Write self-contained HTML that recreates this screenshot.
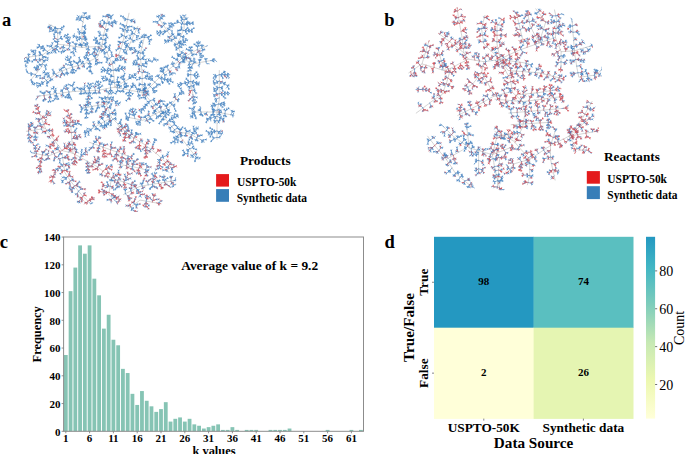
<!DOCTYPE html>
<html><head><meta charset="utf-8"><style>
*{margin:0;padding:0}
html,body{width:685px;height:454px;overflow:hidden;background:#fff}
svg{display:block}
text{font-family:"Liberation Serif",serif;font-weight:bold;fill:#000}
.tk{font-size:11px}
.pl{font-size:18.5px}
.av{font-size:13.3px}
.ax{font-size:12.4px}
.ann{font-size:11px}
.dl{font-size:13.3px}
.dx{font-size:15.2px}
.cbt{font-size:14px;font-weight:normal}
.lt{font-size:13.3px}
.li{font-size:12.6px}
</style></head>
<body><svg width="685" height="454" viewBox="0 0 685 454">
<defs><filter id="bl" x="0" y="0" width="1" height="1"><feGaussianBlur stdDeviation="0.45"/></filter></defs><g fill="none" stroke-linecap="round" filter="url(#bl)">
<path d="M115.0 87.1l-0.2-2.1-0.2-2.1-0.3-2.1-0.2-2.1-0.2-2.1-0.2-2.1-0.2-2.1-0.3-2.1-0.2-2.1-0.2-2.1-0.8-1.9-0.8-2.0-0.9-1.9-0.8-1.9-0.8-1.9-0.9-2.0-0.8-1.9-0.8-1.9-1.5-1.5-1.4-1.4-1.5-1.5 0.4-2.2 0.3-2.2 0.4-2.2 0.4-2.2 0.3-2.2 0.4-2.2 0.5-1.9 0.6-2.0 0.6-1.9 0.5-1.9 0.6-2.0 0.5-1.9 0.6-2.0 0.5-1.9M101.8 46.3l-2.2 0.1-2.2 0.1-2.2 0.2-2.2 0.1-2.3 0.1-2.2 0.1-2.2 0.2-2.2 0.1-2.2 0.1-2.0-0.3-2.0-0.2-2.0-0.3-2.1-0.3-2.0-0.3-2.0-0.2-2.0-0.3-2.0-0.3-2.0-0.3-2.1-0.3-2.0-0.2-2.0-0.3-1.7 1.2-1.7 1.2-1.7 1.3-1.7 1.2-1.8 1.2-1.7 1.2-1.7 1.3-1.7 1.2-1.7 1.2-2.2 0.3-2.2 0.3-2.2 0.3-2.3 0.4-2.2 0.3-2.2 0.3-2.2 0.3M81.9 47.4l0.0-2.1 0.0-2.1 0.0-2.0 0.0-2.1 0.0-2.1 0.0-2.1 0.0-2.0 0.0-2.1 0.0-2.1 0.4-2.2 0.3-2.2 0.4-2.2 0.4-2.3 0.3-2.2 0.4-2.2M57.7 44.1l0.0-2.2 0.0-2.2 0.0-2.2 0.0-2.2 0.0-2.2 0.0-2.2 0.0-2.2-2.2-1.1-2.2-1.1-2.2-1.1-2.2-1.1M42.3 55.1l0.0 2.2 0.0 2.2 0.0 2.2 0.0 2.2 0.0 2.2-1.4 1.7-1.4 1.6-1.4 1.7-1.3 1.7-1.4 1.6-1.4 1.7-1.4 1.6-1.4 1.7M101.8 46.3l-0.9 2.2-0.9 2.2-0.8 2.2-0.9 2.2-0.9 2.2-1.9 0.9-1.9 1.0-1.9 0.9-1.9 1.0-1.9 0.9-1.9 1.0-1.9 0.9-1.9 0.6-2.0 0.5-1.9 0.5-1.9 0.6-1.9 0.5-2.0 0.6-1.9 0.6-1.9 0.5-2.2 0.9-2.2 0.9-2.2 0.9-2.2 0.9-2.2 0.9-1.9 1.3-1.9 1.2-1.9 1.3-1.8 1.2-1.9 1.3-1.9 1.2-1.9 1.3M115.0 87.1l-2.2 0.4-2.2 0.4-2.2 0.4-2.2 0.5-2.2 0.4-2.2 0.4-2.2 0.4-2.2 0.4-2.0 0.1-2.0 0.1-2.1 0.1-2.0 0.1-2.0 0.1-2.1 0.1-2.0 0.0-2.0 0.1-2.0 0.1-2.1 0.1-2.0 0.1-2.0 0.1-2.1 0.3-2.0 0.2-2.1 0.3-2.1 0.3-2.0 0.3-2.1 0.3-2.1 0.2-2.1 0.3-2.0 0.3-2.1 0.2-2.1 0.3-2.0 0.3-2.1 0.3-2.1 0.3-2.0 0.2-2.1 0.3M115.0 87.1l1.9-1.1 1.8-1.1 1.9-1.1 1.8-1.1 1.9-1.1 1.8-1.1 1.9-1.1M115.0 87.1l2.1 0.4 2.1 0.5 2.0 0.4 2.1 0.4 2.1 0.5 2.0 0.4 2.1 0.5 2.1 0.4 2.0 0.3 2.0 0.4 2.0 0.3 1.9 0.3 2.0 0.4 2.0 0.3 1.8-1.5 1.7-1.5 1.8-1.5 1.5-1.5 1.5-1.4 1.4-1.5 1.5-1.5 1.5-1.4 1.5-1.5 1.4-1.5 1.5-1.4 1.5-1.5 1.6-1.3 1.5-1.2 1.6-1.3 1.6-1.2 1.6-1.3 1.5-1.2 1.6-1.3 1.8-1.5 1.7-1.6 1.8-1.5 1.7-1.6 1.8-1.5-0.6-2.0-0.7-2.1-0.6-2.0-0.6-2.1-0.6-2.0-0.7-2.1-0.6-2.0-1.3-1.6-1.2-1.6-1.3-1.6-1.2-1.5-1.3-1.6-1.2-1.6-1.3-1.6-1.3-1.9-1.2-1.9-1.3-1.9-1.2-1.8-1.3-1.9-1.2-1.9-1.3-1.9M177.5 44.1l0.8-1.9 0.9-2.0 0.8-1.9 0.8-1.9 0.8-2.0 0.8-1.9 0.9-2.0 0.8-1.9 0.0-2.2 0.0-2.2 0.0-2.2 0.0-2.2 0.0-2.2M181.9 58.4l1.9-1.1 1.9-1.1 1.9-1.1 1.8-1.1 1.9-1.1 1.9-1.1 1.9-1.1 2.2-0.9 2.2-0.9 2.2-0.8 2.2-0.9 2.2-0.9M181.9 58.4l1.8 0.9 1.9 0.9 1.8 0.9 1.8 1.0 1.9 0.9 1.8 0.9 2.2-0.4 2.2-0.4 2.2-0.4 2.2-0.5 2.2-0.4 2.2-0.4 2.2-0.4 2.2-0.4M190.7 70.0l0.0 2.3 0.0 2.3 0.0 2.2 0.0 2.3 0.0 2.3 0.0 2.3 0.4 2.2 0.5 2.2 0.4 2.2 0.5 2.2 0.4 2.2M142.2 94.7l0.0-2.0 0.0-2.0 0.0-2.0 0.0-2.0 0.0-2.0 0.0-2.0 0.0-2.0 0.0-2.0 0.0-2.0 0.0-2.0 0.0-2.0-0.3-2.2-0.3-2.2-0.2-2.2-0.3-2.2-0.3-2.2-0.2-2.2-0.3-2.2-0.3-2.2 0.5-2.0 0.5-1.9 0.5-2.0 0.5-2.0 0.4-1.9 0.5-2.0 0.5-2.0 0.5-1.9 0.5-2.0M129.0 13.2l-0.4 2.1-0.5 2.0-0.4 2.1-0.5 2.0-0.4 2.1-0.4 2.1-0.5 2.0-0.4 2.1-0.5 2.0-0.4 2.1-0.4 2.1-0.5 2.0-0.4 2.1-0.5 2.0-0.4 2.1-0.7 2.2-0.8 2.2-0.7 2.2-0.7 2.2-0.8 2.2-0.7 2.2M137.8 26.4l-0.8 1.9-0.9 1.8-0.8 1.9-0.9 1.9-0.8 1.8-0.9 1.9-0.8 1.9-0.9 1.9-0.8 1.8-0.9 1.9-0.8 1.9-0.9 1.8-0.8 1.9M219.3 70.5l0.0 2.1 0.0 2.1 0.0 2.1 0.0 2.1 0.0 2.1 0.0 2.1 0.0 2.1 0.0 2.2 0.0 2.1 0.0 2.1 0.0 2.1 0.0 2.1 0.0 2.1 0.0 2.1-0.4 2.0-0.4 2.0-0.3 2.0-0.4 2.0-0.4 2.0-0.4 2.0 0.0 2.1 0.0 2.1 0.0 2.1 0.0 2.2 0.0 2.1 0.0 2.1 0.0 2.1 0.0 2.1 0.0 2.1 0.0 2.2 0.0 2.1 0.0 2.1 0.0 2.1M217.0 112.0l-2.0 0.0-2.0 0.0-2.0 0.0-2.0 0.0-2.0 0.0-2.0 0.0-2.0 0.0-2.0 0.0-2.0 0.0-2.0 0.0-2.0 0.0M217.0 112.0l2.0 0.4 2.0 0.4 2.0 0.4 1.9 0.4 2.0 0.4 2.0 0.4 2.0 0.4M143.5 92.6l1.3 1.6 1.3 1.6 1.3 1.6 1.4 1.7 1.3 1.6 1.3 1.6 1.3 1.6 1.3 1.6 1.4 1.7 1.3 1.6 1.3 1.6 1.3 1.6 1.4 1.6 1.4 1.6 1.3 1.6 1.4 1.6 1.4 1.6 1.4 1.7 1.3 1.6 1.4 1.6 1.4 1.6 1.4 1.6 1.3 1.6 1.4 1.6 1.4 1.7 1.4 1.7 1.3 1.7 1.4 1.8 1.4 1.7 1.4 1.7 1.3 1.7 1.4 1.7 1.4 1.8 1.4 1.9 1.3 1.8 1.4 1.8 1.4 1.9 1.4 1.8M159.3 112.0l-1.8 0.9-1.9 0.9-1.8 1.0-1.8 0.9-1.9 0.9-1.8 0.9-1.8 1.0-1.9 0.9-1.8 0.9-2.0-0.4-1.9-0.4-2.0-0.4-2.0-0.4-2.0-0.4-1.9-0.4-2.0-0.4M175.8 131.3l2.0 0.4 1.9 0.4 2.0 0.4 2.0 0.3 2.0 0.4 1.9 0.4 2.0 0.4 1.8 0.9 1.9 0.9 1.8 1.0 1.8 0.9 1.9 0.9 1.8 0.9M159.3 112.0l1.8-0.9 1.9-0.9 1.8-1.0 1.8-0.9 1.9-0.9 1.8-0.9 1.4-1.8 1.4-1.9 1.3-1.8 1.4-1.8 1.4-1.9 1.4-1.8M108.8 92.8l-0.6 2.2-0.5 2.2-0.6 2.2-0.5 2.2-0.6 2.2 0.8 2.0 0.8 1.9 0.8 2.0 0.7 1.9 0.8 2.0 0.8 1.9 0.8 2.0 1.6 1.6 1.5 1.5 1.6 1.6 1.6 1.6 1.6 1.6 1.5 1.5 1.6 1.6 1.8 1.8 1.9 1.9 1.8 1.8M106.0 103.8l-2.0 0.4-2.0 0.3-2.0 0.4-2.0 0.4-2.0 0.4-2.0 0.3-2.0 0.4-2.0 0.4-2.0 0.4-2.0 0.3-2.0 0.4M111.5 117.5l-1.7 1.0-1.8 1.0-1.7 1.0-1.8 1.0-1.7 1.0-1.8 1.0-1.7 1.0-1.8 1.0-1.7 1.0-1.8 1.0-1.7 1.0M26.3 131.3l2.1-0.3 2.2-0.3 2.1-0.3 2.1-0.3 2.2-0.4 2.1-0.3 2.1-0.3 2.2-0.3 2.1-0.3 1.3 1.7 1.2 1.7 1.3 1.7 1.3 1.7 1.2 1.7 1.3 1.7 1.3 1.6 1.3 1.7 1.2 1.7 1.3 1.7 1.3 1.7 1.2 1.7 1.3 1.7 2.2 0.6 2.2 0.5 2.2 0.6 2.2 0.5 2.2 0.6 1.8 1.0 1.7 1.0 1.8 0.9 1.8 1.0 1.8 1.0 1.7 1.0 1.8 1.0 1.8 0.9 1.7 1.0 1.8 1.0 1.8 1.0 1.8 0.9 1.7 1.0 1.8 1.0 1.7 1.4 1.7 1.4 1.7 1.3 1.8 1.4 1.7 1.4 1.7 1.3 1.7 1.4 1.7 1.4 2.1 0.7 2.0 0.7 2.1 0.7 2.1 0.7 2.0 0.6 2.1 0.7 2.0 0.7 2.1 0.7M62.0 150.5l-2.0 0.8-1.9 0.8-2.0 0.8-1.9 0.7-2.0 0.8-1.9 0.8-2.0 0.8-2.0-0.4-1.9-0.4-2.0-0.4-2.0-0.3-2.0-0.4-1.9-0.4-2.0-0.4M62.0 153.3l0.3 2.1 0.3 2.2 0.3 2.1 0.3 2.1 0.4 2.2 0.3 2.1 0.3 2.1 0.3 2.2 0.3 2.1 1.4 2.1 1.3 2.1 1.4 2.0 1.4 2.1 1.4 1.7 1.3 1.7 1.4 1.7 1.4 1.8 1.4 1.7 1.3 1.7 1.4 1.7 1.4 1.7 1.6 1.7 1.7 1.6 1.6 1.7 1.7 1.6 1.6 1.7M45.5 128.5l-0.8-2.0-0.8-1.9-0.8-2.0-0.7-1.9-0.8-2.0-0.8-1.9-0.8-2.0M73.0 153.3l-0.2-2.1-0.1-2.0-0.2-2.1-0.2-2.0-0.1-2.1-0.2-2.1-0.2-2.0-0.1-2.1-0.2-2.1-0.2-2.0-0.2-2.1-0.1-2.0-0.2-2.1-0.2-2.1-0.1-2.0-0.2-2.1M89.5 142.3l1.9 0.7 1.9 0.7 2.0 0.7 1.9 0.6 1.9 0.7 1.9 0.7 2.0 0.7 1.9 0.7 1.9 0.7 2.0 0.7 1.9 0.6 1.9 0.7 1.9 0.7 2.0 0.7 1.9 0.7 1.9 0.7 1.9 0.6 2.0 0.7 1.9 0.7 1.9 0.7M111.5 178.0l-0.3 2.1-0.4 2.0-0.3 2.1-0.3 2.0-0.4 2.1-0.3 2.1-0.4 2.0-0.3 2.1 1.8 1.8 1.9 1.9 1.8 1.8M118.0 125.8l1.7 1.4 1.8 1.4 1.7 1.3 1.7 1.4 1.7 1.4 1.8 1.4 1.7 1.3 1.7 1.4 2.0 1.2 1.9 1.1 2.0 1.2 1.9 1.2 2.0 1.2 1.9 1.1 2.0 1.2 1.7 1.4 1.7 1.4 1.8 1.3 1.7 1.4 1.7 1.4 1.8 1.3 1.7 1.4 1.7 1.4 1.6 1.6 1.5 1.5 1.6 1.6 1.6 1.6 1.6 1.6 1.5 1.5 1.6 1.6M118.0 164.3l2.1 0.3 2.0 0.4 2.1 0.3 2.0 0.4 2.1 0.3 2.1 0.3 2.0 0.4 2.1 0.3 2.2 0.6 2.2 0.5 2.2 0.6 2.2 0.5 2.2 0.6M123.5 194.6l1.8-0.9 1.9-0.9 1.8-1.0 1.8-0.9 1.9-0.9 1.8-0.9 1.8-1.0 1.9-0.9 1.8-0.9 2.1-0.3 2.0-0.4 2.1-0.3 2.0-0.4 2.1-0.3 2.1-0.3 2.0-0.4 2.1-0.3 2.1-0.4 2.0-0.3 2.1-0.3 2.1-0.4 2.0-0.4 2.1-0.3 2.0-0.3 2.1-0.4M129.0 208.4l1.8-1.4 1.9-1.4 1.8-1.4 1.8-1.3 1.9-1.4 1.8-1.4 2.1 0.3 2.0 0.4 2.1 0.4 2.0 0.3 2.1 0.3 2.1 0.4 2.0 0.4 2.1 0.3" stroke="#a8a8a8" stroke-width="0.5" stroke-opacity="1"/>
<path d="M114.6 82.9l-1.4-0.6-1.4-0.6-1.3-0.6-1.4-0.7-1.4-0.6-1.4-0.6-1.4-0.5-1.4-0.5M114.6 82.9l1.3-0.7 1.3-0.8M113.9 76.6l-1.5-0.3-1.5-0.2M113.2 70.3l-1.5 0.1-1.5 0.0-1.5 0.0-1.5-0.1-1.5 0.0-1.5 0.0-1.5 0.1M113.2 70.3l1.5-0.3 1.5-0.3 1.4-0.3 1.5-0.3 1.5-0.2 1.5-0.2 1.5-0.2M112.0 64.2l0.9-1.2 1.0-1.1 1.1-1.1M109.5 58.4l-1.4 0.4-1.5 0.5M109.5 58.4l1.2-0.9 1.1-1.0M107.0 52.6l0.9-1.2 1.0-1.1 1.0-1.1M107.0 52.6l-1.5 0.2-1.4 0.3M104.7 49.2l-1.3 0.6-1.4 0.7M104.7 49.2l0.7-1.3 0.8-1.3M101.8 46.3l-1.1-1.1-1.0-1.1-1.0-1.0-1.1-1.0-1.1-1.1-1.1-1.0M102.2 44.1l1.5 0.2 1.4 0.2M102.9 39.7l1.5 0.0 1.5 0.0M102.9 39.7l-1.4-0.6-1.4-0.5M103.6 35.3l-1.5-0.1-1.5-0.2M103.6 35.3l1.5-0.2 1.5 0.0M105.1 29.2l1.4 0.4 1.5 0.3M103.0 27.1l-1.1-1.1M100.7 25.1l-1.1-0.9M106.8 23.4l-1.5-0.4-1.4-0.4M106.8 23.4l1.4-0.1 1.5-0.1 1.5-0.1 1.5-0.2 1.5-0.4 1.4-0.3 1.5-0.4M108.4 17.6l1.5-0.2 1.5-0.1M108.4 17.6l0.4-1.5 0.3-1.4M95.2 46.7l-0.3 1.4-0.3 1.5-0.1 1.5-0.3 1.5-0.3 1.5M88.5 47.0l-0.3 1.5-0.2 1.5-0.3 1.5-0.3 1.4-0.3 1.5-0.3 1.4-0.4 1.5M88.5 47.0l-0.5-1.4-0.6-1.3-0.5-1.4-0.7-1.4-0.6-1.4-0.5-1.4-0.4-1.4-0.4-1.5-0.3-1.4M81.9 47.4l-0.6-1.4-0.8-1.2M75.9 46.6l-0.8 1.3-0.8 1.3-0.7 1.3-0.7 1.3M75.9 46.6l-0.2-1.5-0.3-1.5M69.8 45.8l-0.3-1.5-0.4-1.5-0.5-1.4-0.5-1.4-0.4-1.4-0.4-1.5-0.4-1.4M69.8 45.8l-0.5 1.4-0.6 1.3M63.8 44.9l-0.4 1.5-0.3 1.5-0.3 1.4-0.3 1.5M57.7 44.1l-0.3-1.5-0.6-1.4M57.7 44.1l-0.6 1.4-0.5 1.4-0.4 1.4-0.4 1.5-0.5 1.4M52.6 47.8l0.6 1.3 0.6 1.4M52.6 47.8l-1.2-1.0-1.1-1.0M47.4 51.4l-1.2-0.8-1.3-0.7-1.3-0.8-1.3-0.8-1.2-0.9-1.2-0.8M47.4 51.4l0.7 1.4 0.8 1.2M42.3 55.1l0.8 1.3 0.8 1.2M42.3 55.1l-1.4-0.6-1.3-0.7M35.7 56.0l-0.8-1.3-0.8-1.2-0.8-1.3-0.8-1.3-0.8-1.2M35.7 56.0l-0.2 1.5-0.1 1.5-0.1 1.5M29.0 57.0l-0.5 1.4-0.6 1.4-0.8 1.3-0.6 1.3-0.6 1.4-0.6 1.4M29.0 57.0l-0.4-1.5-0.5-1.4M26.8 57.3l-1.5 0.3M81.9 45.3l1.5 0.0 1.5-0.1M81.9 45.3l-1.4-0.6-1.3-0.6M81.9 39.1l-1.4-0.6-1.4-0.5-1.4-0.5-1.4-0.4-1.5-0.5M81.9 39.1l1.5-0.3 1.5-0.3M81.9 32.9l1.5-0.3 1.5-0.2M81.9 32.9l-1.5-0.2-1.5-0.1M82.3 26.5l1.5 0.1 1.4 0.2M83.0 22.1l-1.1-1.1-1.1-0.9-1.1-1.1-1.0-1.1M83.7 17.6l-1.4-0.4-1.4-0.5M83.7 17.6l1.5-0.1 1.5-0.2 1.5-0.1M84.1 15.4l0.4-1.5 0.3-1.4M57.7 39.7l1.3-0.7 1.4-0.6M57.7 39.7l-1.3-0.7M57.7 33.1l-1.3-0.8-1.2-0.8-1.3-0.8-1.3-0.8-1.3-0.8-1.2-0.8-1.3-0.8M57.7 33.1l1.5-0.2 1.5-0.2M57.7 28.7l1.5-0.1 1.5 0.0M57.7 28.7l-1.5-0.3-1.4-0.4M51.1 25.4l-1.2 0.8-1.2 1.0M42.3 59.5l1.2 0.9 1.2 0.9M42.3 59.5l-1.5 0.1-1.5 0.2M42.3 63.9l-1.3 0.8-1.3 0.7-1.2 0.9-1.3 0.8-1.2 0.9M42.3 63.9l1.3 0.7 1.3 0.7M39.5 69.4l-1.5-0.1-1.5-0.1M35.4 74.4l-1.5-0.2-1.5-0.2-1.5-0.2-1.4-0.4-1.5-0.3M35.4 74.4l0.9 1.2 0.9 1.2M31.2 79.4l0.5 1.4 0.4 1.5 0.5 1.4M31.2 79.4l-1.0 1.1M100.9 48.5l-1.4-0.4M102.1 49.5l1.1 0.9M98.3 55.1l-1.5-0.4M95.5 58.2l-0.7-1.3-0.7-1.3M95.5 58.2l0.6 1.4 0.6 1.4 0.8 1.3 0.7 1.3M89.8 61.1l0.0 1.5 0.1 1.5 0.1 1.5 0.1 1.5 0.1 1.5 0.0 1.5 0.1 1.5M89.8 61.1l-1.2-1.0-1.2-0.8M84.1 63.9l-1.2-0.9-1.3-0.8-1.2-0.8-1.3-0.8M84.1 63.9l-0.2 1.5-0.2 1.5M78.3 65.5l0.1 1.5 0.0 1.5M78.3 65.5l-0.6-1.3-0.6-1.4M72.5 67.2l-0.6-1.3-0.7-1.4-0.6-1.3-0.7-1.4-0.7-1.3-0.7-1.3-0.8-1.3M72.5 67.2l0.2 1.5 0.1 1.5 0.3 1.5 0.3 1.4M66.5 69.2l0.3 1.5 0.2 1.5 0.2 1.4 0.3 1.5M66.5 69.2l-1.1-1.0-1.2-0.9M62.1 71.0l-1.1-1.1-1.1-1.0M62.1 71.0l0.2 1.5 0.1 1.5M55.8 74.1l0.8 1.2 0.7 1.4M55.8 74.1l-1.3-0.7-1.3-0.8M50.2 77.8l-1.2-1.0-1.0-1.0-1.1-1.1-1.0-1.1-1.1-1.0M50.2 77.8l0.7 1.3 0.8 1.3M46.4 80.3l0.8 1.3 0.8 1.3M46.4 80.3l-1.1-1.0-1.0-1.1M44.5 81.6l-1.2 0.8-1.3 0.9-1.2 0.9-1.2 0.9-1.3 0.8M110.6 87.9l-0.2-1.5-0.1-1.5M110.6 87.9l0.0 1.5 0.0 1.5 0.0 1.5M106.2 88.8l-0.1 1.4-0.2 1.5M99.6 90.0l-0.2-1.5-0.3-1.5-0.4-1.4-0.4-1.5-0.4-1.4-0.5-1.4M99.6 90.0l-0.4 1.4-0.5 1.4M95.4 90.5l-0.1 1.5 0.0 1.5M95.4 90.5l-0.4-1.5-0.2-1.5M89.3 90.8l0.0-1.5-0.1-1.5 0.1-1.5 0.1-1.5M89.3 90.8l0.0 1.5-0.1 1.5-0.3 1.4-0.3 1.5M88.4 98.2l-0.2 1.5-0.2 1.5-0.1 1.5-0.3 1.4M85.2 91.0l0.0 1.4-0.1 1.5M85.2 91.0l-0.8-1.3-1.0-1.1M81.2 91.1l-0.3-1.4-0.3-1.5M81.2 91.1l-0.3 1.5-0.4 1.4M75.1 91.4l-0.6-1.3-0.8-1.4-0.7-1.3-0.6-1.3M69.0 92.0l-0.7-1.3-0.8-1.3-0.7-1.3-0.7-1.3M69.0 92.0l-0.2 1.5-0.2 1.5-0.1 1.5-0.1 1.5M62.8 92.9l-0.2 1.5-0.2 1.4-0.4 1.5M62.8 92.9l-0.5-1.4-0.4-1.5M56.5 93.7l-0.7-1.3-0.8-1.2-0.9-1.3-0.8-1.2M56.5 93.7l-0.2 1.5-0.3 1.5-0.2 1.4M50.3 94.5l-0.2 1.5-0.1 1.5-0.2 1.5-0.2 1.5M50.3 94.5l-0.6-1.3-0.5-1.4M44.1 95.4l-0.2-1.5-0.2-1.5M44.3 96.8l0.3 1.5M40.0 95.9l-1.5 0.2-1.5 0.1M118.7 84.9l-0.2-1.5-0.1-1.5M118.7 84.9l1.0 1.1 1.0 1.2M124.3 81.6l0.7 1.3 0.7 1.3 0.7 1.4 0.7 1.3M124.3 81.6l-0.4-1.5-0.3-1.4-0.4-1.5-0.3-1.4M128.0 79.4l1.2-0.8 1.3-0.8 1.3-0.8 1.3-0.8 1.2-0.9 1.2-0.9M117.1 87.5l0.3 1.5 0.3 1.5M117.1 87.5l0.5-1.4 0.4-1.4M123.3 88.8l1.0-1.1 0.9-1.1M123.3 88.8l-0.4 1.5-0.3 1.5M129.5 90.2l-0.1 1.5-0.1 1.5 0.0 1.5-0.1 1.4-0.2 1.5M129.5 90.2l0.9-1.3 0.9-1.2 0.8-1.2 0.9-1.2 0.8-1.3M137.6 91.6l0.3-1.5 0.4-1.4M137.6 91.6l0.4 1.4 0.5 1.4M143.5 92.6l0.4 1.4 0.4 1.5M143.5 92.6l0.4-1.4 0.4-1.5 0.5-1.4 0.3-1.5M143.5 92.6l1.5 0.1 1.5 0.1M145.3 91.1l-0.5-1.4-0.4-1.5M145.3 91.1l1.4 0.5 1.4 0.5M150.3 86.6l1.2 1.0 1.1 0.9 1.1 1.1 1.0 1.1M150.3 86.6l-0.8-1.3-0.8-1.2M154.7 82.2l-1.1-1.0-1.1-1.0-1.1-1.0-1.2-0.9-1.2-0.9-1.2-0.9-1.2-0.9M154.7 82.2l1.2 1.0 1.1 1.0M159.1 77.8l1.5 0.4 1.5 0.4 1.4 0.3 1.5 0.4 1.4 0.3 1.5 0.3 1.5 0.2M159.1 77.8l-0.7-1.3-0.6-1.3M163.7 73.6l-0.6-1.3-0.6-1.4-0.6-1.4-0.7-1.3M163.7 73.6l1.1 1.0 1.1 1.0M168.4 69.9l1.0 1.1 0.9 1.2 1.0 1.1 0.9 1.2M168.4 69.9l-0.7-1.4-0.6-1.3-0.6-1.4M173.1 66.1l-0.2-1.5-0.2-1.5-0.1-1.5M173.1 66.1l1.3 0.8 1.2 0.9M178.4 61.5l-0.9-1.3-0.7-1.3M181.9 58.4l-1.0-1.2-0.9-1.1M181.9 58.4l1.0 1.1 1.1 1.1M181.9 58.4l1.2-0.9 1.2-1.0M180.6 54.3l-1.4 0.3-1.5 0.2M180.6 54.3l1.1-1.1 1.0-1.0M178.8 48.2l1.0-1.1 1.0-1.1 1.0-1.1 0.9-1.2 1.0-1.2 1.0-1.1 1.0-1.1M178.8 48.2l-1.5 0.0-1.5 0.0M177.5 44.1l-1.5 0.3-1.4 0.3M177.5 44.1l1.2-0.9 1.2-0.9M173.7 39.3l0.9-1.1 1.0-1.2 1.0-1.1 1.1-1.0 1.1-1.0M173.7 39.3l-1.4 0.4-1.5 0.4-1.4 0.3-1.5 0.3-1.5 0.4-1.4 0.3M171.2 36.2l-1.3 0.7-1.3 0.7M171.2 36.2l0.9-1.2 1.0-1.2M167.4 31.1l0.8-1.3 0.8-1.3 0.8-1.2 0.7-1.3 0.8-1.3M167.4 31.1l-1.4 0.2-1.5 0.3-1.5 0.2-1.5 0.3-1.5 0.1-1.5 0.2M163.7 25.5l-1.3 0.8-1.2 0.9M163.7 25.5l0.8-1.3 0.6-1.4M159.9 19.8l1.0-1.1 0.9-1.2 0.9-1.2 0.9-1.2M159.9 19.8l-1.2 1.0-1.1 0.9M159.9 19.8l-0.7-1.3-0.7-1.4M178.3 42.2l1.5 0.1 1.5 0.1M180.8 36.4l-1.0-1.2-0.9-1.2M180.8 36.4l1.4 0.3 1.5 0.4M183.3 30.5l1.5 0.0 1.5 0.1 1.5 0.0 1.5 0.0 1.5 0.2 1.4 0.2M183.3 30.5l-1.4-0.6-1.4-0.6M184.1 24.2l-1.4-0.5-1.4-0.5-1.4-0.5-1.5-0.5-1.4-0.5M184.1 24.2l1.5-0.2 1.5-0.2 1.5-0.2 1.5-0.1 1.4-0.3M184.1 19.8l1.4-0.6 1.3-0.7M184.1 19.8l-1.4-0.4-1.5-0.5M184.1 17.6l0.0-1.5M185.7 56.2l0.8 1.3 0.7 1.3M185.7 56.2l-0.3-1.5-0.4-1.4M191.3 52.9l-0.3-1.5-0.2-1.4-0.2-1.5 0.0-1.5M191.3 52.9l0.9 1.2 0.8 1.3M197.3 49.8l0.9 1.2 0.9 1.2 0.9 1.2 1.0 1.2 0.9 1.1M197.3 49.8l0.2-1.5 0.1-1.5 0.2-1.4 0.2-1.5 0.3-1.5 0.2-1.5M201.7 48.1l0.2-1.5 0.1-1.5M201.7 48.1l0.9 1.1 0.9 1.3M206.1 46.3l1.4-0.6M183.7 59.3l1.1-1.0 1.2-1.0M183.7 59.3l-0.1 1.5-0.2 1.5M189.2 62.1l0.1 1.5 0.1 1.5 0.1 1.5 0.2 1.4 0.2 1.5M189.2 62.1l1.2-1.0 1.3-0.8M192.9 63.9l1.0-1.1 1.0-1.1M192.9 63.9l-0.6 1.4-0.6 1.4M199.5 62.7l0.4 1.4M199.5 62.7l0.1-1.5 0.1-1.5M206.1 61.4l-0.2-1.5-0.3-1.4M206.1 61.4l0.2 1.5M210.5 60.6l1.5-0.1 1.5-0.2 1.5-0.2M190.7 74.6l-1.5 0.1-1.5 0.1M190.7 74.6l1.5 0.2 1.5 0.2 1.4 0.3 1.5 0.3 1.5 0.3 1.4 0.4M190.7 81.4l1.4 0.5 1.5 0.3 1.5 0.3 1.4 0.4 1.5 0.4 1.4 0.4M190.7 81.4l-1.5 0.3-1.4 0.4-1.4 0.5-1.5 0.4-1.4 0.4-1.5 0.4-1.4 0.4-1.5 0.4M191.1 85.9l-1.3 0.7-1.4 0.6M191.1 85.9l1.5 0.1 1.5 0.2M192.0 90.3l1.5-0.1 1.5-0.2M192.9 94.7l0.3 1.5 0.1 1.5 0.3 1.4 0.3 1.5 0.2 1.5 0.3 1.5M142.2 90.7l1.4-0.5 1.4-0.6M142.2 90.7l-1.5-0.2-1.5-0.3M142.2 84.7l-1.5-0.3-1.5-0.1M142.2 84.7l1.5 0.0 1.5 0.0M142.2 78.7l1.4-0.4 1.5-0.5M142.2 78.7l-1.5-0.2-1.5-0.3M142.2 72.7l-1.3-0.8-1.3-0.6M142.2 72.7l1.3-0.7 1.4-0.6M141.4 66.1l1.2-0.8 1.3-0.8 1.2-0.9 1.2-0.9 1.1-1.0 1.2-1.0M141.4 66.1l-1.4-0.6-1.4-0.6-1.3-0.7-1.3-0.7-1.3-0.7-1.3-0.8M140.6 59.5l-1.4-0.6-1.5-0.5M140.6 59.5l1.3-0.7 1.4-0.6M140.5 53.1l1.5-0.1 1.5 0.0M140.5 53.1l-1.4-0.6-1.4-0.6-1.4-0.5-1.3-0.6-1.4-0.7-1.3-0.6M142.0 47.2l-1.4-0.7-1.3-0.6M142.9 43.3l-1.2-0.9-1.3-0.8M144.4 37.4l-1.4-0.4-1.5-0.5M144.4 37.4l1.5-0.1 1.5-0.1 1.5-0.1M144.4 37.4l0.4-1.4 0.5-1.5M127.7 19.4l1.4 0.4 1.4 0.5 1.4 0.5 1.4 0.6 1.4 0.5M127.7 19.4l-1.5-0.2-1.5-0.2-1.5-0.4M126.4 25.6l-1.5 0.5-1.4 0.4M126.4 25.6l1.1 1.0 1.1 1.0M125.5 29.7l1.2 0.8 1.2 0.9M125.5 29.7l-1.5 0.2-1.5 0.3M124.2 35.9l-1.5-0.3-1.5-0.3M124.2 35.9l1.1 0.9 1.1 1.1M122.8 42.0l1.4 0.6 1.4 0.7 1.3 0.7M122.8 42.0l-1.4 0.4-1.4 0.4M120.9 48.5l-1.4-0.4-1.4-0.4M120.9 48.5l1.3 0.8 1.3 0.7M118.7 55.1l1.2 0.9 1.1 1.0 1.2 1.0 1.2 0.8 1.3 0.9M118.0 57.3l-0.5 1.4-0.5 1.4M137.0 28.3l1.3 0.7 1.2 0.8M137.0 28.3l-1.5 0.1-1.5 0.2M134.4 33.9l-1.4-0.5-1.4-0.5M134.4 33.9l1.2 0.9 1.2 0.9M131.9 39.5l1.1 1.0 1.1 1.0M131.9 39.5l-1.4-0.7-1.3-0.8M128.5 47.0l-1.5-0.4-1.4-0.3M128.5 47.0l1.2 0.8 1.2 1.0M126.8 50.7l-0.7 1.3-0.7 1.4M219.3 74.7l-1.4 0.6-1.4 0.6-1.3 0.6-1.5 0.5M219.3 74.7l1.5 0.0 1.5 0.0 1.5 0.1 1.5 0.1 1.5-0.1 1.5 0.1 1.5-0.2M219.3 81.0l1.3 0.7 1.3 0.8 1.4 0.6 1.3 0.7 1.3 0.8 1.3 0.8M219.3 81.0l-1.3 0.7-1.4 0.6-1.4 0.6-1.4 0.6M219.3 87.4l-1.4 0.4-1.5 0.4-1.4 0.5-1.4 0.5M219.3 87.4l1.5 0.2 1.5 0.2M219.3 93.7l1.5 0.0 1.5-0.1 1.5-0.1 1.5-0.1 1.5-0.1M219.3 93.7l-1.5 0.4-1.4 0.3-1.4 0.5-1.4 0.5M219.3 97.9l-1.4 0.5-1.4 0.7M218.5 104.0l1.5 0.1 1.5 0.2 1.5 0.1 1.5 0.1M218.5 104.0l-1.4 0.5-1.4 0.5-1.4 0.4-1.5 0.5-1.4 0.4M217.4 110.0l-1.5 0.4-1.4 0.4M217.4 110.0l1.0 1.1M217.0 116.2l1.3 0.7 1.4 0.7 1.3 0.7 1.3 0.7 1.4 0.6M217.0 116.2l-1.4 0.6-1.4 0.5-1.5 0.3-1.4 0.4-1.5 0.4-1.4 0.4-1.4 0.4M217.0 120.5l-1.4 0.5-1.4 0.6M217.0 120.5l1.3 0.6 1.4 0.8M217.0 131.0l-1.5 0.3-1.4 0.3-1.5 0.5-1.4 0.5-1.4 0.5-1.4 0.6M217.0 131.0l1.3 0.8 1.3 0.7 1.3 0.9M217.0 137.4l1.5 0.2 1.5 0.3M217.0 137.4l-1.5 0.3-1.4 0.3M213.0 112.0l0.0-1.5 0.1-1.5M213.0 112.0l0.1 1.5 0.0 1.5M207.0 112.0l-0.7 1.3-0.8 1.3M201.0 112.0l-0.8-1.3-0.7-1.3M201.0 112.0l0.0 1.5 0.0 1.5M195.0 112.0l-0.7 1.3-0.9 1.2-0.9 1.3-0.9 1.2-0.9 1.1M195.0 112.0l-0.7-1.3-0.7-1.3M195.0 112.0l-1.5 0.0-1.5 0.0M219.0 112.4l0.1 1.5 0.2 1.5M219.0 112.4l0.6-1.4 0.6-1.3M224.9 113.6l0.3-1.5 0.2-1.5M224.9 113.6l0.2 1.5 0.0 1.5M230.9 114.8l0.6-1.4 0.7-1.3 0.6-1.4M230.9 114.8l1.5 0.3 1.5 0.2M146.1 95.8l1.1-1.0 1.2-0.9M146.1 95.8l-0.8 1.3-0.9 1.2M150.1 100.7l-1.1 1.0-1.0 1.1-1.0 1.2-1.0 1.1-0.9 1.2-1.0 1.1-1.0 1.1-0.9 1.2-0.9 1.2M150.1 100.7l1.4-0.4 1.5-0.4M154.0 105.5l1.3-0.7 1.4-0.7 1.3-0.7 1.2-0.9 1.3-0.8M154.0 105.5l-1.1 1.0-1.2 0.9M156.7 108.8l-1.0 1.1-0.9 1.2M156.7 108.8l1.2-0.9 1.3-0.8M160.7 113.6l1.4-0.4 1.5-0.4 1.5-0.2 1.4-0.3 1.5-0.2M160.7 113.6l-0.6 1.4-0.6 1.4M163.4 116.8l-0.3 1.5-0.3 1.5M163.4 116.8l1.4-0.6 1.4-0.6M167.6 121.7l1.2-0.9 1.3-0.8 1.2-0.8 1.3-0.8 1.3-0.7 1.4-0.7 1.3-0.7 1.3-0.6M167.6 121.7l-0.5 1.4-0.4 1.4M171.7 126.5l-1.1 1.0-1.1 1.1M171.7 126.5l1.2-0.8 1.3-0.9M174.4 129.7l1.4-0.6 1.3-0.7M174.4 129.7l-0.5 1.4-0.6 1.4M178.6 134.7l-0.9 1.3-0.7 1.3-0.8 1.2-0.9 1.3-0.9 1.2M178.6 134.7l1.3-0.6 1.4-0.7M181.9 141.2l-0.6 1.3M186.8 145.0l1.4-0.6 1.3-0.6 1.4-0.7M189.6 148.7l1.4-0.4 1.4-0.5M189.6 148.7l-1.1 1.0-1.1 1.0M193.7 154.2l-1.0 1.1-0.9 1.1-1.0 1.2M193.7 154.2l1.4-0.5 1.4-0.6M195.1 156.0l1.0 1.2 0.9 1.1M155.6 113.8l0.7 1.4 0.7 1.3M155.6 113.8l-1.0-1.0-1.2-1.0M150.1 116.6l-1.1-1.0-1.1-1.0M150.1 116.6l0.2 1.5 0.3 1.5M146.5 118.5l0.4 1.4M146.5 118.5l-1.1-1.1-1.1-1.0M140.8 119.9l-0.1-1.5-0.2-1.5M140.8 119.9l-0.9 1.2-0.9 1.2-1.0 1.1-1.0 1.1M134.9 118.7l-0.3-1.5-0.4-1.4-0.4-1.4-0.5-1.5-0.6-1.4-0.4-1.4M129.0 117.5l0.4-1.5 0.4-1.4M129.0 117.5l-0.8 1.3-0.8 1.3M129.0 117.5l-1.5-0.3-1.4-0.4M179.7 132.1l0.4-1.5 0.5-1.4M180.2 133.5l0.5 1.4M185.7 133.2l0.0 1.5 0.0 1.5M185.7 133.2l0.6-1.3 0.8-1.3M191.4 134.9l1.0-1.1 1.0-1.2 0.9-1.1 1.0-1.2 0.9-1.2M191.4 134.9l-0.3 1.5M196.9 137.7l-0.2 1.4-0.3 1.5M196.9 137.7l0.8-1.3 0.8-1.3M200.6 139.5l1.2 0.8 1.2 1.0 1.2 0.9M161.1 111.1l-0.2-1.5-0.2-1.5M161.1 111.1l1.2 0.9 1.2 0.9M166.6 108.3l1.1 1.1 1.0 1.1M166.6 108.3l-0.1-1.5-0.1-1.5M171.7 104.7l-0.7-1.4-0.8-1.2M171.7 104.7l1.4 0.5 1.4 0.5M177.2 99.8l1.3 0.6M175.8 99.2l-0.6-1.4-0.6-1.4M178.6 95.5l0.9-1.2 1.0-1.1 1.1-1.1 1.1-0.9M107.7 97.2l-1.5 0.4-1.4 0.4-1.5 0.3-1.4 0.4M107.7 97.2l1.2 0.8 1.3 0.8 1.3 0.7 1.4 0.7 1.3 0.6 1.3 0.8 1.2 0.9 1.2 0.9M106.6 101.6l1.3 0.7 1.4 0.6M106.6 101.6l-1.5 0.5-1.4 0.5M103.2 113.8l-0.8 1.3-0.8 1.3M107.6 107.7l1.5-0.2 1.4-0.2M109.9 113.6l1.5-0.1 1.5 0.0 1.5 0.0 1.5 0.1M109.9 113.6l-1.0 1.1-1.1 1.0M113.1 119.1l-1.1 1.0-1.1 1.0-1.2 1.0-1.1 1.0-1.1 1.0-1.0 1.1-1.1 1.0-1.1 1.0M113.1 119.1l1.4-0.4 1.5-0.3M117.8 123.8l1.4-0.4 1.5-0.4M121.5 129.6l-1.1 1.1-1.0 1.1-1.0 1.1M123.8 127.7l1.3-0.7M126.2 132.2l1.0-1.1 1.1-1.0M124.5 139.5l-0.3 1.4M128.0 134.0l1.1 1.0 1.1 1.1M104.0 104.2l-0.3 1.4-0.4 1.5M104.0 104.2l-0.5-1.4-0.6-1.4M98.0 105.3l-0.3-1.5-0.4-1.4M98.0 105.3l0.0 1.5-0.1 1.5M92.0 106.4l-0.1 1.5-0.1 1.5-0.2 1.5-0.1 1.5M92.0 106.4l-1.0-1.1-0.9-1.2M86.0 107.5l-0.4-1.4M86.0 107.5l0.2 1.5 0.2 1.5 0.1 1.5 0.1 1.5-0.1 1.5-0.1 1.5M84.0 107.9l-1.5 0.3-1.4 0.4M109.8 118.5l-0.7-1.3-0.8-1.3M109.8 118.5l0.1 1.5M104.5 121.5l0.2 1.5 0.2 1.5M104.5 121.5l-0.9-1.2-1.0-1.1M101.0 123.5l-1.3-0.7-1.3-0.8M101.0 123.5l0.5 1.4 0.4 1.5M95.8 126.5l0.4 1.4 0.5 1.5M95.8 126.5l-1.3-0.8-1.3-0.8M92.3 128.5l-1.2 0.8-1.2 1.0-1.2 0.9-1.3 0.8-1.3 0.7-1.3 0.8M31.3 124.1l0.5-1.5M28.4 131.0l0.2 1.5 0.2 1.5 0.2 1.4 0.3 1.5 0.1 1.5 0.2 1.5M34.8 130.1l0.3 1.4 0.1 1.5 0.1 1.5 0.0 1.5 0.0 1.5 0.0 1.5 0.1 1.5M34.8 130.1l0.3-1.5 0.3-1.5M41.2 129.1l0.4-1.4M41.2 129.1l0.9 1.2 1.0 1.2M45.8 131.4l-1.0 1.1M46.8 130.2l1.5 0.0 1.5 0.2 1.4 0.2 1.5 0.2M50.6 135.3l-1.0 1.1-0.9 1.2M51.1 145.3l-0.9 1.3M54.4 140.3l1.4-0.5M58.2 145.4l-0.8 1.3-0.7 1.3M65.6 147.8l1.2-0.9M68.6 152.2l0.9-1.3 0.9-1.1M74.9 158.8l0.0 1.5M80.1 157.2l1.0-1.1 1.2-1.0 1.0-1.0 1.1-1.0 1.1-1.1M80.1 157.2l0.0 1.5-0.1 1.5M87.2 161.1l0.1 1.5 0.2 1.5 0.2 1.5M87.9 167.1l0.1 1.5M88.2 170.1l0.2 1.5 0.2 1.4M92.5 164.1l-0.5 1.4-0.5 1.4M97.0 168.3l-0.9 1.2M97.8 167.0l0.8-1.3 0.7-1.3M107.6 173.1l1.3-0.8M114.1 176.6l1.3-0.8 1.3-0.8M118.0 174.3l1.4-0.6M111.5 178.0l-0.2 1.5 0.0 1.5M117.7 180.1l0.1 1.5 0.0 1.5 0.1 1.5 0.0 1.5 0.1 1.5M117.7 180.1l1.1-1.1 1.0-1.1M123.9 182.1l0.7-1.3 0.7-1.3 0.7-1.3 0.7-1.4 0.8-1.3M128.0 183.5l1.4 0.5 1.5 0.4 1.4 0.4 1.5 0.3 1.5 0.2M59.0 150.2l-1.1-1.0M54.2 153.6l0.5 1.5M48.3 156.0l-0.8-1.3-0.9-1.2M48.3 156.0l-0.1 1.5 0.0 1.5M42.4 154.8l0.3-1.4 0.2-1.5M36.5 153.7l-0.4-1.5-0.2-1.5-0.4-1.4-0.2-1.5 0.0-1.5M34.5 153.3l-1.5-0.3-1.4-0.3M62.6 157.6l1.5 0.0M65.6 157.7l1.5 0.1M62.6 157.6l-1.4 0.6-1.3 0.6M63.6 164.0l-1.3 0.9-1.1 0.9-1.1 1.0M58.9 167.8l-1.2 0.9-1.2 0.9-1.2 0.8M66.4 164.8l1.5 0.4M66.0 170.5l1.5 0.2M63.1 170.9l-1.4 0.6M67.5 176.7l-1.1 0.9-1.1 1.0-1.1 1.0-1.2 1.0-1.1 1.0M70.3 180.8l1.4-0.6 1.4-0.6M69.6 182.1l-0.7 1.3M74.4 185.9l-0.9 1.2M72.7 188.4l-0.8 1.2-0.9 1.3M78.5 191.1l1.2-1.0 1.2-0.9M78.5 191.1l-0.7 1.3-0.6 1.3M82.9 196.2l-0.9 1.2-0.8 1.2-0.9 1.2-0.9 1.2-0.8 1.2M89.5 202.8l1.1 1.1M43.9 124.6l-1.5 0.1-1.5 0.1M43.9 116.8l1.1-1.0 1.1-1.0 1.2-0.9M41.6 118.7l-1.4 0.5-1.4 0.5M38.9 112.0l-0.5-1.4M72.7 149.2l1.4-0.5 1.4-0.6M72.3 145.1l-1.4-0.6-1.2-0.8M72.3 145.1l1.3-0.8M71.8 138.9l1.4-0.5 1.5-0.5 1.4-0.4M77.5 137.0l1.4-0.5M69.9 132.2l-1.5-0.4M71.3 132.7l1.5-0.4M70.8 126.5l1.4-0.6M73.5 125.2l1.3-0.7 1.4-0.7 1.3-0.6M70.8 126.5l-1.3-0.7-1.3-0.9-1.2-0.8-1.1-1.0-1.2-0.9M70.5 122.4l1.4-0.4M93.3 143.7l1.1-1.1 1.1-1.1 1.0-1.0 1.1-1.0 1.1-1.1M93.3 143.7l-0.1 1.5-0.3 1.4M99.1 145.7l-0.3 1.5-0.3 1.5-0.3 1.4-0.3 1.5M99.1 145.7l0.7-1.3 0.6-1.4M103.0 147.1l0.6-1.4 0.6-1.3M110.7 149.8l0.5-1.4 0.6-1.3M116.5 151.9l1.1-1.0 1.2-0.9M120.0 149.1l1.2-0.9M116.5 151.9l-0.1 1.5-0.1 1.5M116.2 156.4l-0.1 1.5 0.0 1.5M122.2 153.9l-0.1 1.5-0.1 1.5M122.0 158.4l-0.2 1.5M122.2 153.9l1.1-1.0 1.1-1.1M128.0 156.0l0.0 1.5-0.1 1.5M128.0 156.0l1.4 0.5 1.4 0.5M111.2 180.1l1.4 0.3 1.5 0.4M110.2 186.2l1.3 0.6 1.5 0.5M110.2 186.2l-1.5-0.2-1.5-0.2-1.5-0.2-1.5-0.2-1.5-0.1M116.6 197.5l1.2 0.8M112.5 198.2l1.3-0.6 1.4-0.7M112.5 198.2l-1.0 1.1M114.3 200.0l1.1 1.0 1.2 0.9M119.7 127.2l-0.9 1.1-1.0 1.2M121.0 126.4l1.3-0.7M124.9 131.3l1.4-0.5 1.4-0.7M124.9 131.3l-0.2 1.5-0.1 1.5M130.1 135.4l1.0-1.1 0.9-1.2M133.8 138.0l1.0-1.1 0.9-1.2 1.0-1.2 0.8-1.2M139.6 141.5l1.2-0.9 1.3-0.8M145.8 151.0l0.2 1.5M150.7 149.1l-0.9 1.3-0.7 1.3M150.7 149.1l1.2-0.8 1.2-0.9M160.9 157.6l-0.5 1.4-0.5 1.4-0.4 1.5-0.1 1.5-0.1 1.5 0.1 1.5 0.0 1.5M160.9 157.6l1.4-0.5 1.4-0.5 1.5-0.4 1.4-0.5M168.7 165.4l-0.6 1.4-0.7 1.3-0.6 1.4-0.6 1.4M169.8 164.4l1.2-1.0M170.3 167.0l1.1 1.0 1.2 0.9M120.1 164.6l0.4-1.4 0.4-1.4M120.1 164.6l0.3 1.5 0.4 1.4M126.2 165.7l0.8-1.4 0.7-1.3M132.4 166.7l0.4-1.5M133.3 163.8l0.5-1.4M132.4 166.7l-0.2 1.4-0.3 1.5M138.9 168.1l1.0-1.1M140.9 165.9l0.9-1.2 1.0-1.1 1.0-1.2M145.5 169.8l0.7-1.3 0.8-1.3M145.5 169.8l0.3 1.5 0.3 1.4 0.3 1.5M145.5 169.8l1.4 0.4 1.5 0.5M125.3 193.7l1.2 1.0 1.0 1.1 1.1 1.0 1.0 1.1 1.1 1.0M125.3 193.7l0.0-1.5 0.0-1.5M130.8 190.9l0.1-1.5 0.1-1.5M130.8 190.9l0.8 1.3M136.3 188.1l0.8 1.3 0.8 1.3 0.9 1.2 0.8 1.3 0.9 1.2M142.1 186.0l-0.2-1.5-0.1-1.5M142.1 186.0l0.7 1.3 0.7 1.3M148.2 184.9l-0.3-1.4-0.4-1.5M152.4 184.3l0.4-1.5M153.1 181.4l0.3-1.5 0.4-1.5 0.4-1.4 0.4-1.4M152.4 184.3l0.2 1.5 0.1 1.5M158.6 183.2l-0.1-1.4-0.1-1.5M164.8 182.2l-0.3-1.5-0.3-1.4-0.4-1.5-0.3-1.5M170.9 181.2l0.2-1.5 0.0-1.5-0.1-1.5M173.0 180.8l1.5-0.3 1.4-0.3M130.8 207.0l1.0 1.2 0.9 1.2 0.9 1.2 0.9 1.1M130.0 205.8l-0.8-1.3M134.5 204.2l-0.7-1.3-0.6-1.3M134.5 204.2l1.3 0.7 1.4 0.7M146.2 201.2l0.3-1.5 0.4-1.5M146.2 201.2l-0.1 1.4M158.0 203.2l1.5 0.2M39.5 169.5l-0.2 1.5-0.4 1.4-0.5 1.5M152.9 60.7l1.1-1.0 1.1-1.1M153.9 141.7l0.8-1.2 0.9-1.3M53.6 175.9l-0.5 1.4M148.3 39.1l1.1 0.9 1.1 1.0M186.9 153.7l-1.5 0.0-1.5 0.1" stroke="#4a80b8" stroke-width="0.8" stroke-opacity="0.8"/>
<path d="M113.2 82.3l-1.2 0.2M113.2 82.3l-0.5-1.1M110.5 81.1l-0.4-1.2-0.5-1.1M110.5 81.1l-1.1 0.5M107.7 79.8l-1.1 0.3-1.2 0.4-1.2 0.2-1.2 0.2M107.7 79.8l-0.6-1.0-0.7-1.0-0.8-0.9M103.5 78.2l-0.4-1.1M103.5 78.2l-1.0 0.5M117.2 81.4l1.1 0.4M117.2 81.4l0.1-1.2 0.2-1.1 0.3-1.2 0.2-1.2M112.4 76.3l-1.1 0.4M112.4 76.3l-0.8-0.8-1.0-0.7-1.0-0.6-1.1-0.6-1.1-0.5M111.7 70.4l-0.9-0.8-1.0-0.6-1.1-0.6M111.7 70.4l-0.8 0.8M108.7 70.4l-0.8 0.9M108.7 70.4l-1.0-0.5M105.7 70.3l-0.8-0.8-0.9-0.8-0.8-0.9M105.7 70.3l-1.0 0.7M102.7 70.4l-0.7 1.0-0.7 1.0M102.7 70.4l-0.8-0.8M114.7 70.0l1.1 0.4 1.2 0.2 1.2 0.2 1.2 0.2M114.7 70.0l0.5-1.1M117.6 69.4l0.6-1.1 0.5-1.1 0.6-1.0 0.6-1.0M117.6 69.4l1.0 0.7M120.6 68.9l1.0 0.6 1.0 0.7 1.0 0.6M120.6 68.9l0.8-0.9 0.7-0.9M123.6 68.5l0.7-0.9 0.8-1.0M123.6 68.5l1.1 0.5M112.9 63.0l0.3-1.2M112.9 63.0l1.2-0.1M115.0 60.8l1.1-0.2M115.0 60.8l0.4-1.1M110.5 64.4l-0.6 1.0M110.5 64.4l-0.9-0.9M108.1 58.8l-1.0-0.7-1.0-0.6-1.1-0.6M108.1 58.8l-0.6 1.1-0.4 1.1-0.4 1.1M111.8 56.5l0.0-1.2-0.1-1.2-0.2-1.2-0.1-1.2M111.8 56.5l1.2-0.2M108.9 50.3l0.2-1.2 0.2-1.2 0.3-1.1 0.3-1.2M108.9 50.3l1.2 0.1M105.5 52.8l-0.9-0.8M105.5 52.8l-0.7 1.0M102.0 50.5l-1.2-0.3M102.0 50.5l-0.1 1.2M105.4 47.9l1.0-0.6M105.4 47.9l-0.1-1.2M99.7 44.1l-0.1-1.2M99.7 44.1l-1.1-0.2-1.2-0.4-1.2-0.2M97.6 42.1l-1.2 0.0M97.6 42.1l-0.4-1.2-0.4-1.1-0.3-1.2-0.3-1.2M95.4 40.0l-0.1-1.2M95.4 40.0l-1.2 0.0M103.7 44.3l0.9-0.7 1.1-0.7M103.7 44.3l0.8 0.8M104.4 39.7l0.9-0.7 0.9-0.8 1.1-0.6M104.4 39.7l0.9 0.8M101.5 39.1l-0.3-1.1M101.5 39.1l-1.2 0.2M100.6 35.0l-1.0 0.6M100.6 35.0l-0.6-1.0-0.6-1.0-0.6-1.1M105.1 35.1l1.1 0.6M105.1 35.1l0.7-0.9M106.5 29.6l0.4 1.2M106.5 29.6l1.2-0.4M101.8 26.9l-1.2-0.1M103.0 27.1l-0.3-1.2M100.7 25.1l-0.3-1.1-0.2-1.2 0.0-1.2M105.3 23.0l-0.8-0.9-0.8-0.9-1.0-0.7M105.3 23.0l-1.0 0.6M108.2 23.3l0.9 0.8 1.0 0.7 1.0 0.6 1.1 0.6M108.2 23.3l0.7-1.0M111.2 23.1l0.9-0.8 1.0-0.7 1.0-0.7M111.2 23.1l1.0 0.7M114.2 22.5l1.0 0.6 1.1 0.6M114.2 22.5l0.8-0.8M109.9 17.4l0.9-0.7 1.0-0.7 1.0-0.7M109.9 17.4l0.9 0.9M107.4 16.5l-1.2 0.0-1.2-0.1-1.2 0.0-1.2-0.1M107.4 16.5l-0.2-1.2M108.8 16.1l-0.5-1.1M108.8 16.1l0.9-0.6M94.9 48.1l0.8 1.0 0.8 0.8 0.7 1.0M94.9 48.1l-1.0 0.7M94.5 51.1l-0.8 0.9-0.8 0.9-0.6 1.0M94.5 51.1l0.3 1.2M88.2 48.5l-1.1 0.5M88.2 48.5l0.7 1.0M87.7 51.5l0.8 0.9 0.7 1.0 0.6 1.0M87.7 51.5l-0.7 0.9-0.9 0.8M87.1 54.4l-0.9 0.7-0.9 0.9-0.8 0.8M87.1 54.4l0.6 1.1M86.4 57.3l0.8 0.9M86.4 57.3l-0.9 0.7-1.0 0.7M87.4 44.3l-1.2-0.3-1.1-0.5-1.1-0.5M87.4 44.3l0.5-1.1M85.6 40.1l0.6-1.0M85.6 40.1l-1.2-0.2M84.7 37.3l-1.1-0.5M84.7 37.3l0.4-1.1M84.0 34.4l0.7-1.1M84.0 34.4l-0.9-0.8M81.3 46.0l-0.9-0.8M81.3 46.0l0.4-1.1M75.1 47.9l0.2 1.2 0.2 1.1 0.2 1.2M75.1 47.9l-1.2 0.2-1.2 0.2M72.9 51.8l-1.1 0.4-1.2 0.4M72.9 51.8l0.4 1.1 0.5 1.1 0.5 1.1M75.7 45.1l-0.9-0.8-0.9-0.9-0.8-0.8-0.8-0.9M75.7 45.1l0.8-0.9M69.5 44.3l-1.0-0.7-1.0-0.6-0.8-0.9-0.8-0.9M69.5 44.3l0.4-1.2M68.6 41.4l0.4-1.1 0.4-1.1 0.6-1.1 0.6-1.0M68.6 41.4l-1.0-0.6M67.7 38.6l-1.1-0.6-1.0-0.6-1.0-0.7M67.7 38.6l0.6-1.1M66.9 35.7l0.7-1.0M66.9 35.7l-1.1-0.5M68.7 48.5l0.6 1.1M68.7 48.5l-1.0 0.7-1.0 0.6-1.0 0.7-1.1 0.5M63.4 46.4l0.6 1.0M63.4 46.4l-1.0 0.6-1.0 0.8M62.5 50.8l-0.8 0.9-0.7 1.0M62.5 50.8l0.8 0.9M57.4 42.6l-1.0-0.6-1.1-0.6-1.0-0.7M57.4 42.6l0.6-1.0M57.1 45.5l-1.0 0.5M57.1 45.5l0.6 1.0M56.2 48.3l0.6 1.1 0.7 0.9 0.9 0.9M56.2 48.3l-1.2 0.3M55.3 51.2l-1.1 0.5M55.3 51.2l0.4 1.1M53.2 49.1l1.0 0.6M53.2 49.1l-0.4 1.2-0.6 1.0-0.5 1.1M51.4 46.8l0.3-1.2 0.4-1.1 0.2-1.2M51.4 46.8l-1.1-0.3-1.2-0.4-1.1-0.2-1.2-0.3M44.9 49.9l-1.2 0.4-1.0 0.6M44.9 49.9l-0.6-1.1-0.6-1.0-0.6-1.1-0.4-1.1M42.3 48.3l-0.3-1.1M42.3 48.3l-1.2 0.2M39.9 46.6l-1.2 0.4-1.0 0.6M39.9 46.6l-0.5-1.1-0.7-1.0M48.1 52.8l-0.5 1.0M48.1 52.8l1.2-0.1M43.1 56.4l1.2 0.3 1.1 0.5 1.1 0.4 1.1 0.4M43.1 56.4l-0.2 1.1M40.9 54.5l-0.6-1.1-0.6-1.0-0.5-1.1M40.9 54.5l-0.9 0.6M34.9 54.7l0.2-1.2 0.2-1.2 0.1-1.2 0.0-1.2M34.9 54.7l-1.1-0.1M33.3 52.2l-1.1-0.6-0.9-0.7-0.9-0.8M33.3 52.2l0.2-1.2M35.4 59.0l0.9 0.9 0.7 0.9 0.8 0.9 0.9 0.8M35.4 59.0l-1.0 0.7-1.0 0.7-0.9 0.8-0.7 0.9M28.5 58.4l0.3 1.2 0.4 1.1M28.5 58.4l-1.0 0.6M27.1 61.1l-1.2 0.0-1.2 0.1M27.1 61.1l0.5 1.1 0.3 1.1M25.3 65.2l0.7 0.9 0.7 1.0M28.6 55.5l-0.9-0.7M28.6 55.5l0.5-1.0M84.9 45.2l0.8-0.9M84.9 45.2l1.0 0.6M80.5 44.7l-0.1-1.2M80.5 44.7l-1.2 0.2M80.5 38.5l-1.0 0.6-1.2 0.5-1.0 0.6M80.5 38.5l-0.5-1.1-0.7-0.9M77.7 37.5l-0.6-1.1M77.7 37.5l-1.0 0.6M74.8 36.6l-1.1 0.4M74.8 36.6l-0.7-0.9M84.9 38.5l0.5-1.0M84.9 38.5l1.0 0.5M83.4 32.6l1.1 0.4M83.4 32.6l0.7-0.9 0.6-1.1 0.7-1.0M80.4 32.7l-0.8-0.9-0.6-1.0-0.6-1.0-0.6-1.1M80.4 32.7l-0.8 1.0M83.8 26.6l0.7 1.0M83.8 26.6l0.9-0.7 0.9-0.8M80.8 20.1l-1.2 0.0-1.2-0.3-1.2-0.2-1.2 0.1M80.8 20.1l-0.2-1.2M78.7 17.9l0.0-1.2M78.7 17.9l-1.2 0.2M82.3 17.2l-1.1 0.4M82.3 17.2l-0.6-1.1M85.2 17.5l1.1 0.6 1.0 0.5 1.2 0.5M85.2 17.5l0.9-0.9M88.2 17.2l0.9-0.8 0.9-0.8M88.2 17.2l1.1 0.6 1.0 0.6M84.5 13.9l-0.7-0.9M84.5 13.9l1.0-0.6 1.0-0.7M60.4 38.4l0.5-1.1 0.7-1.0M60.4 38.4l1.1 0.3 1.2 0.4M55.0 38.3l-0.4-1.1-0.2-1.2-0.3-1.2-0.3-1.1M55.0 38.3l-1.0 0.6M56.4 32.3l-0.3-1.2M56.4 32.3l-1.1 0.3M53.9 30.7l-1.2 0.1-1.2 0.2-1.2 0.2-1.1 0.4M53.9 30.7l-0.3-1.1M51.3 29.1l-0.1-1.2M51.3 29.1l-1.1 0.2M48.8 27.5l-1.2 0.1M48.8 27.5l-0.6-1.0M59.2 32.9l0.8-0.9M59.2 32.9l0.8 0.9M60.7 28.6l1.0-0.7 0.9-0.7 0.9-0.8M60.7 28.6l0.8 0.9M56.2 28.4l-1.1 0.4M56.2 28.4l-0.8-0.9M49.9 26.2l-0.3 1.2M49.9 26.2l-1.2-0.1M43.5 60.4l1.2 0.0 1.2-0.2 1.2-0.1M43.5 60.4l0.4 1.1M40.8 59.6l-1.0-0.6M41.0 64.7l-1.2-0.3M41.0 64.7l-0.1 1.2M38.5 66.3l-0.2 1.1M38.5 66.3l-1.2-0.3M36.0 68.0l-1.1-0.4-1.2-0.1M36.0 68.0l-0.3 1.1M44.9 65.3l0.3 1.2 0.3 1.1 0.3 1.2M44.9 65.3l1.2-0.3M38.0 69.3l-1.0-0.6M32.4 74.0l-0.8-0.9-0.7-0.9M32.4 74.0l-0.9 0.8M28.0 73.1l-0.7-1.0-0.6-1.0-0.5-1.1M36.3 75.6l1.2 0.0 1.2 0.0 1.2 0.0M36.3 75.6l0.0 1.2M31.7 80.8l-0.2 1.2M31.7 80.8l0.9 0.9 0.9 0.7 0.9 0.8M32.6 83.7l1.0 0.6M32.6 83.7l-0.5 1.1M99.5 48.1l-0.9 0.8M99.5 48.1l-0.7-1.0M102.1 49.5l1.2 0.1M102.1 49.5l0.4 1.1M96.8 54.7l-0.4-1.2M96.8 54.7l-0.9 0.7M94.8 56.9l0.3-1.1M94.8 56.9l-1.1-0.5M96.1 59.6l1.2 0.1M96.1 59.6l-0.2 1.2-0.1 1.2 0.0 1.2 0.0 1.2M97.5 62.3l-0.4 1.1M97.5 62.3l1.2 0.2 1.2 0.1 1.1 0.1 1.2 0.0M89.8 62.6l0.7 0.9 0.8 0.9M89.8 62.6l-0.9 0.8M90.0 65.6l-0.7 0.9-0.8 0.9-1.0 0.8-0.9 0.8M90.0 65.6l0.7 0.9M90.2 70.1l0.6 1.0 0.6 1.1 0.5 1.0M90.2 70.1l-0.7 0.9M88.6 60.1l-0.3-1.1M88.6 60.1l-1.2 0.0M82.9 63.0l-0.1-1.2M82.9 63.0l-1.2 0.3M80.4 61.4l-1.1 0.4M80.4 61.4l-0.3-1.2-0.4-1.1-0.4-1.2M83.9 65.4l0.6 1.1M83.9 65.4l-0.9 0.7M78.4 67.0l0.7 1.0 0.7 1.0M77.7 64.2l0.3-1.2M77.7 64.2l-0.9-0.8-0.9-0.8-1.0-0.6-1.0-0.7M71.9 65.9l0.3-1.2M71.9 65.9l-1.1-0.7-1.1-0.2-1.2-0.3-1.2-0.3-1.1-0.4M70.6 63.2l-1.0-0.7M70.6 63.2l0.3-1.2M69.2 60.5l0.3-1.2 0.5-1.1 0.6-1.0M69.2 60.5l-1.2-0.3-1.2-0.2-1.1-0.2M67.7 57.9l-1.1-0.4M67.7 57.9l0.2-1.2M72.7 68.7l0.8 0.8 1.1 0.6 1.1 0.5M72.7 68.7l-0.6 1.1-0.5 1.0-0.5 1.1-0.5 1.1M73.1 71.7l-0.5 1.0M73.1 71.7l1.0 0.7M67.0 72.2l0.8 0.8 0.9 0.8M67.0 72.2l-0.7 0.9-0.9 0.8-0.9 0.9M64.2 67.3l-0.2-1.2M64.2 67.3l-1.1 0.3M61.0 69.9l-1.2 0.1M61.0 69.9l0.3-1.1M62.3 72.5l-0.6 1.0-0.5 1.2-0.4 1.1M62.3 72.5l0.8 0.9M56.6 75.3l1.2 0.2M56.6 75.3l-0.5 1.1M54.5 73.4l-0.5-1.1-0.5-1.1-0.6-1.1M54.5 73.4l-1.1 0.4M49.0 76.8l-0.1-1.2-0.2-1.1-0.1-1.2M49.0 76.8l-1.2 0.1M46.9 74.7l-1.2 0.0-1.2 0.1M46.9 74.7l0.0-1.2M44.8 72.6l-0.3-1.2M44.8 72.6l-1.2 0.0M50.9 79.1l1.2 0.2M50.9 79.1l-0.5 1.1-0.8 0.9M47.2 81.6l1.1 0.4M47.2 81.6l-0.2 1.2-0.1 1.2 0.1 1.2 0.2 1.2M44.3 78.2l-1.2 0.0M41.9 78.2l-1.2 0.0-1.2-0.1M44.3 78.2l0.1-1.2M43.3 82.4l-0.5 1.2-0.4 1.1M43.3 82.4l-1.2-0.3M40.8 84.2l-1.1-0.4-1.1-0.4-1.2-0.3-1.0-0.6M40.8 84.2l-0.4 1.1-0.4 1.2M38.3 85.9l-0.3 1.1M38.3 85.9l-1.1-0.4M110.3 84.9l-0.9-0.7M110.3 84.9l0.9-0.8M110.6 89.4l0.8 1.0 0.7 0.9 0.7 1.0M110.6 89.4l-0.7 0.9-0.6 1.1-0.8 0.9M110.6 92.4l-0.7 1.0M110.6 92.4l0.8 0.9M106.1 90.2l0.7 1.0M106.1 90.2l-1.1 0.5M99.4 88.5l-1.1-0.4M99.4 88.5l0.7-1.0 0.9-0.7 0.9-0.8M98.7 85.6l0.6-1.1 0.5-1.1 0.6-1.0M98.7 85.6l-1.1-0.4-1.1-0.6-1.0-0.6M97.9 82.7l-1.0-0.7M97.9 82.7l0.6-1.0M99.2 91.4l0.4 1.2 0.3 1.1M95.3 92.0l-1.0 0.7-1.0 0.7-0.9 0.8M95.3 92.0l0.7 0.9M94.8 87.5l-0.9-0.7M89.3 89.3l0.7-1.0 0.7-1.0 0.6-1.0M89.3 89.3l-0.6-1.1-0.8-0.9-0.6-1.0M89.4 84.8l-0.8-0.9-0.7-1.0M89.4 84.8l1.1-0.6 1.1-0.5 1.1-0.5M89.3 92.3l-0.7 0.9-0.9 0.8M89.3 92.3l1.0 0.7M88.9 95.2l0.9 0.8 0.9 0.8 0.8 0.9 0.8 0.9M88.9 95.2l-0.9 0.8M88.4 98.2l-0.9 0.8-1.0 0.7M88.4 98.2l1.0 0.7M88.0 101.2l0.8 0.9M88.0 101.2l-0.9 0.8M87.6 104.1l-1.0 0.7M87.6 104.1l0.4 1.2M85.2 92.4l-1.0 0.7-1.0 0.6M85.2 92.4l1.1 0.7M84.4 89.7l0.1-1.2 0.2-1.2-0.1-1.2 0.0-1.2 0.1-1.2M84.4 89.7l-1.1-0.4M80.9 89.7l0.4-1.2M80.9 89.7l-1.0-0.6-1.0-0.7-1.1-0.5-1.1-0.5M80.9 92.6l0.8 0.9M80.9 92.6l-0.8 1.0M74.5 90.1l0.2-1.2 0.2-1.2M74.5 90.1l-1.2-0.3M72.4 86.1l-1.1-0.5-1.1-0.5-1.1-0.4M72.4 86.1l0.5-1.1 0.5-1.1 0.5-1.1M67.5 89.4l-1.2-0.3-1.1-0.5-1.1-0.4M67.5 89.4l0.4-1.1M66.1 86.8l0.3-1.2 0.2-1.2M66.1 86.8l-0.9-0.7M68.8 93.5l0.4 1.1 0.4 1.2 0.5 1.1 0.6 1.0 0.5 1.1M68.8 93.5l-0.9 0.9-0.8 0.9-0.8 0.8-0.9 0.9M68.5 96.5l-1.0 0.7M68.5 96.5l0.6 1.1M62.6 94.4l-1.0 0.7M62.6 94.4l0.7 0.9M62.3 91.5l-1.1-0.6M62.3 91.5l0.1-1.2M55.8 92.4l-0.1-1.2 0.1-1.2-0.1-1.2M55.8 92.4l-1.2-0.2M53.3 88.7l-1.2 0.0M53.3 88.7l0.2-1.2 0.1-1.2M56.3 95.2l0.6 1.0 0.6 1.0 0.5 1.1 0.4 1.2M56.3 95.2l-1.0 0.6M55.8 98.1l-0.9 0.9-0.8 0.8-0.9 0.9M55.8 98.1l0.7 1.0M50.1 96.0l0.5 1.1 0.6 1.0M50.1 96.0l-0.7 0.9M49.6 100.5l-0.7 0.9-0.7 1.0M49.6 100.5l0.8 0.9M49.7 93.2l-1.1-0.6-0.9-0.7M49.7 93.2l0.2-1.2M43.9 93.9l0.7-1.0M43.9 93.9l-1.0-0.6-1.1-0.6-0.9-0.7-1.0-0.7M44.6 98.3l-0.5 1.1-0.6 1.0-0.3 1.2M44.6 98.3l1.0 0.8M37.1 98.0l-0.9 0.9M118.5 83.4l0.7-1.0M118.5 83.4l-0.8-0.8M119.7 86.0l-0.3 1.2M119.7 86.0l1.2 0.2M125.0 82.9l-0.5 1.1M125.0 82.9l1.1 0.6M126.4 85.6l1.2 0.3 1.1 0.5M126.4 85.6l-0.3 1.1M123.9 80.1l0.8-0.8M123.9 80.1l-0.9-0.7-1.0-0.7-0.9-0.8-0.8-0.8M123.2 77.2l-1.1-0.5M123.2 77.2l0.5-1.1 0.4-1.1 0.5-1.1M129.2 78.6l0.1-1.2 0.2-1.2 0.2-1.2M129.2 78.6l1.2-0.3M131.8 77.0l1.2 0.2 1.2 0.3 1.1 0.3M131.8 77.0l0.2-1.2 0.2-1.2M134.3 75.3l0.3-1.1M134.3 75.3l1.2 0.2M117.7 90.5l-0.7 1.0-0.7 1.0-0.8 0.9M117.7 90.5l1.1 0.4 1.0 0.6M117.6 86.1l-0.6-1.0M117.6 86.1l0.9-0.7M124.3 87.7l0.1-1.2M124.3 87.7l1.1-0.2M122.9 90.3l-1.0 0.6M122.9 90.3l0.6 1.1M129.4 91.7l1.0 0.7 0.9 0.7 1.1 0.6M129.4 91.7l-0.9 0.7-1.0 0.6-1.1 0.7M129.3 94.7l-1.0 0.6M129.3 94.7l0.9 0.7 1.0 0.7M129.0 97.6l0.5 1.1M129.0 97.6l-0.7 1.0-0.9 0.9-0.8 0.9M131.3 87.7l1.0-0.6 0.8-0.9M131.3 87.7l0.0-1.2M133.0 85.3l-0.2-1.2-0.1-1.2M133.0 85.3l1.2 0.1 1.2-0.1M137.9 90.1l-0.8-0.9-0.7-1.0-0.6-1.0M137.9 90.1l0.9-0.8M138.5 94.4l1.0 0.8 1.0 0.6M138.5 94.4l-0.3 1.2M143.9 94.0l-0.7 1.0M143.9 94.0l1.0 0.8M143.9 91.2l-0.3-1.2M143.9 91.2l1.1-0.5M144.8 88.3l1.1-0.4M144.8 88.3l-0.3-1.2M145.0 92.7l0.9 0.8M145.0 92.7l0.7-1.0M144.8 89.7l-1.0-0.6M144.8 89.7l0.5-1.1M146.7 91.6l1.1-0.4M146.7 91.6l0.4 1.1M152.6 88.5l0.3 1.2 0.3 1.1 0.3 1.2M152.6 88.5l1.1-0.4 1.1-0.6 1.1-0.5M154.7 90.7l1.2 0.1 1.2 0.1M154.7 90.7l0.1 1.2M149.5 85.3l0.5-1.1M149.5 85.3l-1.1-0.4M152.5 80.2l-1.1-0.2-1.2-0.4-1.1-0.3M152.5 80.2l-0.3-1.2-0.3-1.2 0.1-1.2 0.0-1.2M150.2 78.3l-0.1-1.2-0.3-1.2M150.2 78.3l-1.2-0.1-1.2-0.1M147.8 76.5l-1.2 0.0M147.8 76.5l-0.3-1.2M157.0 84.2l0.0 1.2M157.0 84.2l1.2 0.1 1.1 0.3 1.2 0.3M160.6 78.2l0.5 1.0 0.5 1.2 0.4 1.1 0.5 1.1 0.5 1.0M160.6 78.2l1.0-0.8M163.5 78.9l1.0-0.7M163.5 78.9l0.8 0.9M166.4 79.6l0.7 1.0 0.7 1.0 0.6 1.0 0.7 1.0M166.4 79.6l1.1-0.5M169.4 80.1l0.8-0.9 0.9-0.8M169.4 80.1l0.9 0.7 1.0 0.7 1.1 0.6M158.4 76.5l0.4-1.1M158.4 76.5l-1.1-0.3M163.1 72.3l0.2-1.2 0.3-1.2 0.1-1.2 0.5-1.1M163.1 72.3l-1.1-0.6-1.0-0.5-1.0-0.8M161.9 69.5l-0.9-0.8M161.9 69.5l0.2-1.2M164.8 74.6l-0.2 1.2M164.8 74.6l1.2 0.0M169.4 71.0l0.1 1.2 0.2 1.2 0.3 1.2M171.3 73.3l1.2-0.2 1.2 0.0 1.2 0.0M171.3 73.3l-0.1 1.2M167.1 67.2l0.5-1.2 0.5-1.0M167.1 67.2l-1.2-0.3M172.9 64.6l-1.0-0.6M172.9 64.6l0.8-0.9M175.6 67.8l0.6 1.0 0.7 1.0 0.9 0.8M175.6 67.8l1.2-0.1M179.4 62.6l-0.2 1.2-0.1 1.2-0.1 1.2 0.2 1.2M179.4 62.6l1.1-0.3M177.5 60.2l-1.1-0.4-1.0-0.7-1.0-0.6-1.0-0.6-1.0-0.8M177.5 60.2l0.2-1.1M180.0 56.1l0.0-1.2M180.0 56.1l-1.2 0.2M182.9 59.5l1.2 0.3M182.9 59.5l-0.1 1.2M183.1 57.5l-0.1-1.2M183.1 57.5l1.1 0.4M179.2 54.6l-1.1-0.5-1.1-0.6M179.2 54.6l-0.8 0.9M181.7 53.2l-0.1-1.2M181.7 53.2l1.2-0.1M179.8 47.1l-0.4-1.1M179.8 47.1l1.2 0.1 1.2 0.1M181.8 44.9l1.2-0.1 1.2 0.0 1.2-0.2M181.8 44.9l0.1-1.2M183.7 42.5l-0.2-1.2-0.2-1.1M183.7 42.5l1.1-0.3M185.7 40.3l1.2-0.1M185.7 40.3l0.1-1.2M177.3 48.2l-0.8-0.9M177.3 48.2l-0.6 1.1-0.6 1.0M176.0 44.4l-0.8 0.9M176.0 44.4l-1.0-0.5M178.7 43.2l0.3-1.1M178.7 43.2l1.1 0.6M174.6 38.2l-0.3-1.2M174.6 38.2l1.2-0.1M177.7 34.9l1.2-0.3M177.7 34.9l0.3-1.2M172.3 39.7l-1.1-0.5M172.3 39.7l-0.6 1.0M169.4 40.4l-0.8 1.0-0.8 0.8M169.4 40.4l-1.2-0.3M166.4 41.1l-1.0-0.6-0.9-0.8M166.4 41.1l-0.6 1.0M169.9 36.9l-1.2-0.1-1.2-0.1M172.1 35.0l0.0-1.2 0.0-1.2-0.2-1.2-0.1-1.2M172.1 35.0l1.2-0.3M168.2 29.8l1.2-0.3M168.2 29.8l-0.3-1.1M169.8 27.3l-0.3-1.2-0.3-1.2-0.1-1.2M169.8 27.3l1.1-0.5 1.1-0.4 1.1-0.6M171.3 24.7l1.1-0.5 1.1-0.4 1.1-0.5M171.3 24.7l-0.2-1.2M166.0 31.3l-0.9 0.8-0.9 0.9-0.8 0.8-1.0 0.8M166.0 31.3l-1.1-0.4M161.5 32.1l-1.0-0.8-0.9-0.7M161.5 32.1l-0.7 0.9-0.6 1.0-0.6 1.1M158.5 32.4l-0.6 1.0-0.6 1.0M158.5 32.4l-1.0-0.7-1.0-0.6M162.4 26.3l-0.3 1.1M162.4 26.3l-1.1-0.4M164.5 24.2l1.0-0.5M164.5 24.2l-0.6-1.1M160.9 18.7l0.0-1.2 0.1-1.2 0.3-1.2M160.9 18.7l1.2-0.1M162.7 16.3l1.2-0.2M162.7 16.3l0.0-1.2M157.6 21.7l0.0 1.2M157.6 21.7l-1.2 0.1-1.2-0.1-1.2 0.1M158.5 17.1l0.4-1.1M158.5 17.1l-1.0-0.5M179.8 42.3l0.9-0.8M179.8 42.3l0.5 1.1M179.8 35.2l-1.2-0.1M179.8 35.2l0.3-1.2M182.2 36.7l0.8 1.0M182.2 36.7l1.1-0.5M184.8 30.5l0.9-0.8 0.9-0.8 0.8-0.8M184.8 30.5l0.7 0.9 0.7 1.0 0.6 1.0M187.8 30.6l0.9 0.7 1.1 0.6M187.8 30.6l0.9-0.8M190.8 30.8l0.8-0.9 0.9-0.8 0.9-0.7M190.8 30.8l0.8 0.8 0.9 0.8M181.9 29.9l-1.2 0.2-1.2 0.2-1.1 0.3-1.1 0.4M181.9 29.9l-0.3-1.1-0.2-1.2-0.4-1.2M182.7 23.7l-1.1 0.6M182.7 23.7l-0.2-1.2M178.4 22.2l-0.6-1.0-0.4-1.1M178.4 22.2l-1.1 0.4M185.6 24.0l1.0 0.6 1.1 0.6M185.6 24.0l0.9-0.8 0.8-0.9 0.7-1.0M188.6 23.6l0.5-1.1M188.6 23.6l1.1 0.5M191.5 23.2l1.1 0.6 1.1 0.5M191.5 23.2l1.0-0.6M185.5 19.2l1.1 0.1M185.5 19.2l0.4-1.1M182.7 19.4l-0.7-1.0-0.7-1.0-0.6-1.0-0.5-1.1M182.7 19.4l-1.0 0.7M184.1 16.1l-0.8-0.9M184.1 16.1l0.9-0.8M186.5 57.5l1.2 0.2 1.1 0.4M185.4 54.7l-1.1-0.5M185.4 54.7l0.5-1.0M191.0 51.4l-0.9-0.7-1.1-0.5-1.1-0.5-1.1-0.5M191.0 51.4l0.9-0.8M190.6 48.5l0.8-0.9 0.9-0.8M190.6 48.5l-0.9-0.8M192.2 54.1l-0.2 1.2M192.2 54.1l1.2 0.1 1.2 0.1 1.2 0.1 1.1 0.2M198.2 51.0l-0.4 1.1M200.0 53.4l1.2 0.1M200.0 53.4l0.1 1.2 0.0 1.2 0.2 1.2M201.9 55.7l0.0 1.2M201.9 55.7l1.2 0.3M197.6 46.8l0.9-0.8 0.7-0.9M197.6 46.8l-0.9-0.7-0.9-0.8-1.0-0.7-0.9-0.8M198.0 43.9l-0.8-1.0-0.5-1.0M198.0 43.9l1.0-0.7 1.0-0.7M201.9 46.6l1.0-0.8M201.9 46.6l-0.7-1.0M202.6 49.2l-0.4 1.2M202.6 49.2l1.2 0.2 1.2 0.2M184.8 58.3l0.3-1.2M184.8 58.3l1.1-0.5M183.6 60.8l0.6 1.0M183.6 60.8l-0.7 1.0M189.3 63.6l-0.7 0.9-0.7 1.0M189.3 63.6l0.8 0.8M189.5 66.6l0.8 0.8M189.5 66.6l-0.8 0.9M189.9 69.5l-0.8 1.0-0.8 0.9M189.9 69.5l0.7 1.0M190.4 61.1l1.2 0.1M190.4 61.1l-0.2-1.2M193.9 62.8l1.1-0.5M193.9 62.8l0.0-1.2 0.0-1.2 0.1-1.2 0.1-1.2M191.7 66.7l-1.1 0.5M191.7 66.7l0.2 1.1M199.9 64.1l-0.9 0.8M199.6 61.2l0.7-1.0 0.7-1.0M199.6 61.2l-0.5-1.1M205.9 59.9l-1.0-0.7M205.9 59.9l0.5-1.1M206.3 62.9l0.9 0.9M212.0 60.5l0.9-0.8 0.8-0.9M212.0 60.5l1.0 0.7 1.0 0.6M215.0 60.1l0.9 0.8 0.9 0.8M189.2 74.7l-0.9 0.8-0.9 0.8M189.2 74.7l-1.0-0.7M193.7 75.0l0.8 0.9 0.8 0.9 0.7 1.0 0.6 1.0M193.7 75.0l0.9-0.8 0.8-0.9 0.8-0.8 0.9-0.8M196.6 75.6l0.8-0.9 0.8-0.9M196.6 75.6l0.8 0.9M192.1 81.9l1.0-0.8 0.8-0.9M192.1 81.9l0.5 1.1M195.1 82.5l0.8 0.9 0.9 0.8 0.8 0.8M195.1 82.5l1.1-0.4M198.0 83.3l1.0-0.6M198.0 83.3l0.3 1.1M189.2 81.7l-0.9-0.8-0.8-0.8-0.8-1.0-0.6-1.0M189.2 81.7l-0.6 1.0-0.7 1.0-0.7 1.0M186.4 82.6l-0.8 0.9M186.4 82.6l-1.1-0.6M182.0 83.8l-1.0-0.6-1.1-0.5M182.0 83.8l-0.8 0.9-0.8 0.9-0.8 0.9M179.1 84.6l-0.8 0.9M179.1 84.6l-1.1-0.4M189.8 86.6l-1.2-0.1M189.8 86.6l-0.1 1.2M192.6 86.0l0.7 1.0M192.6 86.0l1.1-0.6M193.5 90.2l0.9 0.8 0.8 1.0 0.7 0.9M193.5 90.2l1.0-0.7M193.2 96.2l1.0 0.7 1.1 0.3 1.2 0.2M191.6 98.0l-1.0 0.7-0.9 0.8M193.6 99.1l-0.6 1.1-0.4 1.1M193.6 99.1l0.9 0.8 0.9 0.8 0.9 0.8M194.1 102.1l1.1 0.6M194.1 102.1l-0.5 1.1-0.6 1.0M143.6 90.2l0.3-1.1M143.6 90.2l1.0 0.7M140.7 90.5l-0.6-1.1M140.7 90.5l-1.0 0.6M140.7 84.4l-1.1 0.5-1.0 0.6M140.7 84.4l-0.6-1.0M143.7 84.7l1.1 0.5M143.7 84.7l0.9-0.8M145.1 77.8l0.5-1.1M145.1 77.8l1.0 0.6M140.7 78.5l-1.1 0.5-1.1 0.4-1.1 0.3M140.7 78.5l-0.8-0.9M139.1 68.9l-0.1-1.2M139.6 71.3l-1.1 0.4M143.5 72.0l1.2 0.1 1.2 0.1 1.1 0.3 1.2 0.5 1.1 0.4M142.6 65.3l1.1 0.5 1.1 0.5 1.2 0.3M142.6 65.3l0.2-1.2M145.1 63.6l0.5-1.1 0.6-1.0M145.1 63.6l1.2 0.1M148.6 60.7l1.1 0.1 1.2 0.1 1.2 0.4M148.6 60.7l0.0-1.2M140.0 65.5l-1.1 0.5M140.0 65.5l-0.8-0.9M137.3 64.2l-0.4-1.1-0.4-1.2-0.4-1.1M137.3 64.2l-1.2 0.3-1.1 0.2-1.2-0.1M134.7 62.8l-1.1 0.5M134.7 62.8l-0.5-1.2M139.2 58.9l-0.8-0.9-0.5-1.1-0.6-1.0M139.2 58.9l-1.1 0.6M141.9 58.8l1.2 0.4 1.1 0.3 1.2 0.2 1.2 0.0M141.9 58.8l0.7-0.9 0.8-0.9 0.7-1.0M142.0 53.0l0.8-0.8 0.8-1.0 0.7-0.9 0.7-0.9 0.9-0.9M142.0 53.0l1.0 0.7M139.1 52.5l-0.4-1.1M139.1 52.5l-1.0 0.6M136.3 51.4l-1.1 0.5-1.1 0.4M133.1 52.9l-1.1 0.6M136.3 51.4l-0.5-1.1-0.7-1.0-0.6-1.0-0.6-1.0M132.3 49.5l-0.5-1.1M132.3 49.5l-1.2 0.3M140.6 46.5l-0.6-1.0-0.6-1.1M140.6 46.5l-1.0 0.6M141.7 42.4l0.0-1.2M141.7 42.4l-1.1 0.5M143.0 37.0l-0.2-1.2M143.0 37.0l-1.2 0.4-1.1 0.5-1.0 0.5M147.4 37.2l1.0-0.6 1.2-0.4 1.0-0.7M147.4 37.2l0.8 0.9M144.8 36.0l1.0-0.7M144.8 36.0l-0.7-1.0M130.5 20.3l1.1-0.4 1.2-0.4 1.1-0.4M130.5 20.3l0.7 1.0M134.3 22.1l1.0 0.6M133.3 21.4l1.2-0.3M126.2 19.2l-0.9-0.9-1.0-0.6-1.0-0.7-1.0-0.5-1.1-0.5M126.2 19.2l-0.9 0.8M124.9 26.1l-1.0-0.7-1.1-0.5-1.1-0.4-1.0-0.6M124.9 26.1l-0.2 1.1M127.5 26.6l-0.1 1.2M127.5 26.6l1.2-0.1 1.2 0.0 1.2 0.0 1.2 0.3M126.7 30.5l0.3 1.2M126.7 30.5l1.2-0.3M124.0 29.9l-1.1-0.5-1.0-0.6-1.1-0.5M124.0 29.9l-0.4 1.1M122.7 35.6l-1.0 0.7-1.1 0.6-1.0 0.5-1.1 0.5M122.7 35.6l-0.7-0.9-0.8-0.9M125.3 36.8l0.3 1.2M125.3 36.8l1.2-0.2M124.2 42.6l1.0-0.6 1.1-0.6 0.9-0.8M124.2 42.6l0.6 1.1M126.9 44.0l0.4 1.2M126.9 44.0l1.1-0.2M121.4 42.4l-0.9 0.8-1.0 0.7-0.9 0.8M121.4 42.4l-1.2-0.4-1.1-0.3-1.2-0.2M119.5 48.1l-1.0 0.6-0.9 0.8-1.1 0.6M119.5 48.1l-0.4-1.2M123.5 50.0l0.3 1.2M123.5 50.0l1.2-0.2M119.9 56.0l0.2 1.2 0.1 1.2 0.2 1.2 0.3 1.1M119.9 56.0l1.2 0.1M123.4 58.0l1.2 0.2M122.2 58.0l0.1 1.2M124.7 59.7l0.3 1.1 0.2 1.2M117.3 55.4l-0.9 0.8M117.5 58.7l0.5 1.1M117.5 58.7l-1.2 0.1M138.3 29.0l0.1 1.2 0.2 1.2 0.2 1.1M138.3 29.0l1.2-0.2M135.5 28.4l-0.7 1.0M135.5 28.4l-1.1-0.5M133.0 33.4l-0.6-1.1-0.6-1.0-0.8-0.9M133.0 33.4l-1.0 0.6-1.0 0.7-1.0 0.7M136.8 35.7l0.0 1.2 0.1 1.2 0.0 1.2M136.8 35.7l1.2 0.2M133.0 40.5l-0.1 1.2M133.0 40.5l1.2 0.0M130.5 38.8l-1.2 0.2M130.5 38.8l-0.1-1.2M127.0 46.6l-0.9 0.8M127.0 46.6l-0.6-1.0M129.7 47.8l1.2 0.1M129.7 47.8l0.1 1.2M126.1 52.0l0.4 1.2 0.3 1.2M126.1 52.0l-1.1 0.5M216.5 75.9l-0.6 1.0-0.4 1.1-0.6 1.1-0.8 0.9-0.8 0.9M216.5 75.9l-1.0-0.6-1.1-0.4-1.1-0.5M213.7 77.0l-0.4 1.1M220.8 74.7l1.0-0.7 1.0-0.7 0.9-0.7 0.9-0.8M220.8 74.7l0.6 1.0 0.7 1.0 0.6 1.1M223.8 74.8l0.8 0.9 0.7 0.9M223.8 74.8l1.1-0.6M226.8 74.8l0.9-0.7 1.0-0.7M226.8 74.8l0.8 0.9 0.8 0.9 0.7 1.0M220.6 81.7l0.1 1.2M223.3 83.1l1.1-0.2 1.2-0.3M223.3 83.1l0.7 1.0M227.2 85.4l0.3 1.2 0.5 1.0 0.7 1.0M227.2 85.4l1.1-0.2M218.0 81.7l-1.2-0.3M218.0 81.7l-0.7 1.0M215.2 82.9l-0.4 1.2M215.2 82.9l-1.1-0.4M217.9 87.8l-0.5 1.1-0.6 1.0-0.7 1.0M217.9 87.8l-0.9-0.8M215.0 88.7l-1.1-0.4M215.0 88.7l-0.3 1.2-0.3 1.1M220.8 87.6l1.1-0.5M220.8 87.6l0.8 0.9 0.7 1.0 0.5 1.1M220.8 93.7l0.8 0.9 0.9 0.8 0.8 0.9 0.9 0.8 0.9 0.8M220.8 93.7l0.7-1.0M223.8 93.5l0.8-0.9 0.7-0.9M223.8 93.5l0.8 0.9M226.8 93.3l0.9 0.8 1.0 0.7M226.8 93.3l0.9-0.8M217.8 94.1l-0.8 0.8-0.9 0.8M217.8 94.1l-1.0-0.6M215.0 94.9l-1.2-0.3M215.0 94.9l-0.3 1.2M216.5 99.1l-0.3 1.1-0.3 1.2M216.5 99.1l-1.1-0.3M220.0 104.1l0.7 1.0 0.8 0.9 0.8 0.9M220.0 104.1l1.0-0.6 1.1-0.6 1.1-0.4 1.2-0.4M223.0 104.4l1.0-0.7M223.0 104.4l1.0 0.7M215.7 105.0l-1.0-0.7-1.1-0.5-1.1-0.5M215.7 105.0l-0.7 0.9M212.8 105.9l-0.2 1.2M212.8 105.9l-1.1-0.3M214.5 110.8l-1.1-0.6M214.5 110.8l-0.8 0.9M219.5 112.1l1.2 0.1M219.5 112.1l0.0 1.2M219.7 117.6l0.4 1.1M219.7 117.6l1.1-0.5M222.3 119.0l1.1-0.6M222.3 119.0l0.6 1.1 0.7 0.9 0.6 1.1M215.6 116.8l-0.2 1.2M215.6 116.8l-1.0-0.5M211.3 118.0l-1.0-0.6-1.2-0.4M211.3 118.0l-0.7 1.0M208.4 118.8l-0.6 1.1-0.7 0.9-0.6 1.1M208.4 118.8l-1.2-0.2M215.6 121.0l-0.6 1.0M215.6 121.0l-1.0-0.6M218.3 121.1l0.3 1.2M218.3 121.1l1.1-0.6M215.5 131.3l-1.0-0.5-1.0-0.7-1.1-0.6-1.0-0.7-1.0-0.6M215.5 131.3l-0.8 0.9M212.6 132.1l-0.4 1.1-0.6 1.0-0.6 1.1-0.5 1.0M212.6 132.1l-1.1-0.5M209.8 133.1l-1.0-0.6-1.0-0.6-1.0-0.7M209.8 133.1l-0.7 1.0-0.7 1.0M218.3 131.8l1.2-0.3 1.2-0.2 1.1-0.1M218.3 131.8l0.4 1.1 0.5 1.1M220.9 133.4l0.3 1.1M220.9 133.4l1.1-0.2M218.5 137.6l1.0-0.6 1.1-0.5M214.1 138.0l-1.0-0.7M214.1 138.0l-0.8 1.0-0.8 0.9-0.8 0.9-0.9 0.7M213.0 110.5l-0.5-1.1M213.0 110.5l0.8-0.9M213.1 113.5l-0.9 0.9-0.8 0.8M213.1 113.5l0.8 0.9M206.3 113.3l0.4 1.1 0.6 1.1M206.3 113.3l-1.1 0.5M200.2 110.7l0.1-1.2 0.1-1.2 0.0-1.2M200.2 110.7l-1.1-0.3M201.0 113.5l0.7 1.0 0.8 0.9M201.0 113.5l-0.7 0.9M194.3 113.3l-1.2 0.4M194.3 113.3l0.3 1.2 0.4 1.1 0.4 1.1 0.4 1.2 0.2 1.2M192.5 115.8l0.1 1.2M192.5 115.8l-1.1 0.3-1.2 0.3M193.6 109.4l0.3-1.2 0.3-1.2M193.6 109.4l-1.1-0.5-1.2-0.4-1.1-0.2-1.2-0.3M193.5 112.0l-0.5-1.1M193.5 112.0l-0.9 0.9M219.1 113.9l0.8 0.9M219.1 113.9l-0.9 0.7M219.6 111.0l-0.5-1.1M219.6 111.0l1.1-0.4M225.4 110.6l-0.8-0.8M225.4 110.6l1.0-0.7 1.0-0.6 1.0-0.7M225.1 115.1l0.7 1.0M225.1 115.1l-1.1 0.6M232.2 112.1l1.1-0.4 1.2-0.3M232.2 112.1l-0.4-1.2M232.4 115.1l0.5 1.0M232.4 115.1l0.9-0.8M147.2 94.8l0.1-1.2M147.2 94.8l1.2 0.0M145.3 97.1l0.2 1.2 0.3 1.1M145.3 97.1l-1.2 0.3-1.2 0.1-1.1 0.2-1.2 0.2-1.2 0.3M149.0 101.7l-0.1 1.2M149.0 101.7l-1.2-0.2M147.0 104.0l-1.1 0.4-1.1 0.5M147.0 104.0l-0.1 1.2M145.1 106.3l0.0 1.2-0.1 1.2M145.1 106.3l-1.2 0.3M143.1 108.5l-1.1 0.4-1.2 0.4-1.1 0.4M143.1 108.5l0.3 1.2M141.3 110.9l0.0 1.2 0.2 1.2M141.3 110.9l-1.2 0.1M153.0 99.9l1.0 0.7 0.9 0.7M153.0 99.9l0.8-0.8 0.9-0.9M155.3 104.8l0.3-1.2M155.3 104.8l1.2 0.0 1.2 0.1M158.0 103.4l1.2 0.1M159.1 101.3l0.6-1.1M160.5 101.7l0.4-1.1M160.5 101.7l1.2-0.2 1.1-0.2 1.2-0.2M152.9 106.5l-1.2-0.1M155.7 109.9l0.0 1.2M155.7 109.9l-1.1 0.4M159.2 107.1l1.2 0.0M159.2 107.1l0.3-1.2M162.1 113.2l0.8-0.9M162.1 113.2l1.1 0.4M165.1 112.6l1.0 0.7 0.9 0.7 1.0 0.6 1.1 0.6M165.1 112.6l0.5-1.1M168.0 112.1l0.3-1.1M168.0 112.1l1.0 0.7M160.1 115.0l-1.0 0.7M160.1 115.0l0.6 1.0M163.1 118.3l-0.8 0.9-0.6 1.0-0.7 1.0-0.7 1.0-0.7 0.9M163.1 118.3l0.5 1.1M164.8 116.2l0.4-1.1M164.8 116.2l0.9 0.7 1.0 0.8M168.8 120.8l1.2 0.3 1.1 0.4 1.2 0.2 1.2 0.3 1.1 0.2M168.8 120.8l0.7-1.0M171.3 119.2l0.3-1.2 0.3-1.1 0.1-1.2M171.3 119.2l1.2 0.3M173.9 117.7l1.2 0.2 1.2 0.2M173.9 117.7l0.2-1.2 0.3-1.1 0.4-1.1M176.6 116.3l0.4-1.1 0.4-1.1M176.6 116.3l1.2 0.3M167.1 123.1l0.4 1.1M167.1 123.1l-1.1 0.5-1.0 0.7-0.9 0.8M170.6 127.5l-1.2-0.1M170.6 127.5l0.0 1.2 0.1 1.2 0.1 1.2M174.2 124.8l1.1 0.4 1.1 0.4M174.2 124.8l0.1-1.2M177.1 128.4l1.2 0.2M177.1 128.4l0.2-1.2M173.9 131.1l-1.2 0.4M173.9 131.1l0.2 1.2M177.7 136.0l0.3 1.2 0.0 1.2 0.0 1.2-0.1 1.1-0.1 1.2M177.7 136.0l-1.1 0.4-1.1 0.5-1.1 0.4-1.1 0.6M176.2 138.5l-1.2 0.4M176.2 138.5l0.4 1.2M174.4 141.0l0.5 1.1M174.4 141.0l-1.0 0.6-1.1 0.5-1.0 0.6M179.9 134.1l1.2 0.3M179.9 134.1l0.6-1.0M181.9 141.2l0.3 1.1M181.9 141.2l-1.1 0.4M188.2 144.4l0.3-1.1 0.2-1.2 0.2-1.2 0.4-1.1M188.2 144.4l1.1 0.6M190.9 143.1l1.1 0.4 1.2 0.4M190.9 143.1l0.5-1.1M192.4 147.8l1.1 0.5 1.1 0.5 1.1 0.5 1.1 0.5M192.4 147.8l0.5-1.1M188.5 149.7l-0.2 1.2-0.4 1.1-0.1 1.2-0.1 1.2 0.1 1.2M188.5 149.7l-1.2 0.0M192.7 155.3l0.3 1.2 0.1 1.2M192.7 155.3l-1.2 0.0M195.1 153.7l1.1 0.6M196.1 157.2l-0.2 1.1-0.4 1.2-0.4 1.1-0.2 1.2M196.1 157.2l1.1 0.2 1.2 0.3 1.2 0.3M157.0 116.5l1.1 0.4M157.0 116.5l-0.3 1.2-0.3 1.2M154.6 112.8l-1.2 0.3M154.6 112.8l0.1-1.2M149.0 115.6l-1.2-0.1M149.0 115.6l-0.2-1.2-0.1-1.2 0.0-1.2-0.1-1.2M150.3 118.1l-0.8 0.9M150.3 118.1l0.9 0.8 0.9 0.8 0.9 0.8 0.8 1.0M146.9 119.9l-0.8 0.9M146.9 119.9l0.9 0.8 0.7 0.9 0.8 0.9M145.4 117.4l0.2-1.2M145.4 117.4l-1.2 0.0M140.7 118.4l0.7-1.0M139.9 121.1l0.1 1.2-0.1 1.2 0.1 1.2M139.9 121.1l-1.1 0.3-1.2 0.3-1.2 0.2M138.0 123.4l-1.2 0.2M138.0 123.4l0.1 1.2M134.2 115.8l-1.0-0.7-1.0-0.7M134.2 115.8l0.6-1.1 0.6-1.0 0.7-1.0M133.3 112.9l0.5-1.1 0.6-1.0 0.8-0.9M133.3 112.9l-1.0-0.7-1.0-0.6-1.0-0.6-1.1-0.6M132.3 110.1l-1.0-0.6M132.3 110.1l0.5-1.1M129.8 114.6l1.0-0.5M129.8 114.6l-0.6-1.1M128.2 118.8l-1.2 0.0-1.2 0.2M128.2 118.8l-0.1 1.1M127.5 117.2l-0.9 0.7M127.5 117.2l-0.6-1.1-0.7-1.0-0.5-1.1-0.2-1.1M180.1 130.6l0.9-0.8 0.6-1.0 0.6-1.1 0.3-1.1M180.1 130.6l-0.5-1.0M180.7 134.9l0.9 0.8M180.7 134.9l-0.3 1.2M185.7 134.7l0.9 0.8M185.7 134.7l-0.8 0.9M186.3 131.9l1.2-0.3 1.1-0.4 1.1-0.5M186.3 131.9l-0.2-1.2-0.5-1.1-0.5-1.1M192.4 133.8l1.2-0.2 1.2-0.4 1.1-0.2M192.4 133.8l-0.2-1.2M194.3 131.5l-0.1-1.2-0.2-1.2-0.3-1.2-0.2-1.1M194.3 131.5l1.2-0.2M196.2 129.1l1.1-0.4 1.2-0.4M196.2 129.1l-0.1-1.2M191.1 136.4l0.5 1.1 0.4 1.1M191.1 136.4l-0.9 0.7M196.7 139.1l-1.0 0.8M196.7 139.1l0.6 1.1M197.7 136.4l1.2-0.3 1.1-0.4 1.2-0.3 1.1-0.4M197.7 136.4l-0.2-1.2M201.8 140.3l1.2-0.2 1.2-0.3 1.2-0.2 1.2-0.2M201.8 140.3l0.2 1.2 0.0 1.2M160.7 108.1l-0.9-0.8M162.3 112.0l-0.2 1.2M162.3 112.0l1.2-0.1M167.7 109.4l1.2 0.3M167.7 109.4l0.4 1.1M166.5 106.8l0.6-1.0 0.4-1.2 0.2-1.1M166.5 106.8l-0.8-0.8-0.9-0.8-0.9-0.8-1.0-0.7M171.0 103.3l-1.1-0.4M171.0 103.3l0.3-1.1M173.1 105.2l0.5 1.1 0.5 1.1 0.6 1.0 0.5 1.1 0.4 1.1M173.1 105.2l1.1-0.4M177.2 99.8l1.1-0.5M177.2 99.8l0.5 1.1M175.2 97.8l-0.1-1.2-0.2-1.2 0.0-1.2M179.5 94.3l1.2-0.2 1.2-0.3 1.2-0.2 1.1-0.4M179.5 94.3l0.2-1.2M181.6 92.1l-0.2-1.1-0.2-1.2-0.3-1.2M181.6 92.1l1.2 0.0M106.2 97.6l-0.5 1.1M106.2 97.6l-1.0-0.6M103.3 98.3l-1.2-0.1-1.1-0.3-1.2-0.4M103.3 98.3l-0.7 1.0M108.9 98.0l1.2-0.2 1.2-0.1 1.2-0.3 1.1-0.4M108.9 98.0l0.3 1.2M111.5 99.5l0.3 1.2 0.3 1.2M111.5 99.5l1.1-0.4M115.5 101.6l1.1-0.3 1.2-0.4M115.5 101.6l0.2 1.2 0.3 1.2 0.1 1.2M117.9 103.4l0.4 1.1M117.9 103.4l1.2-0.2 1.1-0.4M107.9 102.3l1.2-0.4M107.9 102.3l0.3 1.1M105.1 102.1l-1.0-0.5M105.1 102.1l-0.6 1.0M106.6 108.9l-0.4 1.1-0.3 1.2-0.3 1.1-0.3 1.2-0.3 1.1M104.9 111.4l-1.1 0.3-1.2 0.2M104.9 111.4l0.3 1.1M103.2 113.8l0.2 1.2M102.0 114.0l-1.1 0.3M101.6 116.4l-1.1 0.3M101.6 116.4l0.2 1.1M109.1 107.5l0.6-1.0 0.7-1.0 0.6-1.0 0.7-1.0M109.1 107.5l1.0 0.6M111.4 113.5l0.8-0.9 0.9-0.8 0.8-0.9 0.8-0.9M111.4 113.5l1.1 0.5M114.4 113.5l0.7 1.0 0.7 1.0M114.4 113.5l1.1-0.6M108.9 114.7l-1.2 0.1M108.9 114.7l0.0 1.2M110.9 121.1l-1.2-0.2M110.9 121.1l-0.1 1.2 0.2 1.2-0.1 1.2-0.3 1.1M108.6 123.1l-0.2 1.2M108.6 123.1l-1.2 0.0M106.5 125.2l-1.2 0.1M106.5 125.2l0.0 1.2-0.3 1.2M104.3 127.2l0.1 1.2M104.3 127.2l-1.2 0.3M114.5 118.7l1.1 0.6M114.5 118.7l0.7-1.0M119.2 123.4l0.7-1.0 0.6-1.0 0.5-1.2 0.4-1.1M119.2 123.4l1.2 0.4M121.5 129.6l0.0 1.2M120.1 134.1l0.3 1.1M123.8 127.7l0.6-1.0 0.7-1.0 0.7-1.0 0.5-1.0M126.5 126.4l1.1 0.4 1.0 0.6M126.5 126.4l0.7-1.0M127.2 131.1l1.2-0.1M127.2 131.1l-0.2-1.1M125.7 133.6l0.4 1.1M129.1 135.0l1.2 0.2M103.7 105.6l0.7 1.0M103.7 105.6l-1.1 0.5-1.1 0.4M103.5 102.8l0.4-1.2M98.3 102.8l0.5-1.1M97.7 103.8l-0.8-0.9M98.0 106.8l-0.6 1.0-0.4 1.2-0.5 1.0-0.5 1.1-0.4 1.2M98.0 106.8l1.0 0.7M91.9 107.9l0.8 0.9M91.9 107.9l-1.0 0.7M91.6 110.9l-0.8 0.9-0.8 0.9-0.9 0.8M90.1 104.1l-1.2-0.2M90.1 104.1l0.2-1.2M85.6 106.1l-1.1-0.5M85.6 106.1l0.5-1.1M86.2 109.0l0.8 1.0 0.8 0.8M86.2 109.0l-0.9 0.7M86.5 112.0l-0.6 1.1-0.4 1.1M86.5 112.0l0.7 0.9M86.4 116.5l0.7 1.0M86.4 116.5l-0.8 0.9-0.8 0.9M82.5 108.2l-0.8-0.8-0.8-0.9M80.2 105.5l-0.8-0.9M82.5 108.2l-0.5 1.1-0.5 1.1-0.5 1.1-0.5 1.1M109.1 117.2l0.2-1.2M109.1 117.2l-1.2-0.3M109.9 120.0l-0.5 1.1M104.9 124.5l-0.6 1.0M104.9 124.5l1.0 0.7M102.6 119.2l-1.0-0.6M102.6 119.2l0.3-1.2M99.7 122.8l-0.7-1.0-0.7-1.0M99.7 122.8l-1.1 0.3M101.5 124.9l1.0 0.7M101.5 124.9l-0.7 1.0M96.2 127.9l1.1 0.6 0.9 0.8 1.0 0.7 0.7 0.9M96.2 127.9l-0.5 1.1M94.5 125.7l-1.1 0.3M94.5 125.7l-0.2-1.2-0.4-1.1-0.3-1.2M91.1 129.3l-1.2-0.1-1.2-0.2-1.2-0.2M91.1 129.3l-0.2 1.2M88.7 131.2l-0.1 1.2 0.0 1.2-0.1 1.2M88.7 131.2l-1.2 0.0-1.2-0.1-1.2 0.0M86.1 132.7l-1.1-0.3M86.1 132.7l-0.3 1.2-0.4 1.1-0.1 1.2M28.9 129.6l1.2-0.2M28.9 129.6l0.1-1.2-0.2-1.2-0.1-1.2 0.0-1.2-0.1-1.2M30.0 126.8l-0.4-1.2M30.0 126.8l1.1-0.6 1.1-0.5M31.3 124.1l1.1-0.3M31.3 124.1l-0.2-1.2M28.8 134.0l1.0 0.6 0.9 0.8M31.6 136.2l0.8 0.9M28.8 134.0l-0.8 0.8M29.3 136.9l-0.8 0.9-0.9 0.8M29.6 139.9l0.8 0.9 0.9 0.8M29.0 140.9l-0.5 1.1M35.1 131.5l-0.8 1.0-0.7 0.9M35.1 131.5l0.9 0.8 1.0 0.7M35.3 136.0l0.7 1.0 0.6 1.0M35.3 136.0l-0.8 0.9M35.3 139.0l-0.9 0.8M35.1 128.6l0.8-0.9M36.8 126.8l0.9-0.8M41.6 127.7l0.9-0.8M45.8 131.4l-0.2 1.1-0.2 1.2M48.3 130.2l1.0-0.6M48.3 130.2l0.9 0.7M51.2 130.6l0.9-0.8M49.6 136.4l-1.2 0.1-1.2 0.1M53.6 141.6l0.2 1.2 0.0 1.2M53.6 141.6l-1.0 0.6M50.2 146.6l0.2 1.1M49.0 146.4l-1.1-0.4-1.1-0.4M56.7 148.0l0.2 1.2M64.4 148.7l0.1-1.2 0.0-1.2 0.0-1.2-0.1-1.2M66.8 146.9l1.2 0.1M69.1 145.0l1.2-0.2M69.1 145.0l-0.1-1.2M69.5 150.9l-0.4-1.1M74.9 157.3l-1.1 0.6-0.9 0.7M74.9 160.3l0.7 0.9M73.3 162.1l-0.8 0.9M74.5 163.2l-1.0 0.7M74.5 163.2l0.5 1.1M75.5 153.0l1.0-0.7M81.1 156.1l0.1-1.2 0.1-1.2 0.2-1.2 0.0-1.2 0.3-1.1M81.1 156.1l1.2-0.1M83.3 154.1l1.2 0.2 1.2 0.1M83.3 154.1l0.5-1.1M85.5 152.0l0.1-1.2M85.7 149.6l0.0-1.2M80.1 158.7l0.9 0.8M80.1 158.7l-0.8 0.9M87.3 162.6l-0.9 0.8M86.8 166.4l-0.9 0.8M87.7 165.6l1.0 0.6M88.8 169.5l0.7 0.9M88.0 168.6l-0.8 0.8-0.9 0.9M87.8 172.6l-0.7 1.0M88.4 171.6l0.9 0.7M95.8 162.3l1.2-0.3M98.2 161.7l1.1-0.4M93.5 163.0l0.1-1.2M95.6 160.8l1.2-0.1M97.8 158.8l1.1 0.3M97.8 158.8l0.3-1.2 0.4-1.1M95.9 168.7l-1.1 0.6M97.0 168.3l0.5 1.0M98.6 165.7l1.1-0.5M101.8 164.1l1.1-0.5M105.4 169.4l0.4-1.1 0.3-1.2 0.5-1.1 0.6-1.0M108.0 167.8l1.1 0.5M110.2 168.8l1.0 0.6M110.6 166.4l0.6-1.0 0.6-1.1M110.6 166.4l1.1 0.5M101.6 173.8l0.4 1.1M101.6 173.8l-1.1 0.5M106.0 175.3l0.8 0.9 0.9 0.8M112.8 177.3l1.1 0.4M112.8 177.3l0.2-1.2 0.2-1.2 0.2-1.2M115.4 175.8l0.0-1.2M115.4 175.8l1.2 0.1M118.3 173.1l0.2-1.2 0.1-1.2M111.3 179.5l-1.0 0.6M111.3 179.5l1.0 0.7M120.5 185.5l0.9 0.8M116.6 183.7l-0.3 1.1M117.2 187.0l-0.8 0.9-0.7 1.0M117.9 186.1l1.0 0.6M118.8 179.0l0.0-1.2M124.6 180.8l1.1-0.5 1.1-0.5 1.1-0.3M129.0 178.9l1.1-0.4M126.0 178.2l-0.4-1.2-0.4-1.1-0.4-1.1M126.0 178.2l1.2-0.3M128.2 174.2l1.1-0.2 1.2-0.2 1.2-0.4M127.8 173.1l-0.4-1.2M124.7 186.5l0.9 0.8 1.1 0.6M124.7 186.5l-0.7 1.0M130.9 184.4l1.0-0.7 0.9-0.8 0.9-0.7 0.9-0.9M133.8 185.1l0.6 1.0M133.8 185.1l1.1-0.5M57.9 149.2l-1.2 0.1M57.9 149.2l0.3-1.2M60.3 152.8l-0.5 1.0-0.6 1.1-0.6 1.0M60.3 152.8l0.9 0.7M55.2 156.5l-0.4 1.1-0.3 1.2M54.2 159.9l-0.4 1.2M55.2 156.5l1.1 0.4M53.2 152.5l-1.2 0.0M53.2 152.5l0.0-1.2M47.5 154.7l-1.2-0.1M47.9 153.6l0.4-1.1 0.3-1.2M47.4 158.4l-0.9 0.8M45.5 159.9l-1.1 0.5M48.2 157.5l0.8 0.9 0.9 0.8M41.7 157.8l-1.1 0.4M38.5 159.4l-1.1 0.5M41.2 161.8l0.3 1.2M40.8 160.6l-1.0 0.6M42.7 153.4l0.8-0.9 0.8-0.9 0.7-0.9 0.9-0.9M42.7 153.4l-0.4-1.2M36.1 152.2l0.9-0.8 0.7-1.0M38.4 149.4l0.6-1.0M36.1 152.2l-1.0-0.6M35.5 149.3l-1.0-0.7M35.5 149.3l0.6-1.1M35.3 146.3l0.9-0.8 0.8-0.8 0.9-0.8M35.3 146.3l-0.9-0.8-1.1-0.6M35.9 155.1l-1.1 0.5-1.0 0.7-1.1 0.4M35.9 155.1l0.5 1.1M31.6 152.7l-0.9-0.9M64.1 157.6l1.0-0.7 0.9-0.8 0.9-0.8 0.9-0.8M59.9 158.8l-0.1 1.2-0.1 1.2 0.0 1.2M62.3 164.9l0.1 1.2M62.3 164.9l-1.0-0.6M60.1 166.8l-0.1 1.2M57.7 168.7l0.2 1.2-0.1 1.2M57.7 168.7l-1.1 0.4M54.1 170.1l-1.1-0.3M55.3 170.4l-0.1 1.2 0.0 1.2M65.0 164.4l1.1-0.5 1.1-0.4 1.1-0.4M65.0 164.4l0.5 1.1M67.9 165.2l1.1-0.4M66.0 170.5l0.8-0.9M66.4 177.6l-1.2-0.1-1.2 0.1-1.2-0.1M66.4 177.6l-0.3 1.2M63.0 180.6l-0.3 1.1-0.5 1.1M63.0 180.6l-1.2 0.0M71.1 176.5l1.2 0.3M69.1 174.7l0.2-1.2M71.7 180.2l1.1 0.4 1.2 0.3 1.2 0.3M71.7 180.2l0.7-0.9M69.6 182.1l-1.2 0.3-1.1 0.5-1.0 0.6M69.6 182.1l0.1 1.2 0.2 1.2M73.5 187.1l-1.1 0.4-1.1 0.4-1.2 0.3-1.2 0.0M73.5 187.1l0.3 1.2M71.9 189.6l0.2 1.2 0.0 1.2M71.9 189.6l-1.2 0.0M75.9 185.5l0.8-0.9M78.2 182.8l1.0-0.8M75.9 185.5l1.1 0.5 1.1 0.4 1.1 0.5M80.9 189.2l1.2-0.2M80.9 189.2l-0.1-1.2M77.7 196.1l0.1 1.2M77.2 193.7l-1.2 0.4M81.9 199.7l-0.1 1.2M79.4 201.0l0.1 1.2M78.3 201.5l-1.1 0.4M89.2 200.5l0.8-0.9M85.8 202.6l-1.2 0.2M87.0 202.4l0.2 1.1M90.6 203.9l1.1-0.5 1.1-0.5M40.9 124.8l-0.8 0.8M40.9 124.8l-0.7-1.0-0.7-1.0-0.7-0.9M42.7 117.8l0.0-1.2M46.1 114.8l0.2-1.2 0.3-1.1 0.3-1.2M48.5 115.1l1.2 0.2M40.2 119.2l-1.2-0.1M37.8 119.0l-1.2-0.2M40.2 119.2l-0.8 1.0M38.3 113.2l-1.2 0.0M35.9 113.1l-1.2-0.4-1.0-0.5M36.7 109.0l-1.2-0.3M35.7 105.9l-1.1-0.5M36.7 106.4l0.5-1.1M74.1 148.7l1.1 0.4 1.0 0.5M71.2 149.3l-0.9 0.8M69.7 143.7l-0.2-1.2M73.6 144.3l0.1-1.2M75.6 138.7l1.2 0.1M73.2 138.4l0.5-1.1M74.4 136.3l0.6-1.0M76.1 137.5l0.5-1.1M80.0 137.0l1.0 0.7M78.9 136.5l0.5-1.2 0.6-1.0M74.2 132.0l0.7-1.0 0.6-1.0 0.7-1.0M74.2 132.0l1.1 0.5M72.2 125.9l1.0 0.6M74.8 124.5l0.3-1.2 0.1-1.2M74.8 124.5l1.2-0.1M77.5 123.2l1.1 0.5 1.1 0.6 1.0 0.5M77.5 123.2l0.3-1.2 0.2-1.1M69.5 125.8l-0.4-1.1M69.5 125.8l-1.2 0.1M67.1 125.9l-1.2-0.1-1.2 0.1-1.2 0.0M67.0 124.1l-1.2 0.1M64.7 122.2l-0.2-1.2-0.3-1.2-0.3-1.1M64.7 122.2l-1.2 0.2M71.9 122.0l0.5-1.1M70.1 118.8l-1.0-0.7M69.3 115.9l-1.2-0.3M67.7 111.7l0.3-1.1M94.4 142.6l1.1-0.4 1.1-0.5M94.4 142.6l-0.2-1.2M96.5 140.5l-0.1-1.2M96.0 138.2l-0.1-1.2M96.5 140.5l1.2 0.0M98.7 138.4l1.2-0.3 1.1-0.4M98.7 138.4l0.3-1.1M92.9 146.6l-0.9 0.8-0.9 0.8M90.2 149.0l-0.8 0.9M92.9 146.6l0.8 1.0M98.8 147.2l0.4 1.1M98.2 150.1l0.5 1.1M98.2 150.1l-0.9 0.9M99.8 144.4l1.1-0.5M103.6 145.7l-0.3-1.1M103.6 145.7l1.1-0.4M102.9 154.9l-0.5 1.1M104.9 155.9l1.1 0.5M110.2 152.8l-0.8 0.9M111.2 148.4l1.1-0.3 1.2-0.3 1.2-0.1 1.2 0.0M111.2 148.4l-0.2-1.2-0.2-1.1M110.9 144.9l0.4-1.2 0.4-1.1M117.6 150.9l0.0-1.2M120.0 149.1l1.2-0.1M117.2 154.3l0.8 0.8M115.7 154.4l-0.6 1.0-0.8 0.9M115.1 158.6l-0.9 0.7M123.1 157.5l1.0 0.7M121.8 159.9l-0.8 0.9M123.3 152.9l1.2 0.3M123.6 151.8l0.2-1.2M124.1 149.4l-0.1-1.2 0.0-1.2M128.0 157.5l0.8 0.9M129.5 159.4l0.7 1.0M128.0 157.5l-0.5 1.1M127.9 160.5l-1.0 0.7-1.0 0.6M130.8 157.0l0.6 1.0M130.8 157.0l0.9-0.8 0.8-1.0 0.8-0.9 0.7-0.9M114.1 180.8l0.5 1.1M111.5 186.8l0.7 1.0 0.8 0.9 0.8 0.9M108.7 186.0l-1.0 0.6-1.1 0.6M108.1 184.9l-0.4-1.1-0.4-1.1-0.4-1.2M104.2 185.4l-0.7-0.9M103.2 186.1l-1.0 0.6M107.6 192.4l-1.0 0.7M104.6 192.2l-0.8 0.8M104.6 192.2l-0.7-0.9-0.8-0.9-0.9-0.9M111.6 194.1l0.3 1.2M117.8 197.1l1.1-0.4M119.0 199.2l0.1 1.2 0.1 1.2M113.8 197.6l1.2 0.1M113.8 197.6l0.3-1.2M111.5 199.3l-1.2 0.1M109.1 199.7l-1.2 0.2-1.2 0.0M111.5 199.3l-0.2 1.2-0.1 1.2-0.1 1.2M116.6 201.9l0.4 1.1 0.4 1.2M116.6 201.9l1.2 0.0M118.8 128.3l-1.1 0.5M121.0 126.4l1.1 0.6M127.7 130.1l0.4-1.1M127.7 130.1l1.0 0.6M124.7 132.8l0.9 0.8M129.4 136.8l-1.1 0.5M129.4 136.8l0.4 1.1M131.1 134.3l0.2-1.2 0.2-1.2 0.1-1.2 0.2-1.2M134.8 136.9l0.2-1.2 0.4-1.1 0.4-1.1 0.4-1.2M136.7 134.5l1.1-0.2 1.2-0.3 1.2-0.1M136.7 134.5l-0.2-1.2M133.2 140.9l-1.0 0.7M131.2 142.2l-1.1 0.5M133.2 140.9l0.6 1.0M140.2 149.6l0.5 1.1M140.8 140.6l1.2 0.4M147.6 143.7l1.2-0.2M148.2 141.4l-0.1-1.1-0.4-1.2M148.2 141.4l1.2-0.1M145.5 146.5l-0.9 0.8-0.8 0.9M145.8 149.5l0.9 0.7M146.0 152.5l-0.6 1.0M146.2 155.5l0.7 0.9M149.8 150.4l-1.2 0.2M151.9 148.3l0.4-1.1 0.4-1.2 0.3-1.1 0.5-1.1 0.5-1.1M159.0 150.8l1.2-0.3M160.4 159.0l-1.0 0.7-0.8 0.9M159.5 161.9l-1.0 0.5M159.5 161.9l0.6 1.1M159.3 164.9l0.9 0.8M161.2 166.4l1.0 0.6M159.4 167.9l-1.1 0.5-1.1 0.5M159.4 167.9l1.0 0.6M162.3 157.1l1.1 0.4M162.3 157.1l0.3-1.2M166.6 155.7l0.7-1.0 0.5-1.1 0.5-1.1M166.6 155.7l1.0 0.6M167.0 161.7l0.3-1.2M164.7 163.5l-1.1 0.4M168.1 166.8l0.3 1.1M168.1 166.8l-1.2 0.3-1.1 0.4M165.7 169.8l-1.2 0.3-1.2 0.1M166.8 169.5l0.2 1.2M169.8 164.4l0.2-1.2M172.6 167.6l1.1-0.5 1.1-0.5M171.4 168.0l0.3 1.1 0.3 1.2 0.4 1.1 0.5 1.2M120.5 163.2l-0.5-1.1M120.4 166.1l0.9 0.8M126.9 167.0l-0.3 1.1M127.0 164.3l-0.1-1.1M132.8 165.2l1.1-0.5 1.2-0.3 1.1-0.1 1.2-0.2M132.8 165.2l-0.4-1.1-0.5-1.1M133.8 162.4l-0.3-1.2M133.8 162.4l1.0-0.7 0.9-0.8 0.9-0.8 0.9-0.8M132.2 168.1l0.7 1.0 0.7 1.0M134.2 171.1l0.7 1.0M132.2 168.1l-1.1 0.6M139.0 170.7l0.3 1.2 0.4 1.1M140.2 174.1l0.5 1.1M138.0 172.5l-1.0 0.7M138.0 172.5l0.7 1.0M139.9 167.0l0.0-1.2M141.8 164.7l1.2-0.1 1.2-0.2 1.2-0.4 1.1-0.5M141.8 164.7l0.1-1.2M147.0 167.2l-0.1-1.2M148.2 167.0l1.2 0.0 1.2 0.1M145.8 171.3l1.2 0.3M146.4 174.2l-0.6 1.1M146.4 174.2l0.8 0.9M146.9 170.2l0.3 1.2M146.9 170.2l1.2-0.2M127.5 195.8l0.4 1.1 0.4 1.1 0.3 1.2 0.3 1.1M125.3 190.7l-0.6-1.0M125.3 190.7l0.7-1.0M130.9 189.4l-0.9-0.8M130.9 189.4l0.5-1.1M131.6 192.2l-0.4 1.1M137.1 189.4l-0.1 1.2 0.0 1.2 0.0 1.2M137.1 189.4l1.1 0.5M138.8 191.9l1.2 0.0 1.2-0.1 1.2-0.2M140.5 194.4l-0.3 1.2-0.1 1.1M141.7 194.4l1.2-0.1M135.6 186.8l0.5-1.1M141.9 184.5l0.7-1.0 0.3-1.2 0.3-1.1 0.5-1.2M141.9 184.5l-0.9-0.8M142.8 187.3l1.2 0.0M147.5 182.0l-0.9-0.7M149.2 180.3l1.0-0.7 0.8-0.8M152.8 182.8l1.0-0.5M153.4 179.9l1.1-0.5 0.9-0.8 0.8-0.9M154.2 177.0l-0.6-1.0-0.7-1.0-0.7-1.0M155.1 174.1l-0.6-1.0M155.1 174.1l0.9-0.8M152.6 185.8l1.1 0.4 1.0 0.7 1.1 0.5 1.0 0.6M152.6 185.8l-0.7 1.0-0.7 0.9-0.9 0.9-0.7 0.9M158.5 181.8l0.8-1.0M158.5 181.8l-1.0-0.7M164.5 180.7l-1.0-0.6-1.1-0.6M164.5 180.7l0.9-0.8 0.9-0.7 0.9-0.9M163.8 177.8l-1.0-0.6-1.1-0.5-1.2-0.3-1.2-0.3M165.3 183.6l-0.5 1.0M165.3 183.6l1.0 0.6M167.3 184.9l1.1 0.6 0.9 0.8M171.7 182.4l1.2 0.3M171.7 182.4l-0.3 1.2M173.4 184.9l-0.3 1.2-0.5 1.1M173.4 184.9l1.2 0.0 1.2-0.2M171.6 177.1l0.7-1.0M171.1 178.2l-0.7-1.0M174.5 180.5l1.1 0.4M174.5 180.5l0.8-0.8M131.8 208.2l1.2-0.1M131.8 208.2l-0.1 1.2-0.2 1.2M133.6 210.6l1.1 0.3 1.2 0.4M128.8 205.8l-1.2 0.1M133.8 202.9l-1.1-0.3M133.8 202.9l0.3-1.1M134.5 200.6l0.4-1.1 0.5-1.1 0.4-1.1M135.8 204.9l0.5 1.1 0.3 1.2 0.2 1.2M135.8 204.9l1.2-0.4 1.1-0.2 1.2-0.2M146.5 199.7l-0.4-1.1-0.4-1.2M146.5 199.7l0.9-0.8M147.2 196.8l1.2-0.1M147.2 196.8l-0.7-1.0M146.1 202.6l0.8 0.9 0.8 0.9 0.8 0.9M146.0 205.6l-0.9 0.8M152.7 200.7l1.0-0.5M156.0 199.5l1.2-0.2 1.2 0.0M152.7 200.7l-0.9-0.8-0.8-0.9-0.7-0.9M154.0 196.4l-0.7-0.9M154.0 196.4l0.9-0.7M158.7 204.1l0.5 1.1M158.0 203.2l0.9-0.8 1.0-0.7 1.0-0.6 1.2-0.4M40.0 165.0l0.6 1.1M39.7 168.0l0.8 0.9 0.5 1.1 0.4 1.1M39.7 168.0l-1.2 0.5M39.3 171.0l-0.8 0.9-0.8 0.9M39.3 171.0l0.7 0.9M154.0 59.7l1.2 0.1 1.2 0.0 1.2 0.1M154.0 59.7l0.0-1.2M154.7 140.5l1.2-0.3M154.7 140.5l-0.2-1.2M53.6 175.9l-1.1 0.5-1.1 0.5M52.0 180.1l0.7 1.0 0.7 1.0M149.4 40.0l1.2-0.3 1.2-0.1M149.4 40.0l-0.1 1.2 0.0 1.2 0.1 1.2M185.4 153.7l-0.8-0.9-0.7-1.0-0.6-1.0M185.4 153.7l-0.9 0.8-1.1 0.6-1.1 0.5" stroke="#4480bd" stroke-width="0.8" stroke-opacity="0.75"/>
<path d="M112.0 82.5l-0.9-0.4M112.0 82.5l-0.9 0.2M112.7 81.2l-0.7-0.7M112.7 81.2l0.5-0.9M110.1 79.9l-0.9-0.5M110.1 79.9l0.4-0.9M109.4 81.6l-0.9-0.4M109.4 81.6l-0.2 0.9M106.6 80.1l-0.5 0.9M106.6 80.1l-0.9-0.4M104.2 80.7l-0.9-0.2M104.2 80.7l-0.7 0.7M107.1 78.8l0.0-1.0M107.1 78.8l-1.0 0.2M105.6 76.9l-1.0 0.0M105.6 76.9l0.0-1.0M103.1 77.1l0.4-0.9M103.1 77.1l-0.9-0.5-1.0-0.4M102.5 78.7l-1.0-0.2M102.5 78.7l0.0 1.0M118.3 81.8l0.2 1.0M118.3 81.8l0.9-0.3M117.3 80.2l-0.4-0.9M117.8 77.9l0.9-0.5M117.8 77.9l-0.1-1.0M111.3 76.7l-0.7 0.7M111.3 76.7l-1.0-0.3M111.6 75.5l0.1-1.0M111.6 75.5l-1.0 0.1M109.6 74.2l-1.0 0.3M109.6 74.2l-0.6-0.8M107.4 73.1l-0.7-0.7M107.4 73.1l-1.0 0.3M110.8 69.6l-1.0 0.1M110.8 69.6l-0.2-0.9M108.7 68.4l-0.5-0.8M108.7 68.4l-1.0 0.0M110.9 71.2l-0.2 1.0M107.9 71.3l-1.0 0.1M107.9 71.3l0.0 1.0M107.7 69.9l-0.4-0.9M107.7 69.9l-0.9 0.5M104.9 69.5l-0.3-1.0M104.9 69.5l-1.0 0.0M103.2 67.8l-0.9-0.4M103.2 67.8l-0.2-1.0M104.7 71.0l-0.2 0.9M104.7 71.0l-1.0-0.1M102.0 71.4l-0.9 0.3M102.0 71.4l0.0 1.0M101.9 69.6l-1.0 0.1M101.9 69.6l-0.4-0.9M115.8 70.4l1.0-0.1M115.8 70.4l0.4 0.9M118.2 70.8l0.7 0.7M118.2 70.8l0.9-0.5M115.2 68.9l0.9-0.5M118.2 68.3l0.9-0.2M118.2 68.3l-0.3-0.9M119.3 66.2l0.0-1.0M119.3 66.2l0.9-0.3M118.6 70.1l0.3 0.9M118.6 70.1l1.0-0.2M121.6 69.5l1.0 0.0M123.6 70.8l0.6 0.9M121.4 68.0l0.0-1.0M121.4 68.0l1.0-0.3M122.1 67.1l0.9-0.5M122.1 67.1l0.0-1.0M124.3 67.6l1.0-0.3M124.3 67.6l-0.1-1.0M124.7 69.0l0.8-0.5M113.2 61.8l0.7-0.6M113.2 61.8l-0.3-0.9M114.1 62.9l0.9-0.5M114.1 62.9l0.8 0.6M116.1 60.6l1.0 0.3M116.1 60.6l0.7-0.8M115.4 59.7l-0.2-1.0M115.4 59.7l0.7-0.7M109.9 65.4l-1.0 0.4M109.9 65.4l0.4 0.9M109.6 63.5l-0.2-0.9M109.6 63.5l-0.9 0.5M107.1 58.1l-0.2-1.0M107.1 58.1l-0.9 0.4M105.0 56.9l-0.9 0.3M105.0 56.9l-0.4-0.9M107.5 59.9l0.3 0.9M107.5 59.9l-1.0 0.2M106.7 62.1l-1.0 0.1M106.7 62.1l0.5 0.9M111.8 55.3l0.9-0.6M111.8 55.3l-0.7-0.7M111.5 52.9l-0.6-0.7M111.5 52.9l0.8-0.6M113.0 56.3l0.9 0.4M109.1 49.1l0.9-0.5M109.1 49.1l-0.7-0.6M109.3 47.9l-0.5-0.8-0.5-0.9M109.3 47.9l0.4-0.9M109.9 45.6l0.8-0.7M109.9 45.6l-0.3-0.9M110.1 50.4l0.5 0.9M104.6 52.0l-0.3-0.9M104.6 52.0l-0.9 0.3M104.8 53.8l-1.0 0.0M104.8 53.8l0.1 1.0M100.8 50.2l-0.8 0.6M100.8 50.2l-0.7-0.6M101.9 51.7l-0.8 0.7M106.4 47.3l1.0 0.4M106.4 47.3l0.3-1.0M105.3 46.7l-0.8-0.6M105.3 46.7l0.6-0.8M99.6 42.9l-0.4-0.9M99.6 42.9l0.7-0.7M98.6 43.9l-1.0 0.2M98.6 43.9l-0.6-0.9M96.2 43.3l-0.4-0.9M96.2 43.3l-0.9 0.4M96.4 42.1l-0.6-0.9M96.4 42.1l-0.9 0.5M97.2 40.9l-0.8-0.6M97.2 40.9l0.5-0.8M96.5 38.6l0.3-0.9M96.5 38.6l-0.9-0.3M95.3 38.8l0.7-0.7M95.3 38.8l-0.5-0.9-0.3-0.9M94.2 40.0l-0.9 0.4M94.2 40.0l-0.9-0.5M104.6 43.6l1.0 0.1M104.6 43.6l0.3-1.0M105.7 42.9l0.4-0.9M105.7 42.9l0.9-0.2M104.5 45.1l0.9 0.4M105.3 39.0l0.0-1.0M105.3 39.0l1.0-0.1M107.3 37.6l0.9 0.4M107.3 37.6l0.4-0.9M105.3 40.5l1.0 0.1M105.3 40.5l0.0 1.0M101.2 38.0l-0.7-0.7M101.2 38.0l0.8-0.7M100.3 39.3l-0.8 0.5M99.6 35.6l-1.0 0.1M99.6 35.6l-0.3 1.0M100.0 34.0l-1.0-0.2M100.0 34.0l0.0-1.0 0.3-1.0M98.8 31.9l0.3-0.9M98.8 31.9l-1.0-0.1M106.2 35.7l0.9-0.4M106.2 35.7l0.4 0.9M105.8 34.2l1.0-0.2M105.8 34.2l0.0-1.0M106.9 30.8l0.9 0.5M106.9 30.8l-0.5 0.8M107.7 29.2l0.5-0.8M107.7 29.2l0.7 0.7M101.8 26.9l-0.5-0.9M101.8 26.9l-0.7 0.6M100.6 26.8l-0.6 0.7M102.7 25.9l0.2-0.9M102.7 25.9l-0.9-0.5M100.4 24.0l-0.9-0.5M100.4 24.0l0.5-0.9M100.2 21.6l0.6-0.8M99.5 25.2l-0.8-0.5M99.5 25.2l-0.5 0.9M104.5 22.1l0.0-1.0M104.5 22.1l-1.0-0.1M102.7 20.5l-1.0 0.1M102.7 20.5l-0.1-1.0M104.3 23.6l-1.0 0.0M104.3 23.6l-0.4 0.9M109.1 24.1l0.0 1.0M109.1 24.1l1.0-0.1M111.1 25.4l1.0 0.3M112.2 26.0l0.3 1.0M112.2 26.0l1.0-0.1M108.9 22.3l0.8-0.5M108.9 22.3l-0.1-1.0M112.1 22.3l1.0 0.1M112.1 22.3l-0.2-1.0M114.1 20.9l0.3-1.0M114.1 20.9l0.9 0.1M112.2 23.8l0.2 1.0M112.2 23.8l1.0 0.1M115.2 23.1l1.0 0.0M115.2 23.1l0.5 0.9M115.0 21.7l0.2-1.0M115.0 21.7l1.0 0.1M110.8 16.7l1.0 0.0M110.8 16.7l0.3-1.0M112.8 15.3l0.3-0.9M110.8 18.3l1.0-0.1M110.8 18.3l0.1 1.0M106.2 16.5l-0.8-0.6M106.2 16.5l-0.7 0.8M103.8 16.4l-0.8 0.6M103.8 16.4l-0.6-0.8M107.2 15.3l-0.8-0.6M107.2 15.3l0.2-1.0M108.3 15.0l0.4-0.9M108.3 15.0l-0.9-0.4M109.7 15.5l0.0-1.0M109.7 15.5l1.0 0.3M95.7 49.1l0.9 0.3M95.7 49.1l-0.2 0.9M97.2 50.9l0.3 0.9M97.2 50.9l1.0 0.1M93.9 48.8l0.2 1.0M93.9 48.8l-1.0-0.1M93.7 52.0l-1.0 0.3M93.7 52.0l0.4 0.9M92.3 53.9l0.3 1.0M92.3 53.9l-1.0 0.3M94.8 52.3l0.8 0.6M87.1 49.0l-0.5 0.8M87.1 49.0l-1.0-0.1M88.9 49.5l0.9 0.5M88.9 49.5l-0.1 1.0M88.5 52.4l1.0 0.3M89.8 54.4l-0.2 1.0M89.8 54.4l1.0 0.0M87.0 52.4l-1.0 0.3M87.0 52.4l-0.3 1.0M86.2 55.1l-0.1 1.0M86.2 55.1l-1.0 0.0M84.5 56.8l-1.0 0.2M84.5 56.8l-0.2 1.0M87.7 55.5l0.8 0.6M87.2 58.2l-0.1 1.0M87.2 58.2l0.9 0.2M85.5 58.0l-1.0 0.3M85.5 58.0l-0.2 1.0M86.2 44.0l-0.7-0.7M86.2 44.0l-0.9 0.3M84.0 43.0l-0.9 0.5M84.0 43.0l-0.5-0.8M87.9 43.2l-0.5-0.9M86.2 39.1l1.0 0.0M86.2 39.1l-0.2-1.0M84.4 39.9l-0.8-0.6M83.6 36.8l-0.3-1.0M85.1 36.2l-0.4-1.0M84.7 33.3l0.9-0.3M84.7 33.3l0.1-0.9M83.1 33.6l-1.0-0.1M83.1 33.6l-0.2-0.9M80.4 45.2l-1.0 0.1M80.4 45.2l-0.3-0.9M81.7 44.9l0.7-0.7M81.7 44.9l-0.5-0.9M75.3 49.1l0.7 0.7M75.3 49.1l-0.4 0.9M75.7 51.4l-0.7 0.7M75.7 51.4l0.7 0.7M73.9 48.1l-0.6 0.9M73.9 48.1l-0.8-0.5M71.8 52.2l-0.6 0.8M71.8 52.2l-1.0-0.2M73.3 52.9l0.9 0.3M73.3 52.9l-0.3 1.0M74.3 55.1l-0.4 1.0M74.3 55.1l0.8 0.6M74.8 44.3l0.2-1.0M73.1 42.6l-0.9-0.3M73.1 42.6l0.1-1.0M76.5 44.2l-0.3-1.0M76.5 44.2l0.9-0.3M68.5 43.6l-0.2-1.0M66.7 42.1l-1.0-0.4M66.7 42.1l0.1-1.0M69.9 43.1l-0.6-0.8M69.9 43.1l0.9-0.3M69.0 40.3l0.9-0.5M69.0 40.3l-0.6-0.8M70.0 38.1l-0.1-1.0M67.6 40.8l-1.0 0.1M67.6 40.8l-0.1-1.0M66.6 38.0l-0.9 0.3M66.6 38.0l-0.4-0.9M64.6 36.7l-0.1-1.0M64.6 36.7l-1.0 0.1M68.3 37.5l-0.3-1.0M68.3 37.5l0.8-0.5M67.6 34.7l1.0-0.3M67.6 34.7l0.1-1.0M65.8 35.2l-0.7-0.8M65.8 35.2l-1.0 0.0M69.3 49.6l-0.4 0.9M69.3 49.6l0.9 0.3M67.7 49.2l-1.0-0.3M65.7 50.5l-0.9-0.5M64.6 51.0l-0.5 0.9M64.6 51.0l-1.0-0.1M64.0 47.4l-0.2 1.0M64.0 47.4l1.0 0.3M62.4 47.0l-0.8-0.5M62.4 47.0l-0.4 0.9M60.3 48.2l-0.2 1.0M60.3 48.2l-0.9-0.2M61.7 51.7l0.0 1.0-0.3 1.0M61.7 51.7l-1.0 0.0M63.3 51.7l-0.2 1.0M63.3 51.7l1.0-0.1M56.4 42.0l-0.5-0.9M56.4 42.0l-1.0 0.2M55.3 41.4l-1.0 0.0M55.3 41.4l-0.5-0.9M58.0 41.6l0.0-1.0M58.0 41.6l1.0-0.1M56.1 46.0l-1.0 0.1M56.1 46.0l-0.6 0.9M57.7 46.5l-0.3 1.0M57.7 46.5l1.0 0.3M56.8 49.4l0.9 0.3M56.8 49.4l-0.5 0.9M58.4 51.2l0.4 0.9M58.4 51.2l0.9 0.2M55.0 48.6l-0.4 0.9M55.0 48.6l-0.6-0.8M54.2 51.7l-0.4 0.9M55.7 52.3l0.6 0.8M55.7 52.3l-0.4 0.9M54.2 49.7l0.5 0.9M52.8 50.3l-0.9 0.5M52.8 50.3l0.5 0.8M51.7 52.4l0.3 1.0M51.7 52.4l-0.8 0.5M51.7 45.6l-0.8-0.7M51.7 45.6l0.7-0.7M52.3 43.3l0.9-0.5M52.3 43.3l-0.5-0.9M50.3 46.5l-0.9 0.6M50.3 46.5l-0.6-0.8M48.0 45.9l-0.7-0.8M48.0 45.9l-0.9 0.5M43.7 50.3l-1.0 0.0M43.7 50.3l-0.2 1.0M44.3 48.8l-0.7-0.7M44.3 48.8l0.3-0.9M43.1 46.7l0.4-0.9M43.1 46.7l-1.0 0.0M42.0 47.2l-0.7-0.8M42.0 47.2l0.3-1.0M41.1 48.5l-0.6-0.8M41.1 48.5l-0.3 0.9M38.7 47.0l-0.6 0.8M38.7 47.0l-0.9-0.2M37.7 47.6l-0.9-0.4M37.7 47.6l-0.5 0.8M39.4 45.5l-0.9-0.6-0.8-0.5M39.4 45.5l0.1-1.0M47.6 53.8l0.4 1.0M47.6 53.8l-1.0 0.1M49.3 52.7l0.8-0.6M49.3 52.7l0.9 0.5M44.3 56.7l0.9-0.3M44.3 56.7l0.8 0.6M45.4 57.2l0.4 0.9M45.4 57.2l1.0-0.2M47.6 58.0l0.8-0.6M47.6 58.0l0.5 0.9M42.9 57.5l-0.7 0.7M42.9 57.5l0.4 1.0M40.3 53.4l-0.1-1.0M40.3 53.4l-0.9-0.4M39.7 52.4l-1.0-0.3M39.7 52.4l0.2-1.0M40.0 55.1l-0.5 0.9M40.0 55.1l-1.0-0.2M35.1 53.5l0.5-0.8M35.1 53.5l-0.5-0.8M35.4 51.1l-0.7-0.7M35.4 51.1l0.6-0.7M33.8 54.6l-0.9-0.5M33.8 54.6l-0.9 0.5M32.2 51.6l-0.9 0.3M32.2 51.6l-0.2-0.9M33.5 51.0l-0.2-0.9M33.5 51.0l0.7-0.6M36.3 59.9l0.9-0.2M37.8 61.7l0.9 0.5M37.8 61.7l-0.1 1.0M34.4 59.7l-0.3 1.0M34.4 59.7l-1.0-0.2M32.5 61.2l-1.0-0.1M32.5 61.2l0.1 1.0M28.8 59.6l0.5 0.8M28.8 59.6l-0.3 0.9M29.2 60.7l-0.1 1.0M29.2 60.7l1.0 0.3M27.5 59.0l-1.0-0.2M27.5 59.0l0.0 1.0M25.9 61.1l-0.5 0.8M25.9 61.1l-0.9-0.3M24.7 61.2l-0.7 0.7M27.6 62.2l-0.2 1.0M27.6 62.2l0.8 0.6M26.0 66.1l1.0-0.2M26.0 66.1l-0.4 0.9M29.1 54.5l-0.3-1.0M29.1 54.5l1.0-0.1M24.5 58.4l-0.1 1.0M85.7 44.3l1.0-0.1M85.9 45.8l1.0 0.0M85.9 45.8l0.3 1.0M80.4 43.5l-0.5-0.8M79.3 44.9l-0.6 0.8M79.3 44.9l-0.9-0.4M79.5 39.1l-1.0 0.0M79.5 39.1l-0.1 1.0M77.3 40.2l0.1 1.0M77.3 40.2l-1.0 0.1M80.0 37.4l-0.8-0.5M80.0 37.4l0.2-1.0M77.1 36.4l-0.9-0.4M76.7 38.1l-0.2 1.0M76.7 38.1l-1.0-0.2M73.7 37.0l-0.5 0.8M73.7 37.0l-0.9-0.6M74.1 35.7l0.1-1.0 0.2-1.0M74.1 35.7l-1.0-0.2M85.4 37.5l-0.1-1.0M85.4 37.5l0.9-0.3M85.9 39.0l0.6 0.9M84.5 33.0l0.7 0.7M84.5 33.0l1.0-0.3M84.1 31.7l-0.2-1.0M84.1 31.7l1.0-0.2M85.4 29.6l0.8-0.5M85.4 29.6l-0.2-1.0M79.6 31.8l0.5-0.9M79.6 31.8l-1.0 0.1-1.0 0.0M78.4 29.8l-0.9-0.5M78.4 29.8l0.1-1.0M79.6 33.7l-0.9 0.1M79.6 33.7l0.0 1.0M84.5 27.6l0.9 0.2M84.5 27.6l0.1 1.0M84.7 25.9l1.0 0.2M84.7 25.9l0.5-0.9M79.6 20.1l-0.8-0.7M79.6 20.1l-0.7 0.7M77.2 19.6l-0.7 0.7M77.2 19.6l-0.8-0.6M80.6 18.9l0.6-0.8M80.6 18.9l-0.7-0.7M78.7 16.7l-0.6-0.8-0.9-0.4M78.7 16.7l0.6-0.8M77.5 18.1l-0.8 0.6M77.5 18.1l-0.9-0.4M81.2 17.6l-0.9-0.4M81.2 17.6l-0.6 0.8M81.7 16.1l0.4-0.9M86.3 18.1l0.4 0.9M86.3 18.1l1.0-0.1M87.3 18.6l1.0-0.2M87.3 18.6l0.4 1.0M86.1 16.6l0.9-0.4M89.1 16.4l1.0-0.2M89.1 16.4l-0.1-1.0M89.3 17.8l0.4 0.8M89.3 17.8l0.9-0.5M83.8 13.0l-1.0-0.2M85.5 13.3l0.4-0.9M85.5 13.3l0.9 0.4M60.9 37.3l0.8-0.6M60.9 37.3l-0.1-1.0M61.5 38.7l0.4 1.0M61.5 38.7l1.0 0.1M54.6 37.2l-0.8-0.6M54.6 37.2l0.2-1.0M54.1 34.8l0.6-0.8M54.1 34.8l-0.6-0.7M54.0 38.9l-1.0 0.1M54.0 38.9l-0.5 0.8M56.1 31.1l0.2-1.0M56.1 31.1l-0.8-0.5M55.3 32.6l-1.0-0.3M55.3 32.6l-0.7 0.7M52.7 30.8l-0.6 0.8M52.7 30.8l-0.7-0.8M50.3 31.2l-0.7-0.7M50.3 31.2l-0.6 0.8M53.6 29.6l0.7-0.8M53.6 29.6l-0.7-0.7M51.2 27.9l0.6-0.8M51.2 27.9l-0.9-0.4M50.2 29.3l-0.8-0.6M50.2 29.3l-0.8 0.7M60.0 32.0l0.0-1.0M60.0 32.0l0.9 0.2M60.0 33.8l-0.1 1.0M61.7 27.9l1.0-0.1 1.0 0.0M61.7 27.9l0.0-1.0M63.5 26.4l0.3-1.0M63.5 26.4l1.0 0.2M61.5 29.5l1.0 0.1M61.5 29.5l0.3 0.9M55.1 28.8l-0.9-0.3M55.1 28.8l0.0 1.0M55.4 27.5l-1.0-0.1M55.4 27.5l-0.1-1.0M49.6 27.4l-0.9 0.4M48.7 26.1l-0.7 0.8M44.7 60.4l0.8-0.6M44.7 60.4l0.9 0.5M47.1 60.1l0.7 0.8M47.1 60.1l0.9-0.3M43.9 61.5l0.9 0.6M43.9 61.5l-0.3 1.0M39.8 59.0l-0.3-1.0M39.8 59.0l-1.0 0.2M40.0 60.5l0.0 1.0M40.0 60.5l-1.0-0.2M39.8 64.4l-0.9 0.3M39.8 64.4l-0.5-0.8M40.9 65.9l0.7 0.6M38.3 67.4l-0.9 0.5M38.3 67.4l0.3 1.0M37.3 66.0l-0.9 0.4M37.3 66.0l-0.4-0.9M34.9 67.6l-0.3-0.9M34.9 67.6l-0.8 0.7M35.7 69.1l-0.4 0.9M35.7 69.1l0.6 0.9M45.2 66.5l0.8 0.5M45.2 66.5l-0.7 0.7M45.8 68.8l-0.3 1.0M45.8 68.8l0.8 0.6M46.1 65.0l0.4-0.9M46.1 65.0l0.9 0.5M37.0 68.7l-0.3-1.0M37.0 68.7l-1.0 0.2M37.0 70.0l0.0 1.0M37.0 70.0l-1.0 0.1M31.6 73.1l-1.0-0.1M31.5 74.8l-1.0 0.0M31.5 74.8l-0.2 1.0M27.3 72.1l0.1-1.0M27.3 72.1l-0.9-0.3M26.2 70.0l0.1-1.0M37.5 75.6l0.9 0.4M39.9 75.6l0.9-0.3M39.9 75.6l0.8 0.6M36.3 76.8l0.9 0.6M36.3 76.8l-0.5 0.8M31.5 82.0l0.4 0.9M32.6 81.7l0.0 0.9M34.4 83.2l1.0 0.2M34.4 83.2l0.2 1.0M33.6 84.3l0.9-0.3M33.6 84.3l0.5 0.9M98.6 48.9l0.0 1.0M98.6 48.9l-1.0 0.2M98.8 47.1l0.2-1.0M98.8 47.1l-1.0-0.1M103.3 49.6l0.8-0.6M103.3 49.6l0.1 1.0M102.5 50.6l-0.4 0.9M102.5 50.6l0.9 0.4M96.4 53.5l0.4-0.9M95.9 55.4l-0.9-0.3M95.9 55.4l-0.4 0.9M95.1 55.8l0.8-0.6M95.1 55.8l-0.3-1.0M93.7 56.4l-0.3-1.0M97.3 59.7l0.9-0.4M95.9 60.8l0.5 0.8M95.9 60.8l-0.5 0.9M95.8 63.2l-0.7 0.7M95.8 64.4l0.8 0.6M95.8 64.4l-0.7 0.7M97.1 63.4l-1.0 0.3M97.1 63.4l0.2 1.0M98.7 62.5l0.6 0.8M98.7 62.5l0.9-0.5M101.0 62.7l1.0-0.4M101.0 62.7l0.8 0.6M90.5 63.5l1.0 0.3M90.5 63.5l0.1 1.0M88.9 63.4l-1.0 0.1M88.9 63.4l0.0 1.0M89.3 66.5l0.2 1.0M89.3 66.5l-1.0 0.4M87.5 68.2l-0.9 0.1M87.5 68.2l-0.2 1.0M90.7 66.5l1.0 0.2M90.7 66.5l0.0 1.0M90.8 71.1l-0.3 1.0M90.8 71.1l0.9 0.3M91.9 73.2l1.0 0.1M91.9 73.2l0.0 1.0M89.5 71.0l-1.0 0.0M89.5 71.0l0.2 1.0M88.3 59.0l0.7-0.7M88.3 59.0l-0.8-0.6M87.4 60.1l-0.7 0.8M82.8 61.8l-0.4-0.9M82.8 61.8l0.9-0.4M81.7 63.3l-0.7 0.8M81.7 63.3l-0.9-0.4M79.3 61.8l-0.7 0.8M79.3 61.8l-1.0-0.4M80.1 60.2l0.5-0.8M80.1 60.2l-1.0-0.3M79.3 57.9l-0.9-0.2M79.3 57.9l0.3-0.9M84.5 66.5l-0.1 1.0M83.0 66.1l-0.2 1.0M79.1 68.0l1.0 0.2M79.1 68.0l0.1 1.0M77.7 68.1l0.2 1.0M77.7 68.1l-0.8 0.5M78.0 63.0l-0.9-0.5M78.0 63.0l0.7-0.6M76.8 63.4l-1.0-0.2M76.8 63.4l-0.2-0.9M74.9 62.0l-0.5-0.9M74.9 62.0l-0.9 0.4M73.9 61.3l-1.0 0.0M73.9 61.3l-0.2-1.0M72.2 64.7l-0.6-0.8M72.2 64.7l0.8-0.6M70.8 65.2l0.0-1.0M70.8 65.2l-1.0 0.1M68.5 64.7l-0.8 0.6M66.2 64.0l-0.6-0.8M66.2 64.0l-0.9 0.4M69.6 62.5l-1.0 0.2M69.6 62.5l-0.3-0.9M70.9 62.0l-0.2-0.9M70.9 62.0l0.8-0.6M69.5 59.3l-0.5-0.8M69.5 59.3l0.9-0.5 0.8-0.6M70.6 57.2l0.9-0.2M70.6 57.2l-0.4-1.0M68.0 60.2l-0.9 0.5M68.0 60.2l-0.7-0.6M65.7 59.8l-0.4-0.9M66.6 57.5l-0.9 0.5M66.6 57.5l-0.6-0.8M67.9 56.7l-0.3-1.0M73.5 69.5l0.0 1.0M73.5 69.5l1.0 0.0M75.7 70.6l1.0-0.3M75.7 70.6l0.3 0.9M72.1 69.8l-1.0 0.2M72.1 69.8l0.2 0.9M71.1 71.9l0.5 0.9M71.1 71.9l-0.9 0.3M72.6 72.7l-0.9 0.4M72.6 72.7l0.0 1.0M74.1 72.4l1.0-0.1M74.1 72.4l0.3 0.9M67.8 73.0l-0.2 1.0M67.8 73.0l1.0 0.4M66.3 73.1l0.2 1.0M66.3 73.1l-1.0-0.2M64.5 74.8l-1.0 0.0M64.5 74.8l0.1 1.0M64.0 66.1l0.7-0.7M64.0 66.1l-0.7-0.7M63.1 67.6l-0.9-0.4M63.1 67.6l-0.3 1.0M59.8 70.0l-0.8-0.5M59.8 70.0l-0.5 0.9M61.3 68.8l0.7-0.8M61.3 68.8l-0.2-1.0M61.7 73.5l-0.9 0.6M61.2 74.7l0.4 0.9M61.2 74.7l-0.8 0.5M60.3 76.9l-0.9 0.3M60.3 76.9l0.5 0.9M63.1 73.4l0.2 0.9M63.1 73.4l1.0 0.2M57.8 75.5l0.5 0.9M57.8 75.5l0.7-0.7M56.1 76.4l-0.7 0.8M54.0 72.3l-0.7-0.7M54.0 72.3l0.3-1.0M52.9 70.1l0.1-1.0M52.9 70.1l-0.9-0.4M53.4 73.8l-0.9-0.6M53.4 73.8l-0.2 1.0M48.9 75.6l-0.8-0.6M48.9 75.6l0.8-0.6M48.6 73.3l0.5-0.8M48.6 73.3l-1.0-0.3M47.8 76.9l-0.6 0.7M47.8 76.9l-0.8-0.6M45.7 74.7l-0.9 0.4M45.7 74.7l-0.5-0.8M46.9 73.5l0.5-0.9M46.9 73.5l-0.5-0.8M44.5 71.4l-0.8-0.6M44.5 71.4l0.5-0.9M43.6 72.6l-0.9-0.5M43.6 72.6l-0.7 0.7M52.1 79.3l0.8-0.6M52.1 79.3l0.6 0.8M50.4 80.2l-1.0 0.3M50.4 80.2l0.2 0.9M48.3 82.0l0.6 0.8M48.3 82.0l0.8-0.5M47.0 82.8l0.5 0.9M47.0 82.8l-0.5 0.9M47.0 85.2l-0.6 0.8M47.0 85.2l0.5 0.9M43.1 78.2l-0.5-0.9M43.1 78.2l-0.5 0.9M40.7 78.2l-0.9 0.4M40.7 78.2l-0.8-0.7M44.4 77.0l0.6-0.8M44.4 77.0l-0.5-0.8M42.8 83.6l-0.9 0.4M42.8 83.6l0.5 0.8M42.1 82.1l-0.9 0.3M42.1 82.1l-0.6-0.8M39.7 83.8l-0.6-0.8M39.7 83.8l-1.0 0.1M37.4 83.1l-0.9 0.5M37.4 83.1l-0.7-0.7M40.4 85.3l-0.9 0.2M40.4 85.3l0.4 1.0M38.0 87.0l-0.6 0.8M37.2 85.5l-0.8 0.7M37.2 85.5l-0.8-0.6M109.4 84.2l-1.0 0.0M109.4 84.2l-0.3-1.0M111.2 84.1l1.0 0.0M111.2 84.1l-0.1-1.0M111.4 90.4l1.0 0.1M111.4 90.4l0.0 1.0M112.8 92.3l0.0 1.0M112.8 92.3l1.0 0.0M109.9 90.3l0.0 1.0M109.9 90.3l-1.0 0.5M108.5 92.3l-0.8 0.5M108.5 92.3l0.3 1.0M109.9 93.4l0.0 1.0M109.9 93.4l-0.9 0.5M111.4 93.3l-0.1 1.0M106.8 91.2l0.0 1.0M106.8 91.2l1.0 0.1M105.0 90.7l-1.0-0.3M98.3 88.1l-0.1-1.0M98.3 88.1l-1.0 0.3M100.1 87.5l0.9-0.3M100.1 87.5l-0.1-1.0M101.9 86.0l0.3-1.0M101.9 86.0l1.0 0.1M99.3 84.5l-0.4-0.9M99.3 84.5l1.0-0.1M100.4 82.4l0.9-0.1M100.4 82.4l-0.2-1.0M97.6 85.2l-0.9 0.5M95.5 84.0l0.0-1.0M95.5 84.0l-1.0 0.3M96.9 82.0l-0.3-1.0M96.9 82.0l-1.0 0.0M98.5 81.7l0.0-1.0M99.6 92.6l0.9 0.4M99.6 92.6l-0.6 0.8M98.2 92.1l-0.2 1.0M94.3 92.7l0.1 1.0M94.3 92.7l-1.0-0.1M93.3 93.4l-1.0 0.0M96.0 92.9l0.3 1.0M96.0 92.9l1.0 0.3M95.5 86.5l-0.2-0.9M95.5 86.5l1.0 0.1M93.9 86.8l0.0-1.0M93.9 86.8l-1.0 0.0M90.0 88.3l0.1-1.0M90.0 88.3l1.0 0.0M91.3 86.3l0.9-0.4M91.3 86.3l-0.6-0.8M88.7 88.2l-1.0 0.0M88.7 88.2l-0.2-1.0M87.3 86.3l0.3-1.0M87.3 86.3l-1.0-0.3M88.6 83.9l-0.9-0.2M88.6 83.9l0.1-1.0M90.5 84.2l0.4-0.9M90.5 84.2l0.9 0.4M92.7 83.2l0.9 0.1M88.6 93.2l-1.0 0.0M88.6 93.2l0.1 1.0M90.3 93.0l0.1 1.0M90.3 93.0l0.9-0.2M89.8 96.0l1.0-0.2M89.8 96.0l0.5 0.9M91.5 97.7l0.1 1.0M91.5 97.7l1.0 0.2M88.0 96.0l-0.9 0.3M88.0 96.0l-0.4 1.0M87.5 99.0l-1.0 0.0-1.0 0.0M87.5 99.0l-0.2 1.0M89.4 98.9l0.5 0.8M89.4 98.9l1.0 0.0M88.8 102.1l0.9 0.5M87.1 102.0l-0.9-0.1M87.1 102.0l0.1 1.0M86.6 104.8l-0.3 0.9M86.6 104.8l-1.0-0.2M88.0 105.3l-0.1 1.0M88.0 105.3l0.8 0.5M84.2 93.1l-1.0-0.2M84.2 93.1l-0.3 0.9M86.3 93.1l0.9-0.2M86.3 93.1l0.3 0.9M84.5 88.5l-0.5-0.8-0.6-0.8M84.5 88.5l0.7-0.7M84.6 86.1l0.5-0.8M84.7 83.7l-0.7-0.7M83.3 89.3l-0.7-0.7M83.3 89.3l-1.0 0.3M81.3 88.5l-0.3-0.9M81.3 88.5l1.0-0.4M79.9 89.1l-1.0 0.1M79.9 89.1l-0.4-1.0M77.8 87.9l-0.5-0.8M77.8 87.9l-1.0-0.2M81.7 93.5l-0.1 1.0M81.7 93.5l1.0 0.1M80.1 93.6l-0.9 0.3M80.1 93.6l0.2 0.9M74.7 88.9l-0.5-0.9M74.7 88.9l0.8-0.6M73.3 89.8l-0.5-0.9M73.3 89.8l-0.8 0.6M71.3 85.6l-0.6-0.8M71.3 85.6l-1.0 0.3M69.1 84.7l-1.0 0.2M69.1 84.7l-0.6-0.9M72.9 85.0l1.0-0.3M72.9 85.0l0.0-1.0M73.9 82.8l0.1-1.0M73.9 82.8l0.9-0.5M66.3 89.1l-0.9 0.3M64.1 88.2l-0.8 0.5M64.1 88.2l-0.3-1.0M67.9 88.3l-0.3-0.9M67.9 88.3l0.9-0.2M66.4 85.6l-0.5-0.8M66.4 85.6l0.9-0.4M65.2 86.1l-1.0 0.0M69.2 94.6l-0.1 1.0M69.2 94.6l0.9 0.5M70.1 96.9l0.9 0.4M70.1 96.9l-0.2 0.9M71.2 99.0l-0.3 0.9M71.2 99.0l0.8 0.6M67.9 94.4l-1.0 0.3M67.9 94.4l-0.2 1.0M66.3 96.1l-0.2 1.0M65.4 97.0l-0.9 0.2M65.4 97.0l0.2 1.0M67.5 97.2l-1.0 0.1M67.5 97.2l0.0 1.0M69.1 97.6l-0.1 1.0M69.1 97.6l0.9 0.3M61.6 95.1l-1.0-0.2M63.3 95.3l0.1 1.0M63.3 95.3l0.9 0.4M61.2 90.9l-0.4-0.9M61.2 90.9l-0.8 0.6M62.4 90.3l0.7-0.8M62.4 90.3l-0.4-0.9M55.7 91.2l-0.8-0.6M55.7 91.2l0.4-0.9M55.7 88.8l0.7-0.7M55.7 88.8l-0.8-0.6M54.6 92.2l-0.6-0.9M54.6 92.2l-0.8 0.6M52.1 88.7l-0.7-0.8M52.1 88.7l-0.9 0.5M53.5 87.5l-0.4-0.9M53.5 87.5l0.9-0.5M56.9 96.2l-0.3 0.9M56.9 96.2l1.0 0.0M58.0 98.3l0.9 0.6M58.0 98.3l0.0 1.0M55.3 95.8l-0.3 1.0M55.3 95.8l-1.0-0.1M54.9 99.0l-0.2 1.0M54.9 99.0l-0.9-0.3M53.2 100.7l-1.0-0.2M53.2 100.7l-0.3 0.9M56.5 99.1l0.9 0.4M50.6 97.1l-0.6 0.8M50.6 97.1l0.9 0.5M49.4 96.9l-0.9 0.5M48.9 101.4l-0.2 1.0M48.9 101.4l-1.0 0.1M50.4 101.4l0.2 1.0M50.4 101.4l1.0-0.1M48.6 92.6l-0.4-0.9-0.5-0.8M48.6 92.6l-0.9-0.3M46.7 91.2l-1.0 0.2M46.7 91.2l-0.6-0.8M49.9 92.0l0.7-0.8M49.9 92.0l-0.7-0.6M44.6 92.9l1.0-0.2M44.6 92.9l-0.2-1.0M42.9 93.3l-1.0 0.1M42.9 93.3l-0.3-1.0M40.9 92.0l0.0-1.0M40.9 92.0l-1.0-0.1M44.1 99.4l0.3 0.9M44.1 99.4l-1.0 0.2M43.5 100.4l-0.9 0.2M43.5 100.4l0.3 1.0M45.6 99.1l-0.1 1.0M45.6 99.1l0.9 0.3M37.7 97.0l-0.1 1.0M36.2 98.9l-0.1 1.0M119.2 82.4l1.0-0.2M119.2 82.4l0.1-1.0M117.7 82.6l-1.0 0.1M117.7 82.6l-0.3-1.0M119.4 87.2l-0.8 0.6M119.4 87.2l0.3 0.9M120.9 86.2l0.7 0.7M120.9 86.2l0.7-0.7M124.5 84.0l-0.8 0.5M124.5 84.0l0.3 0.9M126.1 83.5l1.0-0.3M126.1 83.5l0.4 0.9M127.6 85.9l0.9-0.4M127.6 85.9l0.4 0.9M126.1 86.7l0.5 0.9M126.1 86.7l-1.0 0.3M124.7 79.3l0.0-1.0M123.0 79.4l-0.1-1.0M123.0 79.4l-1.0 0.0M121.1 77.9l-1.0 0.1M121.1 77.9l-0.2-0.9M122.1 76.7l-0.9 0.4M122.1 76.7l-0.6-0.8M123.7 76.1l-0.4-0.9M123.7 76.1l0.9-0.4M124.6 73.9l0.7-0.7M124.6 73.9l-0.3-1.0M129.3 77.4l0.7-0.8M129.3 77.4l-0.4-0.9M129.7 75.0l-0.5-0.8M129.7 75.0l0.7-0.7M130.4 78.3l0.3-0.9M130.4 78.3l0.9 0.5M133.0 77.2l0.5 0.9M133.0 77.2l0.9-0.2M135.3 77.8l0.9-0.5M135.3 77.8l0.4 0.9M132.0 75.8l0.8-0.6M132.0 75.8l-0.7-0.7M134.6 74.2l0.9-0.6 0.9-0.4M134.6 74.2l-0.5-0.9M135.5 75.5l0.7-0.7M135.5 75.5l0.7 0.7M117.0 91.5l-0.3 0.9-0.4 0.9M117.0 91.5l-1.0-0.1M115.5 93.4l-1.0 0.0M115.5 93.4l0.4 0.9M118.8 90.9l0.6 0.8M118.8 90.9l0.9-0.3M119.8 91.5l1.0-0.1M119.8 91.5l0.6 0.9M117.0 85.1l0.5-0.9M117.0 85.1l-0.9-0.5M118.5 85.4l1.0 0.0M118.5 85.4l0.4-0.9M124.4 86.5l-0.4-0.9M124.4 86.5l0.8-0.6M125.4 87.5l1.0 0.3M125.4 87.5l0.5-0.9M121.9 90.9l-0.6 0.8M121.9 90.9l-1.0-0.2M123.5 91.4l0.9 0.4M123.5 91.4l-0.2 1.0M130.4 92.4l0.9-0.3M130.4 92.4l-0.2 1.0M132.4 93.7l0.1 1.0M132.4 93.7l0.9-0.2M128.5 92.4l-1.0 0.0-1.0 0.1M128.5 92.4l-0.1 1.0M126.4 93.7l-0.4 0.9M126.4 93.7l-0.9-0.2M128.3 95.3l-1.0 0.3M128.3 95.3l-0.1 1.0M130.2 95.4l1.0 0.0M130.2 95.4l0.4 1.0M129.5 98.7l0.1 1.0M129.5 98.7l1.0 0.1M128.3 98.6l-0.1 1.0M128.3 98.6l-0.9 0.5M126.6 100.4l-1.0 0.0M126.6 100.4l0.1 1.0M132.3 87.1l0.1-1.0M132.3 87.1l0.9 0.2M131.3 86.5l-0.6-0.8M131.3 86.5l0.5-0.8M132.8 84.1l-0.7-0.7M132.8 84.1l0.4-1.0M134.2 85.4l0.9-0.3M134.2 85.4l0.7 0.7M137.1 89.2l-0.2-0.9M137.1 89.2l-1.0 0.1M135.8 87.2l-0.9-0.2M135.8 87.2l-0.1-1.0M138.8 89.3l-0.1-1.0M138.8 89.3l1.0 0.1M139.5 95.2l0.0 1.0M139.5 95.2l1.0-0.1M138.2 95.6l-0.6 0.8M138.2 95.6l0.2 1.0M143.2 95.0l0.2 1.0M144.9 94.8l0.1 1.0M143.6 90.0l-0.9-0.3M143.6 90.0l0.2-1.0M145.0 90.7l0.2-1.0M145.9 87.9l0.8 0.6M145.9 87.9l0.7-0.7M144.5 87.1l-0.9-0.5M145.9 93.5l1.0-0.1M145.7 91.7l0.9-0.4M145.7 91.7l0.1-1.0M143.8 89.1l-0.5-0.9M145.3 88.6l-0.3-1.0M145.3 88.6l0.9-0.4M147.8 91.2l0.5-0.9M147.8 91.2l1.0 0.3M147.1 92.7l0.8 0.5M152.9 89.7l0.7 0.7M152.9 89.7l-0.2 1.0M153.5 92.0l-0.4 0.9M153.5 92.0l0.8 0.6M153.7 88.1l0.3-1.0M153.7 88.1l1.0 0.2M155.9 87.0l1.0 0.2M155.9 87.0l0.4-0.9M155.9 90.8l0.9-0.3M155.9 90.8l0.5 0.8M154.8 91.9l0.7 0.7M154.8 91.9l-0.3 0.9M150.0 84.2l0.6-0.8M150.0 84.2l-0.3-1.0M148.4 84.9l-0.2-0.9M148.4 84.9l-1.0 0.3M151.4 80.0l-1.0 0.3M149.1 79.3l-0.7-0.8M149.1 79.3l-1.0 0.0M152.2 79.0l0.5-0.8M152.2 79.0l-0.9-0.4M152.0 76.6l-0.6-0.8M152.0 76.6l0.7-0.6M150.1 77.1l-0.9-0.5M150.1 77.1l0.5-0.9M149.0 78.2l-0.6 0.8M146.6 76.5l-0.8-0.6M147.5 75.3l-0.6-0.7M147.5 75.3l0.4-0.9M157.0 85.4l0.7 0.7M157.0 85.4l-0.5 0.8M158.2 84.3l0.4 0.9M158.2 84.3l0.7-0.7M159.3 84.6l0.9-0.6M159.3 84.6l0.9 0.6M161.1 79.2l1.0 0.1M162.0 81.5l-0.1 1.0M162.0 81.5l1.0 0.3M162.5 82.6l1.0-0.1M162.5 82.6l0.0 1.0M161.6 77.4l0.1-0.9M161.6 77.4l1.0 0.1M164.5 78.2l1.0 0.0M164.5 78.2l0.5-0.8M164.3 79.8l0.3 1.0M164.3 79.8l1.0-0.1M167.1 80.6l1.0 0.2M167.1 80.6l0.0 1.0M167.8 81.6l-0.4 0.9M167.8 81.6l1.0-0.1M169.1 83.6l0.9 0.3M169.1 83.6l0.0 1.0M167.5 79.1l0.5-0.9M167.5 79.1l1.0 0.1M170.2 79.2l0.2-1.0M170.2 79.2l1.0 0.3M170.3 80.8l0.3 1.0M170.3 80.8l1.0 0.1M172.4 82.1l1.0-0.2M172.4 82.1l0.5 0.8M158.8 75.4l0.6-0.8M158.8 75.4l-0.7-0.8M157.3 76.2l-0.5-0.9M157.3 76.2l-1.0 0.2-1.0 0.3M163.3 71.1l-0.4-0.9M163.3 71.1l0.8-0.6M163.6 69.9l0.6-0.8M163.6 69.9l-0.3-1.0M164.2 67.6l-0.1-1.0M164.2 67.6l0.9-0.3M162.0 71.7l-0.1-1.0M162.0 71.7l-0.9 0.2M161.0 71.2l-1.0 0.3M161.0 71.2l-0.3-1.0M161.0 68.7l-0.4-0.9M161.0 68.7l-1.0-0.2M162.1 68.3l0.7-0.7M162.1 68.3l-0.5-0.9M164.6 75.8l0.3 1.0M166.0 74.6l0.8-0.6M166.0 74.6l0.7 0.7M169.5 72.2l0.8 0.6M169.5 72.2l-0.5 0.9M170.0 74.6l-0.3 0.9M170.5 71.2l0.8-0.7M172.5 73.1l0.6-0.7M172.5 73.1l0.8 0.5M174.9 73.1l0.4 0.9M171.2 74.5l0.7 0.7M171.2 74.5l-0.7 0.7M167.6 66.0l0.1-0.9M167.6 66.0l0.9-0.3M165.9 66.9l-0.3-0.9M165.9 66.9l-0.9 0.5M171.9 64.0l-0.9 0.3M171.9 64.0l-0.2-1.0M173.7 63.7l0.1-1.0M173.7 63.7l0.9-0.4M176.9 69.8l0.9 0.3M176.8 67.7l0.8 0.6M176.8 67.7l0.5-0.9M179.2 63.8l0.8 0.7M179.2 63.8l-0.7 0.6M179.0 66.2l-0.9 0.2M179.0 66.2l0.8 0.6M179.2 67.4l0.5 0.8M179.2 67.4l-0.8 0.6M180.5 62.3l0.9 0.5M180.5 62.3l0.7-0.7M176.4 59.8l-0.2-1.0M176.4 59.8l-0.9 0.2M174.4 58.5l-1.0 0.1M174.4 58.5l-0.4-0.9M172.4 57.1l-0.1-1.0M172.4 57.1l-0.9 0.3M177.7 59.1l-0.3-1.0M180.0 54.9l-0.6-0.8M180.0 54.9l0.7-0.7M178.8 56.3l-0.8 0.6M178.8 56.3l-1.0-0.2M184.1 59.8l0.7-0.6M184.1 59.8l0.8 0.6M182.8 60.7l0.6 0.8M182.8 60.7l-0.6 0.8M183.0 56.3l-0.7-0.7M183.0 56.3l0.7-0.7M184.2 57.9l0.3 0.9M184.2 57.9l0.8-0.6M178.1 54.1l-0.5-0.9M178.1 54.1l-1.0 0.2M178.4 55.5l-0.2 0.9M178.4 55.5l-1.0 0.1M181.6 52.0l0.7-0.7 0.8-0.6M181.6 52.0l-0.7-0.8M182.9 53.1l0.5-0.8M179.4 46.0l0.5-0.9M179.4 46.0l-0.5-0.8M181.0 47.2l0.8 0.6M181.0 47.2l0.8-0.7M183.0 44.8l0.6-0.8M183.0 44.8l0.8 0.6M185.4 44.6l0.8 0.6M181.9 43.7l0.7-0.7M181.9 43.7l-0.6-0.8M183.5 41.3l-0.9-0.4M183.5 41.3l0.7-0.7M183.3 40.2l0.4-0.9M183.3 40.2l-0.9-0.6M184.8 42.2l1.0 0.3M184.8 42.2l0.5-0.9M186.9 40.2l0.8 0.6M186.9 40.2l0.9-0.4M185.8 39.1l0.6-0.7M185.8 39.1l-0.5-0.8M176.5 47.3l-1.0-0.2M176.5 47.3l-0.3-0.9M176.7 49.3l-0.9 0.3M176.7 49.3l0.2 1.0M175.2 45.3l-1.0 0.0M175.2 45.3l-0.4 0.9M175.0 43.9l-1.0 0.4M175.0 43.9l-0.5-0.9M179.0 42.1l-0.1-1.0M179.0 42.1l0.8-0.7M179.8 43.8l1.0-0.3M179.8 43.8l0.5 0.8M174.3 37.0l0.5-0.9M174.3 37.0l-0.8-0.6M175.8 38.1l0.9-0.5M175.8 38.1l1.0 0.4M178.9 34.6l0.5-0.8M178.9 34.6l0.9 0.4M178.0 33.7l-0.3-1.0M178.0 33.7l0.6-0.8M171.2 39.2l-0.4-0.9M171.7 40.7l0.2 1.0M171.7 40.7l-1.0 0.4M168.6 41.4l-0.9 0.2M168.6 41.4l0.1 1.0M168.2 40.1l-0.5-0.9M168.2 40.1l-0.7 0.7M165.4 40.5l-1.0 0.1M165.4 40.5l-0.3-1.0M165.8 42.1l0.5 0.9M165.8 42.1l-0.7 0.7-0.7 0.7M168.7 36.8l-0.6 0.7M168.7 36.8l-0.8-0.6M169.4 38.0l0.2 1.0M172.1 33.8l0.3-1.0M172.1 33.8l-0.8-0.6M171.9 31.4l-0.7-0.7M171.9 31.4l0.7-0.7M173.3 34.7l0.8 0.5M173.3 34.7l0.6-0.8M169.4 29.5l0.9 0.4M169.4 29.5l0.7-0.7M167.9 28.7l-0.6-0.8M167.9 28.7l0.4-0.9M169.5 26.1l0.7-0.7M169.5 26.1l-0.6-0.7M169.1 23.7l-0.5-0.8M169.1 23.7l0.6-0.7M170.9 26.8l0.8 0.6 0.9 0.5M170.9 26.8l0.4-0.9M173.1 25.8l-0.1-1.0M173.1 25.8l1.0 0.0M172.4 24.2l0.9 0.2M172.4 24.2l0.3-0.9M174.6 23.3l0.5-0.8M174.6 23.3l1.0 0.2M171.1 23.5l0.2-1.0M171.1 23.5l-0.9-0.5M165.1 32.1l-1.0 0.0M165.1 32.1l-0.4 1.0M163.4 33.8l-0.2 1.0M163.4 33.8l-1.0 0.1M164.9 30.9l-0.5-0.9M164.9 30.9l-1.0 0.3M160.5 31.3l0.1-1.0M160.5 31.3l-0.9 0.3M160.8 33.0l0.1 1.0M160.8 33.0l-1.0 0.2M159.6 35.1l-1.0 0.3M159.6 35.1l0.3 0.9M157.9 33.4l-1.0-0.1M157.9 33.4l0.0 1.0M157.5 31.7l-0.9 0.5M157.5 31.7l-0.2-0.9M162.1 27.4l-1.0 0.3M161.3 25.9l-0.5-0.8M161.3 25.9l-1.0 0.4M159.1 24.9l-0.3-0.9M165.5 23.7l1.0 0.1M163.9 23.1l-0.8-0.5M163.9 23.1l0.2-1.0M160.9 17.5l-0.9-0.5M160.9 17.5l0.8-0.7M161.3 15.1l-0.5-0.9M162.1 18.6l0.5-0.8M162.1 18.6l0.7 0.8M163.9 16.1l1.0 0.3M163.9 16.1l0.6-0.9M162.7 15.1l-0.4-0.9M157.6 22.9l-0.6 0.7M157.6 22.9l0.6 0.8M156.4 21.8l-0.8-0.6M156.4 21.8l-0.9 0.4M154.0 21.8l-0.9 0.4M154.0 21.8l-0.9-0.5M158.9 16.0l0.8-0.6M158.9 16.0l-0.5-0.9M157.5 16.6l-1.0 0.2M157.5 16.6l-0.6-0.8M180.7 41.5l0.0-1.0M180.7 41.5l0.9-0.2M180.3 43.4l0.8 0.7M180.3 43.4l-0.6 0.8M178.6 35.1l-0.8 0.6M178.6 35.1l-0.8-0.6M180.1 34.0l-0.5-0.8M180.1 34.0l0.7-0.7M183.0 37.7l0.0 1.0M183.0 37.7l1.0 0.2M183.3 36.2l1.0 0.3M183.3 36.2l0.5-0.9M185.7 29.7l0.5-0.8M185.7 29.7l1.0-0.3M187.4 28.1l1.0 0.0M187.4 28.1l-0.1-1.0M185.5 31.4l1.0 0.1M185.5 31.4l0.0 1.0M186.8 33.4l-0.5 0.9M186.8 33.4l0.9 0.4M188.7 31.3l0.2 1.0M188.7 31.3l1.0-0.1M188.7 29.8l0.1-0.9M188.7 29.8l1.0-0.2M191.6 29.9l1.0-0.1M191.6 29.9l0.1-1.0M193.4 28.4l0.5-0.9M193.4 28.4l1.0 0.0M191.6 31.6l1.0 0.3M191.6 31.6l0.1 1.0M180.7 30.1l-0.6 0.8M180.7 30.1l-0.9-0.3M179.5 30.3l-1.0 0.0M179.5 30.3l-0.5 0.8M178.4 30.6l-0.8 0.6M178.4 30.6l-0.9-0.5M181.6 28.8l-0.8-0.6M181.6 28.8l0.5-1.0M181.4 27.6l0.2-1.0M181.6 24.3l-0.1 1.0M181.6 24.3l-0.8-0.5M182.5 22.5l0.4-0.9M182.5 22.5l-0.7-0.8M177.8 21.2l0.1-1.0M177.8 21.2l-1.0-0.3M177.3 22.6l-0.5 0.9M177.3 22.6l-0.8-0.5M186.6 24.6l0.5 0.9M186.6 24.6l1.0 0.0M186.5 23.2l1.0 0.2M186.5 23.2l0.2-1.0M187.3 22.3l-0.1-1.0M187.3 22.3l1.0 0.1M189.1 22.5l-0.3-0.9M189.1 22.5l1.0-0.2M189.7 24.1l0.6 0.8M189.7 24.1l0.9-0.3M192.6 23.8l0.9-0.5M192.6 23.8l0.3 0.9M192.5 22.6l0.4-1.0M192.5 22.6l1.0-0.4M186.6 19.3l0.6-0.8 0.6-0.8M186.6 19.3l0.8 0.7M185.9 18.1l-0.1-1.0M182.0 18.4l-0.9-0.5M182.0 18.4l0.1-1.0M181.3 17.4l0.3-1.0M181.3 17.4l-0.9-0.3M181.7 20.1l-0.2 1.0M181.7 20.1l-1.0 0.2M183.3 15.2l-1.0 0.1M185.0 15.3l0.9-0.3M187.7 57.7l0.8-0.6M187.7 57.7l0.7 0.7M188.8 58.1l0.6 0.8M188.8 58.1l1.0-0.3M189.9 58.5l1.0-0.2M189.9 58.5l0.6 0.8M186.2 58.6l0.3 1.0M186.2 58.6l-0.7 0.7M184.3 54.2l-0.3-0.9M184.3 54.2l-0.9 0.6M185.9 53.7l1.0-0.4M190.1 50.7l-0.3-0.9M190.1 50.7l-1.0 0.3M189.0 50.2l-1.0 0.2M189.0 50.2l-0.1-1.0M186.8 49.2l-0.4-0.9M186.8 49.2l-0.9 0.5M191.9 50.6l0.0-1.0M191.9 50.6l1.0-0.2M191.4 47.6l0.1-1.0M191.4 47.6l1.0-0.1M189.7 47.7l-1.0-0.3M189.7 47.7l-0.1-1.0M192.0 55.3l0.6 0.9M192.0 55.3l-0.7 0.7M193.4 54.2l0.7-0.6M193.4 54.2l0.6 0.7M195.8 54.4l0.8 0.5M195.8 54.4l0.6-0.8M197.8 52.1l0.5 0.9M199.4 51.0l0.5-0.8M199.4 51.0l0.8 0.7M201.2 53.5l0.6 0.8M201.2 53.5l0.7-0.7M200.1 54.6l-0.7 0.7M200.1 54.6l0.5 0.8M200.3 57.0l0.8 0.6M200.3 57.0l-0.5 0.8M201.9 56.9l0.5 0.9M201.9 56.9l-0.6 0.8M203.1 56.0l0.5-0.8M203.1 56.0l0.7 0.7M198.5 46.0l0.9 0.2M198.5 46.0l0.2-1.0M196.7 46.1l-1.0-0.2M196.7 46.1l-0.3-1.0M194.8 44.6l0.1-1.0M194.8 44.6l-1.0 0.0M197.2 42.9l0.1-1.0M197.2 42.9l-0.9-0.2M199.0 43.2l1.0 0.1M199.0 43.2l0.3-0.9M200.0 42.5l0.1-1.0M202.9 45.8l0.9-0.2M202.9 45.8l-0.1-1.0M201.2 45.6l0.0-1.0M201.2 45.6l-1.0-0.1M202.2 50.4l-0.8 0.5M202.2 50.4l0.4 0.9M203.8 49.4l0.9-0.5M203.8 49.4l0.6 0.8M185.1 57.1l0.8-0.6M185.1 57.1l-0.5-0.9M185.9 57.8l0.2-1.0M185.9 57.8l1.0 0.3M184.2 61.8l0.1 1.0M184.2 61.8l1.0 0.3M182.9 61.8l-1.0-0.1M182.9 61.8l0.0 1.0M188.6 64.5l0.3 1.0M190.1 64.4l1.0 0.3M190.3 67.4l-0.2 1.0M190.3 67.4l1.0 0.3M188.7 67.5l-0.9 0.3M188.7 67.5l-0.2 0.9M189.1 70.5l-0.9 0.2-1.0 0.4M189.1 70.5l-0.2 1.0M190.6 70.5l1.0 0.3M191.6 61.2l0.9 0.4M191.6 61.2l0.7-0.6M190.2 59.9l-0.8-0.7M190.2 59.9l0.7-0.6M195.0 62.3l0.9 0.2M195.0 62.3l0.7-0.7M193.9 61.6l0.6-0.8 0.5-0.9M193.9 61.6l-0.6-0.9M194.0 59.2l-0.3-1.0M194.0 59.2l0.9-0.5M190.6 67.2l-1.0-0.1M190.6 67.2l-0.4 0.9M191.9 67.8l0.9 0.6M191.9 67.8l-0.6 0.8M199.0 64.9l0.0 1.0 0.2 1.0M199.0 64.9l-0.9 0.4M200.3 60.2l0.9-0.3M200.3 60.2l0.2-1.0M199.1 60.1l0.5-0.9M199.1 60.1l-0.9-0.4M204.9 59.2l0.0-1.0M206.4 58.8l1.0-0.1M207.2 63.8l1.0-0.2 1.0 0.2M212.9 59.7l0.1-1.0M212.9 59.7l1.0-0.2M213.7 58.8l1.0 0.2M213.0 61.2l0.6 0.8M213.0 61.2l1.0-0.1M188.3 75.5l0.0 1.0M188.3 75.5l-0.9-0.2M188.2 74.0l-1.0 0.2M188.2 74.0l-0.3-0.9M194.5 75.9l1.0 0.2M194.5 75.9l0.2 1.0M196.0 77.8l-0.1 1.0M196.0 77.8l1.0 0.2M194.6 74.2l0.3-0.9M194.6 74.2l0.9-0.1M196.2 72.5l1.0 0.2M196.2 72.5l0.0-1.0M197.4 74.7l0.1-1.0M197.4 74.7l1.0-0.2M197.4 76.5l1.0 0.2M197.4 76.5l0.1 1.0M193.1 81.1l0.4-0.9M193.1 81.1l0.9 0.4M192.6 83.0l0.8 0.5M192.6 83.0l-0.4 0.9M195.9 83.4l1.0 0.1M195.9 83.4l0.1 1.0M196.8 84.2l-0.1 1.0M196.8 84.2l1.0-0.1M196.2 82.1l0.6-0.8M196.2 82.1l1.0 0.2M199.0 82.7l0.2-0.9M198.3 84.4l0.9 0.5M198.3 84.4l-0.1 1.0M188.3 80.9l-0.2-1.0M188.3 80.9l-0.9-0.4M186.7 79.1l-1.0 0.1M186.7 79.1l0.0-1.0M188.6 82.7l0.3 1.0M188.6 82.7l-1.0 0.2M187.2 84.7l-0.9 0.4M187.2 84.7l-0.1 1.0M185.6 83.5l-1.0 0.1M185.6 83.5l0.1 1.0M185.3 82.0l-0.5-0.9M185.3 82.0l-1.0 0.2M181.0 83.2l-0.3-0.9M181.0 83.2l-1.0 0.2M181.2 84.7l-0.1 1.0M181.2 84.7l-0.8 0.6M179.6 86.5l-1.0 0.3M179.6 86.5l0.1 1.0M178.3 85.5l0.1 1.0M178.3 85.5l-0.8 0.5M178.0 84.2l-0.6-0.8M188.6 86.5l-0.9-0.5M188.6 86.5l-0.8 0.5M189.7 87.8l-0.6 0.8M189.7 87.8l0.3 0.9M193.3 87.0l-0.1 1.0M193.3 87.0l1.0 0.2M193.7 85.4l0.3-1.0M193.7 85.4l0.9-0.3M194.4 91.0l0.0 1.0M194.4 91.0l1.0-0.2M195.9 92.9l1.0 0.1M195.9 92.9l-0.1 1.0M194.5 89.5l0.2-1.0M190.3 92.0l-0.8 0.7-0.8 0.6M189.5 94.3l-0.6 0.8M189.5 90.4l-0.5-0.8M189.5 90.4l-1.0-0.1M194.2 96.9l0.9-0.3M194.2 96.9l0.2 0.9M196.5 97.4l0.8 0.6M196.5 97.4l0.9-0.4M192.4 97.1l0.0 1.0M192.4 97.1l-1.0-0.1M190.6 98.7l-1.0 0.2M190.6 98.7l-0.4 0.9M189.0 100.4l-1.0 0.1M193.0 100.2l0.0 1.0M193.0 100.2l-1.0 0.2M194.5 99.9l1.0-0.2M196.3 101.5l0.3 0.9M195.2 102.7l0.3 0.9M195.2 102.7l0.9-0.3M193.6 103.2l-0.8 0.5M193.6 103.2l0.2 0.9M143.9 89.1l-0.7-0.7M143.9 89.1l0.7-0.8M144.6 90.9l0.4 0.9M140.1 89.4l0.2-0.9M140.1 89.4l-1.0-0.2M139.7 91.1l-0.2 1.0M139.6 84.9l-0.2 1.0M139.6 84.9l-0.8-0.5M140.1 83.4l-0.9-0.3M144.8 85.2l0.5 0.9M144.8 85.2l0.9-0.4M144.6 83.9l-0.2-1.0M144.6 83.9l1.0-0.1M145.6 76.7l-0.2-1.0M145.6 76.7l0.9-0.5M146.1 78.4l0.3 0.9M146.1 78.4l0.9-0.5M139.6 79.0l-0.2 0.9M137.4 79.7l-1.0-0.3M137.4 79.7l-0.8 0.7M139.9 77.6l0.1-1.0M139.9 77.6l-1.0 0.0M139.4 70.1l-0.8-0.6M139.4 70.1l0.5-0.9M139.1 68.9l0.4-0.9M138.5 71.7l-0.2 1.0M138.5 71.7l-1.0-0.2M144.7 72.1l0.6 0.7M144.7 72.1l0.9-0.5M147.0 72.5l0.9-0.4M147.0 72.5l0.6 0.9M149.3 73.4l0.4 0.9M143.5 70.8l0.5-0.9M143.5 70.8l-0.5-0.9M143.7 65.8l1.0 0.0M143.7 65.8l0.4 0.9M146.0 66.6l0.3 1.0M146.0 66.6l0.9-0.4M142.8 64.1l0.6-0.8M142.8 64.1l-0.6-0.8M145.6 62.5l0.9-0.4M145.6 62.5l-0.2-1.0M146.3 63.7l0.9 0.4M146.3 63.7l1.0-0.3M149.7 60.8l0.8-0.7M149.7 60.8l0.8 0.6 0.8 0.7M152.1 61.3l0.4 0.9M152.1 61.3l0.8-0.6M148.6 59.5l-0.6-0.7M148.6 59.5l0.6-0.8M138.9 66.0l-1.0-0.1M138.9 66.0l-0.4 0.9M139.2 64.6l-0.2-1.0M136.9 63.1l0.4-1.0M136.9 63.1l-0.8-0.6M136.1 60.8l-0.9-0.6M136.1 60.8l-0.2-1.0M136.1 64.5l-0.3 0.9M136.1 64.5l-0.9-0.4M133.8 64.6l-0.8-0.6M133.8 64.6l-0.9 0.5M133.6 63.3l-1.0-0.4M133.6 63.3l-0.1 1.0M134.2 61.6l0.2-1.0M134.2 61.6l-0.7-0.6M138.4 58.0l-1.0-0.1M138.4 58.0l-0.1-1.0M137.3 55.9l0.1-1.0M137.3 55.9l-1.0-0.1M138.1 59.5l-0.9-0.6M138.1 59.5l-0.5 0.8M143.1 59.2l0.7 0.6M143.1 59.2l0.9-0.5M145.4 59.7l0.8-0.6M145.4 59.7l0.7 0.7M142.6 57.9l0.1-1.0M142.6 57.9l0.9-0.3M144.1 56.0l1.0-0.2M144.1 56.0l-0.3-0.9M142.8 52.2l1.0 0.1M142.8 52.2l-0.1-1.0M144.3 50.3l-0.2-1.0M144.3 50.3l1.0-0.1M145.9 48.5l0.9-0.3M143.0 53.7l0.2 1.0M143.0 53.7l0.9-0.3M138.7 51.4l0.7-0.7M138.7 51.4l-0.8-0.6M138.1 53.1l-0.5 0.9M138.1 53.1l-1.0 0.0M135.2 51.9l-0.2 1.0M135.2 51.9l-0.9-0.4M133.1 52.9l-1.0-0.1M133.1 52.9l-0.6 0.9M135.8 50.3l-0.1-0.9M135.8 50.3l-0.9-0.5M134.5 48.3l-1.0-0.2M134.5 48.3l0.3-0.9M131.8 48.4l0.4-1.0M131.1 49.8l-0.7 0.7M131.1 49.8l-0.9-0.4M140.0 45.5l0.1-1.0M140.0 45.5l-0.9-0.5M139.6 47.1l-0.3 0.9M139.6 47.1l-1.0-0.1M141.7 41.2l0.5-0.9M141.7 41.2l-0.7-0.6M140.6 42.9l-1.0-0.2M140.6 42.9l-0.4 0.9M142.8 35.8l-0.9-0.5M141.8 37.4l-0.7 0.6M141.8 37.4l-0.7-0.7M139.7 38.4l-1.0-0.2M139.7 38.4l-0.6 0.8M148.4 36.6l1.0-0.1 0.9-0.5M150.6 35.5l0.1-0.9M150.6 35.5l1.0 0.1M148.2 38.1l1.0-0.3M148.2 38.1l0.1 1.0M145.8 35.3l0.3-1.0M145.8 35.3l1.0 0.3M144.1 35.0l-1.0-0.1M144.1 35.0l0.1-1.0M131.6 19.9l0.7-0.7M131.6 19.9l1.0 0.4M131.2 21.3l1.0 0.3M131.2 21.3l0.0 1.0M134.3 22.1l1.0-0.1M134.3 22.1l0.1 1.0M134.5 21.1l0.4-1.0M125.3 18.3l-0.9-0.4M123.3 17.0l0.0-1.0M123.3 17.0l-0.9 0.1M121.2 16.0l-0.9 0.6M121.2 16.0l-0.6-0.8M125.3 20.0l-0.4 0.9M125.3 20.0l-1.0 0.0M123.9 25.4l-0.9 0.5M123.9 25.4l-0.4-0.9M122.8 24.9l-0.5-0.8M122.8 24.9l-0.9 0.4M120.7 23.9l-0.9 0.3M120.7 23.9l-0.1-1.0M124.7 27.2l-0.8 0.6M124.7 27.2l0.1 1.0M127.4 27.8l0.7 0.7M127.4 27.8l-0.4 0.8M128.7 26.5l0.7 0.8M128.7 26.5l0.8-0.5M131.1 26.5l0.8-0.5M131.1 26.5l0.9 0.4M127.0 31.7l-0.2 1.0M127.0 31.7l0.7 0.7M127.9 30.2l0.3-1.0M127.9 30.2l0.9 0.4M122.9 29.4l-0.3-1.0M122.9 29.4l-0.8 0.5M120.8 28.3l-1.0 0.2M120.8 28.3l-0.7-0.7M123.6 31.0l-0.9 0.5M123.6 31.0l0.5 0.9M121.7 36.3l-0.6 0.8M119.6 37.4l-1.0-0.3M119.6 37.4l-0.2 1.0M122.0 34.7l-1.0-0.3M122.0 34.7l-0.2-1.0M125.6 38.0l-0.7 0.7M125.6 38.0l0.8 0.6M126.5 36.6l0.9 0.4M126.5 36.6l0.5-0.9M125.2 42.0l0.1-1.0M125.2 42.0l1.0-0.2M127.2 40.6l0.9-0.2M124.8 43.7l1.0 0.4M124.8 43.7l-0.3 0.9M127.3 45.2l0.8 0.6M127.3 45.2l-0.4 0.9M128.0 43.8l0.8-0.7M120.5 43.2l-0.9-0.4M118.6 44.7l0.2 1.0M118.6 44.7l-1.0 0.1M120.2 42.0l-0.6-0.8M120.2 42.0l-0.9 0.5M119.1 41.7l-0.9 0.5M119.1 41.7l-0.9-0.5M118.5 48.7l-1.0-0.3M118.5 48.7l-0.6 0.8M116.5 50.1l-0.2 1.0M116.5 50.1l-0.9-0.3M123.8 51.2l-0.5 0.8M123.8 51.2l0.7 0.7M124.7 49.8l0.9-0.5M124.7 49.8l1.0 0.1M120.1 57.2l-0.3 0.9M120.1 57.2l0.7 0.7M120.4 59.6l0.8 0.6M120.4 59.6l-0.4 0.9M121.1 56.1l0.9-0.4M123.4 58.0l0.8 0.6M123.4 58.0l0.8-0.6M122.3 59.2l-0.2 0.9M122.3 59.2l0.7 0.7M125.0 60.8l-0.3 1.0M125.0 60.8l0.8 0.6M125.2 62.0l0.9 0.5M125.2 62.0l-0.3 1.0M125.8 59.6l0.7-0.7M116.3 54.7l-0.1-1.0M118.0 59.8l-0.2 0.9M118.0 59.8l0.9 0.4M116.3 58.8l-0.7 0.7M116.3 58.8l-0.9-0.4M138.4 30.2l-0.5 0.8M138.4 30.2l0.5 0.8M138.8 32.5l0.8 0.7M138.8 32.5l-0.6 0.8M139.5 28.8l0.5-0.8M134.8 29.4l-1.0 0.3M134.4 27.9l-0.4-0.9M134.4 27.9l-1.0 0.1M132.4 32.3l0.2-1.0M132.4 32.3l-0.8-0.5M131.0 30.4l-1.0 0.0M131.0 30.4l0.2-1.0M132.0 34.0l0.0 1.0M132.0 34.0l-0.9-0.4M130.0 35.4l-1.0-0.2M136.8 36.9l0.5 0.9M136.8 36.9l-0.5 0.9M136.9 39.3l-0.8 0.7M136.9 39.3l0.6 0.8M138.0 35.9l0.7 0.7M138.0 35.9l0.9-0.5M132.9 41.7l0.8 0.6M132.9 41.7l-0.6 0.7M134.2 40.5l0.8 0.5M134.2 40.5l0.9-0.4M129.3 39.0l-0.9-0.4M130.4 37.6l-0.7-0.6M130.4 37.6l0.3-0.9M126.1 47.4l-1.0-0.1M126.1 47.4l-0.3 0.9M126.4 45.6l0.4-0.9M126.4 45.6l-1.0-0.1M130.9 47.9l0.9 0.5M130.9 47.9l0.8-0.6M129.8 49.0l-0.7 0.6M129.8 49.0l0.2 1.0M126.5 53.2l0.8 0.6M126.5 53.2l-0.4 0.9M125.0 52.5l-0.1 1.0M125.0 52.5l-1.0-0.1M215.9 76.9l-1.0 0.1M215.9 76.9l0.2 0.9M214.9 79.1l0.1 0.9M213.3 80.9l0.2 1.0M215.5 75.3l-1.0 0.4M215.5 75.3l-0.2-1.0M213.3 78.1l0.3 0.9M221.8 74.0l0.9 0.3M221.8 74.0l0.2-1.0M223.7 72.6l0.0-1.0M223.7 72.6l1.0 0.0M224.6 71.8l1.0-0.1M224.6 71.8l-0.4-0.9M221.4 75.7l0.9 0.4M221.4 75.7l-0.2 1.0M222.7 77.8l-0.1 1.0M222.7 77.8l0.8 0.4M224.6 75.7l1.0 0.2M226.3 77.4l0.9-0.3M226.3 77.4l0.3 1.0M224.9 74.2l0.3-0.9M224.9 74.2l0.9 0.4M227.7 74.1l1.0 0.0M227.7 74.1l-0.2-1.0M227.6 75.7l0.9 0.3M227.6 75.7l-0.2 1.0M229.1 77.6l-0.4 0.9M220.7 82.9l0.6 0.8M220.7 82.9l-0.5 0.9M221.8 81.6l1.0 0.3M221.8 81.6l0.8-0.6M224.4 82.9l0.8-0.7M224.4 82.9l1.0 0.0M224.0 84.1l0.1 1.0M224.0 84.1l0.9 0.4M227.5 86.6l-0.6 0.8-0.7 0.7M227.5 86.6l0.9 0.4M228.7 88.6l0.9 0.4M228.7 88.6l-0.1 1.0M228.3 85.2l0.9 0.5M228.3 85.2l0.8-0.7M216.8 81.4l-0.1-1.0M217.3 82.7l-0.8 0.6M217.3 82.7l0.4 1.0M214.8 84.1l-1.0 0.0M214.8 84.1l0.1 1.0M214.1 82.5l-0.9 0.4M214.1 82.5l-0.4-0.9M217.4 88.9l-0.9 0.5M217.4 88.9l0.1 1.0M216.1 90.9l-0.2 1.0M216.1 90.9l-1.0 0.2M217.0 87.0l-1.0-0.2M217.0 87.0l0.1-1.0M213.9 88.3l-0.2-1.0M214.7 89.9l-1.0 0.1M214.7 89.9l0.3 0.9M214.4 91.0l0.7 0.8M214.4 91.0l-0.7 0.7M221.9 87.1l0.4-0.9M221.9 87.1l0.9-0.2M221.6 88.5l1.0 0.0M221.6 88.5l-0.5 0.9M222.8 90.6l-0.4 0.9M222.8 90.6l0.7 0.6M221.6 94.6l1.0 0.1M221.6 94.6l-0.1 1.0M223.3 96.3l0.1 1.0M223.3 96.3l1.0-0.1M225.1 97.9l0.9 0.2M225.1 97.9l-0.3 1.0M221.5 92.7l-0.6-0.9M224.6 92.6l0.1-1.0M224.6 92.6l1.0 0.0M224.6 94.4l0.9 0.3M224.6 94.4l0.2 1.0M227.7 94.1l1.0-0.4 0.9-0.2M227.7 94.1l0.2 1.0M227.7 92.5l1.0 0.0M227.7 92.5l-0.1-1.0M216.8 93.5l-1.0 0.3M216.8 93.5l-0.4-0.9M213.8 94.6l-0.7-0.7M214.7 96.1l0.6 0.8M214.7 96.1l-1.0 0.3M216.2 100.2l0.6 0.9M216.2 100.2l-1.0 0.0M215.9 101.4l-0.6 0.8M215.9 101.4l0.5 0.9M215.4 98.8l-0.6-0.8M215.4 98.8l-0.8 0.7M220.7 105.1l1.0 0.2M220.7 105.1l-0.1 1.0M222.3 106.9l-0.3 0.9M222.3 106.9l1.0 0.2M221.0 103.5l1.0-0.1M221.0 103.5l0.4-0.9M223.2 102.5l0.7-0.8M223.2 102.5l1.0 0.2M224.0 103.7l0.1-1.0M224.0 103.7l1.0-0.1M224.0 105.1l1.0 0.1M224.0 105.1l0.2 1.0M214.7 104.3l-1.0 0.3M214.7 104.3l-0.2-1.0M213.6 103.8l-0.4-0.9M213.6 103.8l-0.9 0.4M215.0 105.9l-1.0 0.0M215.0 105.9l-0.1 1.0M212.6 107.1l-0.6 0.7M212.6 107.1l0.1 1.0M211.7 105.6l-0.7 0.8M211.7 105.6l-0.6-0.8M213.4 110.2l-0.4-0.8M213.7 111.7l-0.1 1.0M213.7 111.7l-1.0 0.1M220.7 112.2l0.9 0.4M220.7 112.2l0.9-0.5M219.5 113.3l0.6 0.8M219.5 113.3l-0.9 0.6M220.1 118.7l-0.3 1.0M220.1 118.7l0.9 0.4M220.8 117.1l0.5-0.9M220.8 117.1l1.0 0.2M223.4 118.4l0.7-0.7M223.4 118.4l0.9 0.3M222.9 120.1l0.0 1.0 0.0 0.9M222.9 120.1l0.9 0.3M223.6 121.0l1.0 0.3M215.4 118.0l0.5 0.9M215.4 118.0l-0.9 0.5M214.6 116.3l-1.0 0.2M214.6 116.3l-0.8-0.6M210.3 117.4l-1.0 0.3M210.3 117.4l-0.2-1.0M210.6 119.0l0.1 1.0 0.1 1.0M210.6 119.0l-0.9 0.4M207.8 119.9l-1.0 0.0M207.8 119.9l0.2 1.0M206.5 121.9l0.1 1.0M206.5 121.9l-0.9 0.3M207.2 118.6l-0.8 0.5M207.2 118.6l-0.8-0.5M215.0 122.0l0.1 1.0M215.0 122.0l-0.8 0.7M214.6 120.4l-0.4-0.9M214.6 120.4l-1.0 0.2M218.6 122.3l0.6 0.8M218.6 122.3l-0.7 0.7M219.4 120.5l0.2-0.9M219.4 120.5l1.0 0.1M214.5 130.8l0.0-1.0M214.5 130.8l-1.0 0.2M212.4 129.5l-0.9 0.3M212.4 129.5l-0.1-1.0M210.4 128.2l-0.2-1.0M210.4 128.2l-1.0 0.0M214.7 132.2l0.0 1.0M214.7 132.2l-1.0 0.0M212.2 133.2l-1.0 0.4M212.2 133.2l0.0 1.0M211.6 134.2l0.4 1.0M211.6 134.2l-0.9 0.4M210.5 136.3l-0.9 0.6M210.5 136.3l0.1 1.0M211.5 131.6l-0.3-1.0M211.5 131.6l-1.0 0.1M208.8 132.5l-1.0 0.3M208.8 132.5l0.0-1.0M206.8 131.2l-0.4-0.9M206.8 131.2l-1.0 0.0M209.1 134.1l0.1 1.0M219.5 131.5l0.8 0.5M219.5 131.5l0.6-0.7 0.6-0.8M221.8 131.2l0.9 0.5M218.7 132.9l0.7 0.8M218.7 132.9l-0.4 0.9M221.2 134.5l-0.2 1.0M222.0 133.2l0.7 0.7M222.0 133.2l0.6-0.8M219.5 137.0l0.2-0.9M213.1 137.3l-0.9-0.3M213.1 137.3l-0.3-1.0M213.3 139.0l-1.0 0.2M211.7 140.8l-0.3 0.9M211.7 140.8l-0.9 0.3M212.5 109.4l0.2-0.9M212.5 109.4l-0.9-0.4M213.8 109.6l1.0-0.1M213.8 109.6l0.0-1.0M212.2 114.4l-1.0 0.1M212.2 114.4l0.1 1.0M211.4 115.2l-0.3 1.0M211.4 115.2l-1.0-0.1M213.9 114.4l-0.3 1.0M213.9 114.4l1.0 0.1M206.7 114.4l0.9 0.6M205.2 113.8l-0.8 0.7M205.2 113.8l-1.0-0.2M200.3 109.5l0.4-0.9M200.3 109.5l-0.6-0.8M200.4 107.1l-0.7-0.7M199.1 110.4l-1.0 0.0M199.1 110.4l-0.6-0.8M201.7 114.5l0.9 0.3M201.7 114.5l0.1 1.0M202.5 115.4l-0.1 1.0M202.5 115.4l0.9 0.4M200.3 114.4l0.3 1.0M200.3 114.4l-1.0 0.4M193.1 113.7l-0.9-0.4M193.1 113.7l-0.7 0.6M194.6 114.5l-0.4 0.9M194.6 114.5l0.8 0.6M195.0 115.6l0.7 0.7M195.0 115.6l-0.2 1.0M195.8 117.9l-0.6 0.8M195.8 117.9l0.9 0.2M192.6 117.0l-0.3 0.9M192.6 117.0l0.4 0.9M191.4 116.1l-0.7-0.7-0.7-0.8M191.4 116.1l-0.5 0.8M193.9 108.2l-0.6-0.8M193.9 108.2l0.6-0.8M194.2 107.0l0.9-0.4M194.2 107.0l-0.5-0.8M192.5 108.9l-0.9 0.5M192.5 108.9l-0.3-0.9M190.2 108.3l-0.7-0.7M190.2 108.3l-1.0 0.4M193.0 110.9l-1.0-0.3M192.6 112.9l0.2 1.0M192.6 112.9l-0.8 0.5M219.9 114.8l1.0 0.0M219.9 114.8l-0.1 1.0M218.2 114.6l-1.0-0.2M219.1 109.9l-0.8-0.6M219.1 109.9l0.1-1.0M220.7 110.6l0.9 0.5M220.7 110.6l0.7-0.7M224.6 109.8l-1.0 0.0M224.6 109.8l0.0-1.0M226.4 109.9l0.2-1.0 0.2-0.9M226.4 109.9l1.0-0.2M228.4 108.6l0.9 0.2M228.4 108.6l0.2-1.0M225.8 116.1l0.1 0.9M225.8 116.1l0.9 0.3M224.0 115.7l-0.9-0.5M224.0 115.7l-0.4 0.9M233.3 111.7l0.8-0.6M233.3 111.7l1.0 0.1M231.8 110.9l-0.9-0.5M231.8 110.9l0.6-0.7M232.9 116.1l0.0 1.0M233.3 114.3l0.3-0.9M147.3 93.6l0.5-0.8M147.3 93.6l-0.6-0.7M148.4 94.8l0.8-0.6M148.4 94.8l0.8 0.7M145.5 98.3l0.8 0.6M145.5 98.3l-0.4 0.9M144.1 97.4l-0.9-0.4M144.1 97.4l-0.6 0.7M141.8 97.7l-0.8 0.7M141.8 97.7l-1.0-0.4M139.4 98.2l-0.7-0.7M139.4 98.2l-0.2 1.0M148.9 102.9l-0.9 0.5M148.9 102.9l0.3 1.0M147.8 101.5l-0.7-0.7M147.8 101.5l-0.9 0.4M145.9 104.4l-1.0-0.2M145.9 104.4l-0.2 1.0M146.9 105.2l-0.7 0.7M146.9 105.2l0.5 0.8M145.1 107.5l0.4 0.9M145.1 107.5l-0.7 0.7M143.9 106.6l-0.7-0.7M143.9 106.6l-0.6 0.7M142.0 108.9l-0.5 0.9M142.0 108.9l-1.0-0.1M139.7 109.7l-0.6 0.8M143.4 109.7l0.6 0.8 0.7 0.6M143.4 109.7l-0.5 0.9M141.3 112.1l0.6 0.8M141.3 112.1l-0.4 0.9M140.1 111.0l-0.9-0.4M154.0 100.6l0.3 1.0M154.0 100.6l0.9-0.1M153.8 99.1l0.0-1.0M153.8 99.1l1.0-0.3M155.6 103.6l0.8-0.6M155.6 103.6l-0.7-0.8M156.5 104.8l0.9 0.5M156.5 104.8l0.9-0.5M159.2 103.5l0.9-0.4M159.2 103.5l0.7 0.7M158.5 102.3l-0.1-1.0M160.9 100.6l-0.3-0.9M160.9 100.6l1.0-0.1M161.7 101.5l0.5-0.8M161.7 101.5l0.9 0.5M164.0 101.1l1.0 0.3M151.7 106.4l-0.5-0.9M151.7 106.4l-0.9 0.4M152.9 107.7l-0.4 0.9M155.7 111.1l-0.8 0.7M155.7 111.1l0.8 0.6M154.6 110.3l-0.5 0.9M154.6 110.3l-1.0 0.0M160.4 107.1l0.8 0.6M160.4 107.1l0.7-0.7M159.5 105.9l0.8-0.5M162.9 112.3l0.2-1.0M162.9 112.3l1.0 0.0M163.2 113.6l1.0-0.1M163.2 113.6l0.7 0.8M166.1 113.3l0.4 0.9M166.1 113.3l1.0-0.1M168.0 114.6l1.0 0.1M168.0 114.6l0.3 1.0M165.6 111.5l0.8-0.5M165.6 111.5l-0.2-0.9M168.3 111.0l-0.3-1.0M168.3 111.0l0.9-0.5M169.0 112.8l0.5 0.9M169.0 112.8l1.0-0.1 1.0 0.0M159.1 115.7l-0.3 0.9M159.1 115.7l-1.0 0.0M160.7 116.0l0.9 0.4M160.7 116.0l-0.1 1.0M162.3 119.2l0.0 1.0M162.3 119.2l-1.0 0.2M161.0 121.2l-0.9 0.4M161.0 121.2l0.4 1.0M159.6 123.1l0.0 1.0M159.6 123.1l-1.0 0.4M163.6 119.4l0.9 0.3M163.6 119.4l-0.2 0.9M165.2 115.1l0.8-0.6M165.2 115.1l-0.2-1.0M165.7 116.9l0.3 1.0M165.7 116.9l1.0 0.2M170.0 121.1l0.5 0.9M170.0 121.1l0.9-0.4M172.3 121.7l0.8-0.6M172.3 121.7l0.6 0.8M173.5 122.0l0.6 0.8M173.5 122.0l0.9-0.5M169.5 119.8l0.8-0.5M169.5 119.8l0.0-1.0M171.6 118.0l-0.4-0.9M171.6 118.0l0.6-0.7M172.0 115.7l0.7-0.7M172.5 119.5l0.6 0.8M172.5 119.5l0.9-0.5M175.1 117.9l0.8-0.7M174.1 116.5l0.7-0.6M174.1 116.5l-0.6-0.8M174.8 114.3l-0.3-1.0M174.8 114.3l1.0-0.2M177.0 115.2l-0.4-0.9M177.0 115.2l0.9-0.3M177.8 116.6l0.6 0.8M177.8 116.6l0.7-0.6M167.5 124.2l-0.5 0.9M166.0 123.6l-1.0 0.0-1.0 0.0M166.0 123.6l-0.5 0.9M164.1 125.1l0.0 1.0M164.1 125.1l-1.0-0.2M169.4 127.4l-0.8 0.6M169.4 127.4l-0.8-0.5M170.6 128.7l-0.8 0.6M170.8 131.1l0.8 0.6M170.8 131.1l-0.8 0.6M175.3 125.2l1.0 0.3M175.3 125.2l0.6 0.8M174.3 123.6l0.5-0.8M174.3 123.6l-0.8-0.6M178.3 128.6l0.9-0.5M178.3 128.6l0.8 0.6M177.3 127.2l-0.6-0.8M177.3 127.2l0.9-0.4M172.7 131.5l-0.4 0.9M172.7 131.5l-0.9-0.2M174.1 132.3l-0.4 0.9M174.1 132.3l0.9 0.4M178.0 137.2l0.9 0.2M178.0 137.2l-0.7 0.7M178.0 139.6l-0.4 0.9M178.0 139.6l0.6 0.8M177.8 141.9l0.2 1.0M177.8 141.9l-0.6 0.8M176.6 136.4l-0.9-0.4M176.6 136.4l-0.4 0.9M174.4 137.3l-0.7 0.8M174.4 137.3l-1.0-0.3M175.0 138.9l-0.7-0.7M175.0 138.9l-0.5 0.9M176.6 139.7l-0.5 0.8M174.9 142.1l-0.1 1.0 0.0 1.0M174.9 142.1l1.0 0.3M173.4 141.6l-0.4 0.9M173.4 141.6l-0.9-0.5M171.3 142.7l-1.0-0.1M171.3 142.7l-0.1 1.0M181.1 134.4l0.7 0.7M181.1 134.4l0.9-0.4M180.5 133.1l0.9-0.5M180.5 133.1l-0.2-1.0M182.2 142.3l0.8 0.6M182.2 142.3l-0.3 1.0M180.8 141.6l-0.9-0.3M180.8 141.6l0.0 1.0M188.5 143.3l0.8-0.6M188.5 143.3l-0.5-0.9M188.7 142.1l-0.8-0.6M189.3 139.8l0.6-0.8M189.3 139.8l-0.2-1.0M189.3 145.0l0.7 0.7M189.3 145.0l0.9-0.3M192.0 143.5l0.4 1.0M191.4 142.0l0.1-1.0M191.4 142.0l1.0-0.1M193.5 148.3l0.2 1.0M193.5 148.3l0.9-0.3M195.7 149.3l1.0-0.3M195.7 149.3l0.7 0.7M192.9 146.7l0.3-1.0M192.9 146.7l1.0-0.3M188.3 150.9l-0.9 0.5M188.3 150.9l0.6 0.8M187.8 153.2l0.5 0.9M187.8 153.2l-0.9 0.5M187.8 155.6l0.7 0.7M187.3 149.7l-0.7 0.7M187.3 149.7l-0.9-0.6M193.0 156.5l0.7 0.7M193.0 156.5l-0.2 1.0M191.5 155.3l-0.8 0.4M191.5 155.3l-0.8-0.6M196.2 154.3l0.2 0.9M196.2 154.3l0.9-0.4M195.5 152.5l-0.4-0.9M195.9 158.3l0.6 0.8M195.9 158.3l-0.9 0.6M195.1 160.6l-0.8 0.6M195.1 160.6l0.2 1.0M197.2 157.4l0.6 0.9 0.5 0.8M197.2 157.4l0.8-0.6M199.6 158.0l0.8-0.5M199.6 158.0l0.3 0.9M158.1 116.9l0.9-0.4M158.1 116.9l0.3 1.0M156.7 117.7l-0.9 0.6M156.7 117.7l0.3 0.9M153.4 113.1l-0.8 0.6M153.4 113.1l-1.0-0.4M154.7 111.6l-0.5-0.8M154.7 111.6l0.8-0.6M147.8 115.5l-0.7-0.6M147.8 115.5l-0.7 0.7M148.8 114.4l-0.9-0.4M148.7 112.0l-0.6-0.8M148.7 112.0l0.7-0.7M149.5 119.0l-0.3 0.9M149.5 119.0l-0.9 0.4M151.2 118.9l0.1 1.0M151.2 118.9l1.0 0.1M153.0 120.5l1.0 0.0M153.0 120.5l0.1 1.0M146.1 120.8l-1.0 0.2M147.8 120.7l0.0 1.0M149.3 122.5l1.0 0.0M149.3 122.5l0.2 1.0M145.6 116.2l0.9-0.4M145.6 116.2l-0.4-0.8M144.2 117.4l-0.7-0.7M144.2 117.4l-0.9 0.4M141.4 117.4l1.0 0.0M141.4 117.4l-0.3-0.9M140.0 122.3l0.5 0.9M140.0 122.3l-0.7 0.7M140.0 124.7l-0.7 0.7M140.0 124.7l0.8 0.6M138.8 121.4l-0.4 0.9M138.8 121.4l-0.9-0.5M136.4 121.9l-0.8-0.6M136.4 121.9l-0.5 0.8M136.8 123.6l-0.8-0.6M136.8 123.6l-0.4 0.9M138.1 124.6l-0.7 0.7M138.1 124.6l0.7 0.7M133.2 115.1l-0.2-1.0M133.2 115.1l-1.0 0.2M134.8 114.7l-0.2-0.9M134.8 114.7l1.0-0.2M136.1 112.7l0.9-0.4M136.1 112.7l0.1-1.0M133.8 111.8l0.9-0.2M133.8 111.8l-0.7-0.7M135.2 109.9l0.0-1.0M135.2 109.9l1.0-0.2M132.3 112.2l-1.0-0.1M130.3 111.0l-1.0 0.3M130.3 111.0l-0.5-0.9M131.3 109.5l-0.5-0.9M131.3 109.5l-1.0 0.3M132.8 109.0l0.0-1.0M132.8 109.0l1.0-0.2M130.8 114.1l0.8 0.6M129.2 113.5l0.1-1.0M129.2 113.5l-0.9-0.4M127.0 118.8l-0.8-0.6M127.0 118.8l-0.9 0.5M128.1 119.9l0.7 0.8M128.1 119.9l-0.6 0.8M126.6 117.9l-1.0 0.1M126.6 117.9l-0.2 1.0M126.9 116.1l-1.0 0.0M125.7 114.0l0.4-0.9M125.7 114.0l-0.8-0.5M181.0 129.8l0.3-1.0 0.4-0.9M181.0 129.8l0.9-0.3M182.2 127.7l0.9-0.4M179.6 129.6l-1.0-0.1M179.6 129.6l0.3-1.0M181.6 135.7l1.0-0.1M181.6 135.7l0.0 1.0M180.4 136.1l0.3 0.9M186.6 135.5l0.1 1.0M184.9 135.6l-1.0 0.0M184.9 135.6l0.2 1.0M187.5 131.6l1.0 0.2 1.0 0.2M187.5 131.6l0.8-0.6M189.7 130.7l0.4-0.9M189.7 130.7l0.9 0.5M186.1 130.7l-0.9-0.5M186.1 130.7l0.3-0.9M185.1 128.5l0.1-1.0M185.1 128.5l-1.0-0.1M193.6 133.6l0.7-0.7M193.6 133.6l0.8 0.6M195.9 133.0l0.8 0.6M195.9 133.0l0.8-0.7M192.2 132.6l0.7-0.7M192.2 132.6l-1.0-0.2M194.2 130.3l0.8-0.7M194.2 130.3l-0.9-0.4M194.0 129.1l-0.9-0.5M194.0 129.1l0.5-0.8M193.5 126.8l0.5-0.9M193.5 126.8l-0.7-0.7M195.5 131.3l0.8 0.7M195.5 131.3l0.8-0.7M197.3 128.7l0.8 0.6M197.3 128.7l0.5-0.9 0.4-0.9M196.1 127.9l0.2-0.9M191.6 137.5l0.8 0.5M191.6 137.5l-0.1 1.0M192.0 138.6l0.2 1.0M192.0 138.6l0.8 0.6M190.2 137.1l0.1 1.0M190.2 137.1l-1.0 0.3M195.7 139.9l-0.1 1.0M195.7 139.9l-1.0-0.2M197.3 140.2l0.9 0.4M197.3 140.2l0.0 1.0M198.9 136.1l0.9 0.4M198.9 136.1l0.7-0.7 0.9-0.6M201.2 135.4l0.7-0.7M201.2 135.4l1.0 0.3M197.5 135.2l-0.5-0.8M203.0 140.1l0.7-0.7M203.0 140.1l0.7 0.8M205.4 139.6l0.8 0.5M205.4 139.6l0.7-0.7M202.0 141.5l-0.5 0.9M202.0 141.5l0.9 0.5M159.8 107.3l0.0-1.0M159.8 107.3l-1.0 0.1M161.2 107.0l-0.3-0.9M161.2 107.0l0.8-0.5M162.1 113.2l-0.8 0.5M162.1 113.2l0.7 0.7M163.5 111.9l0.8-0.6M163.5 111.9l0.6 0.8M168.9 109.7l0.7-0.7M168.9 109.7l0.4 0.9M168.1 110.5l0.9 0.4M168.1 110.5l-0.3 1.0M167.1 105.8l-0.2-1.0M167.1 105.8l0.8-0.6M167.5 104.6l0.9-0.2M167.5 104.6l-0.4-0.9M165.7 106.0l-1.0 0.0M165.7 106.0l0.0-1.0M163.9 104.4l-0.2-1.0M163.9 104.4l-1.0-0.1M169.9 102.9l-0.9 0.6M169.9 102.9l-0.3-0.9M171.3 102.2l0.9-0.5M173.6 106.3l1.0 0.3M174.7 108.4l-0.2 1.0M175.6 110.6l0.9 0.5M175.6 110.6l-0.3 1.0M174.2 104.8l1.0 0.1M174.2 104.8l0.5-0.9M178.3 99.3l0.3-0.9M178.3 99.3l1.0 0.1M177.7 100.9l1.0 0.3M177.7 100.9l0.2 1.0M175.1 96.6l0.6-0.8M175.1 96.6l-0.5-0.9M174.9 94.2l-0.9-0.4M174.9 94.2l0.6-0.7M174.1 97.3l-0.9 0.4M174.1 97.3l0.1-1.0M180.7 94.1l0.6-0.8M180.7 94.1l0.9 0.5M183.1 93.6l0.9 0.4M179.7 93.1l0.7-0.6M179.7 93.1l-0.4-0.9M181.4 91.0l-0.5-0.9M181.4 91.0l0.5-0.9M180.9 88.6l0.4-0.9M180.9 88.6l-1.0-0.1M182.8 92.1l0.7-0.7M182.8 92.1l0.9 0.5M105.7 98.7l-1.0 0.1M105.7 98.7l0.2 1.0M105.2 97.0l-0.5-0.8M105.2 97.0l-0.9 0.4M102.1 98.2l-0.4-0.9M102.1 98.2l-0.9 0.4M99.8 97.5l-0.9 0.3M99.8 97.5l-0.5-0.8M102.6 99.3l-0.3 1.0M102.6 99.3l-1.0 0.2M110.1 97.8l0.7-0.7 0.5-0.9M110.1 97.8l0.9 0.5M112.5 97.4l1.0 0.1M112.5 97.4l0.7-0.7M109.2 99.2l0.7 0.7M109.2 99.2l-0.7 0.7M111.8 100.7l0.8 0.7M112.6 99.1l1.0 0.2M112.6 99.1l0.7-0.8M116.6 101.3l1.0 0.2M116.6 101.3l0.7-0.8M115.7 102.8l-0.5 0.9M115.7 102.8l0.7 0.8M116.1 105.2l-0.7 0.7M118.3 104.5l-0.2 1.0M118.3 104.5l0.7 0.7M119.1 103.2l0.9 0.5M119.1 103.2l0.7-0.7 0.9-0.6M109.1 101.9l0.7 0.7M109.1 101.9l0.3-0.9M108.2 103.4l-0.5 0.9M104.1 101.6l-1.0-0.1M104.1 101.6l-0.5-0.9M106.2 110.0l-0.9 0.5M106.2 110.0l0.6 0.8M105.6 112.3l0.7 0.7M105.6 112.3l-0.9 0.3M105.0 114.6l-0.8 0.7M105.0 114.6l0.8 0.7M105.4 109.0l-0.4 0.9M105.4 109.0l-0.7-0.7M103.8 111.7l-0.6 0.8M103.8 111.7l-1.0-0.3M105.2 112.5l-0.6 0.8M103.4 115.0l-0.5 0.9M102.0 114.0l-0.7-0.7M102.0 114.0l-0.5 0.8M100.5 116.7l-0.7 0.7M101.8 117.5l-0.3 1.0M101.8 117.5l0.6 0.8M109.7 106.5l1.0-0.3 0.9-0.5M109.7 106.5l-0.1-0.9M111.0 104.5l-0.3-1.0M111.0 104.5l0.9-0.4M110.1 108.1l1.0-0.2M110.1 108.1l0.4 0.9M112.2 112.6l-0.2-0.9M113.9 110.9l0.2-1.0M113.9 110.9l1.0 0.0M114.7 110.0l1.0 0.3M114.7 110.0l0.2-1.0M112.5 114.0l0.5 0.9M112.5 114.0l1.0-0.3M115.1 114.5l1.0 0.1M115.1 114.5l-0.1 1.0M115.5 112.9l0.9 0.4M115.5 112.9l0.3-0.9M107.7 114.8l-0.8-0.7M107.7 114.8l-0.9 0.4M108.9 115.9l-0.8 0.6M109.7 120.9l-1.0 0.3M109.7 120.9l-0.7-0.8M110.8 122.3l0.5 0.9M110.8 122.3l-0.6 0.7M110.9 124.7l-0.8 0.6M110.9 124.7l0.5 0.8M108.4 124.3l-0.6 0.7M108.4 124.3l0.4 0.9M107.4 123.1l-0.9 0.4M107.4 123.1l-0.8-0.7M105.3 125.3l-0.8-0.6M105.3 125.3l-0.9 0.4M106.5 126.4l-0.7 0.7M106.5 126.4l0.6 0.8M104.4 128.4l-0.6 0.8M103.1 127.5l-0.7 0.7M103.1 127.5l-0.9-0.4M115.6 119.3l0.9-0.3M115.6 119.3l0.4 0.9M115.2 117.7l0.7-0.6M119.9 122.4l0.0-1.0M119.9 122.4l0.9-0.4M121.0 120.2l0.7-0.6M121.0 120.2l-0.2-0.9M120.4 123.8l0.8-0.5M120.4 123.8l0.3 0.9M121.5 130.8l0.4 0.9M120.3 129.8l-0.3 1.0M119.7 132.9l-0.8 0.7M119.7 132.9l0.5 0.9M120.4 135.2l0.7 0.7M120.4 135.2l-0.5 0.9M124.4 126.7l0.2-1.0M124.4 126.7l1.0 0.0M125.8 124.7l0.9-0.3M125.0 127.8l0.8 0.6M127.6 126.8l0.9-0.4M127.6 126.8l0.7 0.7M127.2 125.4l0.9-0.3M127.2 125.4l-0.1-1.0M124.5 133.9l-0.9-0.3M124.5 133.9l-0.8 0.6M126.1 134.7l0.8 0.6M126.1 134.7l-0.4 0.9M125.7 137.5l-0.2 1.0M124.2 137.3l-1.0 0.1M125.0 140.5l0.0 1.0M128.8 136.2l-0.7 0.7M130.3 135.2l0.8-0.5M130.3 135.2l0.8 0.6M104.4 106.6l0.1 1.0M104.4 106.6l1.0 0.2M102.6 106.1l-0.9-0.4M102.6 106.1l-0.3 1.0M103.9 101.6l1.0-0.3M103.9 101.6l-0.4-0.8M102.3 102.5l-0.4-0.9M102.3 102.5l-0.9 0.4M98.3 102.8l0.9-0.5M98.3 102.8l-0.1-1.0M96.9 102.9l-1.0-0.1M96.9 102.9l0.3-1.0M97.4 107.8l0.1 1.0M97.4 107.8l-0.9 0.4M96.5 110.0l-0.9 0.5M96.5 110.0l0.5 0.9M96.0 111.1l0.0 1.0M96.0 111.1l-0.9 0.6M99.0 107.5l0.4 0.9M99.0 107.5l0.9-0.3M92.7 108.8l0.1 1.0M92.7 108.8l1.0 0.1M90.9 108.6l-0.1 1.0M90.8 111.8l0.3 1.0M90.8 111.8l-1.0 0.0M89.1 113.5l-0.9-0.2M89.1 113.5l-0.3 0.9M92.2 111.9l-0.1 1.0M92.2 111.9l1.0 0.3M88.9 103.9l-0.9 0.3M88.9 103.9l-0.7-0.7M90.3 102.9l0.7-0.7M90.3 102.9l-0.4-0.9M84.5 105.6l-1.0 0.3M84.5 105.6l-0.7-0.7M86.1 105.0l-0.4-0.9M86.1 105.0l1.0-0.1M87.0 110.0l-0.1 1.0M87.0 110.0l1.0 0.1M85.3 109.7l-0.5 0.9M85.3 109.7l-1.0 0.1M85.9 113.1l0.0 1.0M85.9 113.1l-0.9 0.4M87.2 112.9l1.0 0.1M87.2 112.9l0.2 1.0M87.1 117.5l-0.3 1.0M87.1 117.5l1.0 0.1M85.6 117.4l-0.1 1.0M85.6 117.4l-0.9 0.3M81.7 107.4l-1.0-0.1M81.7 107.4l-0.1-1.0M80.2 105.5l0.2-1.0M80.2 105.5l-1.0-0.2M82.0 109.3l-1.0 0.3M82.0 109.3l-0.2 1.0M81.0 111.5l0.5 0.9M81.0 111.5l-0.9 0.3M109.3 116.0l-0.5-0.9M109.3 116.0l0.8-0.7M107.9 116.9l-0.9 0.4M109.4 121.1l-0.9 0.3M109.4 121.1l0.1 1.0M110.9 120.6l1.0-0.4M110.9 120.6l0.3 1.0M104.3 125.5l-1.0 0.3M104.3 125.5l0.0 1.0M105.9 125.2l1.0-0.2M105.9 125.2l0.2 1.0M101.6 118.6l-0.9 0.4M101.6 118.6l-0.5-0.9M102.9 118.0l-0.6-0.8M102.9 118.0l0.7-0.7M99.0 121.8l0.3-0.9M99.0 121.8l-0.9-0.3M98.6 123.1l-0.9-0.4M98.6 123.1l-0.7 0.8M102.5 125.6l0.4 0.9M100.8 125.9l-1.0 0.2M100.8 125.9l0.2 1.0M97.3 128.5l0.3 1.0M97.3 128.5l1.0-0.1M99.2 130.0l0.9 0.2M99.2 130.0l0.3 0.9M95.7 129.0l-1.0 0.3M95.7 129.0l0.3 0.9M93.4 126.0l-0.9-0.5M93.4 126.0l-0.2 1.0M94.3 124.5l0.8-0.7M93.6 122.2l0.7-0.8M93.6 122.2l-1.0-0.1M89.9 129.2l-0.9-0.6M87.5 128.8l-0.7 0.8M87.5 128.8l-0.6-0.8M90.9 130.5l0.7 0.7M90.9 130.5l-0.9 0.6M88.6 132.4l-0.5 0.8M88.6 132.4l0.5 0.8M88.5 134.8l0.7 0.7M88.5 134.8l-0.5 0.8M87.5 131.2l-0.8 0.7M87.5 131.2l-0.8-0.6M85.1 131.1l-0.7-0.7M85.1 131.1l-0.7 0.7M85.0 132.4l-1.0 0.1M85.0 132.4l-0.5-0.9M85.8 133.9l-1.0 0.3M85.3 136.2l0.7 0.8M85.3 136.2l-0.3 0.9M30.1 129.4l0.5-0.9M29.0 128.4l0.5-0.8M28.8 127.2l-0.6-0.8M28.8 127.2l0.5-0.9M28.7 124.8l-0.8-0.6M29.6 125.6l-0.8-0.5M31.1 126.2l0.9-0.2M31.1 126.2l0.4-0.9M32.2 125.7l0.3-0.9M32.2 125.7l0.9 0.3M32.4 123.8l0.9 0.4M31.1 122.9l0.6-0.8M31.1 122.9l-0.8-0.6M29.8 134.6l0.4 0.9M31.6 136.2l-0.2 1.0M28.0 134.8l0.3 1.0M28.5 137.8l0.0 1.0M28.5 137.8l-1.0 0.3M30.4 137.4l0.9-0.3M30.4 140.8l0.1 1.0 0.0 1.0M32.2 142.4l-0.2 1.0M32.2 142.4l1.0 0.1M29.0 140.9l0.0 1.0M37.0 133.0l1.0-0.3M37.0 133.0l0.5 0.9M36.0 137.0l0.1 1.0M36.0 137.0l1.0 0.2 1.0-0.1M34.5 136.9l-1.0 0.1M34.5 136.9l-0.5 0.9M34.4 139.8l-0.2 1.0M34.4 139.8l-1.0 0.0M36.2 139.8l0.9-0.4M34.4 127.6l-1.0-0.2M34.4 127.6l-0.1-0.9M35.9 127.7l0.4-0.9M35.9 127.7l1.0 0.2M37.7 126.0l0.2-0.9M41.1 126.6l-0.9-0.3M41.1 126.6l0.5-0.9M42.7 132.6l-0.8 0.5M44.7 131.6l-0.8 0.7M44.7 131.6l-0.9-0.5M45.6 132.5l-0.7 0.7M45.6 132.5l0.3 1.0M49.3 129.6l0.4-1.0M49.2 130.9l1.0 0.0M49.2 130.9l0.5 0.9M48.4 136.5l-0.9 0.6M49.6 137.6l0.6 0.8M49.6 137.6l-0.8 0.5M53.8 142.8l0.6 0.8M53.8 145.2l0.9 0.6M52.6 142.2l-0.3 1.0M52.6 142.2l-1.0-0.1M52.3 145.3l-0.3 0.9M49.0 146.4l-0.8 0.5M49.0 146.4l-0.9-0.5M46.8 145.6l-0.7-0.8M46.8 145.6l-0.9 0.5M56.9 140.3l0.5 0.8M56.5 138.8l1.0 0.2M56.9 149.2l-0.6 0.8M56.9 149.2l0.6 0.8M64.5 147.5l0.8-0.7M64.5 146.3l0.2-1.0M64.4 143.9l-0.8-0.7M67.1 145.7l0.9-0.4M68.0 147.0l0.9-0.4M70.3 144.8l0.7 0.7M69.1 149.8l-0.9-0.5M69.1 149.8l0.4-0.9M73.8 157.9l-0.9-0.2M73.8 157.9l-0.3 1.0M71.9 159.4l-0.3 0.9M71.9 159.4l-1.0 0.0M75.8 158.0l1.0 0.1M75.6 161.2l0.0 1.0M76.4 162.2l0.3 0.9M74.1 161.2l-1.0 0.3M72.5 163.0l0.4 0.9M72.5 163.0l-1.0 0.2M75.6 151.8l0.9-0.6M75.6 151.8l-0.6-0.8M76.5 152.3l1.0 0.2 0.9 0.3M76.5 152.3l0.3-0.9M81.2 154.9l-0.6-0.8M81.2 154.9l0.9-0.5M81.5 152.5l0.7-0.6M81.5 152.5l-0.7-0.7M81.8 150.2l-0.4-1.0M81.8 150.2l0.7-0.7M84.5 154.3l0.8-0.6M84.5 154.3l0.7 0.8M86.9 154.5l0.8-0.6M83.8 153.0l0.7-0.7M85.6 150.8l-0.7-0.7M85.6 150.8l0.4-0.9M85.7 148.4l0.8-0.6M85.7 148.4l-0.5-0.8M86.7 151.9l0.5-0.9M86.7 151.9l0.8 0.6M81.0 159.5l-0.2 1.0M79.3 159.6l-1.0 0.3M88.3 163.2l0.5 0.9M88.3 163.2l1.0-0.1M86.4 163.4l-1.0-0.1M86.8 166.4l-0.2 1.0M86.8 166.4l-1.0 0.0M88.7 166.2l0.1 1.0M88.7 166.2l1.0-0.1M88.8 169.5l0.3 1.0M87.2 169.4l-0.9 0.4M87.2 169.4l0.0 1.0M86.3 170.3l0.1 1.0M86.3 170.3l-0.9 0.2M87.8 172.6l0.3 1.0M87.8 172.6l-1.0 0.1M89.3 172.3l0.1 1.0M94.7 162.7l0.9 0.3M95.8 162.3l0.6-0.8M95.8 162.3l0.9 0.6M98.2 161.7l0.9 0.4M98.2 161.7l0.4-0.9M93.6 161.8l-0.7-0.8M95.2 159.7l-0.9-0.4M94.6 157.3l-0.8-0.6M94.6 157.3l0.1-1.0M96.8 160.7l0.6-0.8M96.8 160.7l0.9 0.5M98.9 159.1l0.8 0.6M98.9 159.1l1.0-0.3M98.1 157.6l1.0-0.2M91.0 166.1l-1.0-0.3M92.6 166.6l0.9 0.2M98.6 164.5l-0.5-0.8M98.6 164.5l0.4-0.9M99.7 165.2l0.9 0.4M101.8 164.1l0.2-1.0M106.6 166.0l-0.5-0.9M106.6 166.0l0.8-0.5M109.1 168.3l0.3 1.0M109.1 168.3l0.9-0.3M111.2 165.4l-0.3-1.0M111.2 165.4l1.0-0.1M102.0 174.9l-0.3 1.0M102.0 174.9l0.7 0.7M100.5 174.3l-1.0-0.3M100.5 174.3l-0.5 0.9M105.0 175.9l-0.4 1.0M105.0 175.9l-0.9-0.4M107.7 177.0l0.2 1.0M108.0 172.0l-0.4-1.0M113.9 177.7l0.9-0.4M113.4 173.7l-0.4-0.9M113.4 173.7l0.7-0.7M115.4 174.6l-0.7-0.7M116.6 175.9l0.9-0.4M116.6 175.9l0.6 0.8M120.3 174.9l0.6 0.8M118.3 173.1l-0.4-0.9M118.3 173.1l0.8-0.5M118.6 170.7l0.6-0.7M118.6 170.7l-0.6-0.8M110.3 180.1l-0.6 0.8M110.3 180.1l-0.9-0.4M112.3 180.2l0.3 1.0M112.3 180.2l1.0 0.1M118.4 182.6l-0.2 1.0M118.4 182.6l0.9 0.3M119.9 184.5l0.9 0.3M119.9 184.5l0.0 1.0M121.4 186.3l0.2 1.0M117.2 182.6l0.0 1.0M117.2 182.6l-0.9 0.5M116.3 184.8l-0.9 0.6M116.3 184.8l0.5 0.9M117.2 187.0l-1.0 0.3M117.2 187.0l0.0 1.0M115.7 188.9l-0.1 1.0M115.7 188.9l-1.0 0.2M118.9 186.7l1.0-0.3M118.9 186.7l0.2 1.0M118.8 177.8l0.6-0.8M119.9 179.1l1.0-0.2M119.9 179.1l0.6 0.9M125.7 180.3l0.6-0.8M125.7 180.3l1.0 0.0M127.9 179.5l0.8 0.6M127.9 179.5l0.6-0.9M130.1 178.5l0.6-0.8M130.1 178.5l0.9 0.5M123.9 179.8l-0.9-0.4M125.6 177.0l0.2-1.0M124.8 174.8l-0.8-0.6M124.8 174.8l0.4-0.9M131.7 173.4l0.8 0.6M123.7 184.6l-0.2 1.0M123.7 184.6l-1.0 0.3M132.0 182.7l0.3-1.0M132.8 182.9l1.0 0.2M134.6 181.3l0.2-1.0M134.6 181.3l1.0-0.1M131.4 185.5l-0.2 0.9M134.4 186.1l-0.1 1.0M134.4 186.1l0.9 0.5M134.9 184.6l1.0 0.1M56.7 149.3l-0.9-0.4M56.7 149.3l-0.8 0.6M58.2 148.0l-0.6-0.7M58.2 148.0l0.8-0.6M59.8 153.8l0.2 1.0M59.8 153.8l-0.9 0.5M58.6 155.9l-0.8 0.6M58.6 155.9l0.2 1.0M61.2 153.5l0.4 1.0M61.2 153.5l1.0 0.0M54.8 157.6l0.5 0.9M54.8 157.6l-0.9 0.5M54.2 159.9l-0.9 0.4M54.2 159.9l0.2 1.0M56.3 156.9l0.5 0.8M52.0 152.5l-0.7 0.6M53.2 151.3l-0.6-0.8M53.2 151.3l0.8-0.6M46.3 154.6l-1.0 0.3M46.3 154.6l-0.6-0.8M47.9 153.6l1.0-0.3M48.6 151.3l-0.5-0.9M47.4 158.4l-0.9 0.2M47.4 158.4l0.0 1.0M46.5 159.2l-0.2 1.0M46.5 159.2l-1.0 0.0M44.4 160.4l-0.9-0.4M49.0 158.4l-0.1 1.0M40.6 158.2l-1.0-0.4M42.3 158.8l-0.1 1.0M42.3 158.8l0.9 0.3M41.2 161.8l0.9 0.3M39.8 161.2l-1.0-0.2M39.8 161.2l-0.5 0.9M43.5 152.5l0.0-1.0M43.5 152.5l1.0 0.1M44.3 151.6l0.9-0.3M45.9 149.8l1.0-0.2M42.3 152.2l-0.6-0.8M42.3 152.2l0.5-0.8M38.4 149.4l-0.2-0.9M38.4 149.4l1.0 0.1M39.6 147.4l0.9-0.6M39.6 147.4l-0.2-1.0M35.1 151.6l-0.9 0.4M34.5 148.6l0.0-1.0M34.5 148.6l-0.9 0.3M36.1 148.2l-0.4-0.9M36.2 145.5l0.4-0.9M37.9 143.9l1.0 0.3M34.4 145.5l-1.0 0.0M32.7 156.7l-1.0-0.2M36.4 156.2l-0.1 1.0M36.4 156.2l0.9 0.4M30.7 151.8l-0.1-0.9M65.1 156.9l1.0 0.0M65.1 156.9l0.0-1.0M66.9 155.3l1.0-0.2M65.0 158.4l1.0-0.1M68.0 158.7l1.0 0.1M68.0 158.7l0.1 0.9M68.8 159.5l1.0 0.2M58.7 158.7l-0.7 0.6M58.7 158.7l-0.6-0.8M59.8 160.0l0.4 0.9M59.7 162.4l-0.4 0.9M59.7 162.4l0.7 0.8M62.4 166.1l0.7 0.7M61.3 164.3l-0.9 0.5M61.3 164.3l-0.5-0.8M58.9 166.5l-0.8 0.7M60.0 168.0l0.5 0.9M60.0 168.0l-0.8 0.6M57.9 169.9l0.8 0.5M56.6 169.1l-1.0-0.3M56.6 169.1l-0.6 0.8M55.2 171.6l-0.7 0.7M55.0 174.0l0.5 0.9M55.0 174.0l-0.9 0.5M66.1 163.9l0.8 0.6M66.1 163.9l0.6-0.8M68.3 163.1l0.7-0.7M65.5 165.5l-0.2 0.9M68.5 166.2l0.2 1.0M69.0 167.3l0.9 0.4M69.0 167.3l-0.4 0.9M69.0 164.8l0.5-0.9M69.0 164.8l1.0 0.3M66.8 169.6l0.1-1.0M66.8 169.6l1.0-0.1M62.0 170.4l-0.2-1.0M62.0 170.4l-1.0 0.0M60.7 173.5l-1.0 0.1M60.7 173.5l0.1 1.0M65.2 177.5l-0.7-0.6-0.9-0.5M65.2 177.5l-0.7 0.7M62.8 177.5l-0.7 0.7M62.8 177.5l-0.7-0.7M66.1 178.8l0.2 1.0M66.1 178.8l-0.8 0.6M62.7 181.7l0.4 1.0M62.7 181.7l-0.8 0.6M61.8 180.6l-0.6-0.8M70.0 176.1l0.5 0.9M70.0 176.1l0.7-0.7M69.1 174.7l-0.5-0.9M69.5 172.3l-0.6-0.8M72.8 180.6l0.8 0.7M72.4 179.3l-0.5-0.9M72.4 179.3l1.0-0.2M68.4 182.4l-0.5 0.9M66.3 183.5l-1.0 0.0M69.7 183.3l0.8 0.7M70.1 185.7l-0.5 0.9M70.1 185.7l0.4 0.9M72.4 187.5l-0.4 0.9M70.1 188.2l-0.7 0.7M70.1 188.2l-0.8-0.6M73.8 188.3l-0.6 0.8M73.8 188.3l0.8 0.6M72.1 190.8l0.3 1.0M72.1 192.0l-0.7 0.8M72.1 192.0l0.7 0.7M70.7 189.6l-0.8-0.6M76.7 184.6l0.9-0.2M76.7 184.6l0.3-0.9M77.5 183.8l0.2-1.0M77.5 183.8l1.0 0.0M79.2 182.0l0.9 0.2M79.2 182.0l0.0-1.0M77.0 186.0l1.0-0.1M79.2 186.9l0.3 1.0M79.2 186.9l1.0-0.1M82.1 189.0l0.6-0.7M82.1 189.0l0.7 0.7M84.5 189.0l0.9-0.3M80.8 188.0l-0.6-0.7M77.5 194.9l1.0 0.2M77.5 194.9l-0.3 0.9M77.7 196.1l0.7 0.7M76.0 194.1l-0.6 0.8M76.0 194.1l-0.9-0.4M80.9 197.6l-0.5 0.9M81.8 200.9l0.4 0.9M79.5 202.2l0.5 0.8M79.5 202.2l-0.6 0.8M78.3 201.5l-1.0-0.2M78.3 201.5l-0.5 0.8M84.1 194.0l0.5-0.8 0.8-0.6M84.1 194.0l-0.6-0.8M90.0 199.6l0.9-0.3M91.5 197.7l1.0 0.0M90.4 200.9l0.4 0.9M93.1 199.5l0.9-0.2M92.4 198.1l0.9-0.5M91.7 203.4l0.3-0.9M40.1 125.6l-1.0 0.2M40.2 123.8l-1.0 0.0M40.2 123.8l0.3-0.9M38.8 121.9l-0.1-1.0M48.5 124.5l0.5 0.8M45.3 122.4l-0.7-0.8M45.3 122.4l0.8-0.6M45.7 120.0l-0.5-0.8M43.9 117.8l0.6-0.9M46.3 117.3l0.7 0.7M46.3 117.3l0.5-0.9M46.3 113.6l-0.6-0.7M46.3 113.6l0.8-0.6M46.9 111.3l-0.3-1.0M47.3 115.0l0.9-0.6M49.7 115.3l0.7-0.7M49.7 113.2l0.4 0.9M49.7 113.2l0.8-0.6 0.8-0.6M48.5 111.8l0.7-0.7M48.5 111.8l-0.8-0.5M39.0 119.1l-1.0 0.2M39.0 119.1l-0.6-0.8M36.6 118.8l-0.6-0.8M36.6 118.8l-0.9 0.4M39.4 120.2l-1.0 0.0M37.4 113.7l-0.9 0.4M35.9 113.1l-0.8-0.6M39.7 112.2l-0.4-0.9M39.7 112.2l0.8-0.5M38.7 106.9l0.9-0.4M36.7 109.0l-0.6-0.8M35.7 105.9l-0.5-0.9M37.2 105.3l-0.4-1.0M37.2 105.3l0.8-0.5M75.2 149.1l1.0-0.3M76.2 149.6l0.4 1.0M76.2 149.6l1.0-0.1M74.5 147.5l-0.3-0.9M74.5 147.5l1.0-0.3M70.3 148.4l0.1-1.0M70.3 150.1l-0.9-0.1M69.5 142.5l0.5-0.9M69.5 142.5l-0.9-0.5M68.5 144.2l-0.9-0.5M68.5 144.2l-0.3 0.9M73.7 143.1l0.9-0.5M74.4 138.5l0.9-0.5M74.4 138.5l0.6 0.8M76.8 138.8l0.5 0.9M76.8 138.8l1.0-0.1M73.7 137.3l0.8-0.6M75.0 135.3l-0.3-1.0M75.0 135.3l0.9-0.6M76.6 136.4l0.8-0.7M77.2 137.8l0.5 0.9M77.2 137.8l0.9-0.5M80.0 137.0l0.5 0.9M79.4 135.3l-0.6-0.8M69.4 131.1l-0.9-0.4M68.8 132.7l-1.0-0.3M65.9 131.7l-0.9-0.4-1.0-0.3M65.9 131.7l-0.8 0.5M66.4 130.3l-0.9-0.4M74.9 131.0l-0.1-1.0M74.9 131.0l0.9-0.2M76.2 129.0l0.9-0.4M76.2 129.0l0.1-1.0M75.3 132.5l0.9-0.4M73.2 126.5l1.0 0.1M73.2 126.5l0.2 1.0M72.9 125.0l1.0-0.3M72.9 125.0l0.0-1.0M75.1 123.3l-0.6-0.8M75.1 123.3l0.8-0.6M75.3 120.9l0.8-0.6M75.3 120.9l-0.8-0.6M76.0 124.4l0.6-0.8M76.0 124.4l0.9 0.5M78.6 123.7l0.4 0.9M78.6 123.7l1.0-0.2M80.7 124.8l1.0-0.2M80.7 124.8l0.5 1.0M77.8 122.0l0.9-0.5M69.1 124.7l0.4-1.0M68.3 125.9l-0.5-0.9M67.1 125.9l-0.9-0.4M64.7 125.9l-0.8-0.6M65.8 124.2l-0.7-0.7M65.8 124.2l-0.3 0.9M66.6 123.0l0.4-1.0M64.5 121.0l-0.7-0.8M64.5 121.0l0.4-0.9M63.9 118.7l0.5-0.9M63.5 122.4l-0.8-0.5M66.7 121.1l-1.0-0.1M66.5 122.7l-0.1 1.0M66.5 122.7l-1.0 0.1M73.0 122.4l1.0-0.2M72.4 120.9l0.9-0.4M70.9 117.9l0.9-0.3M67.1 116.8l-0.5-0.8M68.1 115.6l-0.8 0.6M68.1 115.6l-0.8-0.6M71.2 114.4l1.0-0.1M71.2 114.4l0.0-1.0M68.0 110.6l-0.3-1.0M95.5 142.2l0.5-0.9M95.5 142.2l0.9 0.4M94.2 141.4l-0.9-0.5M94.2 141.4l0.6-0.7M96.4 139.3l-0.8-0.7M95.9 137.0l-0.8-0.7M95.9 137.0l0.2-1.0M99.9 138.1l0.8 0.5M99.0 137.3l-0.3-1.0M99.0 137.3l0.9-0.4M92.0 147.4l-0.1 1.0M92.0 147.4l-1.0-0.1M91.1 148.2l-0.9-0.3-1.0-0.3M91.1 148.2l-0.3 1.0M89.4 149.9l-0.2 0.9M89.4 149.9l-1.0 0.0M93.7 147.6l0.9 0.3M98.0 148.0l-0.1 1.0M99.2 148.3l-0.6 0.8M99.2 148.3l0.9 0.4M98.7 151.2l-0.3 1.0M97.3 151.0l0.1 1.0M100.9 143.9l0.7-0.7 0.5-0.8M100.9 143.9l0.9 0.5M103.3 144.6l-0.6-0.8M103.3 144.6l0.6-0.9M104.7 145.3l0.8-0.6M107.0 144.6l1.0 0.3M107.0 144.6l0.3-1.0M104.6 150.5l0.5 0.9M103.5 153.9l0.1 1.0M106.0 156.4l0.6 0.7M110.8 153.8l0.7 0.8M110.8 153.8l0.0 1.0M112.3 148.1l0.5-0.9M114.7 147.7l0.8-0.6M111.0 147.2l0.5-0.8M110.9 144.9l0.5-0.9M111.7 142.6l-0.4-0.9M111.7 142.6l0.8-0.6M117.6 149.7l-0.7-0.7M117.6 149.7l0.4-0.9M120.2 147.9l-0.2-1.0M121.2 149.0l0.9 0.4M121.2 149.0l0.9-0.5M117.2 154.3l1.0 0.0M117.2 154.3l-0.3 1.0M118.0 155.1l1.0 0.2M115.7 154.4l0.4 0.9M115.7 154.4l-1.0 0.2M114.3 156.3l-0.9 0.5M114.3 156.3l0.1 1.0M115.1 158.6l-0.3 0.9M113.2 160.0l-1.0 0.1M113.2 160.0l-0.1 1.0M116.6 159.0l1.0 0.1M117.7 161.1l-0.3 0.9M123.1 157.5l1.0 0.2M123.1 157.5l0.4 1.0M125.1 158.8l1.0-0.1M121.0 157.5l-0.2 1.0M121.0 160.8l-1.0 0.0M121.0 160.8l-0.2 1.0M122.6 160.9l-0.2 1.0M124.1 149.4l-0.3-0.9M124.0 147.0l-0.9-0.5M128.8 158.4l-0.1 1.0M130.2 160.4l0.0 1.0M130.2 160.4l0.9 0.3M127.5 158.6l-0.9 0.4M127.5 158.6l0.7 0.7M126.9 161.2l-0.3 0.9M126.9 161.2l-1.0-0.2M128.9 161.2l1.0 0.1M131.4 158.0l0.9 0.5M131.7 156.2l1.0 0.0M133.3 154.3l1.0 0.0M133.3 154.3l0.0-1.0M114.6 181.9l-0.2 0.9M115.1 180.2l1.0 0.3M115.1 180.2l0.5-0.8M112.2 187.8l1.0 0.3M113.8 189.6l0.0 1.0M112.7 186.6l0.8 0.6M107.7 186.6l-0.4 1.0M107.7 186.6l-0.9-0.4M105.5 187.7l-0.9-0.6M108.1 184.9l-0.7-0.6M108.1 184.9l0.4-0.9M107.3 182.7l0.4-1.0M107.3 182.7l-0.8-0.5M103.5 184.5l0.4-0.9M106.6 191.8l-0.4-0.9M106.6 191.8l-1.0 0.3M104.4 190.8l-0.3-0.9M106.6 193.1l-0.9-0.3M104.6 194.4l-0.3 1.0M103.8 193.0l0.0 1.0M103.8 193.0l-1.0-0.1M103.9 191.3l-1.0-0.3M103.9 191.3l0.0-1.0M102.2 189.5l-0.9-0.1M111.9 195.3l0.8 0.7M111.9 195.3l-0.2 1.0M112.8 194.0l0.8-0.6M115.3 195.7l0.8 0.7M115.3 195.7l0.6-0.7M114.3 197.0l-0.3 1.0M114.3 197.0l0.9 0.3M118.4 196.4l0.7-0.7M120.2 199.3l0.7 0.6M119.1 200.4l-0.3 1.0M115.0 197.7l0.8 0.7M115.0 197.7l0.7-0.7M114.1 196.4l1.0-0.2M114.1 196.4l-0.3-1.0M110.3 199.4l-0.7-0.7M110.3 199.4l-0.7 0.8M107.9 199.9l-0.8 0.6M107.9 199.9l-0.7-0.7M111.3 200.5l-0.8 0.6M117.7 128.8l-0.9-0.5M118.9 129.5l0.6 0.8M121.6 125.4l0.8-0.6M121.6 125.4l-0.3-1.0M122.1 127.0l0.9-0.3M122.1 127.0l0.1 1.0M128.1 129.0l0.9-0.4M128.1 129.0l-0.4-0.9M128.7 130.7l0.4 0.9M128.7 130.7l1.0-0.1M129.8 137.9l-0.4 0.9M129.8 137.9l1.0 0.2M131.3 133.1l-0.8-0.7M131.3 133.1l0.6-0.8M131.6 130.7l0.9-0.5M131.6 130.7l-0.5-0.8M132.3 134.3l0.6-0.8M132.3 134.3l0.7 0.6M135.0 135.7l0.6-0.8M135.8 133.5l-0.3-1.0M135.8 133.5l0.8-0.6M137.8 134.3l0.8-0.6M137.8 134.3l0.9 0.6M140.2 133.9l0.8 0.5M140.2 133.9l0.6-0.8M136.5 133.3l-0.5-0.8M136.5 133.3l0.4-0.9M132.2 141.6l-0.4 0.9-0.5 0.9M133.8 141.9l1.0 0.4 0.8 0.5M133.8 141.9l-0.1 1.0M138.7 145.4l-0.2 0.9M136.9 147.0l-0.9-0.2M136.0 147.7l-1.0-0.1M139.7 148.5l-0.3 1.0M140.7 150.7l-0.1 1.0M140.7 150.7l0.7 0.7M138.4 148.3l-1.0 0.3M138.4 148.3l-0.2 1.0M142.0 141.0l0.9-0.4M142.0 141.0l0.3 0.9M141.0 139.4l-0.6-0.8M147.6 143.7l0.8-0.6M147.6 143.7l1.0 0.3M146.6 142.6l-0.5-0.8M148.1 140.3l-0.7-0.8M148.1 140.3l0.6-0.8M146.5 147.2l1.0 0.1M146.5 147.2l0.2 1.0M144.6 147.3l-0.1 1.0M142.9 149.0l-1.0 0.2M142.9 149.0l-0.1 1.0M145.1 150.5l-1.0 0.2M146.7 150.2l1.0-0.1M147.0 153.2l0.6 0.8M145.4 153.5l-0.9 0.4M145.4 153.5l0.3 0.9M145.6 156.5l-0.9 0.4M150.1 151.5l0.7 0.8M150.1 151.5l-0.4 0.9M148.6 150.6l-0.9-0.5M153.1 148.7l0.3 0.9M153.0 144.9l-0.4-0.9M153.0 144.9l0.9-0.5M154.0 142.7l1.0-0.4M154.0 142.7l-0.1-1.0M160.2 150.5l0.9 0.4M160.2 150.5l0.3-0.9M160.9 160.1l-0.5 0.9M159.4 159.7l-1.0-0.1-1.0-0.1M159.4 159.7l-0.4 0.9M158.5 162.4l-0.7-0.8M160.1 163.0l-0.6 0.8M162.2 167.0l0.2 0.9M162.2 167.0l1.0 0.0M158.3 165.5l-0.9-0.2M158.3 165.5l-0.1 1.0M157.3 166.1l-0.1 1.0M158.3 168.4l-0.1 1.0M158.3 168.4l-0.9-0.5M156.2 169.4l-1.0-0.4M156.2 169.4l-0.5 0.9M163.4 157.5l0.2 1.0M162.6 155.9l0.5-0.8M162.6 155.9l-0.3-0.9M167.3 154.7l0.9-0.1M167.3 154.7l-0.3-1.0M168.3 152.5l-0.4-0.9M168.3 152.5l0.7-0.7M168.2 161.8l0.4 1.0M167.3 160.5l0.8-0.5M163.6 163.9l-1.0-0.1M168.4 167.9l-0.1 1.0M166.9 167.1l-0.6 0.8M166.9 167.1l-1.0 0.0M165.7 169.8l-0.6 0.9M163.3 170.2l-0.8 0.6M163.3 170.2l-0.8-0.6M167.0 170.7l-0.4 0.9M167.0 170.7l0.8 0.6 0.7 0.8M171.0 164.4l0.6 0.8M171.0 164.4l0.6-0.8M173.4 164.9l0.9-0.5M173.4 164.9l0.5 0.8M170.0 163.2l0.6-0.7M172.6 167.6l1.0 0.2M171.7 169.1l-0.5 0.9M171.7 169.1l1.0 0.4M172.4 171.4l0.8 0.7M172.4 171.4l-0.4 0.9M121.6 162.8l0.9 0.3M121.6 162.8l0.4-1.0M120.0 162.1l0.3-1.0M120.0 162.1l-0.8-0.6M121.3 166.9l0.2 0.9M121.3 166.9l1.0-0.2M119.9 167.2l-0.9 0.3M128.1 167.4l0.9-0.3M126.6 168.1l-0.7 0.8M126.9 163.2l0.6-0.8M126.9 163.2l-0.6-0.8M128.2 164.3l0.9-0.4M128.2 164.3l0.7 0.7M133.9 164.7l0.3-0.9M136.2 164.3l0.8-0.7M137.4 164.1l0.8-0.6M132.4 164.1l0.2-1.0M133.5 161.2l0.3-0.9M133.5 161.2l-0.9-0.5M134.8 161.7l-0.1-1.0M136.6 160.1l0.1-1.0M137.5 159.3l1.0 0.2M137.5 159.3l0.4-0.9M132.9 169.1l-0.1 1.0M132.9 169.1l1.0 0.2M139.7 173.0l-0.3 1.0M139.7 173.0l0.9 0.5M137.5 170.2l-0.2 0.9M137.0 173.2l-0.3 0.9M137.0 173.2l-0.9-0.3M140.0 163.4l0.7-0.7M143.0 164.6l0.8-0.7M145.4 164.0l0.8 0.5M145.4 164.0l0.6-0.8M141.9 163.5l-0.6-0.8M141.9 163.5l0.6-0.8M146.9 166.0l-0.2-1.0M146.9 166.0l0.9-0.5M148.2 167.0l0.7-0.7M148.2 167.0l0.8 0.6M150.6 167.1l0.7 0.6M147.0 171.6l0.6 0.7M145.1 172.3l-0.9 0.3M145.1 172.3l0.1 0.9M147.2 175.1l0.9 0.4M147.2 175.1l0.2 1.0M147.2 171.4l-0.4 0.9M148.1 170.0l0.9-0.4M148.1 170.0l0.7 0.7M128.3 198.0l-0.1 1.0M128.7 195.8l0.8-0.7M128.7 195.8l0.8 0.5M130.8 197.9l0.8 0.7M129.5 199.1l-0.5 0.8M129.5 199.1l0.8 0.6M124.7 189.7l0.4-0.9M124.7 189.7l-1.0-0.3M126.0 189.7l0.9-0.4M126.0 189.7l-0.2-1.0M130.0 188.6l-0.9-0.3M130.0 188.6l-0.3-0.9M131.4 188.3l1.0-0.3M131.2 193.3l0.6 0.8M137.0 190.6l-0.5 0.9M137.0 193.0l-0.8 0.6M137.0 193.0l0.7 0.7M138.2 189.9l0.4 0.9M138.2 189.9l1.0-0.2M140.0 191.9l0.7 0.8M138.4 193.0l-1.0 0.3M140.2 195.6l-0.6 0.7-0.8 0.6M140.2 195.6l0.5 0.9 0.6 0.8M141.7 194.4l0.8-0.5M144.1 194.3l0.6 0.8M136.1 185.7l0.8-0.6M134.5 186.4l-0.9 0.4M142.6 183.5l0.0-1.0M142.6 183.5l0.9-0.5M143.2 181.2l0.9-0.5M143.2 181.2l-0.2-1.0M144.1 178.9l0.9-0.4M141.0 183.7l-0.5-0.9M141.0 183.7l-1.0 0.3M144.0 187.3l0.9 0.4M142.4 188.4l-1.0 0.3M142.4 188.4l0.6 0.8M146.6 181.3l-0.3-1.0M148.3 181.1l0.1-1.0M148.3 181.1l1.0-0.3M150.2 179.6l1.0 0.2M153.8 182.3l0.5-0.9M153.8 182.3l0.8 0.6M152.2 181.8l-0.9-0.5M152.8 178.9l0.0-1.0M152.8 178.9l-1.0-0.3M154.5 179.4l0.6-0.8M156.2 177.7l0.1-1.0M153.6 176.0l-0.1-1.0M153.6 176.0l-1.0-0.1M152.2 174.0l-1.0 0.0M152.2 174.0l0.2-1.0M154.5 173.1l0.1-1.0M156.0 173.3l0.3-0.9M156.0 173.3l0.9-0.2M153.7 186.2l0.9-0.1M154.7 186.9l1.0-0.2 1.0 0.1M154.7 186.9l0.3 0.9M156.8 188.0l0.4 0.9M156.8 188.0l0.9-0.4M151.9 186.8l-0.8 0.4-1.0 0.4M151.9 186.8l0.0 1.0M150.3 188.6l0.1 1.0M150.3 188.6l-1.0 0.0M159.6 185.7l-0.3 0.9M160.6 184.6l0.8-0.7M162.3 187.4l1.0 0.0M159.3 180.8l0.1-1.0M159.3 180.8l0.9-0.2M157.5 181.1l-1.0 0.1M157.5 181.1l-0.3-1.0M163.5 180.1l-1.0 0.2M163.5 180.1l-0.4-1.0M165.4 179.9l0.3-0.9M165.4 179.9l1.0 0.3M167.2 178.3l1.0 0.1M167.2 178.3l0.4-0.9M164.5 176.8l-0.3-1.0-0.3-0.9M164.5 176.8l0.9-0.4M162.8 177.2l-0.5-0.9M162.8 177.2l-1.0 0.2M160.5 176.4l-0.5-0.9M164.8 184.6l-0.9 0.4M166.3 184.2l1.0 0.0M166.3 184.2l0.6 0.8M168.4 185.5l1.0 0.0M170.1 187.1l1.0 0.0M172.9 182.7l0.9-0.4M171.4 183.6l0.5 0.8M171.4 183.6l-0.8 0.6M173.1 186.1l-1.0 0.2M173.1 186.1l0.6 0.7M174.6 184.9l0.7-0.8M171.6 177.1l0.9-0.5M171.6 177.1l-0.4-0.9M170.4 177.2l-1.0-0.1M170.4 177.2l0.0-1.0M175.3 179.7l0.1-1.0 0.2-1.0M133.0 208.1l0.6-0.8M133.0 208.1l0.8 0.6M131.7 209.4l0.5 0.8M131.7 209.4l-0.6 0.8M137.0 211.6l0.8-0.5M128.8 205.8l-0.8 0.6M128.8 205.8l-0.8-0.6M126.4 205.7l-0.5-0.9M126.4 205.7l-0.6 0.8M132.7 202.6l-0.9 0.4M134.1 201.8l0.7-0.8M134.9 199.5l-0.4-0.9M136.3 206.0l-0.4 1.0M136.6 207.2l-0.8 0.6M137.0 204.5l0.3-0.9M137.0 204.5l0.9 0.4M139.3 204.1l1.0 0.3M145.7 197.4l-0.8-0.5M145.7 197.4l0.4-0.9M148.4 196.7l0.6 0.8M148.4 196.7l0.7-0.7M146.5 195.8l-0.9-0.3M145.3 203.5l-1.0 0.3M145.3 203.5l-0.1 1.0M146.9 203.5l0.0 1.0M148.5 205.3l0.3 0.9M148.5 205.3l1.0-0.1M146.8 206.5l0.3 1.0M148.3 208.4l-0.2 1.0M145.1 206.4l0.0 1.0M145.1 206.4l-1.0-0.3M156.0 199.5l0.7-0.7M156.0 199.5l1.0 0.4M158.4 199.3l0.9 0.5M151.8 199.9l-0.9-0.3M150.3 198.1l-0.1-1.0M153.3 195.5l-0.9-0.5M152.7 194.4l0.1-1.0M152.7 194.4l-0.8-0.6M154.9 195.7l1.0 0.0M158.9 202.4l1.0 0.3M160.9 201.1l1.0 0.0M39.1 165.8l-1.0 0.0M37.3 167.4l-0.4 1.0M40.5 168.9l1.0 0.1M41.4 171.1l0.7 0.8M38.5 168.5l-0.8-0.6M40.0 171.9l0.2 1.0M40.0 171.9l1.0-0.1M155.2 59.8l0.5 0.8 0.8 0.7M155.2 59.8l0.8-0.6M157.6 59.9l0.7-0.7M157.6 59.9l0.5 0.8M154.0 58.5l-0.4-0.9M154.0 58.5l0.9-0.6M155.9 140.2l0.9 0.5M155.9 140.2l0.7-0.7M154.5 139.3l-0.6-0.8M154.5 139.3l0.5-0.9M51.6 176.0l-0.8-0.5M54.2 177.0l1.0 0.2M52.7 181.1l0.0 1.0M54.0 183.2l0.9 0.2M54.0 183.2l-0.4 0.9M150.6 39.7l0.9 0.4M150.6 39.7l0.6-0.8M149.3 41.2l0.7 0.8M149.3 41.2l-0.7 0.7M149.4 43.6l-0.4 0.9M149.4 43.6l0.5 0.9M184.6 152.8l-1.0-0.2M184.6 152.8l0.1-1.0M183.3 150.8l0.1-1.0M183.3 150.8l-1.0-0.3M184.5 154.5l-0.3 1.0M184.5 154.5l-1.0 0.2M183.4 155.1l-0.9-0.3M183.4 155.1l-0.2 1.0" stroke="#4080bf" stroke-width="0.95" stroke-opacity="0.7"/>
<path d="M112.0 64.2l-1.5 0.2-1.5 0.2M105.1 29.2l-1.0-1.1-1.1-1.0M101.9 26.0l-1.2-0.9M99.6 24.2l-1.2-0.9M108.4 17.6l-1.0-1.1-1.0-1.1M56.4 39.0l-1.4-0.7M99.5 48.1l-1.5-0.4M100.9 48.5l1.2 1.0M96.8 54.7l-1.4-0.5M88.6 96.7l-0.2 1.5M44.1 95.4l0.2 1.4M44.6 98.3l0.4 1.5M178.4 61.5l1.0 1.1 0.9 1.2M192.0 90.3l-1.4 0.6-1.4 0.5M118.7 55.1l-1.4 0.3-1.5 0.2M218.4 111.1l1.1 1.0M182.7 139.9l-0.8 1.3M146.9 119.9l0.3 1.5M179.7 132.1l0.5 1.4M191.1 136.4l-0.4 1.4M175.8 99.2l1.4 0.6M107.6 107.7l-1.0 1.2-0.8 1.2-0.9 1.3-0.8 1.2-0.9 1.2M101.6 116.4l-0.8 1.2M122.5 128.5l-1.0 1.1M122.5 128.5l1.3-0.8M125.1 127.0l1.4-0.6M126.2 132.2l-0.5 1.4-0.4 1.4-0.2 1.5-0.3 1.5-0.3 1.5M85.6 106.1l-0.5-1.4M109.9 120.0l0.2 1.5M28.4 131.0l0.5-1.4 0.5-1.4 0.6-1.4 0.6-1.4 0.7-1.3M41.6 127.7l0.4-1.5M46.8 130.2l-1.0 1.2M50.6 135.3l1.4-0.4 1.5-0.3M54.4 140.3l-0.8 1.3-0.8 1.3-0.8 1.2-0.9 1.2M50.2 146.6l-0.9 1.1M55.8 139.8l1.3-0.7M62.0 150.5l1.2-0.9 1.2-0.9 1.2-0.9M66.8 146.9l1.2-0.9 1.1-1.0M74.8 154.3l0.0 1.5 0.1 1.5 0.0 1.5M74.9 160.3l-0.2 1.5-0.2 1.4M74.8 154.3l0.7-1.3 0.8-1.3M87.7 165.6l0.2 1.5M88.0 168.6l0.2 1.5M92.5 164.1l1.0-1.1 1.1-1.1 1.0-1.1 1.0-1.1 1.2-0.9 1.1-1.0M97.8 167.0l-0.8 1.3M102.9 171.1l1.2-0.9 1.3-0.8 1.3-0.8 1.3-0.8 1.3-0.7 1.3-0.7M102.9 171.1l-0.6 1.4-0.7 1.3M106.4 173.9l-0.4 1.4-0.4 1.5M106.4 173.9l1.2-0.8M111.5 178.0l1.3-0.7 1.3-0.7M116.7 175.0l1.3-0.7M127.5 175.5l0.7-1.3M123.9 182.1l0.3 1.5 0.3 1.5 0.2 1.4 0.2 1.5M60.0 151.3l-1.0-1.1M60.0 151.3l0.3 1.5 0.3 1.4M54.7 155.1l0.5 1.4M54.2 153.6l-1.0-1.1-1.1-1.1M42.4 154.8l-0.4 1.5-0.3 1.5-0.4 1.4-0.5 1.4-0.3 1.5-0.4 1.5M36.5 153.7l-0.6 1.4-0.6 1.4M64.1 157.6l1.5 0.1M67.1 157.8l1.5 0.2M60.1 166.8l-1.2 1.0M63.6 164.0l1.4 0.4 1.4 0.4M64.5 170.4l1.5 0.1M64.5 170.4l-1.4 0.5M67.5 176.7l1.3-0.8 1.2-0.9M70.3 180.8l-0.7 1.3M73.5 187.1l-0.8 1.3M74.4 185.9l1.5-0.4 1.4-0.4M82.9 196.2l1.2-1.0 1.2-0.9M87.9 201.1l1.3-0.6 1.4-0.6 1.3-0.7 1.3-0.7 1.4-0.7M87.9 201.1l-0.9 1.3-0.8 1.2M43.9 124.6l1.1-1.0 1.1-1.1M41.6 118.7l1.1-0.9 1.2-1.0M47.3 113.9l1.2-0.9M40.0 114.8l-0.6-1.4-0.5-1.4M38.4 110.6l-0.5-1.4-0.5-1.4-0.7-1.4M72.7 149.2l-1.5 0.1-1.5-0.1M73.6 144.3l1.3-0.8M76.1 137.5l1.4-0.5M71.3 132.7l-1.4-0.5M68.4 131.8l-1.4-0.5M72.8 132.3l1.4-0.3M72.2 125.9l1.3-0.7M70.5 122.4l-1.5-0.1-1.5-0.3M71.9 122.0l1.5-0.4M70.3 120.3l-0.2-1.5-0.4-1.4-0.4-1.5-0.5-1.4-0.5-1.4-0.6-1.4M103.0 147.1l0.2 1.5 0.3 1.4 0.4 1.5 0.3 1.5 0.4 1.4 0.3 1.5 0.2 1.5M110.7 149.8l-0.3 1.5-0.2 1.5M118.8 150.0l1.2-0.9M116.3 154.9l-0.1 1.5M122.0 156.9l0.0 1.5M127.9 159.0l0.0 1.5-0.1 1.5 0.0 1.5M109.1 192.4l-1.5 0.0-1.5-0.1-1.5-0.1-1.4-0.2-1.5-0.2-1.5-0.2-1.5-0.2M109.1 192.4l1.2 1.0 1.3 0.7 1.2 0.9 1.3 0.8 1.2 0.9 1.3 0.8M117.8 198.3l1.2 0.9M111.5 199.3l-1.0 1.1M119.7 127.2l1.3-0.8M130.1 135.4l-0.7 1.4-0.6 1.3M133.8 138.0l-0.3 1.5-0.3 1.4M139.6 141.5l0.1 1.5-0.2 1.5-0.1 1.5-0.2 1.5-0.2 1.4M145.5 145.0l0.9-1.2 1.0-1.1 0.8-1.3 0.9-1.2M145.5 145.0l0.0 1.5 0.1 1.5 0.2 1.5 0.0 1.5M146.0 152.5l0.1 1.5 0.1 1.5 0.0 1.5M155.9 153.2l0.9-1.1 1.0-1.1M165.6 162.3l1.4-0.6 1.4-0.5M165.6 162.3l-0.9 1.2-0.8 1.2M168.7 165.4l1.1-1.0M126.2 165.7l0.7 1.3 0.7 1.3M132.8 165.2l0.5-1.4M138.9 168.1l-0.3 1.5-0.2 1.5-0.4 1.4M139.9 167.0l1.0-1.1M146.4 174.2l0.3 1.5M131.6 192.2l0.8 1.2M136.3 188.1l-0.7-1.3-0.7-1.3M152.8 182.8l0.3-1.4M154.6 175.6l0.5-1.5M158.6 183.2l0.8 1.3 0.9 1.2 0.9 1.2 0.9 1.2M164.8 182.2l0.5 1.4 0.5 1.4M170.9 181.2l0.8 1.2 0.9 1.3 0.8 1.2M130.8 207.0l-0.8-1.2M146.9 198.2l0.3-1.4 0.3-1.5M146.1 202.6l-0.1 1.5 0.0 1.5 0.1 1.5M152.4 202.2l0.3-1.5 0.4-1.4 0.3-1.5 0.6-1.4 0.5-1.4 0.6-1.4M156.5 202.9l1.5 0.3M159.5 203.4l1.4 0.3M40.1 163.6l-0.1 1.4-0.1 1.5-0.2 1.5-0.2 1.5M54.1 174.5l-0.5 1.4M53.1 177.3l-0.5 1.4-0.6 1.4-0.5 1.4-0.5 1.4" stroke="#c0535c" stroke-width="0.8" stroke-opacity="0.8"/>
<path d="M103.0 27.1l-1.2-0.2M100.6 26.8l-1.2-0.2M100.7 25.1l-1.2 0.1M61.4 47.8l-1.1 0.4M25.3 57.6l-0.8 0.8M40.8 59.6l-0.8 0.9M38.0 69.3l-1.0 0.7M78.4 67.0l-0.7 1.1M64.0 66.1l-0.4-1.1M60.8 75.8l-0.5 1.1M43.1 78.2l-1.2 0.0M99.2 91.4l-1.0 0.7M94.8 87.5l0.7-1.0M47.7 91.9l-1.0-0.7M38.5 96.1l-0.8 0.9-0.6 1.0M129.5 98.7l0.5 1.1M169.4 71.0l1.1 0.2M169.9 36.9l-0.5 1.1M161.3 25.9l-1.1-0.4-1.1-0.6-1.0-0.6M188.8 58.1l1.1 0.4M186.5 57.5l-0.3 1.1M198.2 51.0l1.2 0.0 1.2 0.0M190.6 90.9l-0.3 1.1-0.4 1.2-0.4 1.1-0.6 1.0M190.6 90.9l-1.1-0.5M193.2 96.2l-0.8 0.9-0.8 0.9M189.7 99.5l-0.7 0.9M139.6 71.3l-0.2-1.2-0.3-1.2M143.5 72.0l0.0-1.2M134.1 52.3l-1.0 0.6M133.3 21.4l1.0 0.7M122.2 58.0l1.2 0.0M124.7 59.7l1.1-0.1M117.3 55.4l-1.0-0.7M225.3 76.6l1.0 0.8M220.6 81.7l1.2-0.1M158.0 103.4l0.5-1.1 0.6-1.0M152.9 106.5l0.0 1.2 0.1 1.2M195.1 153.7l0.4-1.2M140.7 118.4l-0.8-0.9-0.8-0.9-0.7-1.0M160.7 108.1l0.5-1.1M175.2 97.8l-1.1-0.5M106.6 108.9l-1.2 0.1M103.2 113.8l-1.2 0.2M100.5 116.7l-1.2 0.4M121.5 129.6l-1.2 0.2M119.4 131.8l-1.2 0.1M119.4 131.8l0.3 1.1 0.4 1.2M123.8 127.7l1.2 0.1M125.7 133.6l-1.2 0.3M125.1 136.5l0.6 1.0M125.1 136.5l-0.9 0.8M124.5 139.5l-0.9 0.7-1.0 0.7M124.5 139.5l0.5 1.0M129.1 135.0l-0.3 1.2M103.5 102.8l-1.2-0.3M97.7 103.8l0.6-1.0M91.6 110.9l0.6 1.0M80.9 106.5l-0.7-1.0M109.9 120.0l1.0 0.6M30.7 135.4l0.9 0.8M29.3 136.9l1.1 0.5M31.3 141.6l0.9 0.8M29.6 139.9l-0.6 1.0M37.0 133.0l0.9 0.7M35.3 139.0l0.9 0.8M35.1 128.6l-0.7-1.0M35.9 127.7l0.9-0.9M41.6 127.7l-0.5-1.1M43.1 131.5l-0.4 1.1M43.1 131.5l1.2-0.1M45.8 131.4l-1.1 0.2M51.2 130.6l0.8 0.9M52.0 134.9l0.6-1.0M52.0 134.9l1.1 0.7M49.6 136.4l0.0 1.2M53.8 144.0l0.0 1.2 0.0 1.2M52.0 144.1l-1.2 0.2-1.2 0.3M52.0 144.1l0.3 1.2M50.2 146.6l-1.2-0.2M55.8 139.8l1.1 0.5M55.8 139.8l0.7-1.0 0.8-0.9 0.8-0.9 0.8-0.9M56.7 148.0l-1.1 0.4-1.1 0.5M64.4 148.7l1.2-0.2 1.2 0.0M66.8 146.9l0.3-1.2M69.5 150.9l1.2 0.0M72.9 158.6l-1.0 0.8M74.9 157.3l0.9 0.7M75.6 161.2l0.8 1.0 0.5 1.0M74.9 160.3l-0.8 0.9-0.8 0.9M75.0 164.3l0.8 0.9M75.5 153.0l0.1-1.2M85.7 154.4l1.2 0.1M85.6 150.8l0.1-1.2M85.5 152.0l1.2-0.1M87.3 162.6l1.0 0.6M87.7 165.6l-0.9 0.8M88.7 166.2l1.0 0.7M88.0 168.6l0.8 0.9M88.4 171.6l-0.6 1.0M93.5 163.0l1.2-0.3 1.1-0.4M97.0 162.0l1.2-0.3M95.6 160.8l-0.4-1.1-0.3-1.2-0.3-1.2M92.0 165.5l-1.0 0.6M92.0 165.5l0.6 1.1M97.0 168.3l-1.1 0.4M94.8 169.3l-1.1 0.5-1.1 0.3M98.6 165.7l0.0-1.2M99.7 165.2l1.0-0.6 1.1-0.5M105.4 169.4l1.2 0.1M109.1 168.3l1.1 0.5M108.0 167.8l0.3-1.1M102.0 174.9l0.3 1.2M106.0 175.3l-1.0 0.6M107.6 173.1l0.4-1.1M107.6 173.1l1.2 0.4M118.0 174.3l1.1 0.4 1.2 0.2M118.0 174.3l0.3-1.2M117.8 181.6l0.6 1.0 0.7 1.0 0.8 0.9 0.6 1.0M117.8 181.6l-0.6 1.0-0.6 1.1M117.9 186.1l-0.7 0.9M118.8 179.0l1.1 0.1M127.9 179.5l1.1-0.6M124.6 180.8l-0.7-1.0M128.2 174.2l-0.4-1.1M124.2 183.6l-0.5 1.0M124.2 183.6l0.9 0.8M130.9 184.4l0.5 1.1M54.5 158.8l-0.3 1.1M47.5 154.7l0.4-1.1M48.6 151.3l0.3-1.1M48.2 157.5l-0.8 0.9M46.5 159.2l-1.0 0.7M40.6 158.2l-1.1 0.6-1.0 0.6M41.7 157.8l0.6 1.0M40.8 160.6l0.4 1.2M42.3 152.2l-0.5-1.1M37.7 150.4l0.7-1.0M39.0 148.4l0.6-1.0M34.5 148.6l-0.9-0.7M64.1 157.6l0.9 0.8M67.1 157.8l0.9 0.9 0.8 0.8M67.1 157.8l0.8-0.9M59.9 158.8l-1.2-0.1M60.1 166.8l-1.2-0.3-1.2 0.0M55.3 170.4l-1.2-0.3M55.2 172.8l-0.2 1.2M67.9 165.2l0.6 1.0 0.5 1.1 0.4 1.1M66.0 170.5l0.9 0.8M63.1 170.9l-1.1-0.5M63.1 170.9l-0.7 1.0-0.8 0.9-0.9 0.7M68.8 175.9l1.2 0.2 1.1 0.4M68.8 175.9l0.3-1.2M69.3 173.5l0.2-1.2 0.3-1.1M69.9 184.5l0.2 1.2M76.7 184.6l0.8-0.8 0.7-1.0M82.1 189.0l1.2 0.0 1.2 0.0 1.2 0.1M77.2 193.7l0.3 1.2 0.2 1.2M82.0 197.4l-1.1 0.2-1.2 0.2M82.0 197.4l-0.1 1.1 0.0 1.2M81.8 200.9l-0.3 1.2M79.4 201.0l-1.1 0.5M84.1 195.2l1.2 0.3M84.1 195.2l0.0-1.2 0.2-1.2M90.0 199.6l0.7-1.0 0.8-0.9 0.9-0.8M89.2 200.5l1.2 0.4M91.9 199.2l1.2 0.3 1.1 0.2M91.9 199.2l0.5-1.1M87.0 202.4l-1.2 0.2M45.0 123.6l1.2 0.2 1.2 0.3 1.1 0.4 1.2 0.2M45.0 123.6l0.3-1.2 0.1-1.2 0.3-1.2M42.7 117.8l1.2 0.0 1.2-0.2 1.2-0.3M46.1 114.8l1.2 0.2 1.2 0.1M49.7 115.3l1.2 0.0M48.5 113.0l1.2 0.2M48.5 113.0l0.0-1.2M39.0 119.1l-1.2-0.1M39.4 113.4l-1.1-0.2M37.1 113.2l-1.2-0.1M39.4 113.4l0.3-1.2M37.9 109.2l0.4-1.1 0.4-1.2M37.9 109.2l-1.2-0.2M36.7 106.4l-1.0-0.5M37.2 105.3l0.4-1.1M74.1 148.7l0.4-1.2M71.2 149.3l-0.9-0.9M69.7 143.7l-1.2 0.5M73.6 144.3l1.1 0.4 1.1 0.5M73.2 138.4l1.2 0.1 1.2 0.2M76.8 138.8l1.1 0.4M73.7 137.3l0.7-1.0M76.1 137.5l1.1 0.3M78.9 136.5l1.1 0.5M69.9 132.2l-0.5-1.1-0.7-1.0-0.7-1.0M69.9 132.2l-1.1 0.5M67.0 131.3l-1.1 0.4-1.2 0.3M67.0 131.3l-0.6-1.0M72.2 125.9l0.7-0.9M75.2 122.1l0.1-1.2M68.3 125.9l-1.2 0.0M67.0 124.1l-0.4-1.1M67.5 122.0l-0.8-0.9M67.5 122.0l-1.0 0.7M71.9 122.0l1.1 0.4M72.4 120.9l0.7-1.0M70.1 118.8l0.8-0.9M69.1 118.1l-1.0-0.6-1.0-0.7M69.3 115.9l0.9-0.8 1.0-0.7M68.0 110.6l0.5-1.1M67.7 111.7l-1.1-0.5-1.1-0.4-1.1-0.6M96.4 139.3l-0.4-1.1M91.1 148.2l-0.9 0.8M98.8 147.2l-0.8 0.8-0.9 0.9M98.7 151.2l0.4 1.1M99.8 144.4l-0.3-1.2M104.7 145.3l1.2-0.3 1.1-0.4M103.5 150.0l1.1 0.5 1.2 0.3M103.5 150.0l-0.6 1.0M104.2 153.0l-0.7 0.9-0.6 1.0M104.2 153.0l1.2 0.4 1.1 0.3 1.2 0.4M106.0 156.4l1.0 0.5M104.9 155.9l-0.8 0.9M110.2 152.8l0.6 1.0 0.5 1.1 0.5 1.1M110.8 146.1l0.1-1.2M117.6 150.9l1.2 0.2M120.0 149.1l0.2-1.2 0.1-1.2M116.4 153.4l0.8 0.9M116.4 153.4l-0.7 1.0M116.1 157.9l-1.0 0.7M114.2 159.3l-1.0 0.7M116.1 157.9l0.5 1.1 0.5 1.0 0.6 1.1M122.0 156.9l1.1 0.6M124.1 158.2l1.0 0.6M122.0 156.9l-1.0 0.6M121.8 159.9l0.8 1.0M123.3 152.9l0.3-1.1M123.8 150.6l0.3-1.2M128.8 158.4l0.7 1.0M127.9 160.5l1.0 0.7M131.4 158.0l0.7 1.0M114.1 180.8l1.0-0.6M111.5 186.8l1.2-0.2M106.6 187.2l-1.1 0.5M108.7 186.0l-0.6-1.1M103.5 184.5l-0.7-1.0-0.8-0.9M104.2 185.4l-1.0 0.7M107.6 192.4l-1.0-0.6-1.1-0.5-1.1-0.5M106.6 193.1l-1.0 0.6-1.0 0.7-0.8 0.9M100.2 191.6l-0.8-0.8-0.8-1.0M100.2 191.6l-0.9 0.8M111.6 194.1l1.2-0.1M114.1 195.8l1.2-0.1M114.1 195.8l0.2 1.2M116.6 197.5l-0.1 1.1M116.6 197.5l1.2-0.4M119.0 199.2l1.2 0.1M110.3 199.4l-1.2 0.3M118.8 128.3l0.1 1.2M121.0 126.4l0.6-1.0M124.7 132.8l-1.0 0.6M131.1 134.3l1.2 0.0M134.8 136.9l1.2 0.1M132.2 141.6l-1.0 0.6M139.5 144.5l-0.8 0.9-0.9 0.8-0.9 0.8-0.9 0.7M139.5 144.5l0.6 1.0M139.2 147.5l0.5 1.0 0.5 1.1M139.2 147.5l-0.8 0.8M140.8 140.6l0.2-1.2M146.4 143.8l1.2-0.1M146.4 143.8l0.2-1.2M145.5 146.5l1.0 0.7M143.8 148.2l-0.9 0.8M145.8 149.5l-0.7 1.0M146.0 152.5l1.0 0.7M146.2 155.5l-0.6 1.0-0.5 1.1M146.9 156.4l0.6 1.1M149.8 150.4l0.3 1.1M151.9 148.3l1.2 0.4M157.8 151.0l1.2-0.2M160.2 150.5l1.1-0.3M157.8 151.0l0.2-1.2M160.4 159.0l0.5 1.1M160.2 165.7l1.0 0.7M159.3 164.9l-1.0 0.6-1.0 0.6M157.2 168.9l-1.0 0.5M167.0 161.7l1.2 0.1M164.7 163.5l0.1 1.2M166.8 169.5l-1.1 0.3M169.8 164.4l1.2 0.0 1.2 0.2 1.2 0.3M171.4 168.0l1.2-0.4M174.8 166.6l1.1-0.3M120.5 163.2l1.1-0.4M120.4 166.1l-0.5 1.1M126.9 167.0l1.2 0.4M127.0 164.3l1.2 0.0M133.6 170.1l0.6 1.0M138.6 169.6l0.4 1.1M139.7 173.0l0.5 1.1M138.6 169.6l-1.1 0.6M139.9 165.8l0.1-1.2 0.0-1.2M139.9 167.0l1.2 0.1M147.0 167.2l1.2-0.2M145.8 171.3l-0.7 1.0M145.8 175.3l-0.6 1.0M127.5 195.8l1.2 0.0M129.6 197.9l1.2 0.0 1.2 0.1M129.6 197.9l-0.1 1.2M130.0 188.6l-0.6-1.0M131.2 193.3l-0.3 1.2M131.6 192.2l1.1 0.5 1.2 0.2M138.8 191.9l-0.4 1.1M140.5 194.4l1.2 0.0M142.9 194.3l1.2 0.0M135.6 186.8l-1.1-0.4M143.7 180.0l0.4-1.1M142.8 187.3l-0.4 1.1M147.5 182.0l0.8-0.9 0.9-0.8M152.8 182.8l-0.6-1.0M153.4 179.9l-0.6-1.0M154.2 177.0l1.1-0.5M156.8 188.0l1.0 0.7M159.4 184.5l0.2 1.2M159.4 184.5l1.2 0.1M161.2 186.9l1.1 0.5 1.0 0.6M161.2 186.9l0.1 1.2M163.8 177.8l0.7-1.0M166.3 184.2l1.0 0.7M169.3 186.3l0.8 0.8M171.1 178.2l0.5-1.1M135.9 211.3l1.1 0.3M130.0 205.8l-1.2 0.0M127.6 205.9l-1.2-0.2M130.0 205.8l0.2-1.2M132.7 202.6l-1.2-0.4M134.1 201.8l0.4-1.2M146.1 202.6l-0.8 0.9-0.9 0.9-0.8 0.9M146.0 205.6l0.8 0.9 0.8 1.0 0.7 0.9M153.7 200.2l1.1-0.5 1.2-0.2M153.3 195.5l-0.6-1.1M158.0 203.2l0.7 0.9M40.0 165.0l-0.9 0.8-0.9 0.8-0.9 0.8-0.8 1.0M51.4 176.9l-1.1 0.4M53.6 175.9l0.6 1.1M53.4 182.1l0.6 1.1M52.0 180.1l-1.0 0.6-1.1 0.5-1.0 0.6" stroke="#cc4d56" stroke-width="0.8" stroke-opacity="0.75"/>
<path d="M124.7 69.0l0.5 0.9M100.6 26.8l-0.6-0.8M111.1 25.4l0.5 0.9M94.8 52.3l-0.5 0.8M88.5 52.4l0.0 1.0M83.6 36.8l-1.0 0.1M68.5 43.6l-1.0 0.1M67.7 49.2l-0.2 1.0M54.2 49.7l1.0-0.2M36.3 59.9l-0.1 1.0M49.6 27.4l0.2 1.0M97.3 59.7l0.8 0.7M83.0 66.1l-1.0 0.2M61.7 73.5l0.3 1.0M56.1 76.4l0.5 0.9M105.0 90.7l-0.2 1.0M88.8 102.1l0.0 1.0M84.7 83.7l0.5-0.8M66.3 89.1l-0.5-0.9M61.6 95.1l-0.4 0.9M49.4 96.9l0.0 1.0M143.2 95.0l-0.9 0.3M144.9 94.8l1.0 0.0M147.1 92.7l-0.6 0.9M170.5 71.2l0.4 0.9M176.2 68.8l-0.5 0.9M176.9 69.8l0.0 1.0M159.1 24.9l-0.9 0.5M161.3 15.1l0.8-0.5M185.9 53.7l-0.1-1.0M197.8 52.1l-0.9 0.5M190.3 92.0l0.3 1.0M189.5 94.3l0.2 1.0M189.0 100.4l-0.2 1.0M144.6 90.9l1.0 0.1M138.3 72.7l0.0 1.0M139.2 64.6l-1.0-0.3M145.9 48.5l-0.1-1.0M120.5 43.2l-0.3 0.9M119.1 46.9l0.3-0.9M119.1 46.9l-0.8-0.5M125.8 59.6l0.9 0.4M116.4 56.2l-0.1 1.0M116.4 56.2l-1.0 0.0M116.3 54.7l-1.0 0.1M139.5 28.8l0.8 0.5M224.6 75.7l0.2 1.0M221.5 92.7l0.9-0.3M217.0 94.9l-1.0 0.2M217.0 94.9l0.3 1.0M223.6 121.0l-0.3 1.0M221.8 131.2l0.8-0.6M206.7 114.4l-0.6 0.8M139.7 109.7l-0.8-0.6M158.5 102.3l0.9-0.5M159.1 101.3l-0.1-1.0M159.1 101.3l0.8-0.6M152.9 107.7l0.6 0.7M167.5 124.2l0.7 0.7M187.8 155.6l-0.3 1.0M195.5 152.5l0.9-0.5M148.8 114.4l0.4-0.9M139.9 117.5l-1.0-0.1M139.1 116.6l0.2-1.0M139.1 116.6l-1.0-0.1M132.3 112.2l0.1-1.0M186.6 135.5l1.0 0.2M197.5 135.2l0.5-0.9M111.8 100.7l-0.6 0.8M116.1 105.2l0.7 0.7M104.5 103.1l-0.8 0.6M104.5 103.1l0.0 1.0M103.4 115.0l0.7 0.7M100.5 116.7l-0.9-0.6M112.2 112.6l1.0 0.1M104.4 128.4l0.8 0.5M121.5 130.8l-0.6 0.7M118.2 131.9l-0.8-0.7M125.8 124.7l-0.3-1.0M125.0 127.8l0.6-0.8M128.4 131.0l0.7-0.7M128.4 131.0l0.9 0.6M127.0 130.0l-0.9-0.5M125.7 137.5l1.0 0.2M124.2 137.3l0.1 1.0M123.6 140.2l-1.0-0.3M123.6 140.2l-0.2 1.0M125.0 140.5l0.9 0.5M128.8 136.2l0.3 1.0M107.9 116.9l-0.5-0.9M94.3 124.5l-0.8-0.6M30.1 129.4l0.9 0.5M29.0 128.4l-0.8-0.7M28.7 124.8l0.7-0.7M29.6 125.6l0.8-0.6M32.4 123.8l0.7-0.8M31.6 136.2l1.0-0.1M28.0 134.8l-0.9 0.5M30.4 137.4l0.3 0.9M30.4 140.8l0.9 0.4M34.3 132.5l-1.0-0.3M34.3 132.5l0.3 0.9M36.0 132.3l0.4 0.9M36.0 132.3l1.0-0.3M36.2 139.8l0.4 0.9M37.7 126.0l0.9 0.1M42.5 126.9l1.0 0.3M44.3 131.4l0.9 0.5M44.3 131.4l0.9-0.4M49.3 129.6l0.9 0.4M52.0 131.5l0.9 0.4M52.1 129.8l1.0 0.2M52.1 129.8l0.3-1.0M52.6 133.9l-0.3-1.0M53.1 135.6l1.0-0.1M53.1 135.6l0.1 0.9M48.4 136.5l-1.0-0.2M53.8 142.8l-0.7 0.8M53.8 145.2l-0.4 0.9M50.8 144.3l-0.7 0.8M50.8 144.3l-0.8-0.6M52.3 145.3l0.8 0.6M50.4 147.7l-0.3 1.0M50.4 147.7l0.7 0.8M56.9 140.3l0.9-0.3M56.5 138.8l-0.1-1.0M58.1 137.0l0.2-1.0M55.6 148.4l-0.4 1.0M55.6 148.4l-1.0-0.1M65.6 148.5l0.5-0.8M65.6 148.5l0.9 0.5M66.8 148.5l0.6 0.8M66.8 148.5l0.9-0.4M64.5 147.5l-0.5-0.9M64.4 143.9l0.8-0.7M67.1 145.7l-0.5-0.8M68.0 147.0l0.8 0.6M70.3 144.8l0.6-0.7M69.0 143.8l0.8-0.7M69.0 143.8l-0.5-0.8M70.7 150.9l0.7 0.6M70.7 150.9l0.7-0.6M75.8 158.0l0.3 1.0M75.6 161.2l1.0 0.3M76.4 162.2l0.9 0.2M74.1 161.2l-0.1 1.0M73.5 163.9l-0.4 0.9M73.5 163.9l-1.0-0.3M75.0 164.3l0.9 0.6M75.0 164.3l-0.5 0.8M82.3 156.0l1.0 0.2M86.9 154.5l0.8 0.6M81.0 159.5l1.0 0.1M79.3 159.6l0.0 1.0M86.4 163.4l0.0 1.0M88.8 169.5l0.9 0.3M89.3 172.3l1.0 0.2M94.7 162.7l0.7-0.7M93.6 161.8l0.4-0.9M95.2 159.7l0.5-0.9M98.1 157.6l-0.4-0.9M91.0 166.1l-0.5 0.9M92.6 166.6l-0.5 0.8M95.9 168.7l-0.3 1.0M95.9 168.7l-0.9-0.5M93.7 169.8l-0.9-0.5M97.5 169.3l0.0 1.0M97.5 169.3l0.9 0.3M99.7 165.2l0.2-0.9M101.8 164.1l1.0 0.1M105.8 168.3l0.9-0.3M106.6 169.5l0.8 0.6M106.6 169.5l0.8-0.6M111.2 169.4l1.0-0.1M111.2 169.4l0.3 1.0M108.3 166.7l0.8-0.7M111.7 166.9l0.9-0.4M111.7 166.9l0.7 0.7M106.8 176.2l1.0 0.1M107.7 177.0l1.0-0.1M108.8 173.5l0.5 0.9M108.8 173.5l0.9-0.3M113.9 177.7l0.6 0.8M113.0 176.1l0.7-0.7M115.4 174.6l0.6-0.8M119.1 174.7l0.9-0.5M119.1 174.7l0.3 0.9M120.3 174.9l0.9-0.5M121.4 186.3l1.0-0.1M118.8 177.8l-0.7-0.7M123.9 179.8l-0.3-0.9M125.6 177.0l-0.8-0.4M127.2 177.9l0.7-0.7M129.3 174.0l0.9 0.5M131.7 173.4l0.6-0.8M127.8 173.1l-0.8-0.7M127.8 173.1l0.2-1.0M125.1 184.4l0.3 1.0M125.1 184.4l1.0 0.2M125.6 187.3l1.0-0.1M124.0 187.5l0.1 1.0M131.9 183.7l0.1-1.0M132.8 182.9l0.2-1.0M131.4 185.5l0.9 0.3M56.3 156.9l0.9-0.3M52.0 152.5l-0.7-0.8M49.0 158.4l0.9 0.3M40.6 158.2l-0.5 0.9M38.5 159.4l-1.0 0.1M38.5 159.4l-0.2 1.0M41.2 161.8l-0.3 1.0M44.3 151.6l0.1-1.0M45.9 149.8l0.0-1.0M37.0 151.4l1.0 0.0M37.0 151.4l0.0-1.0M35.1 151.6l-0.1-1.0M36.1 148.2l0.8-0.6M36.2 145.5l1.0 0.1M33.3 144.9l0.0-1.0M34.8 155.6l-0.3 1.0M32.7 156.7l-0.7 0.7M66.9 155.3l-0.3-0.9M68.8 159.5l0.0 1.0M67.9 156.9l1.0-0.2M67.9 156.9l-0.2-0.9M62.4 166.1l-0.7 0.7M58.9 166.5l-0.7-0.6M57.9 169.9l-0.4 0.9M54.1 170.1l-0.9 0.3-1.0-0.1M54.1 170.1l-0.6-0.8M54.5 172.3l-0.8 0.6M55.2 171.6l0.6 0.8M65.5 165.5l1.0 0.2M68.5 166.2l1.0 0.2M66.9 171.3l1.0 0.1M66.9 171.3l0.4 0.9M62.4 171.9l0.0 1.0M62.4 171.9l-0.9 0.3M72.3 176.8l0.8-0.6M72.3 176.8l0.6 0.8M69.1 174.7l0.8-0.6M69.5 172.3l0.6-0.7M72.8 180.6l0.9-0.5M75.2 181.2l1.0-0.1M75.2 181.2l0.8 0.6M68.4 182.4l-1.0-0.2M66.3 183.5l-0.2 1.0M69.7 183.3l-0.5 0.9M72.4 187.5l-0.9-0.4M72.1 190.8l-0.5 0.9M70.7 189.6l-0.6 0.9M77.0 186.0l0.6 0.8M84.5 189.0l0.4 0.9M80.8 188.0l0.3-1.0M77.7 196.1l-0.4 0.9M80.9 197.6l-0.8-0.6M81.9 198.5l-0.6 0.8M81.9 198.5l0.5 0.9 0.6 0.9M81.8 200.9l-0.9 0.5M85.3 195.5l0.7 0.7M85.3 195.5l1.0-0.1M90.0 199.6l-0.2-1.0M91.5 197.7l0.0-1.0M90.4 200.9l0.7-0.7M92.4 198.1l-0.2-1.0M85.8 202.6l-0.8 0.6-0.6 0.8M85.8 202.6l-0.8-0.5M87.2 203.5l-0.4 0.9M40.1 125.6l-0.1 1.0M38.8 121.9l-0.9-0.4M46.2 123.8l0.8-0.7M46.2 123.8l0.7 0.7M48.5 124.5l1.0-0.1M45.7 120.0l0.9-0.3M43.9 117.8l0.7 0.7M42.7 116.6l-0.6-0.8M42.7 116.6l0.8-0.7M46.9 111.3l0.7-0.6M47.3 115.0l0.8 0.6M49.7 115.3l0.7 0.7M39.4 120.2l0.1 1.0M38.3 113.2l-0.9 0.5M38.3 113.2l-0.8-0.6M35.9 113.1l-0.8 0.6M33.7 112.2l-1.0 0.3M33.7 112.2l-0.4-1.0M38.3 108.1l-0.4-0.9M38.3 108.1l0.8-0.6M36.7 109.0l-0.8 0.6M35.7 105.9l-1.0 0.3M75.2 149.1l0.3 0.9M70.3 148.4l-1.0-0.1M70.3 150.1l-0.1 1.0M74.7 144.7l0.3 1.0M74.7 144.7l1.0-0.2M73.7 143.1l-0.3-0.9M73.7 137.3l-0.3-1.0M76.6 136.4l-0.2-1.0M80.0 137.0l1.0-0.1M79.4 135.3l0.8-0.5M69.4 131.1l0.2-1.0M68.0 129.1l-0.9-0.3M68.0 129.1l0.4-0.9M68.8 132.7l-0.3 0.9M66.4 130.3l-0.2-1.0M75.3 132.5l0.1 1.0M78.7 121.5l0.9-0.4M77.8 122.0l-0.3-0.9M78.0 120.9l-0.8-0.7M78.0 120.9l0.8-0.7M69.1 124.7l-0.9-0.6M68.3 125.9l-0.8 0.6M67.1 125.9l-0.7 0.7M66.6 123.0l-0.9-0.5M63.9 118.7l-0.9-0.6M63.5 122.4l-0.4 0.9M66.7 121.1l-0.3-0.9M73.0 122.4l0.7 0.8M72.4 120.9l-0.3-1.0M70.9 117.9l0.1-1.0M69.1 118.1l-1.0 0.2M67.1 116.8l-1.0 0.0M70.2 115.1l0.3-0.9 0.4-0.9M68.0 110.6l0.9-0.5M66.6 111.2l-1.0 0.0M66.6 111.2l-0.2-1.0M64.4 110.2l-0.4-0.9M96.4 139.3l0.5-0.8M97.7 140.5l0.6-0.8M97.7 140.5l0.7 0.8M99.9 138.1l0.6-0.8M93.7 147.6l0.1 1.0M98.0 148.0l-1.0 0.0M98.7 151.2l0.9 0.4M97.3 151.0l-1.0-0.2M99.5 143.2l-0.5-0.8M99.5 143.2l0.5-0.9M104.7 145.3l1.0 0.3M104.6 150.5l1.0-0.2M102.9 151.0l-0.9 0.4M102.9 151.0l0.1 1.0M103.5 153.9l-1.0 0.1M102.4 156.0l0.0 1.0M105.4 153.4l0.7-0.7M105.4 153.4l0.7 0.7M107.7 154.1l0.7 0.7M107.7 154.1l0.9-0.4M106.0 156.4l0.9-0.4M104.1 156.8l-0.9-0.2M104.1 156.8l-0.1 1.0M109.4 153.7l0.0 1.0M111.8 156.0l-0.4 0.9M111.8 156.0l0.8 0.6M112.3 148.1l1.0 0.1 1.0 0.2M114.7 147.7l0.9 0.5M111.0 147.2l-0.9-0.5M110.9 144.9l-0.7-0.7M118.8 151.1l0.8 0.6M118.8 151.1l1.0-0.1M120.2 147.9l0.8-0.6M118.0 155.1l0.1 1.0M115.1 158.6l-1.0-0.1M116.6 159.0l0.1 1.0M117.7 161.1l1.0-0.2M125.1 158.8l0.5 0.8M121.0 157.5l-0.9-0.4M122.6 160.9l1.0 0.0M124.5 153.2l0.9-0.4M124.5 153.2l0.4 0.9M123.6 151.8l0.5-0.9M123.6 151.8l-0.6-0.8M124.1 149.4l0.6-0.8M124.0 147.0l0.7-0.6M128.8 158.4l1.0 0.1M131.4 158.0l0.0 1.0M131.7 156.2l-0.1-1.0M114.6 181.9l1.0 0.2M112.2 187.8l-0.4 0.9M112.7 186.6l0.4-0.9M103.5 184.5l-1.0-0.1M102.0 182.6l-0.2-1.0M102.0 182.6l-1.0-0.1M103.2 186.1l-1.0-0.1M103.2 186.1l-0.4 0.9M104.4 190.8l-0.9 0.4M106.6 193.1l-0.3 0.9M104.6 194.4l-1.0-0.1M102.2 189.5l0.0-1.0M99.4 190.8l-0.1-1.0M99.4 190.8l-1.0-0.3M99.3 192.4l-1.0 0.2M99.3 192.4l-0.3 1.0M112.8 194.0l0.7 0.8M116.5 198.6l0.4 1.0M116.5 198.6l-0.5 0.9M117.8 197.1l0.6-0.7M117.8 197.1l0.7 0.7M120.2 199.3l0.7-0.8M119.1 200.4l0.7 0.7M111.3 200.5l0.5 0.9M117.0 203.0l0.8 0.6M117.8 201.9l0.8-0.6M117.8 201.9l0.7 0.7M117.7 128.8l-0.6 0.9M118.9 129.5l-0.3 1.0M123.7 133.4l-1.0 0.1M123.7 133.4l-0.4 1.0M125.6 133.6l1.0 0.2M128.3 137.3l-1.0 0.0M136.0 137.0l0.6 0.8M136.0 137.0l1.0-0.2M132.2 141.6l-0.9-0.5M130.1 142.7l-0.2 1.0M130.1 142.7l-0.9-0.3M138.7 145.4l-1.0 0.1M136.9 147.0l-0.2 0.9M136.0 147.7l0.0 1.0M140.1 145.5l1.0 0.3M140.1 145.5l-0.2 1.0M139.7 148.5l0.9 0.5M141.0 139.4l0.7-0.7M146.6 142.6l0.6-0.8M149.4 141.3l0.8 0.7M144.6 147.3l-0.9-0.3M145.1 150.5l0.3 0.9M146.7 150.2l0.3 0.9M147.0 153.2l1.0-0.1M145.6 156.5l0.6 0.9M144.7 156.9l-1.0 0.3M145.1 157.6l-0.9 0.5M145.1 157.6l0.1 1.0M146.9 156.4l0.0 1.0M148.6 150.6l-0.6 0.7M153.1 148.7l1.0-0.2M152.3 147.2l1.0-0.4M152.3 147.2l-0.1-1.0M159.0 150.8l0.5-0.8M159.0 150.8l0.8 0.6 0.7 0.7M158.0 149.8l-0.5-0.8M158.0 149.8l0.9-0.4M160.9 160.1l0.8 0.5M158.5 162.4l-0.8 0.7M160.2 165.7l0.9 0.5M157.3 166.1l-1.0-0.2M160.4 168.5l1.0-0.2M160.4 168.5l0.4 0.9M167.6 156.3l0.9-0.3M167.6 156.3l0.1 1.0M168.2 161.8l0.9-0.3M167.3 160.5l-0.6-0.8M164.8 164.7l-0.5 0.8M164.8 164.7l0.5 0.8M163.6 163.9l-0.7 0.7M168.4 167.9l1.0 0.4M165.7 169.8l-0.8-0.6M170.0 163.2l-0.2-1.0M173.7 167.1l0.5-0.9M173.7 167.1l1.0 0.1M175.9 166.3l0.7 0.8M175.9 166.3l0.5-0.9M119.9 167.2l0.2 1.0M128.1 167.4l0.7 0.7M126.6 168.1l0.4 0.9M136.2 164.3l1.0 0.3M137.4 164.1l0.7 0.8M132.4 164.1l-1.0-0.1M134.8 161.7l1.0 0.2M136.6 160.1l1.0-0.1M134.2 171.1l1.0 0.1M131.1 168.7l-1.0-0.3M131.1 168.7l-0.2 1.0M139.0 170.7l1.0 0.3M139.0 170.7l-0.7 0.7M140.7 175.2l0.9 0.4M140.7 175.2l-0.2 1.0M137.5 170.2l-1.0-0.1M138.7 173.5l1.0 0.4M138.7 173.5l-0.1 1.0M139.9 165.8l0.7-0.8M139.9 165.8l-0.5-0.8M140.0 163.4l-0.5-0.8M141.1 167.1l0.8 0.6M141.1 167.1l0.8-0.5M143.0 164.6l0.9 0.4M150.6 167.1l0.8-0.6M145.8 175.3l0.6 0.8M145.8 175.3l-0.9 0.2M147.2 171.4l0.8 0.6M127.9 196.9l0.9 0.3M128.3 198.0l0.9 0.5M128.9 200.3l0.8 0.6M128.9 200.3l-0.5 0.9M131.4 188.3l-0.2-1.0M132.7 192.7l0.5 0.8M132.7 192.7l0.8-0.7M137.0 190.6l0.6 0.8M140.0 191.9l0.7-0.6M142.4 191.6l0.5-0.9M138.4 193.0l0.5 0.9M141.7 194.4l0.7 0.7M144.1 194.3l0.5-0.8M136.1 185.7l-0.1-1.0M134.5 186.4l-0.5-0.9M144.1 178.9l0.0-1.0M144.0 187.3l0.7-0.7M146.6 181.3l-1.0-0.1M150.2 179.6l0.4-0.9M152.2 181.8l0.4-1.0M154.5 179.4l0.9 0.5M156.2 177.7l1.0 0.0M155.3 176.5l0.9 0.1M155.3 176.5l0.2-1.0M153.7 186.2l0.5 0.9M159.6 185.7l0.7 0.7M160.6 184.6l0.8 0.6M162.3 187.4l0.2 1.0M161.3 188.1l0.4 0.9M161.3 188.1l-0.3 1.0M160.5 176.4l-0.6 0.7M164.8 184.6l0.0 1.0M168.4 185.5l0.4 0.9M172.9 182.7l0.6 0.8M134.7 210.9l0.7 0.8M134.7 210.9l1.0-0.3M130.2 204.6l-0.7-0.8M130.2 204.6l0.7-0.7M132.7 202.6l-0.6-0.8M134.1 201.8l0.0-1.0M134.9 199.5l1.0-0.4M135.8 197.3l0.8-0.6M135.8 197.3l-0.5-0.9M136.6 207.2l0.6 0.8M139.3 204.1l0.9-0.5M146.1 198.6l0.5-0.9M147.4 198.9l1.0-0.1M147.4 198.9l0.4-0.9M146.5 195.8l0.2-1.0M143.6 205.3l0.0 0.9M143.6 205.3l-1.0-0.2M146.9 203.5l1.0 0.1M146.8 206.5l1.0 0.2M148.3 208.4l0.9 0.3M153.7 200.2l1.0 0.1M158.4 199.3l0.8-0.5M150.3 198.1l-1.0-0.2M153.3 195.5l0.1-1.0M154.9 195.7l0.3-1.0M158.7 204.1l-0.2 1.0M158.7 204.1l0.7 0.7M160.9 201.1l-0.1-1.0M39.1 165.8l-0.3 1.0M37.3 167.4l-1.0 0.1M40.6 166.1l0.1 1.0M40.6 166.1l1.0 0.1M40.5 168.9l0.0 1.0M41.4 171.1l-0.1 1.0M38.5 171.9l0.2 1.0M38.5 171.9l-0.9 0.3M52.5 176.4l-0.9-0.4M52.5 176.4l0.0 1.0M50.3 177.3l-0.8 0.6M50.3 177.3l-0.9-0.4M54.2 177.0l-0.4 0.8M51.0 180.7l-0.9-0.4M51.0 180.7l-0.3 1.0" stroke="#d24a52" stroke-width="0.95" stroke-opacity="0.7"/>
<path d="M500.3 59.5l-2.1 0.3-2.0 0.2-2.1 0.3-2.0 0.3-2.1 0.3-2.1 0.3-2.0 0.2-2.1 0.3-2.2-0.4-2.2-0.3-2.2-0.4-2.3-0.4-2.2-0.4-2.2-0.3-2.2-0.4-2.0 1.0-1.9 1.0-2.0 1.1-1.9 1.0-2.0 1.0-1.9 1.0-2.0 1.1-1.9 1.0-2.0 1.0-2.2 0.7-2.2 0.8-2.2 0.7-2.0-0.6-2.0-0.6-2.0-0.6-2.0-0.6-2.0-0.6-2.1-0.6-2.0-0.6-2.0-0.6-2.0-0.6-2.0-0.6-2.0-0.6-1.9 1.3-1.9 1.2-1.9 1.3-1.8 1.3-1.9 1.3-1.9 1.2-1.9 1.3M468.3 59.1l-1.5-2.1-1.4-2.0-1.5-2.1-0.3-2.2-0.3-2.2-0.2-2.2-0.3-2.2-0.3-2.2-0.3-2.2-0.2-2.2-0.3-2.2-0.4-2.0-0.3-1.9-0.4-2.0-0.4-2.0-0.3-1.9-0.4-2.0-0.4-2.0-0.3-1.9-0.4-2.0-0.3-2.2-0.2-2.2-0.3-2.2-0.3-2.2M463.9 52.9l-1.6-1.3-1.5-1.2-1.6-1.3-1.6-1.2-1.6-1.3-1.5-1.2-1.6-1.3-1.7-1.2-1.6-1.3-1.7-1.2-1.6-1.2-1.7-1.3-1.6-1.2-1.7-1.3-1.6-1.2M450.7 68.3l-0.6 1.9-0.5 2.0-0.5 1.9-0.6 1.9-0.6 2.0-0.5 1.9-0.5 2.0-0.6 1.9-0.9 2.2-0.9 2.2-0.8 2.2-0.9 2.2-0.9 2.2-1.8 1.1-1.8 1.1-1.8 1.1-1.8 1.1-1.7 1.3-1.7 1.2-1.6 1.3-1.7 1.3-1.7 1.2-1.7 1.3-1.7 1.2-1.7 1.3-1.6 1.3-1.7 1.2-1.7 1.3M444.1 70.5l-0.5-1.9-0.6-1.9-0.6-2.0-0.5-1.9-0.5-1.9-0.6-1.9-0.6-2.0-0.5-1.9-0.6-2.2-0.5-2.2M422.0 63.9l0.6-2.0 0.6-2.0 0.6-2.0 0.6-2.0 0.6-2.0 0.7-2.0 0.6-2.0 0.6-2.0 0.6-2.0 0.6-2.0 0.6-2.0M500.3 59.5l-0.5-2.2-0.4-2.2-0.5-2.2-0.5-2.2-0.5-2.2-0.4-2.2-0.5-2.2 0.0-2.2 0.0-2.2 0.0-2.2 0.0-2.2 0.0-2.2 0.0-2.2 0.0-2.2 0.0-2.2 1.1-1.7 1.1-1.7 1.1-1.6 1.1-1.7M500.3 59.5l-1.5-1.4-1.5-1.4-1.5-1.4-1.5-1.4-1.5-1.4-1.5-1.4-1.5-1.4-1.5-1.4-1.5-1.4-1.5-1.4-1.5-1.4-0.3-2.2-0.3-2.2-0.3-2.2-0.4-2.2-0.3-2.2-0.3-2.2-0.3-2.2 0.6-2.2 0.5-2.2 0.5-2.2 0.6-2.3 0.5-2.2 0.6-2.2M483.8 61.7l-0.4 2.2-0.5 2.2-0.4 2.3-0.5 2.2-0.4 2.2-1.3 1.6-1.2 1.5-1.3 1.6-1.2 1.6-1.3 1.6-1.2 1.5-1.3 1.6-1.7 1.1-1.6 1.1-1.7 1.1-1.7 1.1M481.6 72.8l1.1 1.8 1.1 1.9 1.1 1.8 1.1 1.8 1.1 1.9 1.1 1.8 1.1 2.2 1.1 2.2 1.1 2.2 1.1 2.2M499.4 59.5l2.0-0.9 1.9-1.0 2.0-0.9 1.9-1.0 2.0-0.9 1.9-1.0 2.0-0.9 1.9-1.0 2.0-0.9 2.0-0.7 2.0-0.8 2.0-0.7 2.0-0.7 2.0-0.7 2.1-0.8 2.0-0.7 2.0-0.7 2.0-0.7 2.0-0.8 2.0-0.7 2.0-0.7 2.1-0.7 2.0-0.7 2.0-0.7 2.1-0.6 2.0-0.7 2.1-0.7 2.0-0.7 0.2-2.2 0.1-2.2 0.2-2.2 0.1-2.3 0.2-2.2 0.2-2.2 0.1-2.2 0.2-2.2-0.4-2.0-0.5-2.0-0.4-1.9-0.5-2.0-0.4-2.0M539.1 43.0l-1.0-1.8-1.0-1.9-0.9-1.8-1.0-1.8-1.0-1.9-1.0-1.8-0.9-1.8-1.0-1.9-1.0-1.8-0.5-2.2-0.4-2.2-0.5-2.3-0.4-2.2-0.5-2.2M523.7 44.1l-0.5-2.0-0.5-2.1-0.4-2.0-0.5-2.1-0.5-2.0-0.5-2.1-0.4-2.0-0.5-2.1-0.5-2.1-0.5-2.0-0.5-2.0-0.4-2.1-0.5-2.1-0.5-2.0M539.1 43.0l0.6-1.9 0.6-1.9 0.6-1.9 0.6-1.9 0.6-1.9 0.6-2.0 0.6-1.9 0.6-1.9 0.6-1.9 0.6-1.9 0.6-1.9-1.2-1.6-1.3-1.7-1.2-1.6-1.2-1.7-1.3-1.6-1.2-1.7-1.3-1.6-1.2-1.7M555.4 37.5l0.8 2.0 0.8 2.1 0.8 2.0 0.9 2.1 0.8 2.0 0.8 2.1 0.8 2.0 2.2-0.2 2.2-0.2 2.3-0.2 2.2-0.1 2.2-0.2 2.2-0.2 1.9-0.5 1.9-0.6 2.0-0.6 1.9-0.5 1.9-0.5 1.9-0.6 2.0-0.6 1.9-0.5M574.4 50.7l-0.2-2.0-0.1-2.1-0.2-2.0-0.1-2.1-0.2-2.0-0.1-2.1-0.2-2.0-0.2-2.1-0.1-2.1-0.2-2.0-0.1-2.0-0.2-2.1-0.1-2.0-0.2-2.1M561.1 51.8l0.0 2.0 0.0 2.1 0.0 2.0-0.1 2.0 0.0 2.0 0.0 2.1 0.0 2.0M574.4 50.7l0.3 2.2 0.3 2.2 0.3 2.2 0.4 2.2 0.3 2.2 0.3 2.2 0.3 2.2 0.4 2.2 0.5 2.2 0.4 2.3 0.5 2.2 0.4 2.2 2.2-0.3 2.2-0.2 2.2-0.3 2.2-0.3 2.2-0.3 2.2-0.3 2.2-0.2 2.2-0.3 1.5-1.5 1.4-1.5 1.5-1.5M499.4 59.5l2.0 0.3 2.1 0.2 2.0 0.3 2.1 0.3 2.0 0.3 2.1 0.2 2.1 0.3 2.0 0.3 2.1 0.3 2.0 0.2 2.1 0.3 2.0 0.3 2.0 0.6 2.0 0.6M499.4 59.5l1.3 1.6 1.2 1.5 1.3 1.6 1.2 1.6 1.3 1.6 1.2 1.5 1.3 1.6 2.1 0.2 2.0 0.1 2.1 0.2 2.0 0.1 2.1 0.2 2.1 0.1 2.0 0.2 2.1 0.1 2.0 0.2 2.1 0.1 2.1 0.2 2.0 0.1 2.1 0.2 2.0 0.1 2.1 0.2 2.0 0.5 2.0 0.5 2.0 0.5 2.0 0.5 2.0 0.5 2.0 0.5 2.0 0.5 2.0 0.5 2.0 0.5 2.0 0.5 2.0 0.5M499.4 59.5l1.0 1.8 1.0 1.8 1.0 1.8 1.0 1.8 1.0 1.8 1.0 1.9 1.0 1.8 1.0 1.8 1.0 1.8 1.0 1.8 1.0 1.8 0.4 2.2 0.3 2.2 0.4 2.2 0.4 2.2 0.3 2.2 0.4 2.2 1.7 1.5 1.7 1.5 1.7 1.5 1.6 1.5 1.7 1.5 1.7 1.5M517.0 94.8l2.0-0.2 2.0-0.2 2.0-0.2 2.0-0.2 2.0-0.2 2.0-0.2 2.0-0.2 2.0-0.2 2.0-0.2 2.0-0.2 2.0-0.2 2.2-0.4 2.2-0.3 2.2-0.4 2.3-0.4 2.2-0.3 2.2-0.4M457.8 115.4l1.9-0.9 1.8-0.9 1.9-1.0 1.8-0.9 1.9-0.9 1.8-0.9 1.9-0.9 1.8-1.0 1.8-0.9 1.9-0.9 1.8-1.0 1.8-1.1 1.8-1.0 1.8-1.0 1.7-1.1 1.8-1.0 1.8-1.0 1.8-1.1 1.8-1.0 2.0-0.6 2.0-0.5 2.1-0.6 2.0-0.6 2.0-0.6 2.1-0.5 2.0-0.6 2.0-0.6M495.0 99.2l2.1 0.2 2.2 0.2 2.1 0.2 2.1 0.1 2.2 0.2 2.1 0.2 2.1 0.2 2.1 0.2 2.2 0.2 2.1 0.1 2.1 0.2 2.2 0.2 2.1 0.2 2.1-0.3 2.0-0.2 2.1-0.3 2.0-0.2 2.1-0.3 2.0-0.3 2.1-0.2 2.0-0.3 2.1-0.3 2.1-0.2 2.0-0.3 2.1-0.2 2.0-0.3 2.1-0.3 2.0-0.2 2.1-0.3 2.0-0.2 2.1-0.3M522.7 101.6l0.5 2.3 0.4 2.3 0.5 2.3 0.4 2.3 0.5 2.3-0.3 2.0-0.4 2.0-0.3 2.0-0.3 1.9-0.3 2.0-0.4 2.0-0.3 2.0-0.9 1.8-0.9 1.9-1.0 1.8-0.9 1.9-0.9 1.8M508.9 113.1l2.0-0.2 2.1-0.2 2.0-0.1 2.1-0.2 2.0-0.2 2.1-0.2 2.0-0.1 2.0-0.2 2.1-0.2 2.0-0.2 2.1-0.1 2.0-0.2 2.1-0.2 2.0-0.2 2.0-0.2 2.1-0.1 2.0-0.2 2.1-0.2 2.0-0.2 2.0-0.1 2.1-0.2 2.0-0.2 2.1-0.2 2.0-0.1 2.1-0.2 2.0-0.2M511.2 124.7l2.1-0.1 2.0-0.2 2.1-0.1 2.0-0.1 2.1-0.1 2.0-0.2 2.1-0.1 2.0-0.1 2.1-0.1 2.1-0.2 2.0-0.1 2.1-0.1 2.0-0.2 2.1-0.1 2.0-0.1 2.1-0.1 2.0-0.2 2.1-0.1M469.3 147.8l-1.8-1.3-1.8-1.3-1.8-1.3-1.8-1.3-1.7-1.2-1.8-1.3-1.8-1.3-1.8-1.3-1.8-1.3-1.6-1.5-1.5-1.6-1.6-1.5-1.5-1.5-1.6-1.6-1.5-1.5M469.3 147.8l-0.3-2.1-0.2-2.0-0.3-2.1-0.2-2.0-0.3-2.1-0.2-2.0-0.3-2.1-0.2-2.0-0.3-2.1M462.4 150.1l-1.8 1.0-1.8 1.0-1.8 1.1-1.8 1.0-1.8 1.0-1.8 1.0-1.8 1.1-1.8 1.0-1.8 1.0-1.4-1.7-1.5-1.7-1.4-1.8-1.5-1.7-1.4-1.7-1.4-1.8-1.5-1.7-1.4-1.7-1.4-1.9-1.4-1.8-1.4-1.9-1.4-1.8-1.4-1.9M446.2 159.3l1.2 1.7 1.1 1.8 1.2 1.7 1.2 1.7 1.1 1.8 1.2 1.7 1.1 1.8 1.2 1.7 1.5 1.3 1.6 1.3 1.5 1.3 1.5 1.3 1.6 1.2 1.5 1.3 1.5 1.3 1.6 1.3 1.5 1.3M469.3 147.8l1.9 0.6 1.9 0.6 2.0 0.5 1.9 0.6 1.9 0.6 2.0 0.5 1.9 0.6 1.9 0.6 1.9 0.6 1.9 0.5 2.0 0.6 1.9 0.6 2.0-0.8 1.9-0.7 2.0-0.8 1.9-0.8 2.0-0.7 1.9-0.8 2.0-0.8 1.9-0.7 2.0-0.8M492.4 154.7l0.3 2.0 0.4 2.0 0.3 2.0 0.4 1.9 0.3 2.0 0.4 2.0 0.3 2.0 0.5 2.0 0.5 2.1 0.5 2.0 0.5 2.1 0.6 2.0 0.5 2.1 0.5 2.0 0.5 2.1 0.5 2.0M492.4 154.7l0.5-2.1 0.5-2.0 0.5-2.1 0.5-2.0 0.6-2.1 0.5-2.0 0.5-2.1 0.5-2.0 0.5-2.1 2.2-0.4 2.1-0.3 2.2-0.4 2.2-0.4 2.1-0.3 2.2-0.4M478.6 150.0l0.0 2.1 0.0 2.1 0.0 2.1 0.0 2.1 0.0 2.0 0.0 2.1 0.0 2.1 0.0 2.1 0.0 2.1 0.0 2.1M495.0 131.6l1.9 0.9 1.8 0.9 1.9 1.0 1.8 0.9 1.8 0.9 1.9 0.9 1.8 0.9 1.9 1.0 1.8 0.9 1.9 0.9 1.4 1.5 1.3 1.6 1.3 1.5 1.4 1.6 1.3 1.5 1.4 1.6 1.4 1.5 1.3 1.5 1.4 1.6 1.3 1.5 1.4 1.6 1.3 1.5 1.7-1.1 1.8-1.2 1.7-1.1 1.7-1.2 1.8-1.1 1.7-1.2 1.7-1.2 1.8-1.1 1.7-1.2 1.7-1.1 1.8-1.1 1.7-1.2 1.9-0.9 1.8-1.0 1.8-0.9 1.9-0.9 1.9-1.0 1.8-0.9 1.9-0.9 1.8-0.9 1.8-1.0 1.9-0.9 1.5-1.4 1.6-1.3 1.5-1.4 1.5-1.3 1.6-1.4 1.5-1.3 1.5-1.3 1.6-1.4 1.5-1.4 1.5-1.3 1.6-1.4 1.5-1.3M569.0 136.2l1.3-1.7 1.2-1.7 1.3-1.6 1.2-1.7 1.3-1.7 1.2-1.7 1.3-1.7 1.2-1.7 1.3-1.6 1.2-1.7 1.3-1.7 1.0-1.8 1.0-1.8 1.1-1.8 1.0-1.8 1.0-1.7 1.0-1.8 1.1-1.8 1.0-1.8 1.0-1.8M569.0 136.2l1.1 1.7 1.2 1.8 1.2 1.7 1.1 1.7 1.2 1.8 1.1 1.7 1.2 1.8 1.1 1.7 2.3 0.0 2.3 0.0 2.3 0.0M569.0 136.2l2.1-0.4 2.1-0.4 2.2-0.4 2.1-0.3 2.1-0.4 2.1-0.4 2.1-0.4 2.1-0.4 2.1-0.3 2.2-0.4 2.1-0.4 2.1-0.4M529.7 159.3l0.0 2.0 0.0 2.1 0.0 2.0 0.0 2.0 0.0 2.0 0.0 2.0 0.0 2.1 0.0 2.0-0.6 2.3-0.6 2.4-0.5 2.3-0.6 2.3M529.7 159.3l-2.0 0.6-2.0 0.6-2.1 0.6-2.0 0.6-2.0 0.5-2.1 0.6-2.0 0.6-2.0 0.6-1.1 1.7-1.2 1.7-1.2 1.8-1.1 1.7M550.5 145.5l0.0 2.3 0.0 2.3 0.0 2.3 0.0 2.3 0.0 2.3 0.0 2.3 0.5 2.1 0.4 2.1 0.5 2.0 0.4 2.1 0.5 2.1 0.5 2.1 0.4 2.1 0.5 2.0 0.4 2.1 0.5 2.1M550.5 145.5l0.6-2.0 0.7-2.0 0.6-2.0 0.7-1.9 0.6-2.0 0.7-2.0 0.6-2.0M495.0 147.8l0.8 1.9 0.7 1.9 0.8 2.0 0.8 1.9 0.7 1.9 0.8 1.9-0.2 2.1-0.2 2.2-0.1 2.1-0.2 2.1-0.2 2.2-0.2 2.1-0.1 2.1-0.2 2.1-0.2 2.2-0.2 2.1-0.1 2.1-0.2 2.2-0.2 2.1" stroke="#a8a8a8" stroke-width="0.5" stroke-opacity="1"/>
<path d="M498.2 59.8l-0.6 1.3M496.5 63.9l-0.7 1.3M492.1 60.6l-1.0-1.2M490.1 58.4l-1.1-1.1M487.1 55.0l-1.0-1.1M485.9 61.4l-0.6-1.4-0.6-1.3M485.9 61.4l-0.5 1.5-0.5 1.4M479.4 61.0l-0.5 1.4-0.4 1.4M478.9 59.5l-0.6-1.3-0.7-1.4M476.9 55.5l-0.7-1.3M465.6 58.8l-0.7-1.3M448.5 69.0l-0.9-1.1-1.0-1.2-0.9-1.2-0.7-1.3-0.8-1.3M442.1 69.9l0.3-1.5 0.2-1.5M419.1 64.1l-1.0-1.2M420.1 65.2l0.8 1.3 0.8 1.2M414.5 69.0l0.0 1.5 0.1 1.5 0.2 1.5 0.2 1.5M414.5 69.0l-1.0-1.2-0.9-1.2M463.9 55.5l-1.4 0.5M465.4 55.0l0.9-1.2 1.0-1.1M463.3 48.5l1.4-0.7 1.3-0.7 1.3-0.7 1.4-0.7M462.8 44.1l-1.5-0.3-1.5-0.2M462.8 44.1l1.5-0.3 1.4-0.5M462.2 39.7l1.3-0.8 1.2-0.9M466.0 37.2l1.3-0.7M462.2 39.7l-1.4-0.2-1.5-0.2M462.4 30.8l1.4-0.5M458.4 17.6l-1.5 0.1M456.1 10.9l-1.5-0.1M459.2 49.1l-1.3 0.8-1.2 0.9M453.1 45.9l-1.4 0.6M454.5 45.4l0.7-1.3M444.6 37.9l1.0-1.2 0.7-1.3 0.9-1.2 0.8-1.3 0.7-1.3M439.7 34.2l0.9-1.2M449.6 72.2l1.4 0.5 1.4 0.5M449.6 72.2l-1.5 0.0M447.9 78.0l-1.4-0.2-1.5-0.1M446.3 83.8l-1.5 0.1M443.3 84.1l-1.5 0.2-1.5 0.2M443.7 90.4l1.0 1.1M440.1 95.9l0.2 1.5 0.2 1.5 0.2 1.5 0.2 1.4M433.8 98.0l-0.8-1.3M434.7 99.2l0.6 1.4M429.7 103.0l0.6 1.4 0.6 1.3 0.6 1.4M422.9 108.0l-1.1-1.0-1.0-1.0-1.2-0.9-1.2-1.0M422.9 108.0l0.6 1.4 0.6 1.4M443.0 66.7l1.2-0.9 1.3-0.8M443.0 66.7l-1.5-0.1-1.5-0.2M441.4 60.9l-1.5 0.4M441.4 60.9l1.4-0.5 1.3-0.6M441.1 54.5l1.3-0.7M436.7 54.7l-1.4-0.3M438.6 50.7l-0.4-1.4M423.8 57.9l1.5-0.2 1.5-0.3M428.3 57.1l1.4-0.2M424.4 51.1l-1.3-0.8M425.7 51.9l1.4 0.3 1.5 0.4M427.5 45.9l1.4 0.5 1.4 0.5M427.5 45.9l-1.3-0.8-1.2-0.8M503.1 43.1l1.0-1.1M497.9 48.5l-1.5 0.0-1.5 0.2-1.4 0.1M497.0 41.9l-1.4-0.5-1.4-0.7-1.3-0.7M498.5 41.7l1.4-0.4M500.0 35.2l1.5-0.1M497.0 30.9l-1.4-0.5-1.5-0.4-1.4-0.4-1.5-0.4M497.0 30.9l1.5-0.4 1.4-0.3 1.5-0.4 1.5-0.2M498.1 24.8l1.5 0.3 1.5 0.2M498.1 24.8l-1.3-0.8-1.3-0.7-1.3-0.7-1.3-0.7M495.8 55.3l-1.3 0.7-1.4 0.6M495.8 55.3l0.3-1.5 0.2-1.4M486.8 46.9l0.5-1.4M483.5 41.9l1.3-0.7 1.3-0.8M483.5 41.9l-1.5-0.1M480.5 41.6l-1.5 0.0M482.5 35.3l1.5-0.5 1.4-0.5M481.6 28.7l1.4-0.5M484.4 27.6l1.4-0.5M481.6 28.7l-1.5 0.2-1.5 0.2-1.4 0.3M485.8 17.4l1.5-0.2M484.3 17.6l-1.1-0.9M482.9 66.1l-1.5 0.3-1.5 0.1M480.2 73.3l-1.4 0.5M477.8 77.5l0.9 1.2 0.9 1.3 0.8 1.2M477.8 77.5l-1.3-0.7-1.3-0.7M471.5 83.0l-1.3-0.7M472.8 83.8l0.6 1.4M467.8 87.1l0.4 1.5 0.5 1.3 0.5 1.4M467.8 87.1l-1.1-1.0-1.1-1.1M466.1 88.2l-1.3 0.8-1.3 0.8M483.8 76.5l-1.1 1.0-1.0 1.1M487.1 82.0l-1.1 0.9-1.2 1.0M488.5 81.6l1.5-0.4M489.5 89.4l-0.9 1.2M492.6 92.6l0.7 1.3 0.8 1.3M503.3 57.6l1.2 0.9 1.2 0.9M503.3 57.6l-0.4-1.4M509.2 54.8l0.7 1.3 0.7 1.3M515.0 51.9l0.8 1.3M514.8 50.5l-0.3-1.5M521.0 49.5l-0.4-1.4-0.4-1.4M521.0 49.5l0.9 1.3 0.8 1.2M527.9 41.4l0.2-1.5M534.9 43.0l-0.1-1.5M535.1 44.5l1.0 1.1 0.9 1.2M541.1 42.3l0.6 1.4 0.6 1.4M541.1 42.3l-0.5-1.4-0.4-1.4M547.2 40.2l0.3-1.4 0.1-1.5 0.3-1.5 0.2-1.5 0.1-1.5M547.2 40.2l0.8 1.4 0.7 1.3M553.4 38.2l0.5 1.4 0.5 1.4M553.4 38.2l-0.5-1.5-0.3-1.4M555.7 33.1l-1.4-0.4-1.5-0.3M555.7 33.1l1.5-0.1 1.5 0.0M556.0 28.6l1.4-0.6 1.3-0.7 1.3-0.7 1.4-0.7 1.3-0.8M556.5 22.0l-1.4-0.2-1.5-0.3-1.5-0.3M556.5 22.0l1.4-0.7 1.3-0.7M555.8 15.8l1.5-0.3 1.4-0.5 1.4-0.5 1.4-0.6M555.8 15.8l-1.5 0.0-1.5 0.1M538.1 41.2l-1.4 0.4-1.5 0.4M535.2 35.7l1.3-0.8M537.7 34.1l1.3-0.8M533.9 36.4l-1.4 0.6M531.3 28.3l-1.5 0.5-1.4 0.5-1.4 0.5M531.3 28.3l0.6-1.3M529.4 22.1l1.3-0.7 1.4-0.5 1.4-0.6 1.4-0.6M529.4 22.1l-1.4-0.6-1.4-0.6M526.5 15.3l-1.5-0.2M528.0 15.4l1.1-1.0 1.2-0.9M528.0 15.4l-0.4-1.5M523.2 42.1l1.1-1.1 1.2-0.9M521.8 35.9l-1.5-0.3-1.4-0.4M517.4 34.9l-1.5-0.4-1.4-0.3M520.4 29.8l1.1-1.0 1.1-1.0M520.4 29.8l-1.5-0.3M518.9 23.6l-1.5 0.1M518.9 23.6l1.4-0.7 1.3-0.6M540.9 37.3l1.5-0.2 1.5-0.2M543.3 29.6l1.5 0.3 1.4 0.3M543.3 29.6l-1.1-1.0-1.2-0.9-1.2-0.8-1.3-0.9M545.7 22.0l1.5 0.2 1.5 0.3M542.7 15.7l0.8-1.2 0.8-1.3M538.3 12.1l-1.3 0.8-1.2 0.9M538.3 12.1l0.9-1.2 0.9-1.1M559.3 43.4l1.5-0.3M556.6 44.5l-1.3 0.8M572.8 52.3l0.6 1.3M572.2 50.9l0.2-1.5 0.2-1.5M580.2 49.0l1.1 1.0 1.1 1.1 1.1 1.0 1.2 0.9 1.1 1.0M585.9 47.4l1.1 1.1 1.1 0.9M589.8 46.3l1.4-0.5 1.4-0.5M578.2 44.9l1.4-0.7M580.8 43.4l1.3-0.8M574.1 46.6l-1.5-0.1-1.5-0.1M573.6 40.5l1.3-0.9 1.2-0.8M573.0 32.2l1.5-0.1 1.5-0.2 1.5-0.1 1.4-0.2M573.0 32.2l-1.4-0.5-1.4-0.5M572.5 26.1l-1.5-0.1-1.5 0.0M572.5 26.1l1.4-0.7 1.3-0.6 1.4-0.7M572.2 22.0l-0.3-1.5-0.2-1.4M561.1 55.9l-1.4 0.6-1.4 0.5M561.1 55.9l1.5 0.1 1.5 0.1 1.5-0.1M561.0 61.9l1.5 0.4 1.4 0.4 1.5 0.4 1.4 0.5M561.0 61.9l-1.4 0.5-1.4 0.5M561.0 66.0l-0.2 1.5M575.7 59.5l-1.3 0.8-1.2 0.9-1.3 0.8M575.7 59.5l1.5 0.0M578.6 59.7l1.5 0.3 1.5 0.4 1.4 0.4M576.6 66.1l1.5-0.1 1.5-0.2M577.9 72.8l-1.5 0.3-1.4 0.2-1.5 0.2-1.5 0.3-1.5 0.1M577.9 72.8l1.5-0.1 1.5 0.0 1.5-0.4 1.4-0.3 1.5-0.5M581.5 75.5l0.5-1.4M587.6 76.1l0.4 1.5 0.3 1.4M588.8 80.4l0.5 1.4M587.6 76.1l-0.1-1.5-0.2-1.5M594.2 75.3l0.6-1.4 0.5-1.4 0.3-1.5 0.3-1.5M594.2 75.3l0.7 1.3 0.5 1.4M597.9 73.5l1.2 0.8 1.3 0.8 1.2 0.9M597.0 72.3l-0.9-1.2M600.8 70.5l1.1-1.0M509.6 60.9l0.4-1.5 0.4-1.4M515.8 61.7l0.6-1.4 0.6-1.3M515.8 61.7l0.1 1.5M516.0 64.7l0.2 1.5M526.0 63.4l0.3-1.5M526.0 63.4l0.2 1.5 0.3 1.5 0.1 1.5M528.0 64.0l1.4 0.4 1.5 0.5M500.7 61.1l-1.1 1.0-1.2 1.0M504.4 65.8l-1.1 0.9-1.3 0.8M511.2 73.5l0.6 1.4M516.4 71.1l0.6-1.4 0.5-1.4M522.6 71.6l0.7-1.3 0.8-1.3M528.8 72.0l0.8 1.3 0.8 1.3M535.0 72.5l0.5 1.4 0.6 1.4 0.6 1.4M535.0 72.5l0.8-1.3 0.9-1.2 0.8-1.2 0.9-1.2 0.8-1.3M541.1 73.3l1.0-1.1 1.1-1.1M547.1 74.8l1.0-1.1M553.1 76.3l0.9-1.2 0.9-1.2M559.1 77.8l0.7-1.3 0.7-1.4M501.4 63.1l1.4-0.4M500.2 64.0l-1.2 1.0M508.4 75.8l-1.1 1.0-1.0 1.1M508.0 82.8l-1.3 0.6M510.8 81.6l1.5-0.1M511.9 88.2l-1.4 0.7-1.2 0.8M521.0 100.1l-1.0 1.1M522.7 101.6l1.1 1.0 1.2 1.0M523.0 94.2l0.8 1.2 0.8 1.4M531.0 93.4l0.8 1.3 0.7 1.3M537.0 92.8l0.6 1.4 0.6 1.3 0.7 1.4M543.9 90.4l0.5-1.4M543.4 91.9l0.4 1.4 0.4 1.5M550.4 92.2l0.3 1.5M552.3 90.4l1.5-0.3 1.5-0.2 1.5-0.1 1.4-0.2M459.7 114.5l0.0-1.5 0.1-1.5M460.0 110.0l0.2-1.5 0.2-1.5 0.2-1.5M465.2 111.7l-0.4-1.4-0.5-1.4M465.2 111.7l0.7 1.4M470.8 109.0l1.2 0.8 1.2 0.9 1.2 0.9 1.2 0.9 1.1 1.0M470.8 109.0l-0.3-1.5-0.3-1.5-0.3-1.5-0.3-1.4M478.1 105.2l0.9 1.1 1.0 1.2M484.4 103.3l0.8 1.2M483.5 102.1l-0.4-1.5-0.2-1.5M488.8 99.0l-0.7-1.3-0.7-1.4M488.8 99.0l1.1 1.0M496.4 95.8l0.7 1.3M496.5 94.3l0.0-1.5M504.6 93.5l-0.5-1.5M505.3 94.8l0.8 1.2M508.6 92.3l1.4-0.5 1.4-0.4M499.3 99.6l0.3-1.5 0.3-1.5M500.5 102.3l0.6 1.4 0.6 1.3M506.1 101.5l0.6 1.4 0.4 1.5 0.4 1.4 0.4 1.5 0.3 1.4M512.0 100.7l0.9-1.3M512.0 100.7l0.3 1.4M521.0 100.0l0.4-1.5M529.4 99.4l0.5-1.4M529.5 102.2l0.7 1.3M535.0 100.0l0.8 1.3 0.8 1.3M541.8 97.9l0.6-1.4M553.5 97.7l0.0-1.5 0.0-1.5M554.5 98.9l0.9 1.2M523.6 106.2l1.5 0.2 1.5 0.3M525.0 113.1l1.5-0.3 1.4-0.4M523.7 121.0l1.4 0.5 1.5 0.4M520.7 121.1l-1.5 0.0M524.2 127.2l1.5 0.1M519.9 132.5l1.0 1.2M519.9 132.5l-1.5 0.1-1.5 0.1-1.5 0.1-1.4 0.1M518.1 136.2l-0.7 1.4-0.7 1.3M510.9 112.9l0.0-1.5-0.1-1.5M510.9 112.9l0.7 1.4 0.7 1.3 0.5 1.4M517.1 112.4l0.2 1.5 0.2 1.5M517.2 110.9l0.1-1.5M525.2 111.7l0.2-1.5M531.4 111.2l0.9 1.1 0.9 1.2 0.9 1.2 0.8 1.3 0.9 1.2M537.8 109.1l0.2-1.4M543.6 110.1l1.0 1.1 1.0 1.1 1.0 1.1 1.1 1.1M543.8 108.6l0.2-1.5M550.4 108.2l0.5-1.4M549.7 109.6l0.3 1.4 0.2 1.5M556.3 110.5l0.5 1.4M555.9 109.0l0.4-1.4M562.0 108.5l1.5-0.2M514.1 125.8l1.0 1.1M519.4 124.2l0.7-1.4M519.4 124.2l0.3 1.5 0.3 1.4M525.6 123.8l0.5 1.4 0.6 1.4M525.6 123.8l0.5-1.4M531.8 123.4l-0.1-1.5 0.0-1.5M548.2 122.4l0.1-1.5-0.1-1.5M548.2 122.4l0.0 1.5 0.0 1.5-0.1 1.5M548.2 122.4l1.5-0.1M467.5 146.5l-1.2 0.9-1.3 0.8-1.2 0.8M467.9 145.1l0.5-1.4M462.1 142.6l0.8-1.2 0.9-1.2M462.1 142.6l-1.2 0.9-1.3 0.8M456.8 138.8l-1.4 0.5-1.4 0.5-1.4 0.5-1.5 0.5M456.8 138.8l0.7-1.3 0.7-1.4M451.6 134.7l1.0-1.2M447.0 130.1l-1.2 0.9-1.1 0.9-1.2 1.0-1.2 0.9M447.0 130.1l0.5-1.4 0.5-1.5M443.9 127.0l-1.1-1.0-1.1-1.0-1.2-0.9M468.8 143.7l-1.5-0.3-1.5-0.3M468.8 143.7l1.3-0.7 1.4-0.6M467.8 135.5l1.2-0.9 1.2-0.9M467.8 135.5l-1.4-0.6M467.0 129.3l-0.1-1.5-0.1-1.5-0.1-1.5-0.2-1.5M458.8 152.1l-1.2-0.9M454.9 161.0l0.3 1.5 0.3 1.4M453.4 155.2l-1.2-0.9-1.1-1.0M448.0 158.3l-1.1-1.1-1.0-1.1-1.1-1.0-1.1-1.0M444.8 157.6l-1.4 0.6-1.4 0.7M444.8 157.6l0.5-1.4 0.4-1.5M439.0 150.7l0.7-1.3 0.9-1.3M433.6 146.5l-1.1 1.1M431.5 148.7l-0.9 1.2M430.5 139.9l1.2-0.9 1.1-1.0M430.5 139.9l-1.4 0.5-1.4 0.5M448.5 162.8l1.3-0.8M447.6 164.0l-0.9 1.1M452.0 168.0l-1.0 1.1-1.0 1.2-1.0 1.0-1.2 1.0-1.2 0.8M455.5 173.2l1.5-0.3 1.4-0.3 1.5-0.2M455.5 173.2l-0.6 1.4-0.5 1.4M460.1 177.1l-0.6 1.3-0.7 1.4M460.1 177.1l1.2-0.9 1.3-0.8M464.7 180.9l1.4-0.4 1.4-0.5 1.5-0.5M464.7 180.9l-0.6 1.4-0.4 1.5M469.3 184.8l-0.4 1.4-0.3 1.5M469.3 184.8l1.4-0.6 1.4-0.6M471.2 148.4l0.1 1.5 0.1 1.5M471.5 152.9l0.0 1.5M471.2 148.4l1.1-1.0 1.2-1.0M477.0 150.1l1.1-1.0 1.1-1.0 1.0-1.1M477.0 150.1l-0.1 1.5-0.1 1.5M482.8 151.8l0.2 1.5M483.2 154.8l0.4 1.4M490.5 154.1l0.9-1.1 1.0-1.2M490.5 154.1l-0.2 1.5-0.4 1.5-0.4 1.4M497.0 154.5l0.8 1.3M502.7 147.4l-0.7-1.2M504.1 150.1l0.8 1.3 0.8 1.2M511.0 148.9l1.1 1.1M510.0 147.8l1.4-0.5 1.4-0.5M493.1 158.7l-1.4 0.5-1.4 0.7M493.1 158.7l1.4 0.3 1.5 0.4M494.5 166.6l1.4-0.3 1.5-0.2M494.5 166.6l-1.3 0.8M496.3 174.7l-1.2 0.9-1.2 0.8-1.2 0.9M496.3 174.7l1.5 0.4 1.5 0.3M497.9 180.9l1.4-0.4 1.5-0.3M499.4 187.0l0.3 1.5 0.3 1.4M493.4 150.6l1.5-0.5 1.4-0.5M493.4 150.6l-1.1-1.0-1.1-1.0M495.0 144.4l-1.5-0.3M492.0 143.8l-1.5-0.2M495.0 144.4l1.4 0.2 1.5 0.2M496.5 138.3l1.4-0.4M501.2 134.0l-0.3-1.5M501.3 135.5l0.5 1.4 0.5 1.4M507.8 134.4l0.6 1.3 0.6 1.4M478.6 154.2l-1.5 0.3-1.4 0.4M478.6 160.4l-1.5 0.1-1.5 0.1M478.6 160.4l1.4 0.6 1.4 0.5M478.6 168.8l1.4 0.4 1.5 0.4 1.5 0.3M478.6 168.8l-1.4 0.6-1.4 0.6-1.4 0.5M478.6 170.9l0.1 1.5 0.0 1.5M496.9 132.5l-0.4 1.5-0.2 1.5M496.9 132.5l1.1-0.9 1.1-1.1M505.1 135.0l0.8-1.3M504.2 136.2l0.0 1.5-0.1 1.5M509.3 140.4l-0.5 1.4M509.8 139.0l0.9-1.2 1.0-1.2M518.9 147.0l-0.6 1.3-0.6 1.4M518.9 147.0l1.2-1.0 1.0-1.0M528.7 152.3l1.5-0.1M524.3 153.1l-1.0 1.1-1.1 1.1M528.4 157.8l1.3-0.7 1.3-0.7M534.4 157.8l1.2 0.9M538.4 153.6l-0.7-1.4-0.7-1.3M543.6 150.1l-0.4-1.5-0.5-1.4M543.6 150.1l0.9 1.2 0.7 1.3M557.9 141.8l0.0-1.5 0.0-1.5-0.2-1.5-0.1-1.5M569.7 132.0l-0.4-1.5-0.4-1.4M574.5 129.5l-0.7-1.4M578.8 125.6l-0.9-1.2M579.7 126.8l1.4 0.5 1.4 0.6M584.3 122.7l1.4 0.6 1.4 0.6 1.4 0.6M584.3 122.7l-0.9-1.2M587.4 120.0l1.2-0.9 1.2-0.9 1.1-1.0 1.2-1.0M570.3 134.5l-0.6-1.4-0.8-1.3M577.8 124.4l1.3 0.7 1.4 0.7M583.0 119.7l1.5 0.4M584.8 114.1l-1.2-0.8M587.9 108.8l1.5 0.2 1.5 0.2 1.5 0.2M587.2 107.4l-0.8-1.2M591.0 103.4l-1.4-0.7-1.3-0.7M570.1 137.9l-0.6 1.4-0.6 1.4M572.7 144.3l-1.0 1.2M577.1 148.4l-1.3 0.8-1.2 1.0-1.2 0.8M577.1 148.4l1.4-0.1 1.5-0.1M582.8 150.1l0.6 1.4M585.1 150.1l1.5 0.0M572.2 136.9l1.1 1.0M571.1 135.8l-0.3-1.4-0.3-1.5M592.3 132.0l0.2-1.5 0.3-1.5M595.9 131.2l1.4-0.3M529.7 163.4l1.4 0.5 1.4 0.6 1.3 0.6 1.4 0.6M529.7 163.4l-1.4 0.5-1.4 0.5M529.7 169.4l1.4 0.5 1.4 0.5M529.7 175.5l1.3 0.7 1.3 0.8M529.7 175.5l-1.5-0.1-1.5-0.1-1.5-0.1-1.5-0.2M526.5 182.2l-1.5-0.2-1.5-0.2M528.0 182.5l1.4 0.3 1.5 0.2M527.7 159.9l0.1 1.5 0.2 1.5M521.3 164.6l-0.3 1.5M521.6 161.7l-1.0-1.2-0.8-1.2M513.5 164.0l-1.0-1.1-0.9-1.2-0.9-1.2M513.4 165.5l-0.2 1.5M510.0 169.2l0.9 1.2 1.0 1.1M510.0 169.2l-1.3-0.7-1.3-0.6M508.0 172.1l-1.1 1.1M550.5 157.0l-1.4 0.4-1.5 0.4-1.4 0.4-1.5 0.4-1.4 0.4M550.5 157.0l1.4 0.4 1.5 0.5M551.4 163.5l1.5 0.3M551.6 170.7l-1.1 0.9M552.8 169.7l1.4 0.4M555.7 170.6l1.3 0.6M554.2 175.9l-1.1 1.1-1.1 1.0-1.1 1.0M551.1 143.5l1.5-0.1M550.6 135.9l-1.3-0.7M553.1 137.6l1.4-0.4 1.5-0.2M555.0 131.6l0.4-1.4 0.3-1.5M495.8 149.7l1.5-0.2 1.4-0.1M498.8 157.4l1.5 0.2 1.5 0.1 1.5 0.1M499.2 163.6l1.4 0.5 1.4 0.6M498.7 170.0l-1.4 0.4-1.5 0.3M497.8 180.6l-1.4 0.5-1.4 0.6M497.8 180.6l1.2 0.9 1.2 0.9M497.3 187.0l-1.5-0.1M497.3 187.0l-0.1 1.5M420.5 89.5l-1.5 0.0-1.5-0.1-1.5 0.1M420.5 89.5l1.5 0.0 1.5 0.0 1.5 0.1 1.5 0.3 1.5 0.2M497.5 129.6l-0.5-1.4" stroke="#4a80b8" stroke-width="0.8" stroke-opacity="0.8"/>
<path d="M497.6 61.1l-1.2 0.3M495.0 66.5l-1.1 0.3M486.9 55.8l-1.2-0.2M484.7 58.7l-1.1-0.3M484.7 58.7l0.0-1.2M485.4 62.9l-0.9 0.7M477.4 64.3l-1.1 0.4M478.3 58.2l0.3-1.2 0.2-1.2 0.0-1.2-0.1-1.2M478.3 58.2l-1.1-0.6M476.2 54.2l-1.1-0.5M476.2 54.2l0.2-1.2M474.1 57.3l0.2-1.1M474.1 57.3l-1.1-0.5-1.0-0.6M467.1 64.6l0.8 0.9 0.8 0.9M467.1 64.6l-0.8 0.8M467.8 67.5l-0.6 1.0-0.7 1.0M465.6 58.8l-1.2-0.2M461.5 65.5l0.9 0.9M460.9 67.7l-0.9 0.8M454.6 70.8l0.8 0.9M451.6 63.6l-1.2-0.3M452.7 63.9l0.2-1.2M447.6 67.9l-1.2-0.4M445.7 65.5l-1.0-0.6M445.7 65.5l0.2-1.2M444.2 62.9l0.3-1.1M444.2 62.9l-1.2-0.3M448.6 70.5l1.1 0.6M442.6 66.9l1.1-0.4M442.6 66.9l-0.5-1.0M434.6 63.5l0.6-1.1M432.8 71.0l0.0 1.2M425.6 66.6l-0.8 0.8M424.1 70.8l0.3 1.1 0.3 1.2M423.1 71.4l-1.0 0.6M418.4 61.8l0.3-1.2M420.9 67.7l0.0 1.2M414.6 72.0l0.7 1.0M414.6 72.0l-0.7 0.9M415.0 75.0l1.0 0.6M411.3 74.5l-0.7 1.0M411.3 74.5l0.9 0.8M463.9 55.5l-0.3 1.1M463.9 55.5l-1.1-0.5-1.1-0.4-1.1-0.3M466.3 53.8l1.2-0.4 1.1-0.4 1.1-0.5M464.7 47.8l1.1 0.1 1.2 0.1M468.2 47.9l1.2 0.0M469.0 44.5l0.3-1.1M461.9 48.0l-1.1 0.4M464.3 43.8l1.1 0.4M464.3 43.8l0.6-1.1 0.6-1.0 0.6-1.0 0.9-0.9M463.5 38.9l0.5-1.1 0.4-1.2M466.0 37.2l0.3-1.1M466.0 37.2l1.2 0.4M459.9 40.4l-1.0 0.7-0.9 0.8M460.8 39.5l-0.7-0.9M465.1 29.7l1.2 0.2M463.0 20.7l1.2 0.2M463.0 20.7l0.4-1.1M455.1 22.5l-0.9 0.8M456.9 17.7l-1.0-0.6M461.0 16.2l1.2 0.3M461.0 16.2l0.5-1.1M456.1 10.9l-1.1 0.5M457.9 49.9l-1.2-0.2M448.4 48.5l-0.6 1.0M451.4 39.2l-0.1-1.2 0.0-1.2M446.2 43.7l-1.1 0.2M447.4 43.7l-0.1 1.2M442.5 39.1l-1.2 0.0M445.6 36.7l1.1-0.3M447.2 34.2l1.2-0.2M447.2 34.2l-0.2-1.2M440.6 33.0l1.1-0.5M451.0 72.7l0.8 0.9 0.8 0.9 0.8 0.9M446.6 72.2l-0.9 0.8M446.5 77.8l-1.0 0.8M448.1 85.6l0.4 1.1M447.6 84.5l1.2-0.3 1.1-0.4M452.7 86.6l1.2-0.1M444.8 83.9l-1.0-0.6M440.3 84.5l-0.8 0.9M441.4 91.5l-0.7 0.9M442.2 90.5l-1.0-0.7M438.3 90.1l-0.9-0.9M439.2 90.9l-0.8 0.9M445.9 91.4l1.2-0.2M440.3 97.4l-0.5 1.0M440.9 101.8l1.1 0.6M438.9 95.0l-1.2 0.2M433.8 98.0l0.2-1.2 0.1-1.2 0.0-1.2M433.8 98.0l-1.2-0.1M430.9 105.7l-0.5 1.1-0.5 1.1M430.9 105.7l1.1 0.6M420.8 104.8l0.0-1.2M418.4 104.1l-0.2-1.2M423.1 110.5l-0.5 1.2M444.2 65.8l0.1-1.2M444.2 65.8l1.2 0.2M441.5 66.6l-1.1 0.4M439.9 61.3l-0.5 1.1M442.8 60.4l0.7-1.0 0.9-0.8M442.8 60.4l1.1 0.3M441.1 54.5l0.6-1.0 0.6-1.1 0.6-1.0M441.1 54.5l1.1 0.4M437.3 55.7l-0.9 0.8-0.7 0.9M435.3 54.4l-1.1 0.6M438.2 49.3l0.5-1.1 0.8-1.0M426.8 57.4l0.6-1.0M426.8 57.4l1.1 0.6M420.4 57.9l-1.2 0.3M424.4 51.1l-1.2 0.2M422.0 51.4l-1.2-0.1M424.4 51.1l-0.4-1.1M427.1 52.2l1.1-0.6 0.9-0.8M430.1 46.1l1.1-0.4M428.9 46.4l0.8 0.9M426.2 45.1l-0.6-1.0M426.2 45.1l-1.2 0.2M498.3 57.5l-1.0-0.6M500.9 56.2l-0.1-1.2M500.9 56.2l1.2-0.1M500.2 45.3l0.2-1.2M502.1 44.2l1.2 0.1M502.1 44.2l-0.3-1.2M496.4 48.5l-0.9 0.7M498.5 41.7l0.9 0.7M499.8 39.7l0.8-0.9M500.0 35.2l0.9-0.8M500.0 35.2l0.9 0.8M504.5 35.2l1.1-0.5 1.0-0.7M495.5 35.1l-0.8 0.9M495.6 30.4l-0.9 0.9M492.7 29.6l-0.4-1.1-0.6-1.1M492.7 29.6l-1.1 0.5-1.2 0.3M500.5 29.1l0.4-1.1M501.1 25.3l0.9 0.8 0.9 0.7M502.8 23.6l0.8-0.8M496.5 22.9l-0.4-1.2-0.2-1.1-0.2-1.2M492.9 21.9l-0.5-1.1M492.9 21.9l-1.2 0.3-1.1 0.3M500.8 18.4l-1.2-0.3-1.0-0.6M493.1 56.6l-0.6 1.0M496.1 53.8l-0.4-1.1M492.3 50.0l1.1-0.4M492.3 50.0l0.0-1.2M485.4 47.4l-1.2-0.2M485.4 47.4l-0.9 0.8M484.8 41.2l0.2-1.2M484.8 41.2l1.2 0.1M480.5 41.6l-1.0 0.6M481.0 35.3l-1.0 0.6-1.1 0.5M484.0 34.8l1.1 0.5M484.0 34.8l0.5-1.1 0.5-1.1 0.5-1.1M483.0 28.2l1.2 0.2 1.2 0.1M483.0 28.2l0.7-1.0M480.1 28.9l-1.1-0.4M481.5 23.4l-0.1-1.2-0.1-1.2M486.8 18.1l0.9 0.7M478.8 73.8l-1.1-0.5-1.0-0.7-1.0-0.6M483.0 73.3l0.8 0.9M478.9 79.9l-0.1 1.2M480.4 81.2l-0.1 1.2M480.4 81.2l1.2 0.2M476.5 76.8l-0.5-1.1M476.5 76.8l-1.1 0.5M469.6 81.2l-0.7-0.9-0.9-0.8M473.4 85.2l1.0 0.5M468.7 89.9l-0.4 1.2M468.7 89.9l1.0 0.7M469.8 92.7l1.1 0.5 1.1 0.5M469.8 92.7l-0.5 1.1M466.7 86.1l-1.2-0.2M464.8 89.0l-1.1-0.3M482.7 77.5l0.2 1.2M486.0 82.9l-1.2 0.1M491.9 88.0l0.4-1.1M489.5 89.4l-1.1 0.5M493.3 93.9l-0.4 1.1M502.9 56.2l0.5-1.1M509.9 56.1l-0.3 1.1M519.0 57.7l1.1 0.3M517.8 57.2l-0.5 1.1M513.5 48.5l-0.8-1.0M520.6 48.1l0.7-1.0 0.7-1.0 0.8-0.8M521.5 54.1l-0.6 1.0M522.7 52.0l1.2 0.3 1.1 0.3 1.2 0.4M527.6 44.4l-0.5-1.1M534.4 41.9l-0.8-0.9-0.7-1.0-0.7-1.0M537.0 46.8l-0.1 1.1M536.7 49.1l-0.1 1.2M537.0 46.8l1.2 0.2M541.7 43.7l-0.2 1.2M540.2 39.5l-1.2-0.4M547.5 38.8l0.8-0.9M548.1 34.3l-0.5-1.0M550.2 45.5l1.0 0.6 0.9 0.8M550.2 45.5l-0.3 1.1M553.6 40.7l-0.3 1.2-0.4 1.1M552.6 35.3l-1.0-0.7M552.6 35.3l0.6-1.1M554.3 32.7l-0.8-0.9-0.8-0.9M558.6 31.1l0.6-1.0M557.2 33.0l0.9 0.9 0.8 0.9M557.4 28.0l1.2 0.4M557.4 28.0l0.7-1.0M558.6 26.0l0.6-1.1 0.6-1.0M560.0 26.6l0.4-1.2M560.0 26.6l1.2 0.1M562.7 25.1l1.1 0.3 1.1 0.4M555.1 21.8l-0.8-1.0-0.7-0.9M555.1 21.8l-1.1 0.5-1.2 0.4-1.1 0.3M552.1 21.2l-0.8-0.9-0.8-0.9M557.9 21.3l1.1 0.4M557.9 21.3l0.3-1.2M557.3 15.5l0.9 0.7M557.3 15.5l0.8-0.9M561.5 13.9l1.2 0.3 1.1 0.3M552.8 15.9l-0.5 1.1M540.6 39.5l0.1-1.2M540.6 39.5l1.2 0.2M536.9 33.8l0.7-1.0M533.9 36.4l-0.7 1.0M533.9 36.4l-1.2-0.5M529.1 29.7l-0.7 1.0M529.8 28.8l-1.0-0.6M527.0 29.8l-1.0-0.6M532.5 25.6l1.0-0.7M532.1 20.9l1.1 0.4 1.2 0.5 1.1 0.4M532.1 20.9l0.5-1.1 0.5-1.1M526.9 21.9l-1.2 0.4-1.0 0.6M528.0 21.5l-0.7-1.0M526.5 15.3l-0.5-1.1M526.5 15.3l-0.8 0.9-0.7 0.9-0.7 1.0M530.3 14.5l1.2 0.2M527.2 12.5l0.5-1.1 0.5-1.0M527.2 12.5l-0.8-0.9M524.3 41.0l1.2 0.3M524.3 41.0l0.0-1.2M520.3 35.6l-1.1 0.5M516.2 35.1l-1.2 0.2M522.6 27.8l1.2 0.1M517.4 29.2l-0.7-0.9-1.0-0.8M517.4 29.2l-1.1 0.6-0.8 0.8M515.1 22.9l-0.9-0.8M519.7 16.2l1.2-0.4 1.1-0.4M518.5 16.4l-0.2-1.2M511.5 17.3l-0.8-0.9M515.8 13.2l-1.0-0.8-0.8-0.9M516.7 13.9l0.5-1.1 0.4-1.1M539.5 36.8l-1.2 0.3M539.5 36.8l-0.6-1.1M544.7 36.1l0.8-0.9M545.9 29.5l1.2-0.2M548.2 29.0l1.2-0.4M544.8 29.9l0.8 0.9M541.7 27.5l-0.6-1.0-0.8-0.9M542.2 28.6l-1.2 0.1-1.2 0.2-1.1 0.3M538.5 26.0l-1.2 0.2M538.5 26.0l-0.2-1.1M543.1 20.5l-1.2 0.0-1.2 0.0M543.1 20.5l-0.2-1.2M547.2 22.2l0.7 1.0 0.8 0.8M543.5 14.5l1.2-0.1M543.5 14.5l-0.4-1.1M537.0 12.9l-1.2 0.2-1.2 0.2M537.0 12.9l-0.4 1.1M539.2 10.9l-0.2-1.2M559.3 43.4l0.9 0.8M559.3 43.4l0.5-1.1M560.2 41.2l0.6-1.1M562.3 42.7l0.6-1.0M562.3 42.7l1.0 0.6M565.2 42.2l0.5-1.1 0.6-1.0M556.6 44.5l-1.1-0.5M557.9 51.6l-0.1 1.2 0.0 1.1 0.0 1.2M557.9 51.6l-1.2-0.1M554.2 54.2l-0.1 1.2M565.8 50.0l-0.5-1.1M565.8 50.0l0.7-1.0 0.8-0.9 0.8-0.9M572.8 52.3l-0.8 0.9M572.8 52.3l1.1 0.4M572.4 49.4l1.0-0.6M572.4 49.4l-0.7-0.9M581.3 50.0l0.1 1.2-0.1 1.2M581.3 50.0l1.2 0.1M585.9 51.7l1.1-0.3M583.5 52.1l0.0 1.2 0.2 1.1M588.1 49.4l1.2-0.1 1.2-0.3M588.1 49.4l0.3 1.2M591.2 45.8l1.1 0.6M591.2 45.8l0.5-1.1M575.5 46.1l0.6-1.0 0.4-1.1M575.5 46.1l1.1 0.6M579.6 44.2l0.2-1.2M582.1 42.6l1.2 0.0M572.6 46.5l-1.0-0.7M572.6 46.5l-0.9 0.8M574.9 39.6l0.2-1.2M576.8 31.1l0.9-0.8M576.0 31.9l1.0 0.7 0.9 0.7 1.0 0.8M571.6 31.7l-0.8-0.9M571.0 26.0l-0.8 0.9-0.8 0.8-1.0 0.8-0.8 0.9M571.0 26.0l-0.9-0.7M575.2 24.8l1.2 0.3M571.7 19.1l-0.8-1.0M559.7 56.5l-0.3 1.2M558.9 58.8l-0.5 1.0M559.7 56.5l-1.1-0.5M562.6 56.0l0.6 1.0M562.6 56.0l1.0-0.7 0.9-0.7M563.9 62.7l1.1-0.6M563.9 62.7l0.5 1.1 0.8 0.9M557.1 62.5l-1.1-0.6M558.2 62.9l-0.7 1.0-0.7 1.0-0.7 1.0M573.5 53.8l0.0 1.2M574.4 60.3l-1.2-0.1-1.2 0.0-1.2 0.0-1.2 0.1M574.4 60.3l-0.5 1.1M571.9 62.0l-0.4 1.1-0.5 1.1M571.9 62.0l-1.2-0.2M577.2 59.5l1.0-0.6M580.1 60.0l0.5 1.1 0.7 1.0M583.0 60.8l1.0-0.8M583.0 60.8l0.5 1.1M579.6 65.8l0.7-0.9M579.6 65.8l0.8 0.9 0.8 0.9 0.6 1.0M575.0 73.3l-1.1-0.5-1.1-0.4M574.2 74.2l-0.7 1.0-0.8 0.9M572.0 73.8l-0.3 1.1M572.0 73.8l-1.0-0.7M580.9 72.7l0.9 0.8M585.3 71.5l0.3-1.1 0.5-1.1M585.3 71.5l1.0 0.5M581.5 75.5l0.9-0.7M581.5 75.5l-0.7-1.0M580.9 79.4l-0.7 0.9-0.6 1.1M581.5 78.3l0.9 0.8M583.9 81.2l1.2 0.0 1.2-0.4M588.0 77.6l-0.6 1.0M588.0 77.6l0.9 0.7 1.1 0.6 1.0 0.6 1.1 0.5M587.5 74.6l-0.9-0.8M587.5 74.6l0.7-0.9M594.8 73.9l1.0-0.7M594.8 73.9l-0.2-1.2M595.6 71.0l-0.7-1.0M595.6 71.0l1.0-0.5M594.9 76.6l1.1 0.5M594.9 76.6l-0.2 1.2M599.1 74.3l0.0 1.2-0.1 1.2M599.1 74.3l1.2-0.3M597.0 72.3l0.3-1.2M597.0 72.3l-1.2 0.0M601.9 69.5l0.1-1.2 0.0-1.2M503.8 61.5l-0.6 1.1M510.0 59.4l1.1-0.4M510.0 59.4l-0.6-1.0M516.4 60.3l1.1-0.5M515.9 63.2l-0.7 0.9M516.2 66.2l0.9 0.8M520.4 65.2l0.7 1.0 0.7 1.0M520.4 65.2l-0.6 1.0M527.3 61.3l1.1-0.4M526.3 61.9l-0.5-1.1M526.2 64.9l-0.5 1.0M530.9 64.9l0.4 1.1 0.6 1.1M530.9 64.9l0.9-0.7 0.9-0.8M498.4 63.1l-1.1 0.2M502.1 60.8l0.9 0.8M505.7 65.0l1.2 0.2M503.3 66.7l-1.2-0.2M510.8 72.1l1.1 0.4M510.8 72.1l-0.4 1.1M512.3 76.3l1.0 0.6M510.7 69.2l-0.6-1.0-0.7-0.9-0.7-1.0M510.7 69.2l0.9-0.7M517.5 68.3l-0.6-1.0M517.5 68.3l1.1-0.5M516.4 72.6l-0.9 0.8-0.8 0.8M516.4 72.6l0.7 1.0 0.7 1.0 0.4 1.1M522.9 74.6l1.0 0.7M522.9 74.6l-0.7 0.9-0.8 0.9-0.8 0.9M523.4 77.5l-1.0 0.8M523.4 77.5l0.8 0.9M523.3 70.3l0.2-1.2M528.9 70.5l-0.7-0.9M529.6 73.3l1.2 0.1M529.6 73.3l-0.2 1.2M537.8 69.6l1.1-0.5 1.1-0.4M536.7 70.0l-0.2-1.2M539.3 65.1l0.0-1.2M542.1 72.2l0.0-1.2 0.0-1.2M540.2 75.7l-0.7 1.0-0.7 1.0M547.0 76.3l-0.8 0.9-0.8 0.9-0.8 0.9-0.9 0.8M548.1 73.7l1.2 0.1M548.2 72.5l0.0-1.2M554.9 73.9l0.1-1.2 0.3-1.2M554.9 73.9l1.2 0.0M553.6 77.7l0.9 0.8M553.6 77.7l-0.8 0.9-0.9 0.8-0.9 0.8M558.8 79.3l-0.9 0.7-1.0 0.7-1.0 0.7M560.9 76.1l1.2-0.3M562.5 78.7l1.0-0.8 0.8-0.8 1.1-0.6M499.0 65.0l-1.1-0.3M499.0 65.0l-0.2 1.1M502.0 72.6l-1.2 0.1M511.3 75.1l0.9-0.9M507.3 76.8l-1.1 0.4-1.2 0.3-1.1 0.4M507.3 76.8l0.1 1.2M507.1 82.1l-1.1-0.6M508.0 82.8l-0.4 1.1-0.3 1.2M513.1 82.4l1.0 0.7M516.8 81.3l0.6-1.0M513.4 88.3l1.1-0.5 1.1-0.3M510.5 88.9l-0.1 1.2M510.5 88.9l-1.1-0.4-1.2-0.2M507.1 88.0l-1.2-0.2M520.0 101.2l-0.3 1.1M520.0 101.2l-1.2 0.2M523.8 102.6l1.2-0.2M523.8 102.6l-0.2 1.2M523.8 95.4l1.2 0.1M523.8 95.4l-0.1 1.2M523.4 92.7l1.0-0.6 0.9-0.7M524.4 88.4l-0.7-1.0M524.4 88.4l1.1-0.6M532.1 90.6l0.1-1.2M532.1 90.6l1.0-0.7M531.8 94.7l-0.5 1.0M531.8 94.7l1.2 0.0M538.2 95.5l-0.3 1.2M538.2 95.5l1.2 0.4M536.8 90.2l-0.4-1.1M538.2 90.6l0.9-0.8 0.9-0.8M543.9 90.4l-0.5-1.0M545.8 87.0l1.2-0.5M543.8 93.3l-0.2 1.2M543.8 93.3l1.1 0.5M550.4 92.2l1.0 0.7M550.4 92.2l-0.6 1.1M550.9 95.2l-0.9 0.8M550.9 95.2l1.0 0.6M550.3 89.3l1.0-0.7 0.9-0.7M553.1 87.1l0.9-0.8M558.2 89.6l0.9-0.9M558.2 89.6l0.8 1.0M460.3 116.9l-0.3 1.2-0.1 1.2M460.5 115.7l1.2 0.1 1.2 0.1M459.8 111.5l-0.8-0.9-0.9-0.8-0.8-0.9M460.6 105.5l-0.8-0.9M464.8 110.3l-0.9-0.8M465.9 113.1l1.0 0.6 0.9 0.7 1.0 0.7 1.0 0.7M475.6 112.5l0.1 1.2 0.1 1.2M475.6 112.5l1.1-0.3M470.9 105.1l1.0-0.8M470.2 106.0l-1.0-0.7M468.6 102.4l-1.0-0.7M478.2 102.7l0.7-1.0M479.0 106.3l0.0 1.2-0.1 1.2M483.5 99.5l0.4-1.2M487.4 96.3l-1.2-0.1M485.0 95.9l-1.1-0.3M487.4 96.3l0.1-1.2 0.0-1.2M489.9 100.0l-0.1 1.2M489.8 102.4l-0.1 1.2-0.2 1.2M489.9 100.0l1.2 0.0M496.5 94.3l1.0-0.7M503.6 90.6l-1.0-0.6M510.0 91.8l0.5-1.1M510.0 91.8l0.9 0.8M499.9 96.6l-0.8-0.9M500.5 102.3l-0.4 1.2M500.5 102.3l1.1 0.5M501.7 105.0l1.2 0.4 1.1 0.5M506.1 101.5l1.2 0.5M507.5 105.8l1.1 0.5M507.5 105.8l-0.8 0.9M506.0 97.1l-0.7-0.9M512.9 99.4l1.2-0.2M512.9 99.4l0.0-1.2M513.2 103.0l0.8 0.9M512.3 102.1l-0.5 1.1M521.4 98.5l1.0-0.6M521.4 98.5l-0.6-1.0M529.5 102.2l-0.1 1.1-0.3 1.2M529.5 102.2l1.0 0.7 1.0 0.6M535.8 101.3l-0.1 1.2M537.4 103.9l-0.2 1.2M541.8 97.9l1.1-0.6M541.8 97.9l-0.6-1.1M542.1 100.5l-0.2 1.1M548.0 99.8l1.1 0.2M548.0 99.8l-0.2 1.2-0.4 1.2-0.3 1.1M553.5 94.7l-1.0-0.7M553.5 94.7l1.0-0.7M554.5 98.9l1.1 0.1 1.2 0.4M554.6 100.1l0.2 1.1 0.2 1.2M562.4 100.5l1.1 0.5M562.4 100.5l0.1 1.2M559.9 94.3l-0.1-1.2M561.2 96.8l1.0-0.7 1.0-0.7M521.3 108.1l-1.2 0.3M521.3 108.1l0.1 1.2M527.9 112.4l0.6-1.0M528.6 113.4l0.8 0.9M525.1 121.5l0.8 0.9M518.9 119.5l-1.0-0.7M521.2 126.9l-0.8-0.8M518.2 127.0l-0.9 0.8M518.2 127.0l-1.0-0.6M525.7 127.3l1.0-0.6M525.7 127.3l0.9 0.8M521.9 134.8l-0.4 1.2M518.4 132.6l-0.8 0.8M518.4 132.6l-0.9-0.8M515.4 132.8l-0.9-0.7-0.9-0.8M515.4 132.8l-0.7 0.9M516.7 138.9l0.4 1.1M510.8 109.9l0.8-0.9 0.8-0.9 0.9-0.8M510.8 109.9l-1.0-0.7M512.3 115.6l-0.6 1.1M517.5 115.4l0.8 0.9M517.5 115.4l-0.8 0.8M517.3 109.4l0.9-0.8M526.0 114.6l-0.5 1.1M533.2 113.5l1.2 0.1M533.2 113.5l0.1 1.2-0.1 1.2M534.9 116.0l-0.4 1.2M534.9 116.0l1.1 0.5M536.7 118.4l1.2 0.0M536.7 118.4l-0.2 1.2-0.3 1.1M530.8 108.2l0.8-0.9M538.0 107.7l1.0-0.7M538.0 112.0l1.2 0.4 1.1 0.4M538.0 112.0l-0.2 1.2M545.6 112.3l1.2 0.2M547.7 114.5l-0.1 1.2 0.1 1.2M544.0 107.1l-0.8-0.9-0.9-0.8M558.3 111.8l0.9 0.8M555.7 111.5l-0.7 0.9-0.6 1.1M557.2 113.3l0.8 0.9M556.3 107.6l1.1-0.5M556.3 107.6l-0.7-1.0M565.0 108.1l0.9-0.8 1.0-0.6 1.0-0.7M566.0 108.8l0.9 0.8M519.7 125.7l0.9 0.8M526.1 125.2l1.0 0.7M526.6 121.0l-0.4-1.2M526.6 121.0l1.2-0.3M531.7 121.9l-0.9-0.8-0.8-0.9M532.4 124.8l-0.4 1.1M531.8 127.1l-0.3 1.2M532.4 124.8l1.0 0.7 0.9 0.7 0.9 0.8M534.3 128.9l1.1 0.5M540.9 125.8l-0.6 1.0-0.6 1.1M541.6 128.7l-0.7 0.9-0.8 1.0M541.6 128.7l1.0 0.7M540.2 121.4l0.7-0.9M548.3 120.9l0.5-1.1 0.5-1.0M548.2 123.9l-0.8 0.9-0.8 0.9M548.9 124.9l0.7 1.0 0.7 0.9M548.1 126.9l0.7 1.0M549.7 122.3l0.7-1.0M466.3 147.4l-0.5 1.1-0.6 1.0-0.6 1.0M466.3 147.4l-1.2-0.2M467.9 145.1l0.9-0.8M463.8 140.2l1.2-0.3 1.2-0.3M463.8 140.2l0.1-1.2-0.2-1.2-0.1-1.2M460.9 143.5l-0.3 1.2M460.9 143.5l-1.2 0.1M455.4 139.3l-1.2-0.4M455.4 139.3l-0.4 1.1-0.3 1.2M451.1 140.8l-0.6 1.0-0.8 1.0M451.1 140.8l-1.1-0.3M457.5 137.5l-0.5-1.1M457.5 137.5l1.2-0.4 1.1-0.4 1.0-0.6M453.3 132.2l-0.3-1.2-0.2-1.2-0.3-1.1M453.3 132.2l1.2-0.2M450.3 135.3l-0.3 1.2-0.3 1.1M450.3 135.3l-1.2-0.3M442.3 132.0l-1.2-0.1M444.7 131.9l-0.2 1.2-0.1 1.2 0.0 1.2M447.5 128.7l1.0-0.6M447.5 128.7l-0.4-1.2M441.7 125.0l-1.2 0.2-1.2 0.3M467.3 143.4l-0.8-0.9M467.3 143.4l-1.1 0.5M470.1 143.0l1.2 0.2 1.2 0.1M470.1 143.0l0.4-1.1M469.0 134.6l0.0-1.2M469.0 134.6l1.1 0.2 1.2 0.2 1.2 0.1 1.2 0.2M465.0 134.4l-0.8-0.9M466.9 127.8l1.0-0.6 1.2-0.4 1.0-0.6M466.9 127.8l-0.8-0.9M465.7 124.1l-1.1-0.5M466.7 124.8l0.7-1.0 0.6-1.0M457.6 151.2l-1.1 0.2M457.3 150.0l-0.2-1.1-0.1-1.2M454.0 158.1l1.1 0.5 1.1 0.6M454.0 158.1l-0.7 1.0M455.2 162.5l-0.8 0.8-0.8 0.9M455.2 162.5l1.1 0.5 1.0 0.7M452.2 154.3l-0.2-1.2-0.4-1.2-0.3-1.1M452.2 154.3l-1.1 0.2M446.9 157.2l-1.1 0.1M444.8 155.1l-1.1 0.2M444.8 155.1l-0.1-1.2 0.0-1.2M443.4 158.2l-0.4 1.2M445.3 156.2l-0.4-1.2M445.3 156.2l1.0-0.7M440.6 148.1l1.1-0.3 1.2-0.3M437.8 151.5l-1.2 0.1-1.2 0.1-1.2 0.0M437.8 151.5l-0.3 1.2M432.5 147.6l-1.2 0.1M432.5 147.6l0.1 1.2M430.6 149.9l0.1 1.2 0.3 1.1M430.6 149.9l-1.2 0.3M436.9 143.5l1.2-0.2 1.2-0.1 1.2 0.0M436.9 143.5l0.4-1.2M432.8 138.0l1.2-0.1M432.8 138.0l-0.2-1.2M429.1 140.4l-1.0-0.7-0.8-0.8M429.1 140.4l-0.6 1.1-0.4 1.1-0.3 1.2M449.8 162.0l0.4-1.1 0.3-1.2M449.8 162.0l1.2 0.3M447.6 164.0l-1.0 0.5M450.0 170.3l0.0 1.2 0.0 1.2M450.0 170.3l-1.0 0.5M446.6 173.1l-1.1-0.4-1.1-0.4M446.6 173.1l-0.4 1.2M457.0 172.9l1.0 0.5M457.0 172.9l0.7-1.0 0.7-0.9M454.9 174.6l0.2 1.2M454.9 174.6l-1.0 0.6-1.0 0.7M458.8 179.8l-1.1 0.4-1.1 0.5M458.8 179.8l0.5 1.1M461.3 176.2l0.3-1.2 0.4-1.1M461.3 176.2l1.1 0.5M468.7 180.1l1.2 0.3M467.5 180.0l0.8-0.9 0.8-1.0M464.1 182.3l0.4 1.2 0.3 1.1M468.9 186.2l0.6 1.1M468.9 186.2l-1.1 0.6M470.7 184.2l0.3-1.1M471.4 186.9l1.2 0.0M471.4 151.4l0.7 0.9 0.8 0.9 0.8 0.9M471.4 151.4l-1.0 0.7-1.0 0.6M471.5 154.4l-0.9 0.7-1.0 0.7M472.3 155.3l0.6 1.0M472.3 147.4l0.1-1.2M472.3 147.4l1.2-0.1M478.1 149.1l1.2 0.3M478.1 149.1l0.3-1.1 0.1-1.2M476.9 151.6l-1.1 0.5M476.9 151.6l0.8 0.8M483.0 153.3l-0.5 1.1M483.0 153.3l1.0 0.6M485.0 154.5l1.0 0.8M483.3 150.4l-0.6-1.0M483.3 150.4l1.1-0.5 1.0-0.6M491.4 153.0l0.1-1.2M490.3 155.6l0.7 1.0M488.3 158.9l-1.1 0.3M497.0 154.5l-0.4 1.1M497.0 154.5l1.2 0.4M502.4 148.2l-1.0-0.6M503.5 148.7l0.5-1.1 0.6-1.0M502.0 146.2l0.4-1.2 0.4-1.1M502.0 146.2l-1.2-0.2M505.7 152.6l1.2 0.2 1.2 0.0M505.4 153.8l-0.4 1.1M512.2 149.0l1.2 0.0M511.4 147.3l1.1 0.5M494.5 159.0l0.8 1.0M494.5 159.0l1.2-0.2M497.4 166.1l1.1 0.5M493.2 167.4l-0.5 1.1M493.2 167.4l-1.2-0.3M495.1 175.6l0.3 1.2M495.1 175.6l-1.1-0.3M497.8 175.1l1.0-0.7M497.8 175.1l0.7 1.0M500.8 180.2l1.1 0.5 1.1 0.4M500.8 180.2l0.5-1.1M499.7 188.5l1.1 0.5 1.2 0.4 1.1 0.3M496.3 149.6l1.1 0.4M496.3 149.6l0.4-1.1M491.2 148.6l-1.2 0.2-1.2 0.2-1.2 0.1M493.5 144.1l-0.6-1.1M496.4 144.6l1.1-0.5 1.2-0.4M496.4 144.6l1.0 0.8M499.4 137.5l1.0 0.6M495.1 137.7l-0.4-1.2M501.8 136.9l-0.5 1.1M509.0 137.1l-0.4 1.1M509.0 137.1l1.1 0.6M508.5 131.4l1.0-0.7 1.0-0.6M477.1 154.5l-0.8 0.8M477.1 154.5l-1.0-0.6M477.1 160.5l-0.8 1.0-0.7 0.9-0.8 0.9M477.1 160.5l-0.9-0.8M482.7 163.5l0.6 1.1M481.4 161.5l1.1-0.5 0.9-0.7M481.5 169.6l1.0-0.7 1.0-0.6 1.1-0.5M481.5 169.6l0.6 1.0 0.7 1.0 0.7 1.0M476.3 168.7l-0.9-0.9M477.2 169.4l-0.7 1.0-0.8 0.9M478.7 172.4l-0.9 0.8-0.8 0.9-0.8 0.9M496.5 134.0l0.6 1.0M495.4 134.4l-1.1 0.5M498.0 131.6l0.2-1.2M505.1 135.0l-0.3-1.2-0.3-1.1M505.1 135.0l1.1-0.5M504.2 137.7l-1.0 0.7M504.2 137.7l0.7 1.0M509.3 140.4l0.2 1.2 0.1 1.2M509.3 140.4l-1.0 0.5M510.7 137.8l1.2-0.3M518.1 140.3l1.2 0.1M518.3 148.3l-1.0 0.7M518.3 148.3l0.5 1.1M520.1 146.0l0.0-1.2M526.2 151.7l0.2-1.2M525.8 152.8l1.0 0.6M523.3 154.2l0.2 1.2M523.3 154.2l-1.2 0.0M527.7 159.1l-1.2 0.3M531.0 156.4l1.0 0.7M531.0 156.4l0.7-1.0M532.6 155.6l0.5-1.1M532.6 155.6l-0.9-0.7M534.4 157.8l1.0-0.7M534.4 157.8l0.5 1.1 0.5 1.1 0.7 1.0M537.0 150.9l-1.1-0.6M542.2 148.0l-1.0-0.6M545.2 152.6l-0.4 1.1M550.3 144.0l-0.9-0.8M550.3 144.0l0.7-0.9M557.9 140.3l0.7-1.0M557.7 137.3l-0.8-0.9M558.7 143.0l1.1 0.6 1.0 0.7M558.7 143.0l-0.3 1.2M560.3 145.6l-0.2 1.1-0.2 1.2M570.1 133.4l-1.1-0.5M570.1 133.4l0.5-1.1M569.3 130.5l0.4-1.1M574.5 129.5l-1.2-0.4M578.8 125.6l-1.2-0.2M578.8 125.6l0.3-1.2M581.1 127.3l0.3 1.2 0.5 1.1 0.3 1.1M585.7 123.3l0.6 1.0M583.4 121.5l-0.1-1.2M588.6 119.1l1.2 0.1 1.2 0.0 1.2 0.1M592.1 116.2l0.3-1.1 0.3-1.2M592.1 116.2l1.2 0.0M569.7 133.1l0.5-1.0M571.5 135.3l0.3 1.2M575.4 130.0l1.1-0.5M571.2 126.6l-0.5-1.1M579.1 125.1l1.1-0.4M584.5 120.1l0.5 1.1M582.4 112.4l-0.3-1.2M589.4 109.0l1.0-0.7M592.4 109.4l0.9-0.7 0.9-0.9 0.9-0.7M587.2 107.4l0.2-1.1M587.2 107.4l-1.2-0.1-1.2 0.0-1.2-0.1M588.3 102.0l-1.2 0.3M569.5 139.3l-1.2 0.3M569.5 139.3l0.7 1.0M571.6 137.8l0.6-1.1M572.7 144.3l0.2 1.2M572.7 144.3l-1.2 0.4-1.2 0.2M572.4 148.3l-1.2-0.4M578.5 148.3l1.1 0.7M578.5 148.3l0.9-0.8 0.9-0.8 0.9-0.8 1.0-0.6M584.5 147.6l1.2-0.2 1.1-0.4M584.5 147.6l-0.2-1.1M572.2 136.9l1.2 0.1M572.2 136.9l0.1 1.2M570.5 132.9l0.7-1.0M570.5 132.9l-0.8-0.8M576.9 133.3l0.3-1.2M576.9 133.3l-1.0-0.7M580.8 138.3l1.0 0.7M578.0 136.1l-0.5 1.1M586.7 136.0l-0.7 1.0M592.5 130.5l-0.7-0.9M592.5 130.5l1.0-0.8 0.9-0.7M595.9 131.2l0.8-0.8M595.9 131.2l1.1 0.4M532.5 164.5l0.5 1.1M532.5 164.5l1.1-0.2M531.1 169.9l0.7 1.0 0.8 0.9M531.0 176.2l1.1-0.5 1.0-0.7M531.0 176.2l0.1 1.2M528.2 175.4l-0.7 1.1M528.2 175.4l-0.8-0.8M523.7 175.0l-1.0 0.6M524.3 183.3l-1.1 0.4M532.0 182.5l1.1-0.6M530.9 183.0l0.8 0.9M527.8 161.4l-0.9 0.8M520.7 164.1l-0.7 0.9M521.0 166.1l-0.8 0.9M521.0 166.1l0.7 1.0 0.4 1.1M520.5 169.1l-1.0 0.6M519.8 159.3l0.2-1.2 0.4-1.2M519.8 159.3l-1.2-0.4M512.5 162.9l-1.2 0.0-1.2 0.1M512.6 160.5l-0.1-1.2M510.7 160.5l-1.2-0.2-1.2-0.2M513.2 167.0l0.9 0.8 1.1 0.6M510.9 170.4l-0.2 1.2 0.0 1.2M510.9 170.4l1.1 0.5M508.7 168.5l-1.0 0.6M508.7 168.5l-0.5-1.1-0.5-1.1-0.6-1.1M508.0 172.1l0.1 1.2M549.2 150.8l-1.2-0.1M549.1 157.4l-0.6 1.1-0.3 1.1M544.7 158.6l-1.1-0.3M544.7 158.6l-0.5 1.1-0.4 1.1-0.5 1.1M551.9 157.4l1.0-0.6M556.4 163.0l1.0-0.5M550.5 170.5l-1.2-0.2M549.3 172.5l-1.2-0.3-1.1-0.3M554.2 170.1l0.7 1.0M557.0 171.2l0.7 1.0 0.5 1.1M554.1 143.4l0.7-1.0M549.1 141.3l-1.2 0.1M549.1 141.3l-0.3-1.1-0.1-1.2M550.6 135.9l-0.6-1.1M547.5 133.4l-0.5-1.1-0.6-1.0M554.5 137.2l0.8-0.9M554.5 137.2l1.0 0.7M555.4 130.2l1.2-0.4M555.4 130.2l-0.8-0.9-0.6-1.1-0.8-0.8M497.3 149.5l0.6 1.0M497.3 149.5l0.9-0.7M494.4 150.4l-0.3 1.1M494.4 150.4l-1.1-0.3M497.5 158.0l-0.5 1.1M497.5 158.0l-1.2-0.3M500.3 157.6l1.1-0.5M504.8 158.0l0.9-0.8M504.8 158.0l0.8 0.9M500.6 164.1l1.2-0.2M495.8 170.7l-1.0-0.7M495.8 170.7l-0.9 0.8M500.1 170.5l1.1-0.6 1.0-0.6 1.1-0.4M501.1 177.2l1.1-0.4M501.1 177.2l0.5 1.0M495.3 177.3l-0.5 1.1M495.0 181.7l-0.4 1.1-0.3 1.2M495.0 181.7l-1.1-0.5M499.0 181.5l0.3 1.2M499.0 181.5l1.1-0.5M499.9 188.5l0.1 1.2M494.3 186.9l-0.7 1.0M494.3 186.9l-1.0-0.7M419.0 89.5l-0.9 0.8M422.0 89.5l0.9 0.8M425.0 89.6l0.8 0.9 0.9 0.8M425.9 88.8l0.9-0.7M428.0 90.1l0.9-0.7 0.9-0.8M428.0 90.1l0.7 0.9M429.6 91.9l0.9 0.7M497.0 128.2l-1.2-0.3-1.0-0.5" stroke="#4480bd" stroke-width="0.8" stroke-opacity="0.75"/>
<path d="M498.2 62.2l0.8 0.6M496.4 61.4l-0.8-0.6M495.4 64.5l-1.0 0.0M496.9 65.0l-0.4 1.0M496.9 65.0l0.7 0.7M494.9 67.7l0.8 0.8M493.9 66.8l-0.7 0.7M493.9 66.8l-0.9-0.5M491.2 58.2l0.9-0.5M489.9 59.3l-0.8 0.6M489.9 59.3l-0.5-0.8M486.9 55.8l-0.7-0.7M488.1 54.9l0.6-0.7M483.0 57.5l-0.2-1.0M484.5 63.6l-1.0 0.0M485.5 64.1l-0.7 0.7M478.9 64.9l0.9 0.5M478.6 57.0l0.9-0.4M478.8 54.6l0.4-0.9M477.2 57.6l-0.3-1.0M477.2 57.6l-0.9 0.2M475.1 53.7l-0.2-1.0M475.1 53.7l-0.8 0.5M476.4 53.0l0.9-0.5M474.3 56.2l-0.5-0.9M473.0 56.8l-0.6-0.8M467.7 62.1l0.3 0.9M467.9 65.5l-0.1 0.9M467.2 68.5l-0.9 0.5M467.2 68.5l0.1 1.0M468.8 68.1l0.4 1.0M466.1 57.7l-0.3-1.0M463.2 67.2l1.0 0.1M461.6 68.6l-0.1 1.0M460.0 68.5l-0.2 1.0M453.7 68.5l-1.0 0.0M455.4 68.7l1.0 0.2M455.4 71.7l1.0 0.1M453.7 71.5l-1.0 0.1M452.9 62.7l0.6-0.7M447.6 66.7l-0.6-0.8M444.7 64.9l0.0-1.0M444.7 64.9l-1.0 0.2M445.9 64.3l-0.3-0.9M445.9 64.3l0.8-0.7M447.8 71.4l-0.2 1.0M447.8 71.4l-1.0 0.1M443.7 66.5l1.0 0.0M442.1 65.9l0.1-1.0M434.6 63.5l1.0 0.0M432.9 69.8l0.3 0.9 0.3 1.0M424.8 67.4l-1.0 0.0M424.8 67.4l-0.4 1.0M426.3 67.5l1.0 0.2M424.4 71.9l0.8 0.7M423.1 71.4l-0.3 1.0M418.4 61.8l0.6-0.8M418.4 61.8l-0.5-0.9M420.9 67.7l-0.5 0.8M420.9 67.7l0.7 0.7M420.8 70.0l0.6 0.9M422.1 66.6l0.5 0.9M416.2 75.2l0.8 0.6M416.2 75.2l-0.2 1.0M413.9 72.9l-0.1 1.0M414.2 75.9l-0.9 0.3M414.2 75.9l0.0 1.0M416.0 75.6l0.4 0.9M412.3 67.9l-0.9 0.5M413.7 66.7l-0.4-0.9M413.7 66.7l0.8-0.7M410.6 75.5l-1.0 0.3M412.2 75.3l0.2 0.9M462.8 55.0l-0.9 0.3M460.6 54.3l-0.9 0.5M460.6 54.3l-0.7-0.8M466.3 52.6l-0.7-0.6M469.7 52.5l0.7-0.6M464.9 46.6l0.8-0.7M465.8 47.9l0.8-0.6M465.8 47.9l0.7 0.8M468.2 47.9l1.0 0.4M470.7 45.6l0.9-0.4M469.8 46.1l0.3 0.9M469.0 44.5l0.8-0.5M461.2 47.1l-1.0-0.1M460.6 42.8l-0.2-0.9M460.2 44.2l-1.0-0.3M465.4 44.2l1.0-0.2M464.9 42.7l0.2-1.0M466.1 40.7l0.2-1.0M466.1 40.7l1.0-0.3M464.0 37.8l0.8-0.5M466.3 36.1l-0.4-0.9M467.2 37.6l0.6 0.8M459.9 40.4l-1.0-0.1M458.0 41.9l-1.0 0.1M460.1 38.6l-0.1-1.0M460.1 38.6l-1.0-0.1M465.5 32.5l0.6 0.8M465.5 32.5l1.0 0.2M466.3 29.9l0.9-0.5M460.9 21.4l0.7-0.6M464.2 20.9l0.7-0.7M457.0 23.5l-1.0-0.3M457.6 21.9l0.1-1.0M454.1 21.8l0.1-1.0M454.2 23.3l-0.4 0.9M454.2 23.3l-1.0-0.1M455.9 18.4l-0.9-0.4M455.9 18.4l-0.2 1.0M464.6 16.9l0.7 0.7M461.5 15.1l-0.2-1.0M461.2 9.2l0.7 0.7M456.7 49.7l-0.8 0.6M452.3 46.8l-0.1 1.0M452.3 46.8l-0.9 0.3M448.4 48.5l0.3 0.9M448.4 48.5l-0.8 0.6-0.7 0.8M447.8 46.8l-0.5-0.9M455.1 42.9l-0.8-0.6M456.4 43.8l0.6 0.7M456.4 43.8l0.8-0.7M451.3 38.0l0.5-0.9M451.3 38.0l-0.7-0.7M452.5 38.8l0.6-0.8M452.5 38.8l0.9 0.4M443.7 40.2l0.4 1.0M441.7 42.6l0.6 0.8M441.8 45.0l-0.2 0.9M440.7 41.8l-0.4 1.0M440.7 41.8l-1.0-0.2M445.2 35.6l0.5-1.0M444.6 33.3l-0.8-0.7M446.7 36.4l0.9 0.4M446.7 36.4l0.5-0.9M448.4 34.0l0.7 0.7M448.4 34.0l0.4-0.9M447.0 33.0l-0.9-0.4M447.0 33.0l0.8-0.7M441.7 32.5l0.7-0.7M441.7 32.5l1.0 0.3M440.5 31.8l0.5-0.9M451.8 73.6l0.8 0.5M453.4 75.4l0.0 1.0M453.4 75.4l1.0 0.0M445.7 73.0l-1.0-0.2M443.4 79.8l-0.4 0.9M443.4 79.8l-0.9-0.4M446.0 76.7l0.0-1.0M446.0 76.7l-1.0-0.3M451.5 79.7l0.8 0.5M448.1 85.6l-0.4 0.9M448.1 85.6l0.7 0.6M448.8 84.2l0.9 0.4M452.7 86.6l0.9-0.5M452.0 87.8l0.8 0.6M443.8 83.3l-1.0 0.1M443.8 83.3l-0.5-0.9M444.1 84.9l0.3 0.9M444.1 84.9l-0.9 0.4M439.5 85.4l-1.0 0.1M439.3 83.9l-0.5-0.8M441.4 91.5l-0.9 0.2M441.2 89.8l-0.3-0.9M437.3 90.2l-1.0-0.1M438.3 90.1l-0.3-1.0M445.9 91.4l0.8-0.7M448.3 91.1l0.9-0.5M439.8 98.4l0.3 1.0M440.2 102.8l0.2 1.0M438.4 93.9l-0.9-0.4M438.4 93.9l0.3-1.0M437.7 95.2l-0.8 0.6M434.0 96.8l0.6-0.8M434.0 96.8l-0.4-1.0M434.1 94.4l0.5-0.9M436.5 101.0l0.9-0.4M434.7 101.6l-1.0 0.3M430.4 106.8l0.4 1.0M420.8 104.8l0.6-0.8M420.8 104.8l-0.7-0.8M419.6 106.0l-0.7 0.7M418.2 102.9l0.5-0.8M427.0 110.4l0.6 0.8M423.1 110.5l-0.9 0.6M444.3 64.6l0.6-0.8M445.4 66.0l0.9-0.4M445.4 66.0l0.4 1.0M440.4 67.0l-1.0 0.1M439.4 62.4l0.2 1.0M439.4 62.4l-0.7 0.7M438.8 61.0l-0.6-0.8M438.8 61.0l-1.0 0.1M443.5 59.4l0.1-1.0M442.9 51.4l1.0-0.2M442.2 54.9l0.5 0.9M442.2 54.9l1.0-0.1M437.4 54.0l0.1-1.0M434.9 53.3l-1.0-0.4M434.9 53.3l0.1-1.0M434.2 55.0l-1.0-0.2M438.7 48.2l-0.4-0.9M438.7 48.2l1.0-0.3M437.1 48.6l-0.5-0.8M427.4 56.4l-0.1-1.0M427.4 56.4l1.0-0.2M421.5 57.5l-0.5 0.8M422.6 55.8l0.5-0.8M424.0 50.0l-1.0-0.3M427.8 53.1l0.9 0.4M432.3 45.3l1.0 0.3M429.7 47.3l1.0 0.1M425.0 45.3l-0.6 0.7M425.0 45.3l-0.8-0.6M497.3 56.9l-0.3-1.0M500.8 55.0l0.6-0.7M502.1 56.1l0.9 0.5M501.3 46.1l0.5-0.8M501.3 46.1l0.7 0.7M503.3 44.3l0.8-0.6M503.3 44.3l0.7 0.7M495.5 49.2l-0.5 0.9M495.5 49.2l-1.0-0.4M492.6 49.7l-1.0 0.0M492.6 49.7l0.2 1.0M493.1 41.1l-0.7 0.7M493.0 39.1l-0.8-0.5M499.4 42.4l0.3 0.9M499.4 42.4l1.0-0.3M500.9 34.4l1.0 0.1M500.9 34.4l0.3-0.9M500.9 36.0l0.2 1.0M500.9 36.0l1.0 0.1M505.6 34.7l0.9 0.4M494.7 31.3l-1.0 0.1M495.1 29.3l0.0-1.0M492.3 28.5l-0.9-0.5M491.6 30.1l-1.0-0.2M491.6 30.1l-0.2 1.0M500.5 29.1l-0.4-0.9M501.0 30.5l1.0-0.3M502.0 26.1l0.2 1.0M503.6 22.8l0.1-1.0M503.6 22.8l1.0-0.3M496.5 22.9l0.6-0.8M495.9 20.6l-0.5-0.9M495.9 20.6l0.5-0.9M492.4 20.8l-1.0-0.3M499.6 18.1l-0.9 0.3M503.7 20.8l-0.1 1.0M503.7 20.8l0.9 0.3M492.0 56.2l-0.8 0.6M492.5 57.6l0.0 1.0M495.7 52.7l0.4-0.9M495.7 52.7l-1.0-0.2M497.2 53.3l0.5-0.9M493.4 49.6l0.8 0.6M484.5 48.2l-0.2 1.0M485.0 40.0l0.5-0.9M485.0 40.0l-0.3-1.0M486.0 41.3l0.7-0.7M480.0 40.5l-1.0-0.3-1.0-0.2M479.5 42.2l-1.0-0.1M479.5 42.2l-0.6 0.9M480.5 34.3l-1.0-0.3M480.5 34.3l0.0-1.0M485.1 35.3l0.6 0.8M484.5 33.7l-0.3-1.0M484.5 33.7l0.8-0.5M485.5 31.5l0.8-0.6M484.2 28.4l0.8-0.5M484.2 28.4l0.7 0.7M486.6 28.4l0.6-0.8M483.7 27.2l0.1-1.0M483.7 27.2l1.0-0.1M479.3 29.8l0.0 1.0M479.3 29.8l-1.0 0.0M477.8 31.6l-1.0 0.1M479.0 28.5l-0.6-0.8M479.0 28.5l-1.0 0.1M477.9 23.6l-0.9-0.4M481.4 22.2l-0.7-0.8M481.4 22.2l0.7-0.8M484.7 25.7l0.0 1.0M485.2 24.0l0.7-0.7M486.8 18.1l1.0 0.2M486.8 18.1l0.3 0.9M486.5 68.1l0.8 0.5M480.4 65.7l-0.9 0.4M480.4 65.7l-0.3-0.9M477.7 73.3l-0.4-1.0M475.7 72.0l-0.6-0.8M475.4 75.9l-0.6 0.8M474.9 74.3l-1.0 0.4M483.8 74.2l0.2 1.0M478.9 79.9l-0.8 0.6-0.8 0.6M478.9 79.9l0.7 0.7M480.3 82.4l-0.6 0.8M480.3 82.4l0.5 0.9M476.0 75.7l-0.8-0.5M468.0 79.5l-0.4-1.0M469.0 82.2l-0.6-0.8M473.1 86.4l0.6 0.8M472.3 88.6l0.4 0.9M474.4 85.7l0.3 0.9M476.6 86.7l0.2 1.0M468.3 91.1l-0.9 0.5M468.3 91.1l0.3 0.9M469.7 90.6l1.0-0.2M469.3 93.8l-0.9 0.5M466.6 84.9l0.6-0.9M465.5 85.9l-1.0 0.2M486.3 76.9l0.6 0.8M482.9 78.7l-0.3 1.0M481.6 77.8l-0.8 0.6M485.8 84.1l-0.8 0.7M484.8 83.0l-0.7-0.7M484.8 83.0l-0.7 0.8M491.1 77.8l-0.7-0.7M491.0 81.9l1.0 0.0M492.3 86.9l0.9-0.6M494.4 94.4l1.0 0.3M492.9 95.0l-0.9 0.4M506.9 59.5l0.8-0.6M506.9 59.5l0.6 0.7M505.9 60.6l-0.7 0.7M501.9 55.5l-0.1-1.0M508.1 50.9l-0.9-0.6-0.8-0.5M506.4 49.1l0.2-1.0M509.2 50.7l-0.4-1.0M509.2 50.7l1.0-0.3M516.9 53.6l0.2 1.0M519.0 57.7l0.9-0.5M512.7 47.5l0.1-1.0M515.6 49.6l0.1-1.0M521.3 47.1l0.8-0.6M521.3 47.1l-0.2-1.0M522.8 45.3l0.0-1.0M522.8 45.3l1.0 0.0M522.2 53.1l0.2 1.0M522.2 53.1l-0.9 0.3M520.9 55.1l0.0 1.0M523.9 52.3l0.8 0.5M527.1 43.3l-0.8-0.5M529.0 39.2l0.8 0.5M527.3 39.0l0.2-1.0M527.3 39.0l-1.0-0.2M535.6 41.9l1.0-0.1M534.4 41.9l0.4-0.9M534.4 41.9l-1.0-0.2M532.9 40.0l-0.8-0.6M532.9 40.0l0.3-1.0M536.9 47.9l-0.9 0.6M538.2 47.0l0.7-0.7M542.9 44.0l0.4 1.0M542.9 44.0l1.0-0.2M541.5 44.9l-0.9 0.4M540.7 38.4l1.0-0.2M539.0 39.1l-0.3-1.0M546.8 37.8l-0.8-0.6M546.8 37.8l0.1-1.0M548.3 37.9l1.0 0.0M548.3 37.9l0.1-1.0M549.3 33.9l0.8 0.6M549.3 33.9l0.5-0.8M547.6 33.3l-1.0-0.1M547.8 42.8l0.4 0.9M547.2 45.1l0.1 1.0M549.1 41.9l1.0-0.2M549.9 46.6l0.4 0.9M549.9 46.6l-0.9 0.5M553.6 40.7l-0.8 0.5M552.9 43.0l0.5 0.9M552.9 43.0l-0.9 0.4M553.2 34.2l-0.4-0.9M553.2 33.3l-0.4 0.9M553.2 33.3l-1.0-0.1M553.5 31.8l-0.9-0.4M558.0 32.1l1.0 0.0M558.0 32.1l0.2-1.0M559.2 30.1l0.0-1.0M559.2 30.1l0.9-0.5M558.1 33.9l1.0 0.0M562.8 35.4l0.9-0.4M561.9 31.8l1.0-0.1M560.9 31.9l-0.1-1.0M558.6 28.4l0.5 0.8M558.6 28.4l0.9-0.5M558.1 27.0l0.9-0.4M558.1 27.0l-0.1-1.0M559.2 24.9l0.0-1.0M560.4 25.4l0.9-0.4M561.2 26.7l0.8 0.6M561.2 26.7l0.8-0.6M563.8 25.4l1.0-0.3M563.8 25.4l0.7 0.8M562.9 23.9l-0.4-0.9M562.9 23.9l1.0-0.3M553.5 28.6l-0.5 0.9M554.3 27.1l0.5-0.9M554.3 20.8l0.2-0.9M554.3 20.8l-0.9-0.3M554.0 22.3l-1.0-0.1M551.7 23.0l-0.6 0.8M551.7 23.0l-0.9-0.4M551.2 21.9l-0.4 0.9M551.3 20.3l0.3-1.0M559.0 21.7l0.4 0.9M558.2 20.1l0.8-0.6M558.2 16.2l0.2 1.0M560.0 17.9l0.1 1.0M560.0 17.9l1.0 0.0M562.7 14.2l0.7 0.8M551.9 15.1l-0.9 0.3-1.0 0.2M550.0 13.7l-0.4-0.9M552.3 17.0l-0.2 0.9M552.3 17.0l-1.0 0.2M536.1 42.6l0.2 1.0M536.1 42.6l-1.0 0.3M535.6 41.1l-0.5-0.9M535.6 41.1l-0.9 0.4M540.7 38.3l-0.3-1.0M540.7 38.3l0.9-0.6M541.8 39.7l0.6 0.8M541.8 39.7l0.8-0.6M536.9 33.8l0.0-1.0M537.7 34.9l0.8 0.5M532.7 35.9l-0.3-0.9M529.1 29.7l-0.9 0.5M529.1 29.7l0.1 1.0M528.8 28.2l-1.0 0.2M528.8 28.2l-0.4-0.9M526.4 30.8l0.1 1.0M532.2 24.4l0.5-0.8M533.5 24.9l1.0 0.1M533.2 21.3l1.0-0.1M535.5 22.2l0.4 0.9M532.6 19.8l0.0-1.0-0.1-1.0M526.9 21.9l-0.9-0.5M524.7 22.9l-1.0-0.2M524.7 22.9l-0.5 0.9M527.3 20.5l0.4-0.9M526.0 14.2l-1.0-0.2M525.7 16.2l0.0 1.0M524.3 18.1l0.0 1.0M524.3 18.1l-1.0 0.2M530.3 14.5l0.7 0.8M530.3 14.5l0.9-0.4M527.7 11.4l-0.3-0.9M526.4 11.6l-0.1-1.0M526.4 11.6l-0.9-0.5M525.5 41.3l0.9-0.4M525.5 41.3l0.8 0.6M520.9 42.4l-1.0-0.2M520.9 42.4l0.0 1.0M521.3 40.5l-0.9-0.2M518.1 32.7l-0.3-0.9M519.2 36.1l-0.2 1.0M516.2 35.1l-0.8 0.6M516.8 33.9l-1.0-0.3M523.8 27.9l0.7 0.6M522.6 26.6l-0.3-0.9M522.6 26.6l0.6-0.8M516.7 28.3l0.2-1.0M515.1 22.9l-0.1-1.0M522.2 21.3l1.0-0.4M522.7 22.9l0.7-0.7M519.7 16.2l1.0 0.2M519.7 16.2l0.5-0.9M522.0 15.4l-0.1-1.0M522.0 15.4l1.0 0.2M515.3 18.5l0.0 1.0M515.0 16.9l-1.0 0.3M515.8 13.2l-0.1-1.0M514.0 11.5l0.0-1.0M517.2 12.8l0.9-0.2M517.2 12.8l-0.6-0.8M538.3 37.1l-0.4 0.9M538.9 35.7l-0.9-0.4M545.0 37.4l0.9-0.4M544.7 36.1l1.0 0.0M545.9 29.5l0.8 0.7M548.2 29.0l0.6 0.9M545.6 30.8l0.9 0.4M545.6 30.8l0.0 1.0M541.7 27.5l0.4-0.9M541.7 27.5l-0.9-0.3M540.3 25.6l-1.0 0.2M540.3 25.6l-0.2-1.0M541.0 28.7l-0.6 0.8M538.7 29.2l-0.9-0.5M537.3 26.2l-0.7-0.8M537.3 26.2l-0.7 0.7M541.9 20.5l-0.8-0.6M547.9 23.2l0.0 1.0M548.2 21.5l0.9 0.2M538.2 18.5l-1.0 0.1M535.8 13.1l-0.8 0.6M535.8 13.1l-0.8-0.6M536.6 14.0l0.5 0.9M540.4 10.9l0.7-0.7M539.0 9.7l0.6-0.8M539.0 9.7l-0.6-0.7M560.2 44.2l0.1 1.0M559.8 42.3l0.9-0.4M560.8 40.1l0.8-0.6M562.9 41.7l1.0-0.1M562.9 41.7l-0.1-1.0M563.3 43.3l0.4 0.9M563.3 43.3l1.0-0.4M565.3 44.6l1.0-0.2M566.2 42.9l0.9-0.5M565.7 41.1l1.0 0.1M565.7 41.1l-0.2-0.9M556.5 45.7l0.6 0.7M556.5 45.7l-0.9 0.4M555.9 48.0l-1.0 0.4M555.9 48.0l0.4 0.9M555.5 44.0l-0.9 0.3M555.5 44.0l-0.5-0.8M557.8 52.8l-0.7 0.7M557.8 55.1l0.9 0.5M556.7 51.5l-0.8 0.7M553.1 54.0l-0.9 0.6M553.1 54.0l-0.8-0.7M554.1 55.4l-0.6 0.8M565.3 48.9l0.2-1.0M564.3 46.7l-0.9-0.4M568.1 47.2l-0.1-1.0M568.1 47.2l1.0-0.1M572.0 53.2l0.2 1.0M572.0 53.2l-1.0 0.0M573.9 52.7l0.9-0.3M573.4 48.8l0.7-0.8M573.4 48.8l1.0 0.1M571.7 48.5l-1.0-0.4M571.7 48.5l-0.2-1.0M581.4 51.2l-0.7 0.7M582.5 50.1l0.8-0.6M582.5 50.1l0.9 0.5M584.7 52.0l0.8 0.6M584.7 52.0l0.8-0.7M587.0 51.4l1.0 0.4M583.5 53.3l0.7 0.8M583.5 53.3l-0.4 0.8M589.3 49.3l0.8-0.7M589.3 49.3l0.8 0.6M588.4 50.6l0.9 0.4M588.4 50.6l-0.3 0.9M591.7 44.7l-0.6-0.8M576.1 45.1l0.7-0.7M576.1 45.1l-0.4-1.0M576.6 46.7l0.1 1.0M576.6 46.7l0.9-0.3M580.7 44.5l0.8 0.6M580.7 44.5l0.9-0.4M579.8 43.0l1.0-0.2M579.8 43.0l-0.4-0.9M582.5 41.4l-0.3-0.9-0.4-1.0M582.5 41.4l0.7-0.7M583.3 42.6l0.8 0.6 0.8 0.6M583.3 42.6l0.9-0.3M571.6 45.8l-1.0 0.2M571.6 45.8l-0.5-0.8M571.7 47.3l-1.0-0.1M571.7 47.3l0.0 1.0M575.1 38.4l0.8-0.5M575.1 38.4l-0.4-0.9M576.1 39.8l0.7 0.7M577.0 32.6l0.5 0.8M577.0 32.6l1.0-0.1M578.9 34.1l0.9-0.2M578.9 34.1l0.1 1.0M570.8 30.8l-0.1-1.0M570.5 32.1l-0.4 0.9M570.5 32.1l-1.0-0.2-1.0 0.0M570.2 26.9l0.2 1.0M570.2 26.9l-1.0 0.1-1.0-0.2M570.1 25.3l0.0-1.0M570.1 25.3l-1.0 0.1M576.4 25.1l0.5 0.8M559.4 57.7l0.4 0.9M559.4 57.7l-0.8 0.6M558.4 59.8l-1.0-0.1M563.2 57.0l-0.2 1.0M563.2 57.0l1.0 0.0M563.6 55.3l1.0 0.0M563.6 55.3l0.3-0.9M565.0 62.1l0.3-0.9M565.0 62.1l1.0 0.3M566.8 60.5l1.0-0.1M566.8 60.5l-0.1-1.0M564.4 63.8l1.0 0.3M557.1 62.5l-0.5-0.9M557.1 62.5l-1.0 0.0M557.5 63.9l0.2 1.0M557.5 63.9l-1.0 0.1M556.1 65.9l0.0 1.0M561.6 69.8l1.0-0.1M579.0 55.0l0.4 0.9M579.0 55.0l1.0 0.0M573.5 55.0l-0.8 0.7M572.3 53.7l-0.8 0.6M572.3 53.7l-0.7-0.7M573.2 60.2l-0.6 0.8M570.8 60.2l-0.6-0.8M570.8 60.2l-0.7 0.7M573.9 61.4l0.1 1.0M571.5 63.1l0.3 1.0M570.7 61.8l-0.7 0.7M578.2 58.9l0.9 0.3M578.2 60.1l0.9-0.5M578.2 60.1l0.7 0.8M580.6 61.1l1.0 0.1M580.6 61.1l-0.4 0.9M581.3 59.7l0.4-0.9M581.3 59.7l0.9 0.3M584.0 60.0l0.9 0.4M584.0 60.0l0.0-1.0M583.5 61.9l-0.5 0.8M583.5 61.9l0.9 0.4M580.4 66.7l1.0 0.3M581.8 68.6l0.0 1.0M581.8 68.6l1.0 0.2M573.9 72.8l-0.4-0.9M574.2 74.2l-1.0 0.3M574.2 74.2l0.0 1.0M572.7 76.1l-0.2 1.0M572.7 76.1l-1.0 0.3M571.0 73.1l-1.0-0.1M571.0 73.1l0.0-1.0M581.8 73.5l1.0 0.0M581.8 73.5l0.1 1.0M581.7 71.8l1.0-0.2M585.6 70.4l-0.4-1.0M585.6 70.4l1.0-0.4M586.3 72.0l0.5 0.9M582.4 74.8l1.0 0.0M582.4 74.8l0.1-1.0M580.8 74.5l0.1-1.0M580.9 79.4l-0.2 0.9M580.9 79.4l-1.0 0.3M579.6 81.4l-0.9 0.5M582.4 79.1l1.0-0.2M582.4 79.1l0.4 0.9M583.9 81.2l0.9 0.5M583.9 81.2l0.7-0.8M586.3 80.8l0.6-0.8M586.3 80.8l0.9 0.3M587.4 78.6l-1.0-0.1M587.4 78.6l0.1 1.0M588.9 78.3l1.0-0.3M588.9 78.3l0.2 0.9M591.0 79.5l0.1 1.0M591.0 79.5l0.9-0.3M586.6 73.8l-0.2-1.0M586.6 73.8l-1.0 0.0M595.8 73.2l0.3-0.9M594.6 72.7l-0.8-0.6M594.9 70.0l-1.0-0.3M594.9 70.0l-0.1-1.0M596.6 70.5l1.0 0.0M596.6 70.5l0.2-1.0M594.7 77.8l0.4 0.9M599.1 75.5l-0.5 0.9M600.3 74.0l0.2-0.9M597.3 71.1l0.9-0.4M597.3 71.1l-0.3-0.9M595.8 72.3l-0.9-0.5M595.8 72.3l-0.9 0.5M504.8 62.2l1.0-0.1M504.8 62.2l0.0 1.0M503.2 62.6l0.0 1.0M503.2 62.6l-1.0 0.2M510.2 63.4l1.0-0.1M511.1 59.0l1.0 0.2M509.4 58.4l0.2-1.0M509.4 58.4l-0.9-0.3M517.5 59.8l1.0 0.1M517.5 59.8l0.7-0.7M515.2 64.1l0.1 1.0M515.2 64.1l-1.0 0.0M513.4 65.7l-0.1 1.0M517.1 67.0l1.0 0.1M527.3 61.3l0.3-0.9M527.3 61.3l1.0 0.3M527.3 65.5l0.9-0.3M525.7 65.9l-1.0 0.2M525.7 65.9l0.4 0.9M531.3 66.0l-0.3 1.0M531.3 66.0l0.8 0.6M531.8 64.2l1.0 0.3M531.8 64.2l0.4-0.9M497.3 63.3l-0.5 0.9M503.0 61.6l1.0 0.2M502.9 59.9l0.0-1.0M505.9 63.8l-0.3-0.9M506.9 65.2l0.8 0.6M506.9 65.2l0.7-0.7M503.3 67.9l-0.7 0.8M502.1 66.5l-0.7-0.7M511.9 72.5l0.6 0.7M510.4 73.2l-0.6 0.8M511.6 77.3l-1.0 0.0M513.3 76.9l1.0 0.2M510.1 68.2l0.4-0.9M508.7 66.3l-1.0-0.4M511.6 68.5l1.0 0.0M511.6 68.5l0.2-1.0M516.9 67.3l0.2-1.0M518.6 67.8l0.4-0.9M518.6 67.8l1.0 0.1M515.5 73.4l-1.0 0.0M515.5 73.4l-0.2 0.9M517.1 73.6l1.0 0.3M518.2 75.7l-0.4 1.0M523.9 75.3l0.3 1.0M522.2 75.5l-1.0 0.0M522.2 75.5l0.1 1.0M520.6 77.3l-0.9 0.3M522.4 78.3l-1.0 0.0M523.5 69.1l0.6-0.9M523.5 69.1l-0.5-0.9M524.5 69.9l0.9 0.4M524.5 69.9l0.3-0.9M529.5 69.5l0.0-1.0M528.2 69.6l-1.0-0.3M530.8 73.4l0.7-0.7M530.8 73.4l0.8 0.6M529.4 74.5l0.5 0.9M536.7 74.3l0.2 0.9M536.7 74.3l0.9-0.3M535.2 75.0l0.6 0.9M535.2 75.0l-0.8 0.6M537.8 69.6l0.5-0.9M537.8 69.6l0.9 0.3M540.0 68.7l0.9 0.4M536.5 68.8l-0.8-0.6M536.5 68.8l0.3-0.9M539.3 65.1l-0.7-0.7M542.1 71.0l0.7-0.7M542.1 71.0l-0.7-0.7M543.3 72.4l0.4 0.9M540.2 75.7l-1.0 0.3M538.8 77.7l0.1 1.0M546.2 77.2l-1.0 0.0M546.2 77.2l-0.1 1.0M544.6 79.0l-0.1 1.0M547.9 77.0l0.2 1.0M547.9 77.0l1.0 0.0M549.0 71.8l0.8-0.5M555.0 72.7l-0.1-1.0M554.5 78.5l1.0-0.2M552.8 78.6l0.2 1.0M552.8 78.6l-1.0 0.3M551.0 80.2l-1.0-0.1M551.0 80.2l-0.2 1.0M559.5 80.3l1.0 0.1M561.2 82.0l0.0 1.0M561.2 82.0l1.0 0.1M557.9 80.0l-0.1 1.0M557.9 80.0l-1.0-0.1M555.9 81.4l-0.3 0.9M560.9 76.1l0.6-0.8 0.3-1.0M560.9 76.1l0.9 0.5M559.1 75.5l-1.0-0.2M559.1 75.5l0.1-1.0M563.3 79.7l-0.1 1.0M565.4 76.5l0.9-0.3M565.4 76.5l0.3-1.0M497.9 64.7l-0.6-0.8M498.8 66.1l0.4 1.0M499.6 72.7l-0.5-0.8M502.9 73.6l-0.7 0.7M512.1 76.0l0.1 1.0M506.2 77.2l-0.9-0.6M503.9 77.9l-0.9 0.5M503.9 77.9l-1.0-0.3M507.1 82.1l-1.0 0.0M505.1 80.8l-1.0 0.1M507.6 83.9l0.3 1.0M504.6 85.1l-0.9-0.3M504.6 85.1l-0.1 1.0M513.1 82.4l0.0 1.0M515.0 83.8l0.4 1.0M517.4 80.3l-0.3-0.9M517.4 80.3l1.0-0.1M514.3 89.1l1.0-0.2M510.4 90.1l-0.9 0.5M510.4 90.1l0.0 1.0M509.4 88.5l-0.6-0.7M509.4 88.5l-0.8 0.6M507.1 88.0l-0.9 0.6M507.1 88.0l-0.8-0.7M514.4 97.5l-0.5 0.9M518.6 91.4l0.8-0.6M517.8 89.9l-0.9-0.3M517.8 89.9l0.6-0.8M519.7 102.3l-0.8 0.6-0.8 0.6M519.7 102.3l0.6 0.9M518.8 101.4l-0.7-0.7M518.8 101.4l-0.8 0.7M525.0 102.4l0.9 0.5M525.0 102.4l0.7-0.7M523.6 103.8l-0.7 0.6M523.6 103.8l0.5 0.9M525.0 95.5l0.7 0.7M523.7 96.6l0.6 0.9M523.7 96.6l-0.4 1.0M524.4 92.1l0.9-0.3M526.3 90.7l1.0-0.2M522.8 91.7l-0.8-0.6M522.8 91.7l0.3-1.0M525.5 87.8l0.9 0.5M525.5 87.8l0.5-0.8M532.2 89.4l-0.7-0.7M532.5 87.0l-0.7-0.8M533.0 94.7l0.6 0.8M533.0 94.7l0.8-0.6M537.9 96.7l-0.7 0.7M539.4 95.9l0.5 0.8M538.2 90.6l0.2-1.0 0.3-1.0M544.9 89.8l0.2-1.0M544.9 89.8l1.0 0.0M544.3 86.5l0.1-1.0M543.6 94.5l-0.7 0.7M543.6 94.5l0.5 0.9M544.9 93.8l1.0-0.4M544.9 93.8l0.3 0.9M551.4 92.9l0.2 1.0M551.4 92.9l1.0 0.0M548.0 94.8l-1.0-0.1M548.0 94.8l-0.2 1.0M550.0 96.0l-0.9 0.4M551.3 88.6l0.3-0.9M551.3 88.6l0.9 0.2M553.1 87.1l1.0 0.1M553.1 87.1l-0.1-1.0M549.6 88.3l0.4-0.9M557.6 87.2l0.1-1.0M557.6 87.2l1.0 0.0M559.1 88.7l-0.1-1.0M559.0 90.6l0.9 0.3M559.0 90.6l-0.1 1.0M460.3 116.9l-0.7 0.7M459.9 119.3l-0.9 0.4M461.7 115.8l0.7-0.6M457.3 108.9l-1.0 0.2M457.3 108.9l-0.1-1.0M460.8 110.8l1.0 0.2M461.0 107.6l1.0-0.2M461.0 107.6l0.1-1.0M458.8 104.5l-0.9-0.2M463.9 109.5l-0.1-1.0M463.9 109.5l-1.0 0.0M466.9 113.7l1.0 0.1M466.9 113.7l-0.1 1.0M468.8 115.1l0.5 0.9M465.7 114.3l0.4 0.9M465.7 114.3l-0.9 0.5M472.3 111.0l-0.4 0.8M472.3 111.0l0.9 0.5M475.7 113.7l-0.4 0.9M476.7 112.2l0.5-0.9M476.7 112.2l1.0 0.3M469.2 105.3l-1.0 0.1M469.2 105.3l-0.5-0.9M468.6 102.4l-0.2-1.0M468.6 102.4l-1.0 0.2M470.1 102.0l1.0-0.3M470.1 102.0l-0.2-1.0M476.5 103.3l-0.9 0.2M479.1 102.2l0.9-0.5M479.0 107.5l0.1 1.0M479.0 107.5l-0.8 0.7M486.3 105.0l1.0-0.2M483.5 99.5l1.0-0.5M482.1 100.0l-1.0 0.3M486.2 96.2l-0.8 0.6M486.2 96.2l-0.7-0.8M483.9 95.6l-0.5-0.9M483.9 95.6l-0.9 0.6M487.5 95.1l0.6-0.7M489.8 101.2l0.3 0.9M498.9 98.6l0.7 0.7M497.5 99.6l-0.8 0.6M497.5 93.6l1.0 0.0M502.6 90.0l-0.4-0.9M502.6 90.0l-0.9 0.5M504.2 89.6l0.9-0.5M504.2 89.6l0.0-1.0M505.0 95.9l0.7 0.7M510.5 90.7l1.0-0.2M510.9 92.6l0.1 1.0M499.1 95.7l-0.3-0.9M499.1 95.7l-1.0 0.0M500.8 95.8l0.3-0.9M500.8 95.8l0.9-0.2M501.6 102.8l0.9-0.3M501.6 102.8l0.3 0.9M502.9 105.4l0.9-0.3M502.9 105.4l0.5 0.9M505.8 102.7l0.5 0.8M505.8 102.7l-0.8 0.6M507.3 102.0l0.9-0.4M506.7 106.7l-1.0 0.2M506.7 106.7l0.0 1.0M505.3 96.2l-0.2-1.0M505.3 96.2l-1.0-0.3M512.9 98.2l0.5-0.8M513.2 103.0l0.1 1.0M511.8 103.2l0.4 1.0M511.8 103.2l-0.9 0.4M522.4 97.9l1.0 0.3M529.6 96.9l-0.8-0.7M531.0 97.4l0.3-0.9M530.5 102.9l1.0-0.1M530.5 102.9l0.0 1.0M535.7 102.5l-0.7 0.7-0.7 0.7M535.7 104.9l0.6 0.7M537.2 105.1l-0.8 0.6M542.9 97.3l0.3-0.9M541.2 96.8l0.4-0.9M541.2 96.8l-0.8-0.6M543.3 100.6l0.8-0.6M541.9 101.6l0.4 0.9M549.1 100.0l1.0 0.4M549.1 100.0l0.8-0.6M547.8 101.0l0.7 0.7M547.1 103.3l-0.9 0.6M552.5 94.0l-1.0-0.1M552.5 94.0l-0.4-0.9M554.5 94.0l1.0 0.0M555.6 99.0l0.8 0.6M554.6 100.1l0.9 0.5M554.6 100.1l-0.5 0.8M555.0 102.4l0.7 0.7M561.6 98.6l0.7 0.8M563.5 101.0l0.9-0.2M562.5 101.7l-0.7 0.8M562.2 96.1l0.3-1.0M562.2 96.1l1.0 0.2M526.2 105.9l0.5-0.9M520.1 108.4l-0.4 0.9M521.4 109.3l-0.6 0.8M528.5 111.4l-0.1-1.0M528.5 111.4l1.0-0.4M528.6 113.4l0.1 1.0M525.9 122.4l-0.1 1.0M526.0 120.7l0.1-1.0M526.0 120.7l1.0 0.2M519.8 120.3l-1.0-0.2M517.9 118.8l-1.0 0.0M517.9 118.8l-0.6-0.8M519.9 122.0l-1.0-0.1M519.9 122.0l-0.1 1.0M520.4 126.1l-1.0-0.2M520.4 126.1l0.2-1.0M517.3 127.8l-1.0 0.2M517.3 127.8l-0.2 1.0M517.2 126.4l-1.0 0.3M517.2 126.4l-0.4-0.9M526.7 126.7l1.0 0.2M526.6 128.1l1.0 0.1M526.6 128.1l0.6 0.8M521.5 136.0l0.5 0.9 0.3 0.9M523.1 134.8l0.7 0.6M523.1 134.8l0.8-0.5M517.6 133.4l0.0 1.0M517.5 131.8l-0.9-0.3M517.5 131.8l-0.4-0.9M514.5 132.1l-1.0-0.1M514.5 132.1l-0.4-0.9M514.7 133.7l-1.0 0.1M517.1 140.0l-0.6 0.9M515.6 139.2l-0.8-0.7M511.6 109.0l-0.2-1.0M511.6 109.0l1.0-0.1 1.0-0.1M513.3 107.3l0.2-0.9M509.8 109.2l0.0-1.0M511.7 116.7l-1.0 0.2M513.4 116.1l0.5 0.8M513.4 116.1l1.0 0.1M518.3 116.3l1.0 0.1M516.7 116.2l-1.0 0.0M516.7 116.2l-0.2 1.0M516.6 108.4l-0.9-0.4M516.6 108.4l-0.1-1.0M518.2 108.6l0.2-1.0M526.2 109.3l1.0-0.2M524.5 109.4l-0.2-0.9M524.5 109.4l-1.0-0.1M527.1 115.0l1.0-0.2M525.5 115.7l-0.8 0.6M534.4 113.6l0.8-0.6M534.4 113.6l0.8 0.6M533.3 114.7l0.7 0.7M534.5 117.2l-0.9 0.5M536.0 116.5l0.8-0.6M537.9 118.4l0.8 0.6M536.5 119.6l-0.8 0.6M536.5 119.6l0.5 0.9M530.0 107.4l-0.3-1.0M530.0 107.4l-1.0-0.2M531.6 107.3l0.0-1.0M539.0 107.0l0.4-0.9M539.0 107.0l1.0 0.3M537.3 106.7l-1.0-0.3M539.2 112.4l0.7-0.7M539.2 112.4l0.2 0.9M537.8 113.2l0.4 0.9M546.8 112.5l0.9-0.4M546.8 112.5l0.8 0.6M545.4 113.5l0.5 0.9M545.4 113.5l-0.5 0.9M545.2 115.9l-0.6 0.8M545.2 115.9l0.7 0.7M547.6 115.7l0.8 0.7M547.6 115.7l-0.4 0.9M548.8 114.4l0.9-0.6M548.8 114.4l1.0 0.2M543.2 106.2l-0.9-0.3M552.0 106.4l0.5-0.8M550.5 105.7l-0.8-0.6M550.5 105.7l0.3-1.0M549.6 113.5l0.1 1.0M551.1 113.4l1.0-0.1M551.1 113.4l0.0 1.0M557.4 111.0l0.2 1.0M559.2 112.6l0.2 1.0M555.7 111.5l0.2 1.0M554.4 113.5l-0.8 0.6M558.0 114.2l0.1 1.0M557.4 107.1l0.9 0.0M557.4 107.1l0.4-0.9M567.9 106.0l0.2-0.9M513.9 127.0l0.6 0.8M515.3 125.9l0.9-0.4M521.9 121.2l0.9 0.6M520.3 120.4l0.4-1.0M520.3 120.4l-0.9-0.4M520.6 126.5l1.0 0.0M520.6 126.5l0.2 1.0M519.1 126.7l-1.0 0.2M527.1 125.9l0.3 0.9M526.2 119.8l-0.8-0.6M526.2 119.8l0.5-0.8M527.8 120.7l0.9 0.3M532.0 125.9l0.3 1.0M531.5 128.3l-0.8 0.6M531.5 128.3l0.4 0.9M533.4 125.5l0.2 0.9M533.4 125.5l1.0-0.2M535.2 127.0l1.0 0.1M535.2 127.0l-0.1 1.0M535.4 129.4l0.4 0.9M541.9 126.4l1.0-0.1M541.9 126.4l0.2 1.0M540.3 126.8l-0.1 1.0M540.9 129.6l-0.2 1.0M542.6 129.4l1.0-0.1M542.6 129.4l0.0 1.0M540.9 120.5l0.9-0.5M540.9 120.5l-0.4-0.9M539.3 120.6l-1.0 0.3M539.3 120.6l-0.3-1.0M548.8 119.8l-0.2-0.9M548.8 119.8l0.9-0.5M547.4 120.1l-1.0 0.2M547.4 124.8l0.0 1.0M547.4 124.8l-1.0 0.3M548.9 124.9l-0.1 1.0M548.9 124.9l0.9 0.2M550.3 126.8l0.9 0.3M550.3 126.8l-0.3 1.0M548.8 127.9l0.9 0.5M548.8 127.9l-0.1 1.0M547.3 127.8l-0.1 1.0M547.3 127.8l-0.9-0.2M550.4 121.3l0.1-1.0M465.8 148.5l0.3 1.0M465.8 148.5l-0.7 0.6M464.6 150.5l-0.8 0.5M464.6 150.5l0.1 1.0M465.1 147.2l-0.5-0.9M465.1 147.2l-0.8 0.7M467.8 143.9l-0.5-0.9M467.8 143.9l0.7-0.8M468.8 144.3l1.0-0.2M468.8 144.3l0.4-1.0M465.0 139.9l0.8 0.6M465.0 139.9l0.8-0.6M463.9 139.0l-0.7-0.7M463.9 139.0l0.8-0.6M463.6 136.6l0.8-0.6M463.6 136.6l-0.6-0.8M459.7 143.6l-0.8 0.6M459.7 143.6l-0.5-0.9M454.2 138.9l-0.4-0.9M454.2 138.9l-0.8 0.6M455.0 140.4l0.2 1.0M450.5 141.8l-1.0 0.3M450.5 141.8l-0.2 1.0M450.0 140.5l-0.8 0.7M457.0 136.4l-0.7-0.7M457.0 136.4l0.6-0.8M458.7 137.1l0.5-0.8M458.7 137.1l0.9 0.3M460.8 136.1l0.9 0.4M460.8 136.1l0.4-0.9M453.0 131.0l0.5-0.8M452.5 128.7l0.6-0.8M454.5 132.0l0.9 0.5M454.5 132.0l0.6-0.8M450.0 136.5l-0.9 0.4M450.0 136.5l0.2 0.9M449.1 135.0l-0.9 0.2M449.1 135.0l-0.6-0.8M443.5 132.0l-0.7 0.7M441.1 131.9l-0.8 0.7M444.5 133.1l0.8 0.7M444.4 135.5l-0.3 1.0M444.4 135.5l0.6 0.8M448.5 128.1l0.6-0.8M447.1 127.5l-0.9-0.5M447.1 127.5l0.4-0.9M440.5 125.2l-1.0-0.2M440.5 125.2l-0.7 0.7M466.5 142.5l0.1-1.0M466.5 142.5l-1.0-0.1M466.2 143.9l-0.2 1.0M466.2 143.9l-1.0 0.1M471.3 143.2l0.8-0.6M471.3 143.2l0.9 0.5M470.5 141.9l0.7-0.7M470.5 141.9l-0.2-0.9M469.0 133.4l0.8-0.5M469.0 133.4l-0.3-1.0M470.1 134.8l0.9-0.6M472.5 135.1l0.5 0.9M472.5 135.1l0.7-0.7M462.8 131.5l0.0-1.0M464.0 135.1l-1.0-0.1M464.0 135.1l-0.2 1.0M467.9 127.2l1.0 0.4M467.9 127.2l0.0-1.0M470.1 126.2l0.8-0.6M470.1 126.2l1.0 0.2M466.1 126.9l0.0-1.0M466.1 126.9l-0.9-0.3M465.7 124.1l-1.0 0.2M467.4 123.8l-0.2-0.9M467.4 123.8l1.0-0.1M456.5 151.4l-0.6 0.9M456.5 151.4l-1.0-0.4M457.3 150.0l0.2-0.9M457.3 150.0l-0.7-0.7M457.0 147.7l-0.8-0.6M457.0 147.7l0.5-0.9M453.3 159.1l0.2 1.0M454.4 163.3l0.4 1.0M454.4 163.3l-1.0 0.2M456.3 163.0l0.5 0.9M452.0 153.1l-0.6-0.8M451.3 150.8l0.4-0.9M451.3 150.8l-0.8-0.6M451.1 154.5l-0.4 0.9M447.2 156.0l0.9-0.4M447.2 156.0l-0.4-0.9M445.8 157.3l-1.0-0.3M443.7 155.3l-0.4 1.0M444.7 153.9l0.5-0.9M444.7 153.9l-0.8-0.6M443.0 159.4l0.5 0.8M442.3 157.7l-1.0 0.4M442.3 157.7l-0.5-0.8M444.9 155.0l-0.8-0.4M444.9 155.0l0.4-0.9M446.3 155.5l0.9 0.3M446.3 155.5l0.2-1.0M441.7 147.8l0.9 0.6M441.7 147.8l0.6-0.8M440.3 146.9l-0.5-0.8M436.6 151.6l-0.8 0.6M436.6 151.6l-0.8-0.6M434.2 151.7l-0.9-0.4M434.2 151.7l-0.9 0.5M437.5 152.7l0.6 0.8M437.5 152.7l-0.8 0.6M431.3 147.7l-0.5 0.8M431.3 147.7l-0.9-0.4M428.9 147.9l-0.8-0.5M428.9 147.9l-0.8 0.5M432.6 148.8l-0.4 0.9M432.6 148.8l0.7 0.7M430.7 151.1l-0.7 0.6M429.4 150.2l-0.8-0.5M438.1 143.3l0.9 0.5M438.1 143.3l0.9-0.4 0.9-0.4M440.5 143.2l0.6 0.8M437.3 142.3l-0.5-0.9M437.3 142.3l0.9-0.2M434.0 137.9l0.7-0.6 0.7-0.8M434.0 137.9l0.8 0.7M432.6 136.8l0.7-0.7M432.6 136.8l-0.9-0.4M428.1 139.7l-0.9 0.1M428.1 139.7l-0.2-1.0M428.5 141.5l-0.8 0.5M427.8 143.8l0.5 0.9M427.8 143.8l-0.7 0.7M450.2 160.9l-0.4-1.0M450.2 160.9l0.8-0.5M451.0 162.3l0.8-0.5M451.0 162.3l0.5 0.8M447.8 165.1l0.9 0.6M447.8 165.1l-0.1 1.0M446.6 164.5l-0.2 1.0M446.6 164.5l-1.0-0.2M450.0 171.5l0.6 0.8M450.0 171.5l-0.7 0.7M449.0 170.8l-1.0-0.3M449.0 170.8l-0.5 0.8M445.5 172.7l-1.0 0.2M458.0 173.4l0.9-0.3M458.0 173.4l0.4 0.9M457.7 171.9l1.0 0.2M457.7 171.9l0.0-1.0M455.1 175.8l0.5 0.8M453.9 175.2l-0.3 1.0M453.9 175.2l-0.9-0.4M457.7 180.2l-0.4 0.9M457.7 180.2l-0.9-0.4M459.3 180.9l-0.1 0.9M459.3 180.9l0.8 0.5M461.6 175.0l-0.6-0.7M461.6 175.0l1.0-0.2M462.4 176.7l0.4 0.9M462.4 176.7l1.0-0.1M468.7 180.1l1.0-0.3M468.7 180.1l0.7 0.8M468.3 179.1l-0.5-0.9M464.5 183.5l0.8 0.6M464.5 183.5l-0.5 0.8M463.0 182.6l-0.5 0.9M469.5 187.3l0.9 0.4M467.8 186.8l-0.2 0.9M467.8 186.8l-1.0-0.2M471.0 183.1l-0.4-0.9M471.7 184.9l0.3 0.9M471.7 184.9l1.0 0.0M472.6 186.9l0.9 0.5 0.8 0.5M472.6 186.9l0.5-0.9M472.1 152.3l1.0 0.0M472.1 152.3l-0.1 1.0M473.7 154.1l-0.1 1.0M473.7 154.1l1.0 0.1M470.4 152.1l-0.9-0.4M470.6 155.1l-0.6 0.8M472.3 155.3l-0.1 1.0M472.3 155.3l0.9 0.3M472.4 146.2l0.3-1.0M472.4 146.2l-0.4-1.0M473.5 147.3l0.8-0.6M473.5 147.3l0.9 0.4M479.3 149.4l0.5 0.8M479.3 149.4l0.9-0.5M478.4 148.0l-0.4-1.0M475.8 152.1l-0.6 0.8M477.7 152.4l1.0 0.1M477.7 152.4l0.3 1.0M484.0 153.9l1.0 0.0M484.0 153.9l0.0 1.0M482.7 149.4l-1.0-0.2M484.4 149.9l0.9 0.3M484.4 149.9l0.6-0.8 0.7-0.8M491.5 151.8l0.9-0.4M491.5 151.8l-0.6-0.8M492.6 152.6l0.4-0.8M489.6 156.6l-1.0 0.1M491.0 156.6l-0.2 1.0M488.3 158.9l-0.3 1.0M496.6 155.6l0.1 1.0M498.2 154.9l0.9-0.2M498.2 154.9l0.4 0.9M504.0 147.6l0.9-0.3M504.0 147.6l-0.1-0.9M505.2 145.6l0.2-1.0M505.2 145.6l1.0-0.3M500.8 146.0l-0.8-0.6M506.9 152.8l0.5 0.9M506.9 152.8l0.9-0.4M505.4 153.8l-0.8 0.5M505.4 153.8l0.2 1.0M504.5 156.0l0.3 0.9M512.2 149.0l0.6-0.9M514.6 148.9l1.0 0.4M514.6 148.9l0.8-0.6M512.5 147.8l0.3 0.9M511.9 145.2l-0.2-1.0M489.2 159.7l-0.8 0.6M489.2 159.7l-0.7-0.7M489.9 161.0l-0.8 0.6M489.9 161.0l-0.1 1.0M495.3 160.0l1.0 0.2M495.3 160.0l0.0 1.0M495.7 158.8l0.9 0.5M495.7 158.8l0.6-0.9M498.4 165.4l0.3-1.0M498.5 166.6l0.7-0.7M498.5 166.6l0.6 0.8M492.7 168.5l0.5 1.0M492.0 167.1l-0.9 0.1M495.4 176.8l0.8 0.6M494.0 175.3l-1.0 0.4M498.8 174.4l1.0 0.1M498.8 174.4l0.1-1.0M498.5 176.1l0.9 0.4M501.9 180.7l0.4 0.9M501.9 180.7l1.0 0.0M501.3 179.1l1.0 0.0M501.3 179.1l0.0-1.0M500.8 189.0l0.3 0.9M503.1 189.7l1.0-0.2M497.4 150.0l0.3 1.0M497.4 150.0l1.0-0.3M490.0 148.8l-0.8-0.6M487.6 149.1l-0.7 0.7M487.6 149.1l-1.0-0.2M491.0 147.4l-0.6-0.8M492.4 144.6l-0.5 0.9M497.5 144.1l0.1-1.0M497.5 144.1l1.0 0.1M497.4 145.4l1.0 0.1M500.0 136.5l-0.2-1.0M500.4 138.1l1.0 0.2M494.7 136.5l-0.8-0.6M494.7 136.5l0.5-0.9M500.1 131.7l-0.1-1.0M501.6 131.5l0.9-0.1M501.3 138.0l-1.0 0.1M501.3 138.0l0.3 0.9M502.8 137.6l0.0 1.0M502.8 137.6l1.0 0.0M510.1 137.7l0.9-0.4M510.1 137.7l0.3 0.9M512.5 134.4l0.9-0.2M512.5 134.4l0.4 0.9M476.3 155.3l-1.0-0.2M476.3 155.3l0.2 1.0M476.1 153.9l-0.4-0.9M476.3 161.5l-1.0 0.0M476.3 161.5l-0.1 1.0M474.8 163.3l-0.5 0.9M476.2 159.7l-1.0 0.2M476.2 159.7l0.0-1.0M482.1 162.5l-0.3 1.0M483.3 164.6l0.9 0.4M483.3 164.6l-0.4 0.9M482.5 161.0l0.8 0.5M482.5 161.0l0.1-1.0M482.5 168.9l1.0 0.1M484.6 167.8l0.7-0.7M482.1 170.6l1.0 0.3M481.9 171.6l-0.4 0.9M483.5 172.6l-0.1 1.0M476.3 168.7l-1.0 0.1M476.3 168.7l0.0-1.0M476.5 170.4l-0.9 0.3M476.5 170.4l-0.2 0.9M479.7 173.0l1.0-0.2M477.8 173.2l-1.0-0.2M477.8 173.2l-0.4 0.9M476.2 175.0l-0.2 0.9M497.1 135.0l-0.3 0.9M497.1 135.0l1.0 0.2M495.4 134.4l-0.7 0.7M495.4 134.4l-0.8-0.5M498.2 130.4l0.7-0.8M499.2 131.5l0.6-0.8M504.8 133.8l-0.7-0.6M504.8 133.8l0.3-0.9M506.2 134.5l0.4-0.9M506.2 134.5l1.0 0.2M503.2 138.4l-1.0 0.0M503.2 138.4l0.1 1.0M504.9 138.7l-0.2 0.9M504.9 138.7l0.9 0.4M509.5 141.6l-0.6 0.7M508.3 140.9l-1.0-0.3M511.9 137.5l0.8-0.5M518.1 140.3l0.7 0.7M520.5 140.5l0.7-0.6M520.5 140.5l0.7 0.7M517.3 149.0l-1.0 0.1M518.8 149.4l-0.3 1.0M521.2 145.8l0.7 0.7M523.5 145.1l0.9 0.6M523.5 145.1l0.6-0.8M520.1 144.8l-0.8-0.5M520.1 144.8l0.6-0.8M526.2 151.7l-0.2-1.0M526.2 151.7l1.0-0.4M531.0 153.1l-0.2 1.0M523.5 155.4l0.7 0.7M523.5 155.4l-0.6 0.8M522.1 154.2l-0.8-0.6M526.5 159.4l-0.3 0.9M526.5 159.4l-0.9-0.4M531.7 155.4l0.2-1.0M533.1 154.5l1.0-0.2M535.4 157.1l0.5-0.8M535.4 157.1l0.9 0.5M534.9 158.9l-0.4 0.9M536.1 161.0l1.0-0.1M536.1 161.0l-0.1 1.0M535.9 150.3l-0.2-0.9M537.1 149.7l0.6-0.9M542.2 148.0l-1.0 0.3M542.2 148.0l-0.3-0.9M543.9 147.7l1.0 0.2M546.2 153.3l1.0 0.1M546.2 153.3l0.3 1.0M544.8 153.7l-0.9 0.3M551.0 143.1l-0.3-1.0M551.0 143.1l1.0 0.1M557.1 139.3l-0.9-0.4M558.6 139.3l-0.1-1.0M558.6 139.3l0.9-0.3M558.6 136.5l-0.1-1.0M556.9 136.4l-1.0 0.1M556.9 136.4l0.0-1.0M561.6 145.1l1.0 0.3M561.4 146.0l1.0-0.2M566.2 141.7l0.9-0.3M565.0 142.8l0.7 0.7M569.0 132.9l-0.6-0.8M569.0 132.9l-1.0 0.2M570.6 132.3l0.7-0.7M570.6 132.3l-0.1-1.0M569.7 129.4l-0.2-1.0M568.1 130.1l-0.4-0.9M577.2 132.4l-0.2 0.9M577.6 130.9l0.6-0.8M575.0 128.4l1.0-0.3M575.0 128.4l-0.4-0.9M577.6 125.4l-0.9 0.3M579.1 124.4l-0.4-0.9M581.4 128.5l0.7 0.7M581.4 128.5l-0.6 0.7M582.2 130.7l0.8 0.6M586.3 124.3l0.9 0.4M583.3 120.3l-0.7-0.6M589.8 119.2l0.5 0.8M592.2 119.3l0.7 0.7M592.2 119.3l0.7-0.7M589.1 118.0l0.9-0.4M592.4 115.1l0.8-0.6M592.4 115.1l-0.3-1.0M593.3 116.2l0.7-0.6M570.2 132.1l-0.2-1.0M568.6 132.5l-0.2-0.9M572.7 135.0l0.7-0.7M570.4 127.9l-0.7 0.8M580.2 124.7l0.6-0.8M579.4 126.3l-0.6 0.8M585.0 121.2l-0.4 0.9M579.8 117.5l-0.3-1.0M581.4 116.9l-0.3-0.9M582.1 111.2l-0.8-0.5M581.2 112.7l-0.7 0.6M578.8 113.0l-0.8-0.5M586.7 115.6l0.9 0.5M586.7 115.6l-0.3 1.0M590.4 108.3l0.1-1.0M590.4 108.3l0.9 0.5M590.2 109.9l-0.1 1.0M590.2 109.9l1.0 0.3M593.3 108.7l0.3-1.0M587.4 106.3l-0.5-0.9M586.0 107.3l-1.0-0.2M587.1 102.3l-0.3 1.0M568.3 139.6l-0.9-0.5M570.2 140.3l-0.2 1.0M570.2 140.3l0.9 0.4M572.2 136.7l-0.5-0.8M572.6 138.5l0.3 1.0M572.9 145.5l-0.1 1.0M571.5 144.7l-0.2 1.0M571.5 144.7l-0.9-0.4M572.4 148.3l-0.8 0.6M572.4 148.3l-0.6-0.8M575.5 150.4l0.4 0.9M579.4 147.5l-0.1-1.0M579.4 147.5l1.0-0.2M581.2 145.9l1.0-0.4M585.7 147.4l0.8 0.5M584.4 152.1l0.9-0.5M584.4 152.1l0.1 1.0M588.9 151.1l1.0 0.2M588.9 151.1l0.2 1.0M590.8 152.5l0.4 1.0M571.2 131.9l0.1-1.0M569.7 132.1l-0.2-1.0M577.2 132.1l-0.7-0.8M577.2 132.1l0.7-0.7M580.0 136.8l1.0 0.0M577.5 137.2l0.3 0.9M576.3 139.2l-1.0 0.0M587.7 136.7l0.9-0.3M587.4 131.2l1.0 0.1M585.7 130.6l0.1-1.0M591.8 129.6l-1.0-0.3M596.7 130.4l-0.2-0.9M597.0 131.6l0.8-0.7M533.6 164.3l0.9 0.5M525.8 163.9l-1.0 0.0M526.2 165.4l0.4 0.9M526.2 165.4l-1.0 0.1M531.8 170.9l-0.1 1.0M531.8 170.9l0.9 0.5M532.3 169.6l0.9 0.4M532.1 175.7l0.3-0.9M532.1 175.7l1.0 0.3M531.1 177.4l-0.7 0.8M527.5 176.5l0.2 0.9M527.5 176.5l-0.9 0.3M527.4 174.6l-0.9-0.4M527.4 174.6l0.1-1.0M523.0 174.0l-1.0-0.2M525.5 181.5l-1.0-0.1M525.4 182.7l-0.6 0.9M532.0 182.5l1.0 0.3M531.7 183.9l0.9 0.4M531.7 183.9l-0.1 1.0M525.7 156.6l0.6-0.9M526.9 162.2l-1.0 0.2M526.9 162.2l0.0 1.0M528.8 162.0l0.5 0.9M528.8 162.0l1.0 0.1M522.2 164.1l1.0 0.1M522.2 164.1l-0.1 1.0M520.7 164.1l-0.2 0.9M519.3 166.1l-0.7 0.6M520.2 167.0l-0.1 1.0M520.2 167.0l-1.0 0.1M521.7 167.1l-0.1 1.0M520.0 158.1l0.6-0.8M520.0 158.1l-0.4-0.9M518.6 158.9l-0.4-0.8-0.7-0.8M508.9 163.0l-0.7-0.7M512.6 161.7l-0.6-0.9M512.5 159.3l0.7-0.8M510.7 159.3l-0.4-0.9M510.7 159.3l0.5-0.9M509.5 160.3l-0.5-0.8M512.2 167.7l-0.9 0.2M512.2 167.7l-0.4 0.9M514.1 167.8l1.0-0.1M514.1 167.8l0.3 0.9M510.7 171.6l0.4 0.9M510.7 171.6l-0.5 0.8M507.7 169.1l-1.0-0.1M507.7 169.1l-0.4 0.9M508.2 167.4l0.4-0.9M507.1 165.2l-0.9-0.4M504.7 173.5l-0.1 1.0M504.7 173.5l-0.9-0.5M508.1 173.3l0.9 0.5M508.1 173.3l-0.6 0.8M548.0 150.7l-0.9-0.5M549.0 152.0l0.5 0.9M549.0 152.0l-0.9 0.6M548.1 156.7l-1.0-0.2M543.6 158.3l-0.8-0.7M543.6 158.3l-1.0 0.2M543.3 161.9l0.5 0.9M552.4 158.6l-0.4 0.9M552.9 156.8l0.2-1.0M552.9 156.8l1.0-0.1M555.8 167.5l0.0 1.0M555.8 167.5l0.7 0.7M555.3 163.6l1.0 0.1M555.3 163.6l0.4-0.9M557.4 162.5l0.8-0.7M550.5 170.5l-1.0 0.3M550.5 170.5l-0.7-0.8M549.1 173.7l-0.5 0.9M549.1 173.7l0.2 1.0M548.1 172.2l-0.9 0.4M548.1 172.2l-0.7-0.6M555.3 169.6l0.4-0.9M558.2 170.8l0.3-1.0M558.2 170.8l0.9 0.3M557.7 172.2l-0.1 1.0 0.0 1.0M557.7 172.2l1.0 0.1M551.9 176.8l-0.5-0.9M551.9 176.8l-0.9 0.4M554.8 142.4l0.0-1.0M547.9 141.4l-0.6 0.8M545.5 141.8l-0.5 0.9M548.8 140.2l-0.9-0.5M548.8 140.2l0.1-1.0M549.4 135.7l-0.9 0.5M550.0 134.8l0.3-1.0M546.4 131.3l0.2-1.0M546.4 131.3l-0.9-0.5M546.8 135.1l-0.3 0.9M555.3 136.3l0.0-1.0M556.6 129.8l0.1-1.0M554.6 129.3l-1.0-0.2M553.2 127.4l-0.2-1.0M498.2 148.8l0.2-1.0M494.1 151.5l-0.8 0.7M493.3 150.1l-0.9 0.4M497.0 159.1l-0.9 0.5M496.3 157.7l-0.9 0.4M496.3 157.7l-0.6-0.8M501.4 157.1l0.4-1.0M505.6 158.9l-0.1 1.0M505.6 158.9l0.9 0.2M501.1 165.2l0.6 0.8M501.8 163.9l1.0 0.3M494.8 170.0l0.0-1.0M494.9 171.5l-0.1 1.0M501.2 169.9l0.1-1.0M501.2 169.9l0.9 0.2M502.2 176.8l0.9 0.4M502.2 176.8l0.4-0.9M501.6 178.2l0.0 1.0M501.6 178.2l1.0 0.4M494.8 178.4l-0.9 0.2M494.8 178.4l-0.1 1.0M494.2 177.0l-0.6-0.9M494.2 177.0l-1.0 0.2M494.6 182.8l0.5 0.9M493.9 181.2l-0.9 0.4M493.9 181.2l-0.5-0.8M499.3 182.7l0.7 0.6M500.1 181.0l0.3-0.9M500.1 181.0l0.9 0.4M492.3 186.4l-0.9 0.4M418.2 91.3l-0.2 1.0M418.1 88.6l0.4-0.9 0.4-0.9M418.1 88.6l-1.0 0.1M422.8 88.7l1.0 0.2M422.8 88.7l-0.1-1.0M425.8 90.5l0.0 1.0M425.9 88.8l0.9-0.1M430.5 92.6l1.0-0.2M430.5 92.6l0.7 0.7M497.0 127.0l0.7-0.6M495.8 127.9l-0.8 0.5-0.8 0.7" stroke="#4080bf" stroke-width="0.95" stroke-opacity="0.7"/>
<path d="M497.6 61.1l-0.5 1.4-0.6 1.4M495.8 65.2l-0.8 1.3-0.6 1.4-0.6 1.4M491.1 59.4l-1.0-1.0M489.0 57.3l-0.9-1.2-1.0-1.1M478.5 63.8l-0.4 1.5M479.4 61.0l-0.5-1.5M477.6 56.8l-0.7-1.3M474.9 60.2l-0.4-1.4-0.4-1.5M466.3 60.1l0.3 1.5 0.3 1.5 0.2 1.5 0.4 1.4 0.3 1.5 0.3 1.4M466.3 60.1l-0.7-1.3M460.5 63.2l0.2 1.5 0.1 1.5 0.1 1.5M454.6 66.3l0.1 1.5-0.1 1.5 0.0 1.5M454.6 66.3l-0.9-1.3-1.0-1.1M448.5 69.0l0.1 1.5 0.0 1.5M434.1 67.5l0.0-1.5-0.1-1.5 0.0-1.5M434.1 67.5l-1.1 1.1-1.0 1.1M426.0 65.1l-0.4 1.5-0.5 1.3-0.5 1.4-0.5 1.5M420.1 65.2l-1.0-1.1M418.1 62.9l-1.0-1.1M410.7 71.5l0.3 1.5 0.3 1.5M465.4 55.0l-1.5 0.5M468.7 45.7l1.3-0.7M463.3 48.5l-1.4-0.5-1.4-0.4M464.7 38.0l1.3-0.8M461.0 31.4l1.4-0.6M463.8 30.3l1.3-0.6M459.5 23.5l1.2-0.9 1.2-0.9 1.1-1.0M459.5 23.5l-1.4-0.5-1.5-0.3-1.5-0.2-1.5-0.1-1.5-0.2M456.9 17.7l-1.5 0.1M458.4 17.6l1.3-0.7 1.3-0.7M457.6 11.0l1.2-0.9 1.2-0.9M457.6 11.0l-1.5-0.1M457.3 8.8l-0.2-1.5M459.2 49.1l0.6-1.4 0.6-1.3M454.5 45.4l-1.4 0.5M451.7 46.5l-1.4 0.4-1.5 0.5M455.2 44.1l0.8-1.4M449.6 41.6l0.9-1.2 0.9-1.2M449.6 41.6l-1.1 1.1-1.1 1.0M444.6 37.9l-0.9 1.1-1.0 1.2-0.9 1.2-0.9 1.2M440.6 33.0l0.9-1.2M439.7 34.2l-1.2-0.8M448.1 72.2l-1.5 0.0M447.9 78.0l1.2 0.9 1.2 1.0 1.2 0.8M446.3 83.8l1.3 0.7 1.3 0.7 1.3 0.8 1.4 0.7 1.3 0.5M444.8 83.9l-1.5 0.2M443.7 90.4l-1.5 0.1-1.5 0.2-1.5 0.2-1.5 0.2M444.7 91.5l1.0 1.1M440.1 95.9l-1.2-0.9-1.1-1.0M434.7 99.2l-0.9-1.2M435.3 100.6l0.6 1.3M439.9 61.3l-1.4 0.5M439.7 55.1l1.4-0.6M439.7 55.1l-1.5-0.2-1.5-0.2M438.2 49.3l-0.6-1.4M426.8 57.4l1.5-0.3M423.8 57.9l-1.2-0.9-1.2-0.8M425.7 51.9l-1.3-0.8M428.7 41.9l0.5-1.4M499.8 57.3l-1.5 0.2-1.4 0.3M499.8 57.3l1.1-1.1 1.1-1.0M497.9 48.5l1.2-1.0 1.0-1.0 1.1-1.1 0.9-1.2 1.0-1.1M497.0 41.9l1.5-0.2M497.0 35.3l1.5-0.1 1.5 0.0M501.5 35.1l1.5 0.0 1.5 0.1M497.0 35.3l-1.5-0.2-1.5 0.0M501.4 19.8l-0.6-1.4M501.4 19.8l1.5 0.1 1.5 0.0M491.3 51.1l1.0-1.1 1.0-1.2M486.8 46.9l-1.4 0.5-1.4 0.6M487.3 45.5l0.4-1.4M482.0 41.8l-1.5-0.2M482.5 35.3l-1.5 0.0-1.5 0.1M483.0 28.2l1.4-0.6M482.7 24.3l-1.2-0.9-1.1-1.0M482.7 24.3l1.5 0.3 1.4 0.4M484.3 17.6l1.5-0.2M482.9 66.1l1.2 1.0 1.2 0.9M481.6 72.8l-1.4 0.5M478.8 73.8l-1.4 0.5-1.4 0.5-1.4 0.6M481.6 72.8l1.4 0.5 1.4 0.5M480.4 81.2l0.9 1.2 0.8 1.2M472.8 83.8l-1.3-0.8M470.2 82.3l-1.3-0.8M473.4 85.2l0.7 1.3M469.2 91.3l0.6 1.4M483.8 76.5l1.5-0.2 1.5-0.1M487.1 82.0l1.4-0.4M490.4 88.2l1.5-0.2 1.5-0.2M490.4 88.2l-0.9 1.2M502.9 56.2l-0.6-1.4M509.2 54.8l-0.2-1.5-0.2-1.5-0.3-1.5M515.8 53.2l0.8 1.3 0.6 1.4 0.6 1.3M515.0 51.9l-0.2-1.4M527.0 47.4l0.3-1.5 0.3-1.5 0.2-1.5 0.1-1.5M535.1 44.5l-0.2-1.5M548.7 42.9l0.8 1.3 0.7 1.3M558.7 33.0l1.5-0.1M556.0 28.6l-1.4-0.4-1.5-0.2M538.1 41.2l1.3-0.9 1.2-0.8M536.5 34.9l1.2-0.8M535.2 35.7l-1.3 0.7M531.9 27.0l0.6-1.4M528.0 15.4l-1.5-0.1M527.6 13.9l-0.4-1.4M523.2 42.1l-1.4-0.4-1.5-0.4-1.4-0.6M518.9 35.2l-1.5-0.3M518.9 29.5l-1.5-0.3M517.4 23.7l-1.5 0.1-1.5 0.1M517.5 17.4l1.0-1.0 1.2-1.0M517.5 17.4l-1.5 0.1-1.5 0.0-1.5-0.1-1.5-0.1M517.0 15.4l-0.3-1.5-0.3-1.4M540.9 37.3l-1.4-0.5-1.5-0.4M545.7 22.0l-1.3-0.7-1.3-0.8-1.2-0.8-1.2-1.0M542.0 17.1l0.7-1.4M542.0 17.1l-1.5 0.3-1.4 0.3M557.8 43.6l1.5-0.2M560.8 43.1l1.5-0.4 1.4-0.2 1.5-0.3M557.8 43.6l-1.2 0.9M560.3 49.8l-1.2 0.9-1.2 0.9-1.2 0.9-1.2 0.8-1.3 0.9M565.5 51.4l0.3-1.4 0.2-1.5M572.2 50.9l0.6 1.4M574.1 46.6l1.4-0.5 1.4-0.6 1.3-0.6M579.6 44.2l1.2-0.8M560.8 67.5l-0.1 1.5-0.1 1.5-0.1 1.5M574.7 52.9l1.5-0.1 1.5-0.3M574.7 52.9l-1.2 0.9-1.1 1.0M577.2 59.5l1.4 0.2M581.0 76.9l0.5-1.4M581.0 76.9l0.5 1.4 0.6 1.4 0.6 1.4M588.3 79.0l0.5 1.4M597.9 73.5l-0.9-1.2M503.5 60.0l0.3 1.5 0.2 1.5M509.6 60.9l-0.1 1.5-0.2 1.5M515.9 63.2l0.1 1.5M516.2 66.2l0.3 1.5M519.9 62.2l0.3 1.5 0.2 1.5M526.3 61.9l0.3-1.4M500.7 61.1l1.4-0.3 1.5-0.5M504.4 65.8l1.3-0.8 1.3-0.7M510.3 70.7l0.5 1.4 0.4 1.4M511.8 74.9l0.5 1.4M510.3 70.7l0.4-1.5 0.4-1.4M516.4 71.1l0.0 1.5 0.1 1.5M522.6 71.6l0.1 1.5 0.2 1.5 0.2 1.4 0.3 1.5 0.1 1.5 0.2 1.5M528.8 72.0l0.1-1.5 0.1-1.5M541.1 73.3l-0.2 1.5-0.2 1.5M547.1 74.8l-0.1 1.5-0.1 1.5M548.1 73.7l0.8-1.3M553.1 76.3l0.5 1.4 0.5 1.4M559.1 77.8l-0.3 1.5-0.4 1.4M561.1 78.3l1.4 0.4 1.5 0.3M502.8 62.7l1.5-0.5M501.4 63.1l-1.2 0.9M505.4 70.4l-1.1 1.0-1.1 1.0M508.4 75.8l1.4-0.4 1.5-0.3M510.8 81.6l-1.4 0.7-1.4 0.5M506.7 83.4l-1.4 0.7-1.3 0.7M512.3 81.5l1.5 0.0 1.5-0.1 1.5-0.1M511.9 88.2l1.5 0.1 1.5 0.2M516.0 95.6l-0.6 1.4-0.6 1.4M516.0 95.6l1.0-1.1 1.1-1.0M520.0 101.2l-1.1 1.0M523.0 94.2l0.4-1.5 0.4-1.4 0.3-1.5 0.3-1.4 0.4-1.5 0.5-1.4M531.0 93.4l0.6-1.4 0.5-1.4 0.5-1.4M537.0 92.8l0.2-1.5 0.2-1.5M543.4 91.9l0.5-1.5M544.4 89.0l0.4-1.4M550.1 90.8l0.3 1.4M550.7 93.7l0.2 1.5M550.1 90.8l0.2-1.5 0.1-1.5 0.2-1.5M459.7 114.5l0.8 1.2 0.9 1.2 0.9 1.2M459.8 111.5l0.2-1.5M465.9 113.1l0.6 1.3M478.1 105.2l-0.5-1.5-0.4-1.4-0.5-1.4M483.5 102.1l0.9 1.2M489.9 100.0l1.1 1.0M497.1 97.1l0.6 1.4M496.4 95.8l0.1-1.5M504.1 92.0l-0.5-1.4M504.6 93.5l0.7 1.3M499.3 99.6l0.5 1.4 0.7 1.3M505.7 100.1l0.4 1.4M505.7 100.1l0.1-1.5 0.2-1.5M512.9 99.4l0.7-1.3M512.3 102.1l0.4 1.5M520.6 101.4l0.4-1.4M528.9 100.8l0.5-1.4M528.9 100.8l0.6 1.4M536.6 102.6l0.8 1.3M541.2 99.2l0.6-1.3M541.2 99.2l0.9 1.3 0.9 1.1M547.4 98.5l0.6 1.3 0.6 1.4M553.5 97.7l1.0 1.2M559.7 96.9l0.8 1.3 0.9 1.2 1.0 1.1M559.7 96.9l0.3-1.5 0.5-1.4M559.7 96.9l1.5-0.1 1.5-0.3M523.6 106.2l-1.2 0.9-1.1 1.0M523.7 121.0l-1.5 0.1-1.5 0.0M519.2 121.1l-1.5-0.1M522.7 127.0l-1.5-0.1-1.5 0.0-1.5 0.1M522.7 127.0l1.5 0.2M520.9 133.7l1.0 1.1M517.1 112.4l0.1-1.5M525.4 110.2l0.1-1.5M525.2 111.7l0.3 1.5 0.5 1.4M535.8 117.2l0.9 1.2M531.4 111.2l-0.3-1.5-0.3-1.5M537.5 110.6l0.3-1.5M537.5 110.6l0.5 1.4 0.5 1.5M543.6 110.1l0.2-1.5M549.7 109.6l0.7-1.4M555.9 109.0l0.4 1.5M556.8 111.9l0.4 1.4M556.3 107.6l0.4-1.5M563.5 108.3l1.5-0.2 1.5-0.1 1.5 0.0M513.3 124.6l0.8 1.2M520.1 122.8l0.7-1.3M526.1 122.4l0.5-1.4M531.8 123.4l0.6 1.4 0.7 1.3 0.6 1.4 0.6 1.4M540.0 122.9l0.4 1.4 0.5 1.5 0.4 1.4 0.3 1.5M540.0 122.9l0.2-1.5 0.1-1.5M549.7 122.3l1.5-0.1M467.5 146.5l0.4-1.4M452.6 133.5l0.7-1.3M451.6 134.7l-1.3 0.6-1.4 0.6M466.4 134.9l-1.4-0.5M457.6 151.2l-1.1-0.9M453.4 155.2l0.2 1.5 0.4 1.4 0.5 1.5 0.4 1.4M439.0 150.7l-1.2 0.8-1.3 0.8M434.7 145.5l-1.1 1.0M432.5 147.6l-1.0 1.1M434.7 145.5l1.1-1.0 1.1-1.0M432.8 138.0l1.1-1.0M449.8 162.0l1.3-0.8M448.5 162.8l-0.9 1.2M469.3 184.8l1.1 1.0 1.0 1.1M471.4 151.4l0.1 1.5M483.0 153.3l0.2 1.5M482.8 151.8l0.5-1.4 0.6-1.4M496.3 153.2l0.7 1.3M504.1 150.1l-0.6-1.4-0.8-1.3M502.0 146.2l-0.8-1.3M510.0 147.8l1.0 1.1M493.2 167.4l-1.2 0.9M493.5 144.1l-1.5-0.3M497.9 137.9l1.5-0.4M496.5 138.3l-1.4-0.6-1.4-0.7M501.3 135.5l-0.1-1.5M507.8 134.4l0.4-1.5 0.3-1.5M510.0 134.0l1.5-0.3 1.5-0.1M504.2 136.2l0.9-1.2M509.8 139.0l-0.5 1.4M514.9 142.3l1.0-1.0 1.0-1.2M524.3 153.1l1.5-0.3 1.4-0.3 1.5-0.2M528.4 157.8l-0.7 1.3-0.6 1.4M533.2 157.0l-0.6-1.4-0.4-1.4M533.2 157.0l1.2 0.8M550.5 145.5l-0.2-1.5-0.2-1.5M557.9 141.8l0.8 1.2 0.8 1.3 0.8 1.3 0.8 1.2M563.5 139.0l0.8 1.3 0.7 1.3M570.5 134.8l-0.4-1.4-0.4-1.4M575.1 130.8l1.4 0.6 1.4 0.6M575.1 130.8l-0.6-1.3M579.7 126.8l-0.9-1.2M583.4 121.5l-0.8-1.3M570.3 134.5l1.2 0.8 1.3 0.9M574.0 129.5l1.4 0.5 1.4 0.5M574.0 129.5l-1.2-0.9-1.2-0.8M581.5 119.4l1.5 0.3M581.5 119.4l-0.6-1.4-0.6-1.3M583.6 113.3l-1.2-0.9M584.8 114.1l1.5 0.4 1.5 0.3M587.9 108.8l-0.7-1.4M591.0 103.4l1.5 0.1M570.1 137.9l1.5-0.1 1.5-0.2M573.6 143.1l1.5-0.2 1.5-0.2M573.6 143.1l-0.9 1.2M582.8 150.1l0.8-1.3 0.9-1.2 1.0-1.1M583.4 151.5l0.6 1.3M586.6 150.1l1.5 0.1M571.1 135.8l1.1 1.1M577.5 134.7l-0.6-1.4-0.5-1.4M577.5 134.7l0.5 1.4 0.4 1.4M585.9 133.1l0.4 1.5 0.4 1.4 0.3 1.5M585.9 133.1l0.4-1.4 0.2-1.5M594.4 131.6l1.5-0.4M597.3 130.9l1.5-0.3M528.0 182.5l-1.5-0.3M527.7 159.9l-1.1-1.1-1.0-1.1M521.6 161.7l-0.1 1.4-0.2 1.5M521.0 166.1l-0.2 1.5-0.3 1.5M513.5 164.0l-0.1 1.5M513.2 167.0l-0.1 1.5 0.1 1.5M508.9 170.9l-0.9 1.2M550.5 150.1l-1.3 0.7-1.3 0.8M552.9 163.8l1.4 0.4 1.4 0.5M552.8 169.7l-1.2 1.0M550.5 171.6l-1.2 0.9M554.2 170.1l1.5 0.5M552.6 143.4l1.5 0.0M551.1 143.5l-1.0-1.1-1.0-1.1M553.1 137.6l-1.2-1.0-1.3-0.7M549.3 135.2l-1.4-0.7-1.3-0.6M495.8 149.7l-1.4 0.7-1.3 0.7M498.8 157.4l-1.3 0.6-1.4 0.6M503.3 157.8l1.5 0.2M498.7 170.0l1.4 0.5 1.3 0.7M498.2 176.3l1.4 0.5 1.5 0.4M498.2 176.3l-1.4 0.5-1.5 0.5M497.3 187.0l1.3 0.7 1.3 0.8M495.8 186.9l-1.5 0.0M497.0 128.2l-0.7-1.3" stroke="#c0535c" stroke-width="0.8" stroke-opacity="0.8"/>
<path d="M497.6 61.1l0.6 1.1M496.5 63.9l-1.1 0.6-1.0 0.5M496.5 63.9l0.4 1.1M495.0 66.5l-0.1 1.2 0.1 1.2M491.1 59.4l0.1-1.2M491.1 59.4l-1.2-0.1M488.1 56.1l-1.2-0.3M488.1 56.1l0.0-1.2 0.0-1.2M483.6 58.4l-1.2-0.3M485.4 62.9l0.1 1.2M478.5 63.8l-1.1 0.5M478.5 63.8l0.4 1.1M466.6 61.6l-0.7 1.0-0.8 0.9M466.6 61.6l1.1 0.5 1.1 0.4M467.8 67.5l1.0 0.6M465.6 58.8l0.5-1.1M460.7 64.7l-0.6 1.0-0.8 1.0-0.7 1.0M460.7 64.7l0.8 0.8M462.4 66.4l0.8 0.8M460.9 67.7l0.7 0.9 0.8 0.9M454.7 67.8l-1.0 0.7M454.7 67.8l0.7 0.9M455.4 71.7l0.9 0.8M454.6 70.8l-0.9 0.7M452.7 63.9l-1.1-0.3M447.6 67.9l0.0-1.2M448.6 70.5l-0.8 0.9M434.0 64.5l0.6-1.0M434.0 64.5l-0.6-1.0M433.0 68.6l-1.2 0.0M433.0 68.6l-0.1 1.2-0.1 1.2M425.6 66.6l0.7 0.9M424.1 70.8l-1.0 0.6M418.1 62.9l0.3-1.1M418.1 62.9l-1.2 0.0M420.9 66.5l0.0 1.2M420.9 68.9l-0.1 1.1M420.9 66.5l1.2 0.1M415.3 73.0l0.5 1.1 0.4 1.1M415.0 75.0l-0.8 0.9-0.8 0.9M413.5 67.8l-1.2 0.1M413.5 67.8l0.2-1.1 0.3-1.2M410.6 75.5l-0.5 1.0M466.3 53.8l0.0-1.2M464.7 47.8l0.2-1.2M467.0 48.0l1.2-0.1M468.7 45.7l1.1 0.4M468.7 45.7l0.3-1.2M461.9 48.0l-0.7-0.9M461.3 43.8l-0.7-1.0M461.3 43.8l-1.1 0.4M463.5 38.9l1.2 0.0M460.8 39.5l-0.9 0.9M462.4 30.8l1.1 0.4 1.0 0.7 1.0 0.6 1.0 0.7M462.4 30.8l0.7-0.9M465.1 29.7l0.2-1.2 0.1-1.2M460.7 22.6l0.2-1.2M460.7 22.6l1.2 0.1M458.1 23.0l-1.1 0.5-1.1 0.5-1.1 0.5M458.1 23.0l-0.5-1.1M455.1 22.5l-1.0-0.7-0.9-0.7M455.9 17.1l-1.0-0.6-1.0-0.8-0.9-0.7M456.9 17.7l-1.0 0.7M462.2 16.5l1.2 0.2 1.2 0.2M460.0 9.2l1.2 0.0M455.0 11.4l-1.1 0.6M456.1 10.9l-0.8-1.0M460.4 46.4l-0.6-1.1M460.4 46.4l1.0-0.6M457.9 49.9l-0.4 1.1M453.1 45.9l-1.1-0.6M453.1 45.9l-0.8 0.9M448.8 47.4l-0.4 1.1M448.8 47.4l-1.0-0.6M455.2 44.1l-0.1-1.2 0.1-1.2 0.1-1.2M455.2 44.1l1.2-0.3M451.4 39.2l1.1-0.4M447.4 43.7l-1.2 0.0M443.7 39.0l-1.2 0.1M443.7 39.0l0.0 1.2M441.8 41.4l-0.1 1.2 0.0 1.2 0.1 1.2M441.8 41.4l-1.1 0.4M445.6 36.7l-0.4-1.1-0.3-1.2-0.3-1.1M446.7 36.4l1.2-0.2M448.4 34.0l1.2-0.1M440.6 33.0l-0.1-1.2M451.0 72.7l1.2-0.4M446.6 72.2l-0.7-0.9M445.7 73.0l-0.9 0.8M445.5 78.6l-1.0 0.6-1.1 0.6M446.5 77.8l-0.5-1.1M450.3 79.9l0.5 1.0 0.8 1.0M450.3 79.9l1.2-0.2M447.6 84.5l0.5 1.1M451.6 86.7l1.1-0.1M451.6 86.7l0.4 1.1 0.5 1.1M443.8 83.3l-1.1-0.5-1.2-0.2M444.8 83.9l-0.7 1.0M439.5 85.4l-0.8 0.8M440.3 84.5l-1.0-0.6M442.2 90.5l-0.8 1.0M439.2 90.9l-0.9-0.8M437.4 89.2l-0.9-0.7M444.7 91.5l1.2-0.1M447.1 91.2l1.2-0.1 1.2-0.1M444.7 91.5l0.0 1.2M440.3 97.4l0.9 0.8 1.0 0.6M440.9 101.8l-0.7 1.0-0.6 1.0M438.9 95.0l-0.5-1.1M435.3 100.6l1.2 0.4 1.0 0.5M435.3 100.6l-0.6 1.0M432.0 106.3l1.0 0.6M420.8 106.0l0.0-1.2M420.8 106.0l-1.2 0.0-1.2 0.0M423.5 109.4l1.2 0.4 1.1 0.4 1.2 0.2 1.1 0.3M423.5 109.4l-0.4 1.1M441.5 66.6l-0.6-1.0M439.9 61.3l-1.1-0.3M438.2 54.9l-0.9 0.8M438.2 54.9l-0.8-0.9M435.3 54.4l-0.4-1.1-0.3-1.2M438.2 49.3l-1.1-0.7-1.1-0.4M422.6 57.0l-1.1 0.5-1.1 0.4M422.6 57.0l0.0-1.2M423.2 51.3l-1.2 0.1M424.0 50.0l-0.4-1.2-0.4-1.1M427.1 52.2l0.7 0.9M428.9 46.4l1.2-0.3M431.2 45.7l1.1-0.4 1.2-0.4M498.3 57.5l-0.5 1.0M500.1 46.5l0.1-1.2M500.1 46.5l1.2-0.4M503.3 44.3l1.2 0.0M496.4 48.5l-0.7-0.9M493.5 48.8l-0.8-0.9M493.5 48.8l-0.9 0.9M494.2 40.7l-1.1 0.4-1.1 0.4M494.2 40.7l-0.3-1.1-0.3-1.2M498.5 41.7l0.6-1.1 0.7-0.9M500.9 34.4l0.9-0.8M504.5 35.2l0.8 0.9 0.9 0.8M495.5 35.1l-0.7-0.9-0.7-1.0-0.7-1.0M495.6 30.4l-0.5-1.1-0.1-1.2-0.1-1.2M499.9 30.2l0.6-1.1M499.9 30.2l1.1 0.3M501.1 25.3l0.8-0.8 0.9-0.9M496.8 24.0l-1.2 0.1M496.8 24.0l-0.3-1.1M502.9 19.9l0.8 0.9M502.9 19.9l0.6-1.1 0.6-1.0M493.1 56.6l-1.1-0.4M496.1 53.8l1.1-0.5M487.3 45.5l-0.2-1.2M487.3 45.5l1.0-0.8 0.8-0.8M480.5 41.6l-0.5-1.1M478.9 36.4l-1.1 0.6-1.1 0.4M481.0 35.3l-0.5-1.0M485.1 35.3l1.0 0.5 1.2 0.4M485.4 28.5l1.2-0.1M480.1 28.9l-0.8 0.9-0.7 1.0-0.8 0.8-0.8 0.9M481.5 23.4l-1.2 0.1-1.2 0.1-1.2 0.0M484.2 24.6l0.5 1.1M484.2 24.6l1.0-0.6 1.0-0.7M485.8 17.4l1.0 0.7M487.7 18.8l1.0 0.7M485.8 17.4l0.9-0.8 0.9-0.8M485.3 68.0l-0.2 1.2-0.1 1.2M485.3 68.0l1.2 0.1 1.2-0.1M481.4 66.4l-1.0-0.7M481.4 66.4l-0.4 1.1M478.8 73.8l-0.5 1.1M476.0 74.8l-0.6 1.1M476.0 74.8l-1.1-0.5M483.0 73.3l1.2-0.3M478.7 78.7l1.2 0.3M478.7 78.7l0.2 1.2M470.2 82.3l-0.6-1.1M470.2 82.3l-1.2-0.1M473.4 85.2l-0.3 1.2-0.4 1.1-0.4 1.1M474.4 85.7l1.1 0.5 1.1 0.5 1.0 0.7M468.3 91.1l-0.7 0.9M466.7 86.1l-0.1-1.2M463.7 88.7l-1.2-0.1M464.8 89.0l0.3 1.2M485.3 76.3l1.0 0.6M485.3 76.3l0.8-0.9 0.7-0.9 0.9-0.9M482.7 77.5l-1.1 0.3M486.0 82.9l-0.2 1.2-0.3 1.2M490.0 81.2l0.4-1.1 0.4-1.1 0.3-1.2M490.0 81.2l1.0 0.7 0.9 0.8M491.9 88.0l1.1 0.3 1.2 0.2M488.4 89.9l-1.0 0.6-1.0 0.6M489.5 89.4l0.6 1.1M493.3 93.9l1.1 0.5M505.7 59.4l1.2 0.1M505.7 59.4l0.2 1.2M502.9 56.2l-1.0-0.7M508.8 51.8l-0.7-0.9-0.8-0.9-0.9-0.9M508.8 51.8l0.4-1.1M509.9 56.1l1.2 0.2M515.8 53.2l0.0 1.2 0.2 1.2M515.8 53.2l1.1 0.4 1.2 0.4M517.8 57.2l1.2 0.5M514.8 50.5l-0.6-1.1-0.7-0.9M514.8 50.5l0.8-0.9 0.7-1.0M520.6 48.1l-1.0-0.7M522.7 52.0l-0.5 1.1-0.7 1.0M527.1 43.3l-0.5-1.1M527.6 44.4l1.0-0.6 0.9-0.8M528.1 39.9l0.9-0.7M528.1 39.9l-0.8-0.9M534.9 43.0l0.7-1.1M534.9 43.0l-0.5-1.1M536.9 47.9l-0.2 1.2M538.2 47.0l1.2 0.1M541.7 43.7l1.2 0.3 1.2 0.3M540.2 39.5l0.5-1.1M547.5 38.8l-0.7-1.0M548.1 34.3l1.2-0.4 1.1-0.4M548.0 41.6l-0.2 1.2-0.3 1.1-0.3 1.2M548.0 41.6l1.1 0.3M553.9 39.6l-0.3 1.1M553.9 39.6l1.1 0.6M554.3 32.7l-1.1 0.6M557.2 33.0l0.8-0.9 0.6-1.0M560.2 32.9l0.8 0.9 0.9 0.8 0.9 0.8M560.2 32.9l0.7-1.0 0.6-1.0M558.1 27.0l0.5-1.0M562.7 25.1l0.2-1.2M554.6 28.2l-1.1 0.4M554.6 28.2l-0.3-1.1M552.1 21.2l-0.9 0.7M558.2 16.2l0.9 0.9 0.9 0.8M552.8 15.9l-0.9-0.8-1.0-0.6-0.9-0.8M536.7 41.6l-0.6 1.0M536.7 41.6l-1.1-0.5M536.5 34.9l0.4-1.1M536.5 34.9l1.2 0.0M529.8 28.8l-0.7 0.9M527.0 29.8l-0.6 1.0M532.5 25.6l-0.3-1.2M533.5 24.9l1.0-0.6M528.0 21.5l-1.1 0.4M529.1 14.4l1.2 0.1M529.1 14.4l0.1-1.2M521.8 41.7l-0.9 0.7-0.8 1.0M521.8 41.7l-0.5-1.2M520.3 35.6l-0.6-1.1-0.8-0.9-0.8-0.9M517.4 34.9l-1.2 0.2M515.0 35.3l-1.2 0.1M517.4 34.9l-0.6-1.0M522.6 27.8l0.0-1.2M515.9 23.8l-0.8-0.9M514.2 22.1l-0.9-0.8M515.9 23.8l-0.4 1.1M521.6 22.3l0.6-1.0M521.6 22.3l1.1 0.6M518.5 16.4l1.2-0.2M516.0 17.5l-0.7 1.0M516.0 17.5l-1.0-0.6-1.0-0.7M510.7 16.4l-0.7-1.0M511.5 17.3l-0.8 0.9M516.7 13.9l-0.9-0.7M543.9 36.9l1.1 0.5M543.9 36.9l0.8-0.8M544.8 29.9l1.1-0.4M547.1 29.3l1.1-0.3M542.2 28.6l-0.5-1.1M547.2 22.2l1.0-0.7M544.7 14.4l1.2-0.1M543.1 13.4l-0.5-1.1M539.1 17.7l-1.2-0.3-1.1-0.4M539.1 17.7l-0.9 0.8M539.2 10.9l1.2 0.0M559.8 42.3l0.4-1.1M563.3 43.3l1.0 0.6 1.0 0.7M565.2 42.2l1.0 0.7M556.6 44.5l-0.1 1.2-0.4 1.1-0.2 1.2M554.2 54.2l-1.1-0.2-1.2-0.3M565.3 48.9l-0.5-1.1-0.5-1.1M583.5 52.1l1.2-0.1 1.2-0.3M579.6 44.2l1.1 0.3 1.2 0.2M582.1 42.6l0.4-1.2M574.9 39.6l1.2 0.2M576.0 31.9l0.8-0.8M571.6 31.7l-1.1 0.4M576.4 25.1l1.1 0.3M575.2 24.8l0.7-1.1M559.4 57.7l-0.5 1.1M565.0 62.1l0.9-0.8 0.9-0.8M558.2 62.9l-1.1-0.4M560.7 69.0l0.9 0.8 1.0 0.7M560.7 69.0l-1.1 0.5-1.1 0.5M576.2 52.8l0.9-0.8M576.2 52.8l1.0 0.7 0.9 0.7 0.9 0.8 0.7 1.0M573.5 53.8l-1.2-0.1M577.2 59.5l1.0 0.6M580.1 60.0l1.2-0.3M584.0 60.0l0.8-0.8M575.0 73.3l-0.8 0.9M580.9 72.7l0.8-0.9M581.5 78.3l-0.6 1.1M582.7 81.1l1.2 0.1M503.8 61.5l1.0 0.7M509.5 62.4l0.7 1.0 0.5 1.0M509.5 62.4l-0.9 0.8M516.4 60.3l-0.6-1.0M515.9 63.2l1.0 0.7M515.2 64.1l-0.9 0.8-0.9 0.8M516.2 66.2l-0.6 1.0M526.3 61.9l1.0-0.6M526.2 64.9l1.1 0.6M498.4 63.1l-0.4 1.1M502.1 60.8l0.8-0.9M505.7 65.0l0.2-1.2M503.3 66.7l0.0 1.2M512.3 76.3l-0.7 1.0M523.9 75.3l0.9 0.8M523.3 70.3l1.2-0.4M528.9 70.5l0.6-1.0M529.4 74.5l-0.4 1.1M535.5 73.9l1.2 0.4M535.5 73.9l-0.3 1.1M536.7 70.0l1.1-0.4M539.2 66.3l0.1-1.2M539.2 66.3l1.2-0.1 1.2 0.0M542.1 72.2l1.2 0.2M540.9 74.8l0.6 1.0 0.6 1.1M540.9 74.8l-0.7 0.9M547.0 76.3l0.9 0.7M548.1 73.7l0.1-1.2M558.8 79.3l0.7 1.0 0.8 0.9 0.9 0.8M559.8 76.5l1.1-0.4M559.8 76.5l-0.7-1.0M562.5 78.7l0.8 1.0M502.8 62.7l0.7-1.0M502.8 62.7l1.1 0.5M503.2 72.4l-1.2 0.2M500.8 72.7l-1.2 0.0M503.2 72.4l-0.3 1.2M511.3 75.1l0.8 0.9M508.0 82.8l-0.9-0.7M506.0 81.5l-0.9-0.7M505.3 84.1l-0.7 1.0M505.3 84.1l-1.2-0.2M512.3 81.5l0.8-0.8 0.8-1.0M512.3 81.5l0.8 0.9M514.1 83.1l0.9 0.7M516.8 81.3l0.9 0.8 0.9 0.7M513.4 88.3l0.9 0.8M508.2 88.3l-1.1-0.3M515.4 97.0l0.4 1.1M515.4 97.0l-1.0 0.5M518.1 93.5l1.2 0.1M518.1 93.5l-0.1-1.2 0.0-1.2-0.2-1.2M519.7 102.3l-0.2 1.2M523.7 96.6l0.1 1.2M525.3 91.4l1.0-0.7M523.4 92.7l-0.6-1.0M523.7 87.4l-0.8-0.9M532.2 89.4l0.1-1.2 0.2-1.2M537.2 91.3l-0.4-1.1M537.2 91.3l1.0-0.7M543.9 90.4l1.0-0.6M544.8 87.6l1.0-0.6M544.8 87.6l-0.5-1.1M549.8 93.3l-0.8 0.8-1.0 0.7M552.2 87.9l0.9-0.8M550.3 89.3l-0.7-1.0M550.6 86.3l-0.7-1.0-0.5-1.1M550.6 86.3l0.9-0.9M555.3 89.9l1.0 0.7 1.0 0.6M555.3 89.9l0.8-0.8 0.8-0.9 0.7-1.0M559.1 88.7l0.9-0.8M460.5 115.7l-0.2 1.2M459.8 111.5l1.0-0.7M460.2 108.5l0.8-0.9M460.2 108.5l-0.6-1.0M460.6 105.5l1.0-0.6M464.8 110.3l0.2-1.2M465.9 113.1l-0.2 1.2M472.0 109.8l1.1-0.4M472.0 109.8l0.3 1.2 0.4 1.1M470.2 106.0l0.7-0.9M469.6 103.1l-1.0-0.7M469.6 103.1l0.5-1.1M477.6 103.7l-1.1-0.4-1.1-0.4M477.6 103.7l0.6-1.0M478.9 108.7l0.1 1.2M479.0 106.3l1.2 0.3M485.2 104.5l-0.4 1.1M485.2 104.5l1.1 0.5M483.1 100.6l0.4-1.1M483.1 100.6l-1.0-0.6M486.2 96.2l-1.2-0.3M489.8 101.2l0.0 1.2M497.7 98.5l1.2 0.1M497.7 98.5l-0.2 1.1M496.5 94.3l-0.9-0.9M502.6 90.0l-1.1-0.6M503.6 90.6l0.6-1.0M505.3 94.8l1.1 0.3M505.3 94.8l-0.3 1.1M499.9 96.6l0.9-0.8M500.1 103.5l-0.4 1.1M501.6 102.8l1.1 0.2 1.2 0.2M501.7 105.0l0.1 1.2M506.1 101.5l-0.3 1.2M508.6 106.3l1.2 0.4M506.0 97.1l0.8-0.8M512.3 102.1l0.9 0.9M529.9 98.0l-0.3-1.1M529.9 98.0l1.1-0.6M535.8 101.3l1.2 0.2M535.7 102.5l0.0 1.2 0.0 1.2M537.4 103.9l1.2 0.1M542.1 100.5l1.2 0.1 1.2 0.1M554.5 94.0l0.9-0.7M554.5 98.9l0.1 1.2M560.5 98.2l-0.1 1.1-0.2 1.2M560.5 98.2l1.1 0.4 1.1 0.5M560.0 95.4l-0.1-1.1M560.0 95.4l0.9-0.9M561.2 96.8l1.0 0.6M525.1 106.4l1.1-0.5M525.1 106.4l0.6 1.1M520.1 108.4l-1.1 0.4M527.9 112.4l0.7 1.0M525.1 121.5l0.9-0.8M520.7 121.1l-0.9-0.8-0.9-0.8M520.7 121.1l-0.8 0.9M521.2 126.9l-0.8 0.9M521.5 136.0l-0.2 1.2M521.9 134.8l1.2 0.0 1.2-0.1M516.7 138.9l-1.1 0.3M511.7 116.7l-0.5 1.1M512.3 115.6l1.1 0.5M517.3 109.4l-0.7-1.0M525.4 110.2l0.8-0.9M525.4 110.2l-0.9-0.8M526.0 114.6l1.1 0.4M536.0 116.5l1.1 0.4M530.8 108.2l-0.8-0.8M538.0 107.7l-0.7-1.0M545.6 112.3l-0.2 1.2-0.1 1.2-0.1 1.2M547.7 114.5l1.1-0.1M544.0 107.1l0.9-0.8 0.9-0.8M550.9 106.8l1.1-0.4 1.1-0.4M550.9 106.8l-0.4-1.1-0.4-1.2M550.2 112.5l-0.6 1.0M550.2 112.5l0.9 0.9M556.3 110.5l1.1 0.5 0.9 0.8M559.2 112.6l1.0 0.7M556.3 110.5l-0.6 1.0M557.2 113.3l-0.5 1.1M565.0 108.1l1.0 0.7M566.9 109.6l0.9 0.8M514.1 125.8l-0.2 1.2-0.3 1.2M514.1 125.8l1.2 0.1M520.8 121.5l1.1-0.3M520.8 121.5l-0.5-1.1M519.7 125.7l-0.6 1.0M526.1 125.2l-0.6 1.1M531.7 121.9l1.0-0.6 1.0-0.7M532.0 125.9l-0.2 1.2M535.4 129.4l1.1 0.5M534.3 128.9l-0.6 1.0M540.9 125.8l1.0 0.6 1.0 0.6M539.7 127.9l-0.5 1.1M542.6 129.4l0.7 1.0M540.9 120.5l0.7-1.0 0.9-0.8M540.2 121.4l-0.9-0.8M548.3 120.9l-0.9-0.8M548.2 123.9l0.7 1.0M548.1 126.9l-0.8 0.9M549.7 122.3l1.1 0.5M467.9 145.1l-0.1-1.2M460.6 144.7l-0.3 1.1M444.7 131.9l-1.2 0.1-1.2 0.0M464.2 133.5l-0.7-1.0-0.7-1.0M465.0 134.4l-1.0 0.7M466.7 124.8l-1.0-0.7M457.6 151.2l-0.3-1.2M446.9 157.2l0.3-1.2M443.4 158.2l-1.1-0.5M440.6 148.1l-0.3-1.2M431.3 147.7l-1.2 0.0-1.2 0.2M447.6 164.0l0.2 1.1M467.5 180.0l1.2 0.1M464.1 182.3l-1.1 0.3M470.7 184.2l1.0 0.7M471.5 154.4l0.8 0.9M482.5 154.4l-0.3 1.2M484.0 153.9l1.0 0.6M491.4 153.0l1.2-0.4M490.3 155.6l-0.7 1.0M489.5 158.5l0.2 1.2M489.5 158.5l-1.2 0.4M503.5 148.7l-1.1-0.5M504.6 146.6l0.6-1.0M505.7 152.6l-0.3 1.2M505.0 154.9l-0.5 1.1M511.0 148.9l1.2 0.1M513.4 149.0l1.2-0.1M511.0 148.9l0.0 1.2M511.4 147.3l0.5-1.1 0.4-1.2M490.3 159.9l-1.1-0.2M490.3 159.9l-0.4 1.1-0.4 1.1-0.6 1.1M497.4 166.1l1.0-0.7M494.0 175.3l-1.2-0.2M499.7 188.5l-0.6 1.0M491.2 148.6l-0.2-1.2M492.9 143.0l-0.5-1.0M493.5 144.1l-1.1 0.5M499.4 137.5l0.6-1.0M495.1 137.7l-1.0 0.7M500.9 132.5l-0.8-0.8M500.9 132.5l0.7-1.0M501.8 136.9l1.0 0.7M508.5 131.4l-0.7-0.9M511.5 133.7l1.0 0.7M511.5 133.7l0.5-1.1M481.4 161.5l0.7 1.0 0.6 1.0M477.2 169.4l-0.9-0.7M478.7 172.4l1.0 0.6M496.5 134.0l-1.1 0.4M498.0 131.6l1.2-0.1M510.7 137.8l-0.3-1.2M516.9 140.1l-0.2-1.1M516.9 140.1l1.2 0.2M519.3 140.4l1.2 0.1M520.1 146.0l1.1-0.2 1.2-0.4 1.1-0.3M525.8 152.8l0.4-1.1M530.2 152.2l0.8 0.9M530.2 152.2l0.8-0.9M527.7 159.1l0.6 1.1M535.9 150.3l-0.9-0.7M537.0 150.9l0.1-1.2M543.2 148.6l-1.0-0.6M543.2 148.6l0.7-0.9M545.2 152.6l1.0 0.7M544.8 153.7l-0.3 1.2M557.9 140.3l-0.8-1.0M557.7 137.3l0.9-0.8 1.0-0.8M560.8 144.3l0.8 0.8M560.3 145.6l1.1 0.4M565.0 141.6l1.2 0.1M565.0 141.6l0.0 1.2M569.3 130.5l-1.2-0.4-1.1-0.3M576.5 131.4l0.7 1.0M576.5 131.4l1.1-0.5M574.5 129.5l0.5-1.1M581.1 127.3l1.2-0.1 1.2-0.1M585.7 123.3l1.2-0.3M583.4 121.5l-1.2-0.2M588.6 119.1l0.5-1.1M569.7 133.1l-1.1-0.6M571.5 135.3l1.2-0.3M575.4 130.0l0.4 1.2M571.6 127.8l-1.2 0.1M571.6 127.8l-0.4-1.2M579.1 125.1l0.3 1.2M584.5 120.1l1.1-0.5M580.9 118.0l-1.1-0.5-1.1-0.5M580.9 118.0l0.5-1.1M582.1 111.2l-0.2-1.1M582.4 112.4l-1.2 0.3-1.2 0.1-1.2 0.2M586.3 114.5l1.1-0.4 1.2-0.4M586.3 114.5l0.4 1.1M589.4 109.0l0.8 0.9M592.4 109.4l0.8 0.9M588.3 102.0l-0.5-1.1M571.6 137.8l1.0 0.7M575.1 142.9l0.9-0.7 1.0-0.7M575.1 142.9l1.0 0.7M575.8 149.2l-1.1-0.3-1.2-0.3-1.1-0.3M575.8 149.2l-0.3 1.2-0.1 1.2-0.2 1.2M583.4 151.5l1.0 0.6M583.4 151.5l-0.4 1.1M588.1 150.2l0.8 0.9 1.0 0.7 0.9 0.7M588.1 150.2l0.6-1.0M578.0 136.1l1.0 0.7 0.9 0.7 0.9 0.8M577.5 137.2l-0.6 1.0-0.6 1.0M586.0 137.0l-0.6 1.1M586.7 136.0l1.0 0.7 0.9 0.7 1.1 0.6M586.3 131.7l1.1-0.5M586.3 131.7l-0.6-1.1M591.8 129.6l-0.8-1.0M596.7 130.4l0.8-0.9 0.8-0.9M533.0 165.6l0.5 1.1M526.9 164.4l-1.1-0.5M526.9 164.4l-0.7 1.0M531.1 169.9l1.2-0.3M531.1 177.4l0.1 1.2M527.4 174.6l-0.7-1.0M523.7 175.0l-0.7-1.0M526.5 182.2l-1.0-0.7-1.0-0.7M526.5 182.2l-1.1 0.5-1.1 0.6M530.9 183.0l1.1-0.5M525.6 157.7l0.1-1.1M525.6 157.7l-1.2 0.2M527.8 161.4l1.0 0.6M521.5 163.1l0.7 1.0 0.7 1.0M521.5 163.1l-0.8 1.0M520.0 165.0l-0.7 1.1-0.7 0.9M520.5 169.1l0.4 1.1 0.4 1.1M519.5 169.7l-1.1 0.6M510.1 163.0l-1.2 0.0M512.5 162.9l0.1-1.2 0.0-1.2M510.7 160.5l0.0-1.2M513.2 167.0l-1.0 0.7M508.0 172.1l-1.1 0.5-1.1 0.5-1.1 0.4M549.2 150.8l-0.2 1.2M549.1 157.4l-1.0-0.7M551.9 157.4l0.5 1.2M554.3 164.2l0.5 1.1 0.5 1.1 0.5 1.1M554.3 164.2l1.0-0.6 1.1-0.6M551.6 170.7l-1.1-0.2M551.6 170.7l-0.3 1.1M549.3 172.5l-0.2 1.2M554.2 170.1l1.1-0.5M557.0 171.2l1.2-0.4M553.1 177.0l-0.1 1.2M553.1 177.0l-1.2-0.2M554.1 143.4l0.6 1.1 0.5 1.1M547.9 141.4l-1.2 0.2-1.2 0.2M550.6 135.9l-1.2-0.2-1.2-0.2M547.9 134.5l-0.4-1.1M547.9 134.5l-1.1 0.6-1.0 0.6M500.3 157.6l0.9 0.8M500.6 164.1l0.5 1.1 0.6 1.1M500.1 170.5l0.8 0.9 0.8 0.9M495.3 177.3l-1.1-0.3M499.9 188.5l1.2-0.2M419.0 89.5l-0.9-0.9-0.8-0.9M422.0 89.5l0.8-0.8 0.8-1.0 0.7-1.0M425.0 89.6l0.9-0.8M428.7 91.0l0.9 0.9M497.0 128.2l0.0-1.2-0.2-1.1" stroke="#cc4d56" stroke-width="0.8" stroke-opacity="0.75"/>
<path d="M498.2 62.2l-0.3 1.0M496.4 61.4l-0.7 0.7M495.4 64.5l-0.4 0.9M494.9 67.7l-0.5 0.9M491.2 58.2l-0.6-0.8M486.9 55.8l-0.9 0.4M483.6 58.4l-0.9 0.4M483.6 58.4l-0.6-0.9M484.7 57.5l0.9-0.5M484.5 63.6l-0.4 0.9M485.5 64.1l0.6 0.8 0.5 0.9M477.4 64.3l-0.9-0.5M477.4 64.3l-0.7 0.7M478.9 64.9l-0.2 1.0M478.6 57.0l-0.3-1.0M478.8 54.6l-0.6-0.8M476.4 53.0l-0.7-0.7M474.3 56.2l0.9-0.5M473.0 56.8l-0.8 0.6M465.9 62.6l-1.0-0.3M465.9 62.6l0.0 1.0M467.7 62.1l0.9-0.5M467.9 65.5l1.0 0.2M466.3 65.4l-1.0 0.1M466.3 65.4l-0.1 1.0M468.8 68.1l1.0-0.3M466.1 57.7l0.9-0.3M464.4 58.6l-0.7 0.8M464.4 58.6l-0.7-0.6M460.1 65.7l-0.9 0.5M460.1 65.7l-0.2 1.0M458.6 67.7l0.0 1.0M458.6 67.7l-0.9 0.1M461.5 65.5l1.0 0.2M463.2 67.2l0.3 1.0M461.6 68.6l1.0 0.2M460.0 68.5l-1.0-0.1M453.7 68.5l-0.1 1.0M455.4 68.7l0.1 1.0M455.4 71.7l-0.2 1.0M451.6 63.6l-0.9 0.4M452.9 62.7l-0.4-0.9M447.6 66.7l0.9-0.4M446.4 67.5l-0.5-0.9M446.4 67.5l-0.9 0.3M444.5 61.8l0.8-0.5M444.5 61.8l-0.6-0.8M443.0 62.6l-0.8 0.6M449.7 71.1l0.5 0.9M449.7 71.1l1.0 0.0M443.7 66.5l0.5-0.8M442.1 65.9l-0.9-0.4M434.6 63.5l0.0-1.0M433.4 63.5l0.3-1.0M433.4 63.5l-0.9-0.2M431.8 68.6l-0.7-0.8M432.9 69.8l-0.6 0.8M432.8 72.2l0.7 0.6M432.8 72.2l-0.6 0.8M426.3 67.5l-0.2 1.0M424.4 71.9l-0.4 1.0M423.1 71.4l-1.0-0.1M416.9 62.9l-0.8 0.7M416.9 62.9l-0.5-0.8M422.1 66.6l0.7-0.6M415.3 73.0l-0.2 0.9M415.3 73.0l1.0 0.2M413.9 72.9l-1.0 0.3M416.0 75.6l1.0-0.2M412.3 67.9l-0.9-0.4M410.6 75.5l0.2 1.0M412.2 75.3l0.9-0.3M463.6 56.6l-1.0 0.4M463.6 56.6l0.1 1.0M462.8 55.0l-0.4-0.9M466.3 52.6l0.5-0.8M467.5 53.4l0.9 0.4M467.5 53.4l0.6-0.8M469.7 52.5l1.0 0.2M464.9 46.6l-0.4-0.9M468.2 47.9l0.8-0.7M469.8 46.1l0.9-0.5M469.0 44.5l-0.6-0.8M460.8 48.4l-0.6 0.8M460.8 48.4l-0.9-0.5M461.2 47.1l0.0-1.0M460.6 42.8l-1.0 0.1M460.2 44.2l-0.5 0.9M465.4 44.2l0.8 0.6M464.9 42.7l1.0-0.1M464.7 38.9l0.7-0.6M464.7 38.9l0.8 0.6M464.0 37.8l-0.3-1.0M466.3 36.1l0.9-0.5M467.2 37.6l0.9-0.4M459.9 40.4l-0.3 0.9M458.0 41.9l-0.2 1.0M463.5 31.2l1.0 0.0M463.5 31.2l0.7 0.7M463.1 29.9l0.2-1.0M463.1 29.9l0.9-0.5M465.3 28.5l0.8-0.6M465.3 28.5l-0.5-0.9M460.9 21.4l-0.6-0.7M461.9 22.7l0.8 0.6M461.9 22.7l0.7-0.7M464.2 20.9l0.8 0.7M463.4 19.6l0.9-0.4M463.4 19.6l-0.5-0.8M457.0 23.5l-0.2 1.0M454.8 24.5l-1.0-0.2M454.8 24.5l-0.2 1.0M454.1 21.8l-1.0 0.1M455.9 17.1l-1.0 0.0M455.9 17.1l0.2-1.0M453.9 15.7l0.1-1.0M453.9 15.7l-0.9-0.2M462.2 16.5l0.6-0.8M462.2 16.5l0.7 0.7M464.6 16.9l0.9-0.4M461.5 15.1l0.9-0.5M455.0 11.4l-0.4 1.0M455.0 11.4l-0.9-0.2M455.3 9.9l-0.9-0.3M455.3 9.9l0.2-0.9M459.8 45.3l0.3-0.9M461.4 45.8l0.6-0.8M461.4 45.8l1.0 0.0M456.7 49.7l-0.7-0.8M457.5 51.0l0.3 1.0M457.5 51.0l-0.9 0.5M452.0 45.3l-0.3-0.9M452.0 45.3l-0.9 0.4M448.7 49.4l0.4 0.9M447.8 46.8l-1.0 0.2M455.1 42.9l0.6-0.8M455.3 40.5l-0.7-0.7M455.3 40.5l0.6-0.8M446.2 43.7l-0.8 0.4M447.3 44.9l0.8 0.6M447.3 44.9l-0.8 0.6M442.5 39.1l-0.8 0.7M442.5 39.1l-0.7-0.7M443.7 40.2l-0.7 0.7M441.7 42.6l-0.7 0.6M445.2 35.6l-0.7-0.7M444.6 33.3l0.4-0.9M451.8 73.6l-0.1 1.0M452.2 72.3l0.5-0.8M452.2 72.3l0.8 0.5M445.9 71.3l-1.0 0.2M445.9 71.3l0.3-0.9M445.7 73.0l-0.1 1.0M445.5 78.6l-0.9-0.3M445.5 78.6l-0.4 0.9M450.8 80.9l1.0 0.4M450.8 80.9l0.0 1.0M448.8 84.2l0.4-0.9M452.7 86.6l0.8 0.7M452.0 87.8l-0.5 0.8M441.5 82.6l-0.7-0.7M441.5 82.6l-0.7 0.7M439.5 85.4l0.3 0.9M438.8 83.1l-0.8-0.7M441.4 91.5l0.1 1.0M441.2 89.8l-1.0-0.1M438.3 90.1l-1.0 0.1M436.5 88.5l-0.3-1.0M436.5 88.5l-1.0-0.2M438.4 91.8l-1.0-0.1M438.4 91.8l0.0 1.0M445.9 91.4l0.9 0.4M448.3 91.1l0.9 0.6M444.7 92.7l0.7 0.7M444.7 92.7l-0.8 0.5M441.2 98.2l0.2 1.0M441.2 98.2l1.0 0.0M439.8 98.4l-1.0 0.2M440.2 102.8l-0.9 0.4M442.0 102.4l0.3 1.0M442.0 102.4l1.0 0.0M437.7 95.2l-0.9-0.2M434.1 94.4l-0.5-0.9M432.6 97.9l-0.7-0.7M432.6 97.9l-0.8 0.6M436.5 101.0l0.5 0.8M434.7 101.6l0.2 1.0M430.4 106.8l-0.9 0.4M432.0 106.3l0.8-0.5M419.6 106.0l-0.5-0.9M424.7 109.8l0.4 0.9M424.7 109.8l0.9-0.2M427.0 110.4l0.7-0.6M423.1 110.5l0.1 1.0M444.3 64.6l-0.6-0.8M440.4 67.0l-0.6 0.8M440.9 65.6l-0.9-0.5M440.9 65.6l0.1-1.0M443.9 60.7l0.7 0.7M443.9 60.7l0.8-0.5M441.7 53.5l-0.2-1.0M441.7 53.5l0.9-0.5M442.9 51.4l-0.3-0.9M437.3 55.7l-0.9-0.3M437.3 55.7l-0.3 0.9M435.7 57.4l0.1 1.0M437.4 54.0l-1.0-0.1M434.2 55.0l-0.2 1.0M437.1 48.6l-1.0 0.1M427.9 58.0l0.9-0.5M421.5 57.5l-1.0-0.4M419.2 58.2l-0.9-0.4M419.2 58.2l-0.9 0.5M422.6 55.8l-0.7-0.8M423.2 51.3l-0.8-0.6M423.2 51.3l-0.6 0.8M420.8 51.3l-0.8 0.6M424.0 50.0l0.2-1.0M423.2 47.7l-0.1-1.0M423.2 47.7l-1.0 0.0M428.2 51.6l0.5-0.8 0.6-0.8M427.8 53.1l-0.2 1.0M430.1 46.1l0.3-0.9M430.1 46.1l0.8 0.5M432.3 45.3l0.8-0.6M429.7 47.3l0.0 1.0M425.6 44.1l0.3-1.0M497.8 58.5l0.0 1.0M497.8 58.5l-1.0 0.1M497.3 56.9l-1.0-0.1M500.8 55.0l-0.7-0.7M502.1 56.1l0.8-0.5M500.2 45.3l-0.6-0.8M500.2 45.3l0.6-0.8M501.8 43.0l0.4-0.9M495.7 47.6l0.3-1.0M495.7 47.6l-0.9-0.3M492.7 47.9l0.4-0.9M492.7 47.9l-1.0-0.3M493.1 41.1l-0.8-0.6M493.9 39.6l-0.9-0.5M493.9 39.6l0.0-1.0M499.1 40.6l-0.5-0.9M499.1 40.6l0.8-0.5M500.6 38.8l0.9-0.5M500.6 38.8l0.0-1.0M505.3 36.1l-0.1 1.0M505.3 36.1l1.0 0.1M505.6 34.7l0.6-0.8M494.8 34.2l0.0-1.0M494.8 34.2l-0.9-0.5M493.4 32.2l-1.0 0.0M493.4 32.2l0.1-1.0M494.7 36.0l-1.0-0.1M494.7 36.0l0.0 1.0M494.7 31.3l0.0 1.0M495.1 29.3l-1.0-0.2M494.9 26.9l-0.6-0.8M494.9 26.9l0.7-0.7M492.3 28.5l0.3-0.9M500.5 29.1l0.9-0.4M501.0 30.5l0.6 0.9M502.0 26.1l1.0 0.0M501.9 24.5l1.0 0.0M501.9 24.5l0.1-1.0M495.6 24.1l-0.7 0.7M495.6 24.1l-0.8-0.6M496.5 22.9l-0.9-0.5M492.4 20.8l0.4-1.0M491.7 22.2l-0.5 0.8M503.5 18.8l0.9-0.3M492.0 56.2l-0.3-1.0M492.5 57.6l-1.0 0.3M497.2 53.3l1.0 0.2M493.4 49.6l0.3-1.0M492.3 48.8l0.5-0.9M492.3 48.8l-0.6-0.8M484.2 47.2l-0.6-0.8M484.2 47.2l-0.8 0.5M484.5 48.2l-0.9-0.3M487.1 44.3l0.2-1.0M487.1 44.3l-0.7-0.7M488.3 44.7l-0.1-1.0M488.3 44.7l1.0 0.2M486.0 41.3l0.7 0.7M480.0 40.5l0.0-1.0M480.0 35.9l-0.1 1.0M480.0 35.9l-1.0-0.1M477.8 37.0l-1.0-0.1M485.1 35.3l0.9-0.2M487.3 36.2l0.5 0.8M487.3 36.2l1.0-0.1M485.5 31.5l-0.2-0.9M486.6 28.4l0.8 0.6M477.8 31.6l-0.4 1.0M480.3 23.5l-0.8-0.5M477.9 23.6l-0.7 0.7M484.7 25.7l1.0 0.2M485.2 24.0l1.0 0.2M488.7 19.5l0.5 0.9M488.7 19.5l1.0 0.2M486.7 16.6l1.0 0.0 1.0-0.2M486.7 16.6l0.4-0.9M485.1 69.2l0.6 0.8M485.1 69.2l-0.5 0.8M486.5 68.1l0.8-0.6M481.0 67.5l0.2 1.0M477.7 73.3l-1.0 0.1M475.7 72.0l-1.0 0.4M478.3 74.9l0.3 0.9M478.3 74.9l-0.8 0.6M474.9 74.3l-0.4-0.9M484.2 73.0l0.9 0.3M484.2 73.0l0.4-1.0M479.9 79.0l0.8-0.6M481.6 81.4l0.6-0.7M481.6 81.4l0.6 0.8M475.4 77.3l-1.0 0.0M475.4 77.3l-0.4 0.9M469.6 81.2l-0.9-0.5M468.0 79.5l-1.0-0.3M469.0 82.2l-0.7 0.8M473.1 86.4l-0.6 0.8M474.4 85.7l1.0 0.1M476.6 86.7l1.0 0.0M469.7 90.6l0.5 0.9M470.9 93.2l0.9-0.4M470.9 93.2l0.5 0.9M469.3 93.8l0.5 0.9M466.6 84.9l-0.7-0.7M465.5 85.9l-0.7-0.7M463.7 88.7l-0.9 0.4M465.1 90.2l-0.7 0.7M465.1 90.2l1.0 0.2M486.3 76.9l0.9-0.4M486.1 75.4l-0.6-0.9M487.7 73.6l1.0-0.2M487.7 73.6l0.1-1.0M482.9 78.7l0.8 0.7M481.6 77.8l-0.9-0.5M485.8 84.1l0.3 1.0M490.4 80.1l0.8-0.6M490.4 80.1l-0.1-1.0M491.0 81.9l0.3 0.9M493.0 88.3l0.5 0.9M493.0 88.3l0.8-0.6M492.3 86.9l-0.2-1.0M488.4 89.9l-0.5 0.8M488.4 89.9l-0.9-0.4M486.4 91.1l-1.0-0.1M486.4 91.1l-0.2 1.0M490.1 90.5l0.9 0.3M490.1 90.5l-0.4 0.9M492.9 95.0l0.4 0.9M505.9 60.6l0.4 0.9M503.4 55.1l0.9-0.6M508.1 50.9l0.2-1.0M506.4 49.1l-1.0 0.1M509.6 57.2l0.3 1.0M511.1 56.3l1.0-0.4M511.1 56.3l0.6 0.8M515.8 54.4l0.5 0.9M515.8 54.4l-0.4 0.9M516.9 53.6l0.9-0.5M519.0 57.7l0.4 0.9M517.3 58.3l0.6 0.8M514.2 49.4l-1.0-0.1M514.2 49.4l0.1-0.9M512.7 47.5l-1.0-0.2M515.6 49.6l1.0-0.1M519.6 47.4l-0.9 0.5M519.6 47.4l0.0-1.0M520.9 55.1l-1.0 0.2M526.2 53.0l0.9-0.5M526.2 53.0l0.6 0.8M528.6 43.8l1.0 0.3M528.6 43.8l0.2-1.0M529.0 39.2l0.3-1.0M535.6 41.9l-0.2-0.9M536.9 47.9l0.6 0.8M536.6 50.3l0.6 0.8M536.6 50.3l-0.6 0.8M538.2 47.0l0.5 0.8M540.7 38.4l-0.2-1.0M539.0 39.1l-0.8 0.5M547.6 33.3l0.2-1.0M547.8 42.8l-0.8 0.6M547.2 45.1l-0.9 0.5M551.2 46.1l1.0-0.2M553.6 40.7l0.6 0.9M555.0 40.2l0.6 0.8M555.0 40.2l1.0 0.1M551.6 34.6l-0.1-1.0M551.6 34.6l-0.9 0.2M553.2 34.2l0.9-0.3M553.5 31.8l-0.2-1.0M561.0 33.8l0.1 1.0M562.8 35.4l0.5 0.8M560.9 31.9l1.0-0.1M559.2 24.9l0.9-0.4M560.4 25.4l-0.5-0.8M553.5 28.6l-0.8-0.6M554.0 22.3l-0.3 0.9M559.0 21.7l0.9-0.3M558.2 16.2l1.0 0.0M558.1 14.6l0.2-1.0M558.1 14.6l1.0-0.1M550.0 13.7l-1.0-0.2M536.9 33.8l1.0-0.1M537.7 34.9l0.7-0.8M533.2 37.4l0.1 1.0M533.2 37.4l-1.0 0.2M532.7 35.9l-0.9 0.4M529.2 30.7l0.2 1.0M526.0 29.2l-0.9 0.5M526.0 29.2l-0.5-0.9M526.4 30.8l-1.0 0.1M532.2 24.4l-0.4-0.9M535.5 22.2l1.0-0.3M532.6 19.8l0.9-0.4M526.9 21.9l-0.6 0.9M527.3 20.5l-0.9-0.4M526.0 14.2l0.4-0.9M525.7 16.2l-0.9 0.4M529.2 13.2l0.5-0.9M529.2 13.2l-0.5-0.8M527.7 11.4l1.0-0.1M524.3 39.8l-0.8-0.5M524.3 39.8l0.6-0.8M521.3 40.5l0.3-0.9M519.7 34.5l0.1-0.9M519.7 34.5l-0.9-0.4M518.1 32.7l-0.9-0.4M519.2 36.1l-0.9-0.1M515.4 35.7l-0.8 0.5M516.2 35.1l-1.0-0.2M513.8 35.4l-0.7-0.7M523.8 27.9l0.9-0.5M516.7 28.3l-1.0-0.2M516.3 29.8l-0.2 0.9M515.1 22.9l-1.0-0.1M513.3 21.3l-0.2-1.0M515.5 24.9l-0.9 0.4M522.2 21.3l0.1-1.0M522.7 22.9l0.6 0.8M518.3 15.2l-0.7-0.7M518.3 15.2l0.5-0.8M515.3 18.5l-1.0 0.1M515.0 16.9l-0.4-1.0M510.7 16.4l-0.9-0.5M510.7 16.4l-0.2-1.0M510.7 18.2l-0.2 1.0M510.7 18.2l-1.0 0.0M514.0 11.5l-0.9-0.4M538.3 37.1l-0.9-0.2M538.9 35.7l0.4-0.9M545.0 37.4l0.6 0.7M544.7 36.1l0.4-1.0M545.9 29.5l0.6-0.8M548.2 29.0l0.4-0.9M541.0 28.7l-0.7-0.7M538.7 29.2l-0.6 0.8M538.3 24.9l0.6-0.9M538.3 24.9l-0.6-0.8M541.9 20.5l-0.7 0.7M542.9 19.3l-1.0-0.3M542.9 19.3l0.4-0.9M547.9 23.2l0.9 0.4M548.2 21.5l0.3-0.9M544.7 14.4l0.7-0.7M544.7 14.4l1.0 0.3M543.1 13.4l0.2-1.0 0.3-0.9M543.1 13.4l-1.0-0.2M537.9 17.4l-1.0 0.1M537.9 17.4l-0.4-0.9M540.4 10.9l0.8 0.5M560.2 44.2l0.9 0.3M559.8 42.3l-0.1-1.0M560.8 40.1l-0.2-1.0M565.3 44.6l0.5 0.9M557.8 52.8l0.8 0.6M556.7 51.5l-0.6-0.8M552.2 54.6l-0.8 0.5M554.1 55.4l0.7 0.8M565.3 48.9l-1.0-0.1M564.3 46.7l0.4-1.0M566.5 49.0l1.0 0.0M566.5 49.0l0.3-0.9M573.9 52.7l0.5 0.9M581.4 51.2l0.7 0.7M587.0 51.4l0.6-0.8M592.3 46.4l0.2 1.0M576.1 39.8l0.7-0.7M576.8 31.1l1.0-0.2M576.8 31.1l0.2-1.0M568.4 28.5l-1.0-0.2M568.4 28.5l-0.1 1.0M576.4 25.1l0.6-0.8M558.4 59.8l0.2 1.0M558.6 56.0l-1.0 0.2M564.4 63.8l-0.2 0.9M556.1 65.9l-1.0 0.0M561.6 69.8l0.1 1.0M559.6 69.5l-0.9-0.3M559.6 69.5l-0.4 0.9M577.1 52.0l1.0-0.1M577.1 52.0l0.0-1.0M577.2 53.5l1.0-0.2M573.5 55.0l0.5 0.8M573.9 61.4l-0.9 0.4M571.5 63.1l-1.0 0.3M578.2 58.9l0.4-0.9M580.3 64.9l1.0 0.0M580.4 66.7l0.0 1.0M573.9 72.8l-0.9 0.5M571.7 74.9l-0.9 0.5M571.7 74.9l0.6 0.8M581.7 71.8l0.0-1.0M588.2 73.7l0.0-1.0M588.2 73.7l1.0 0.1M595.8 73.2l1.0 0.1M594.6 72.7l0.7-0.7M596.0 77.1l0.9-0.5M596.0 77.1l0.6 0.8M595.1 78.7l0.3 1.0M594.7 77.8l-0.8 0.6M599.1 75.5l0.7 0.8M510.2 63.4l-0.4 0.9M508.6 63.2l0.0 1.0M508.6 63.2l-1.0 0.1M511.1 59.0l0.6-0.8M515.8 59.3l-1.0-0.3M515.8 59.3l0.1-1.0M516.9 63.9l0.5 0.9M516.9 63.9l1.0-0.1M513.4 65.7l-1.0 0.0M515.6 67.2l-0.8 0.5M515.6 67.2l0.2 1.0M521.1 66.2l0.9 0.5M521.1 66.2l-0.2 0.9M519.8 66.2l0.2 1.0M519.8 66.2l-0.7 0.7M525.8 60.8l-0.9-0.5M527.3 65.5l0.0 1.0M497.3 63.3l-0.9-0.5M498.0 64.2l-1.0 0.4M498.0 64.2l0.4 0.9M502.9 59.9l1.0-0.3M505.9 63.8l0.8-0.6M503.3 67.9l0.5 0.9M502.1 66.5l-0.9 0.5M511.9 72.5l0.9-0.4M510.4 73.2l0.4 1.0M511.6 77.3l0.0 1.0M513.3 76.9l0.0 1.0M510.1 68.2l-0.8-0.5M508.7 66.3l0.3-1.0M516.9 67.3l-0.9-0.5M517.1 73.6l0.0 1.0M518.2 75.7l1.0 0.3M520.6 77.3l0.2 1.0M524.2 78.4l-0.1 1.0M524.2 78.4l1.0 0.1M529.5 69.5l0.9-0.5M529.4 74.5l-0.9 0.4M540.0 68.7l0.2-1.0M539.3 65.1l0.5-0.8M540.4 66.2l0.7-0.7M540.4 66.2l1.0 0.4M543.3 72.4l0.6-0.8M541.5 75.8l1.0 0.3M541.5 75.8l-0.1 1.0M540.2 75.7l0.1 1.0M544.6 79.0l-1.0 0.4M549.3 73.8l0.7 0.7M548.2 72.5l-0.5-0.9M548.2 72.5l0.8-0.7M555.0 72.7l0.9-0.4M556.1 73.9l0.7-0.7M554.5 78.5l0.4 0.9M559.5 80.3l0.1 0.9M555.9 81.4l-1.0 0.3M563.3 79.7l0.9 0.2M563.5 77.9l0.0-1.0M563.5 77.9l0.9-0.2M503.5 61.7l0.9-0.5M503.9 63.2l0.3 0.9M503.9 63.2l1.0-0.3M497.9 64.7l-0.8 0.6M498.8 66.1l-1.0 0.4M502.0 72.6l-0.7 0.7M502.0 72.6l-0.8-0.5M499.6 72.7l-0.7 0.6M502.9 73.6l0.5 0.9M512.2 74.2l-0.1-1.0M512.2 74.2l1.0 0.1M512.1 76.0l0.9 0.4M507.4 78.0l-0.6 0.8M507.4 78.0l0.6 0.8M507.1 82.1l-0.5-0.8M505.1 80.8l-0.5-0.9M504.1 83.9l-0.8 0.6M504.1 83.9l-0.5-0.8M513.1 80.7l1.0-0.1M513.1 82.4l1.0-0.1M515.0 83.8l1.0-0.1M517.7 82.1l0.9-0.2M517.7 82.1l0.3 0.9M514.5 87.8l0.7-0.7M514.5 87.8l0.9 0.4M514.3 89.1l0.3 0.9M515.8 98.1l0.8 0.7M515.8 98.1l-0.3 1.0M514.4 97.5l-1.0-0.1M519.3 93.6l0.9 0.3M519.3 93.6l0.9-0.4M518.0 92.3l0.6-0.9M518.0 92.3l-0.7-0.7M525.0 95.5l0.9-0.6M526.3 90.7l0.4-0.9M523.7 87.4l0.0-1.0M523.7 87.4l-0.8-0.6M532.2 89.4l0.4-0.9M532.5 87.0l0.6-0.7M533.1 89.9l0.3-0.9M531.3 95.7l0.3 1.0M531.3 95.7l-0.8 0.7M537.9 96.7l0.3 1.0M539.4 95.9l1.0-0.2M536.8 90.2l0.4-0.9M536.8 90.2l-0.9-0.5M540.0 89.0l1.0-0.1M540.0 89.0l-0.1-1.0M543.4 89.4l0.3-1.0M543.4 89.4l-0.9-0.5M545.8 87.0l1.0-0.1M545.8 87.0l0.7-0.8M544.3 86.5l-0.9-0.4M549.8 93.3l-0.2 1.0M549.8 93.3l-0.9 0.5M550.0 96.0l-0.6 0.8M551.9 95.8l1.0-0.1M551.9 95.8l0.5 0.9M549.6 88.3l-0.9-0.5M549.9 85.3l-1.0-0.1M549.9 85.3l0.1-1.0M551.5 85.4l1.0-0.2M551.5 85.4l-0.1-0.9M556.3 90.6l1.0 0.1M556.1 89.1l1.0-0.3M556.1 89.1l0.0-1.0M559.1 88.7l0.9-0.1 1.0 0.1M460.3 116.9l0.8 0.5M461.7 115.8l0.6 0.8M459.0 110.6l0.1-1.0M459.0 110.6l-1.0 0.2-0.9 0.2M460.8 110.8l0.5-0.9M459.6 107.5l-1.0-0.2M459.6 107.5l0.5-0.9M459.8 104.6l-1.0-0.1M461.6 104.9l0.9 0.3M461.6 104.9l0.2-1.0M465.0 109.1l-0.5-0.9M468.8 115.1l1.0 0.0M473.1 109.4l1.0 0.3M475.7 113.7l0.7 0.8 0.6 0.7M470.9 105.1l-0.3-0.9M470.9 105.1l1.0-0.2M476.5 103.3l-0.3-1.0M478.2 102.7l0.9-0.5M478.2 102.7l-0.2-1.0M479.0 109.9l-0.4 0.9M479.0 109.9l0.5 0.9M480.2 106.6l0.9-0.5M480.2 106.6l0.8 0.6M484.8 105.6l-0.6 0.8M484.8 105.6l0.3 1.0M486.3 105.0l0.0 1.0M483.5 99.5l-0.1-1.0M487.5 95.1l-0.6-0.7M489.8 101.2l-0.4 0.9M489.7 103.6l0.5 0.9M489.7 103.6l-0.9 0.5M491.1 100.0l0.7-0.8M491.1 100.0l0.7 0.7M498.9 98.6l1.0-0.2M497.5 99.6l0.7 0.7M495.6 93.4l-0.2-1.0M497.5 93.6l0.2-1.0M506.4 95.1l0.3 1.0M506.4 95.1l1.0-0.3M505.0 95.9l-0.7 0.8M510.9 92.6l1.0-0.1M500.1 103.5l-0.8 0.5M500.1 103.5l0.4 0.8M503.9 103.2l0.8 0.7M501.8 106.2l0.5 0.9M501.8 106.2l-0.6 0.9M507.3 102.0l0.3 0.9M508.6 106.3l0.4 0.9M508.6 106.3l1.0 0.0M506.8 96.3l0.3-1.0M514.1 99.2l0.7 0.6M512.9 98.2l-0.6-0.8M513.2 103.0l0.9 0.4M522.4 97.9l0.1-1.0M520.8 97.5l0.1-1.0M529.6 96.9l0.4-1.0M531.0 97.4l1.0 0.0M529.4 103.3l-0.6 0.8M537.0 101.5l0.9-0.5M535.7 102.5l0.6 0.8M535.7 104.9l-0.8 0.6M537.2 105.1l0.2 0.9M538.6 104.0l0.9-0.4M538.6 104.0l0.6 0.8M542.9 97.3l0.9 0.4M543.3 100.6l0.8 0.6M541.9 101.6l-0.7 0.8M547.8 101.0l-0.6 0.9-0.5 0.9M547.1 103.3l0.0 1.0M554.5 94.0l0.2-1.0M555.0 102.4l-0.6 0.8M560.4 99.3l-0.8 0.7M560.4 99.3l0.6 0.9M561.6 98.6l1.0-0.2M563.5 101.0l0.4 0.9M562.5 101.7l0.8 0.6M559.9 94.3l-0.7-0.8M559.9 94.3l0.5-0.9M560.9 94.5l-0.3-0.9M560.9 94.5l0.9-0.1M562.2 97.4l0.5 0.9M562.2 97.4l1.0-0.2M526.2 105.9l1.0-0.1M525.7 107.5l-0.1 0.9M525.7 107.5l0.9 0.3M520.1 108.4l-0.7-0.6M521.4 109.3l0.8 0.7M528.6 113.4l1.0 0.0M525.9 122.4l1.0 0.0M519.8 120.3l-0.3-1.0M520.4 127.8l0.0 1.0M520.4 127.8l-1.0-0.1M526.7 126.7l0.1-1.0M521.5 136.0l-0.7 0.7M517.6 133.4l-1.0 0.2M514.7 133.7l0.1 1.0M517.1 140.0l0.8 0.6M515.6 139.2l-0.4 0.9M513.3 107.3l1.0 0.1M509.8 109.2l-1.0 0.0M511.7 116.7l0.3 0.9 0.4 1.0M518.3 116.3l0.0 1.0M518.2 108.6l1.0-0.3M527.1 115.0l0.7 0.7M525.5 115.7l0.2 1.0M534.5 117.2l0.2 0.9M536.0 116.5l0.6 0.7M537.9 118.4l0.7-0.7M537.3 106.7l0.1-1.0M537.8 113.2l-0.7 0.7M544.9 106.3l0.2-1.0M544.9 106.3l1.0 0.1M543.2 106.2l0.1-1.0M552.0 106.4l0.9 0.5M557.4 111.0l0.9-0.4M559.2 112.6l1.0 0.1M555.7 111.5l-1.0 0.0M554.4 113.5l0.1 1.0M556.7 114.4l0.2 1.0M556.7 114.4l-0.9 0.3M555.6 106.6l0.2-0.9M565.9 107.3l1.0-0.1M565.9 107.3l0.2-1.0M566.0 108.8l1.0-0.1M567.8 110.4l0.2 0.9M567.8 110.4l0.9 0.2M513.9 127.0l-0.6 0.7M515.3 125.9l0.7 0.7M521.9 121.2l0.5-0.8M519.1 126.7l0.0 1.0M525.5 126.3l0.2 0.9M525.5 126.3l-0.9 0.2M527.8 120.7l0.5-0.9M530.8 121.1l-0.3-0.9M530.8 121.1l-1.0-0.2M532.7 121.3l1.0-0.2M532.0 125.9l-0.9 0.5M535.4 129.4l0.9-0.1M533.7 129.9l-1.0 0.1M533.7 129.9l0.1 1.0M540.3 126.8l-0.9 0.6M539.2 129.0l-0.9 0.3M539.2 129.0l0.1 1.0M540.9 129.6l-1.0 0.1M542.5 118.7l0.1-1.0M542.5 118.7l1.0 0.1M547.4 120.1l0.0-1.0M550.4 121.3l1.0-0.2M550.8 122.8l0.5 0.8M550.8 122.8l1.0 0.1M460.6 144.7l0.5 0.8M460.6 144.7l-0.7 0.7M450.0 140.5l-0.5-0.9M453.0 131.0l-0.7-0.6M452.5 128.7l-0.8-0.7M449.1 136.9l-0.8 0.6M443.5 132.0l-0.7-0.8M448.5 128.1l1.0 0.2M470.1 134.8l0.6 0.8M464.2 133.5l-0.9-0.4M464.2 133.5l0.0-1.0M462.8 131.5l-0.9-0.3M455.1 158.6l0.9-0.4M455.1 158.6l0.5 0.9M453.3 159.1l-1.0 0.1M456.3 163.0l1.0-0.2M451.1 154.5l-0.9-0.5M445.8 157.3l-0.7 0.8M443.7 155.3l-1.0-0.1M443.0 159.4l-0.6 0.7M440.3 146.9l0.4-0.9M429.4 150.2l-0.4 0.9M440.5 143.2l0.7-0.7M445.5 172.7l-0.4-0.9M455.1 175.8l-0.5 0.9M468.3 179.1l1.0-0.3M463.0 182.6l-1.0-0.1M471.0 183.1l0.8-0.6M469.5 151.7l-0.7-0.8M478.4 148.0l0.6-0.9M475.8 152.1l-1.0-0.1M482.5 154.4l-0.8 0.6M486.0 155.3l-0.1 1.0M482.7 149.4l0.1-1.0M492.6 152.6l0.8 0.5M489.6 156.6l0.6 0.8M489.7 159.7l0.5 0.8M489.7 159.7l-0.3 0.9M488.3 158.9l-0.9-0.4M496.6 155.6l-1.0 0.4M502.4 148.2l-0.4-0.9M502.4 148.2l-0.9 0.5M502.4 145.0l1.0-0.4M502.4 145.0l-0.5-0.8M500.8 146.0l-0.6 0.9M504.5 156.0l-1.0 0.4M511.0 150.1l0.6 0.8M511.0 150.1l-0.9 0.4M512.5 147.8l1.0-0.3M511.9 146.2l0.0-1.0M511.9 146.2l1.0-0.3M489.1 161.6l-0.9 0.5M488.9 163.2l0.5 0.9M488.9 163.2l-0.8 0.6M498.4 165.4l1.0-0.1M492.0 167.1l-0.6-0.8M494.0 175.3l-0.8-0.6M498.5 176.1l0.1 0.9M500.8 189.0l0.9-0.6M496.7 148.5l0.9-0.4M496.7 148.5l-0.3-1.0M490.0 148.8l-0.7 0.7M491.0 147.4l0.5-0.8M492.9 143.0l-0.9-0.4M492.9 143.0l0.2-0.9M492.4 144.6l-0.9-0.3M497.4 145.4l0.3 0.9M500.4 138.1l0.3 1.0M494.1 138.4l-0.4 0.9M494.1 138.4l-1.0-0.1M500.1 131.7l-1.0-0.1M501.6 131.5l0.1-1.0M508.6 138.2l0.7 0.7M508.6 138.2l-0.9 0.4M509.5 130.7l-0.1-1.0M509.5 130.7l0.9 0.1M507.8 130.5l-0.8-0.6M507.8 130.5l0.4-1.0M512.0 132.6l0.9-0.4M512.0 132.6l-0.4-0.9M482.1 162.5l1.0 0.2M482.5 168.9l0.2-1.0M484.6 167.8l1.0 0.0M482.1 170.6l-0.2 1.0M483.5 172.6l1.0 0.0M479.7 173.0l0.4 0.9M476.2 175.0l-1.0-0.1M498.2 130.4l-0.7-0.8M499.2 131.5l0.8 0.7M509.5 141.6l0.8 0.6M510.4 136.6l0.4-1.0M510.4 136.6l-0.7-0.7M511.9 137.5l0.9 0.4M516.7 139.0l0.4-0.9M516.7 139.0l-0.6-0.9M518.1 140.3l0.8-0.5M517.3 149.0l-0.3 0.9M518.8 149.4l0.9 0.3M521.2 145.8l0.1-1.0M526.8 153.4l1.0 0.1M526.8 153.4l0.5 0.8M531.0 153.1l1.0 0.1M531.0 151.3l1.0-0.1M531.0 151.3l-0.4-1.0M522.1 154.2l-0.9 0.5M528.3 160.2l1.0 0.2M528.3 160.2l-0.5 0.8M532.0 157.1l0.9-0.3M532.0 157.1l0.2 1.0M531.7 155.4l0.9-0.5M531.7 154.9l-1.0 0.0M531.7 154.9l-0.2-1.0M534.9 158.9l1.0 0.3M535.9 150.3l-1.0 0.1M537.1 149.7l-0.6-0.8M543.9 147.7l-0.1-1.0M544.8 153.7l0.1 1.0M549.4 143.2l-1.0-0.2M549.4 143.2l-0.2-0.9M558.6 136.5l1.0 0.1M559.8 143.6l0.4 0.9M559.8 143.6l0.9-0.5M561.6 145.1l0.2 1.0M558.4 144.2l-0.9 0.5M560.1 146.7l0.6 0.8M560.1 146.7l-0.8 0.7M561.4 146.0l0.4 1.0M566.2 141.7l0.4 0.9M569.7 129.4l0.9-0.4M568.1 130.1l-0.9 0.4M577.2 132.4l1.0 0.0M577.6 130.9l1.0 0.1M573.3 129.1l-0.8 0.5M573.3 129.1l-0.4-0.9M577.6 125.4l-0.6-0.8M579.1 124.4l0.5-0.8M582.3 127.2l0.9 0.4M582.3 127.2l0.7-0.7M582.2 130.7l-0.4 0.9M586.9 123.0l0.7 0.7M586.9 123.0l0.6-0.8M586.3 124.3l-0.2 1.0M583.3 120.3l0.7-0.7M582.2 121.3l-0.7-0.7M582.2 121.3l-0.9 0.1M589.8 119.2l0.9-0.5M589.1 118.0l-0.1-1.0M593.3 116.2l0.8 0.5M568.6 132.5l-1.0 0.2M571.8 136.5l-0.5 0.8M571.8 136.5l1.0 0.3M572.7 135.0l0.9 0.2M576.5 129.5l0.4-0.9M575.8 131.2l-0.2 1.0M575.8 131.2l0.7 0.7M570.4 127.9l-0.6-0.8M571.2 126.6l-0.9-0.3M571.2 126.6l0.5-0.9M580.2 124.7l1.0 0.4M579.4 126.3l0.8 0.5M585.0 121.2l1.0 0.1M585.6 119.6l0.2-1.0M579.8 117.5l-1.0 0.2M581.4 116.9l0.8-0.4M582.1 111.2l0.5-0.9M581.2 112.7l-0.7-0.8M578.8 113.0l-0.6 0.8M587.4 114.1l0.3-1.0M587.4 114.1l0.9 0.4M593.2 110.3l0.9 0.3M593.2 110.3l-0.2 1.0M593.3 108.7l1.0-0.2M587.4 106.3l0.7-0.7M583.6 107.2l-0.7 0.6M583.6 107.2l-0.7-0.8M587.8 100.9l-0.9-0.4M587.1 102.3l-0.8-0.4M568.3 139.6l-0.5 0.8M572.2 136.7l0.8-0.5M572.6 138.5l1.0 0.2M576.0 142.2l1.0-0.2M576.0 142.2l0.1-1.0M576.1 143.6l1.0 0.1M576.1 143.6l0.6 0.8M572.9 145.5l0.7 0.8M574.7 148.9l-0.3-1.0M574.7 148.9l-1.0 0.2M575.5 150.4l-0.7 0.7M575.2 152.8l-0.6 0.8M579.6 149.0l0.2 0.9M581.2 145.9l-0.1-1.0M585.7 147.4l0.6-0.8M584.3 146.5l-0.8-0.7M584.3 146.5l0.1-1.0M583.0 152.6l-0.8 0.6M583.0 152.6l0.3 0.9M590.8 152.5l1.0 0.0M588.7 149.2l-0.2-1.0M588.7 149.2l0.8-0.6M573.4 137.0l0.7-0.6M573.4 137.0l0.9 0.4M572.3 138.1l0.8 0.7M571.2 131.9l1.0-0.2M569.7 132.1l-1.0-0.3M575.9 132.6l-1.0 0.2M575.9 132.6l-0.2-1.0M579.0 136.8l1.0 0.0M580.8 138.3l0.0 1.0M580.8 138.3l1.0-0.2M577.5 137.2l-0.9 0.3M576.3 139.2l0.2 1.0M586.0 137.0l-0.9 0.4M586.0 137.0l0.0 1.0M587.7 136.7l0.3 0.9M589.7 138.0l0.9-0.4M589.7 138.0l0.4 0.9M585.7 130.6l-0.8-0.6M591.8 129.6l-0.1-1.0M593.5 129.7l1.0 0.0M593.5 129.7l0.2-0.9M596.7 130.4l1.0 0.0M598.3 128.6l-0.1-1.0M597.0 131.6l0.8 0.6M533.0 165.6l-0.7 0.7M533.0 165.6l1.0 0.0M525.8 163.9l-0.4-0.9M532.3 169.6l0.7-0.7M531.1 177.4l0.6 0.8M523.0 174.0l-0.1-0.9M522.7 175.6l-0.1 1.0M522.7 175.6l-1.0 0.1M525.5 181.5l-0.1-1.0M525.4 182.7l-0.9-0.3M523.2 183.7l-0.5 0.9M523.2 183.7l-0.8-0.5M532.0 182.5l0.3-1.0M525.7 156.6l-0.8-0.7M524.4 157.9l-0.8 0.7M524.4 157.9l-0.8-0.6M519.3 166.1l0.3 0.9M521.7 167.1l0.9 0.4M520.9 170.2l-0.1 1.0M520.9 170.2l1.0 0.3M519.5 169.7l-1.0 0.1M519.5 169.7l0.0 1.0M518.6 158.9l-0.8 0.6M511.3 162.9l-0.6 0.8M508.9 163.0l-0.4 0.8M512.6 161.7l0.4-0.9M512.5 159.3l-0.8-0.6M509.5 160.3l-0.8 0.7M512.0 170.9l-0.1 1.0M508.2 167.4l-0.9-0.5M506.9 172.6l-0.9-0.5M506.9 172.6l-0.5 0.9M548.0 150.7l-0.9 0.4M548.5 158.5l0.5 0.8M548.5 158.5l-0.8 0.5M548.1 156.7l-0.2-1.0M544.2 159.7l-0.9 0.4M544.2 159.7l0.1 1.0M543.3 161.9l-0.8 0.5M552.4 158.6l0.6 0.8M554.8 165.3l0.9 0.4M557.4 162.5l1.0 0.3M551.3 171.8l0.8 0.7M551.3 171.8l-0.8 0.5M554.9 171.1l1.0 0.4M554.9 171.1l0.0 1.0M555.3 169.6l0.9 0.4M553.0 178.2l-0.6 0.7M553.0 178.2l0.8 0.6M554.7 144.5l0.9 0.4M554.7 144.5l-0.4 0.9M554.8 142.4l1.0-0.2M547.9 141.4l-0.8-0.5M545.5 141.8l-0.9-0.1M549.4 135.7l-0.9-0.5M550.0 134.8l-0.8-0.5M547.5 133.4l-0.8-0.6M547.5 133.4l0.4-0.9M546.8 135.1l-0.9-0.1M555.3 136.3l1.0-0.2M555.5 137.9l-0.1 1.0M555.5 137.9l1.0 0.1M554.6 129.3l0.0-1.0M553.2 127.4l-1.0-0.3M497.9 150.5l0.9 0.5M497.9 150.5l-0.1 1.0M498.2 148.8l1.0-0.2M494.1 151.5l0.5 0.9M493.3 150.1l-0.6-0.9M497.0 159.1l0.1 1.0M501.2 158.4l0.2 0.9M501.2 158.4l1.0-0.1M501.4 157.1l1.0 0.1M505.7 157.2l0.2-1.0M505.7 157.2l1.0-0.1M501.1 165.2l-0.2 1.0M501.8 163.9l0.5-0.9M494.8 170.0l-1.0 0.2M500.9 171.4l0.4 0.9M500.9 171.4l1.0 0.0M503.3 168.9l1.0 0.3M503.3 168.9l0.4-1.0M499.3 182.7l-0.5 0.9M501.1 188.3l0.6-0.8M501.1 188.3l0.6 0.8M493.3 186.2l-1.0 0.2M493.3 186.2l0.0-1.0M418.1 90.3l-1.0 0.1M418.1 90.3l0.1 1.0M424.3 86.7l0.3-0.9M424.3 86.7l1.0-0.1M422.9 90.3l0.2 1.0M425.8 90.5l1.0 0.1M425.9 88.8l0.2-1.0M428.9 89.4l0.4-0.9M428.9 89.4l1.0 0.2M428.7 91.0l0.4 0.9M428.7 91.0l1.0-0.2M497.0 127.0l-0.8-0.6M495.8 127.9l-0.4-0.9" stroke="#d24a52" stroke-width="0.95" stroke-opacity="0.7"/>
</g>
<g fill="#86c4b4">
<rect x="63.90" y="354.99" width="3.8" height="76.31"/>
<rect x="68.66" y="291.16" width="3.8" height="140.14"/>
<rect x="73.42" y="267.58" width="3.8" height="163.72"/>
<rect x="78.18" y="245.38" width="3.8" height="185.92"/>
<rect x="82.94" y="253.70" width="3.8" height="177.60"/>
<rect x="87.70" y="245.38" width="3.8" height="185.92"/>
<rect x="92.46" y="278.68" width="3.8" height="152.62"/>
<rect x="97.22" y="295.33" width="3.8" height="135.97"/>
<rect x="101.98" y="328.62" width="3.8" height="102.67"/>
<rect x="106.74" y="314.75" width="3.8" height="116.55"/>
<rect x="111.50" y="339.73" width="3.8" height="91.58"/>
<rect x="116.26" y="345.28" width="3.8" height="86.02"/>
<rect x="121.02" y="368.86" width="3.8" height="62.44"/>
<rect x="125.78" y="373.03" width="3.8" height="58.27"/>
<rect x="130.54" y="393.84" width="3.8" height="37.46"/>
<rect x="135.30" y="404.94" width="3.8" height="26.36"/>
<rect x="140.06" y="391.06" width="3.8" height="40.24"/>
<rect x="144.82" y="400.78" width="3.8" height="30.52"/>
<rect x="149.58" y="406.32" width="3.8" height="24.97"/>
<rect x="154.34" y="411.88" width="3.8" height="19.43"/>
<rect x="159.10" y="409.10" width="3.8" height="22.20"/>
<rect x="163.86" y="402.16" width="3.8" height="29.14"/>
<rect x="168.62" y="421.59" width="3.8" height="9.71"/>
<rect x="173.38" y="418.81" width="3.8" height="12.49"/>
<rect x="178.14" y="417.43" width="3.8" height="13.88"/>
<rect x="182.90" y="421.59" width="3.8" height="9.71"/>
<rect x="187.66" y="418.81" width="3.8" height="12.49"/>
<rect x="192.42" y="424.36" width="3.8" height="6.94"/>
<rect x="197.18" y="425.75" width="3.8" height="5.55"/>
<rect x="201.94" y="428.53" width="3.8" height="2.77"/>
<rect x="206.70" y="427.14" width="3.8" height="4.16"/>
<rect x="211.46" y="425.75" width="3.8" height="5.55"/>
<rect x="216.22" y="424.36" width="3.8" height="6.94"/>
<rect x="220.98" y="429.91" width="3.8" height="1.39"/>
<rect x="225.74" y="429.91" width="3.8" height="1.39"/>
<rect x="230.50" y="427.14" width="3.8" height="4.16"/>
<rect x="235.26" y="429.91" width="3.8" height="1.39"/>
<rect x="244.78" y="429.91" width="3.8" height="1.39"/>
<rect x="249.54" y="429.91" width="3.8" height="1.39"/>
<rect x="254.30" y="429.91" width="3.8" height="1.39"/>
<rect x="268.58" y="429.91" width="3.8" height="1.39"/>
<rect x="273.34" y="429.91" width="3.8" height="1.39"/>
<rect x="278.10" y="429.91" width="3.8" height="1.39"/>
<rect x="282.86" y="429.91" width="3.8" height="1.39"/>
<rect x="287.62" y="428.53" width="3.8" height="2.77"/>
<rect x="325.70" y="429.91" width="3.8" height="1.39"/>
<rect x="349.50" y="429.91" width="3.8" height="1.39"/>
<rect x="359.02" y="429.91" width="3.8" height="1.39"/>
</g>
<rect x="63.6" y="237.0" width="299.9" height="194.3" fill="none" stroke="#8c8c8c" stroke-width="1"/>
<line x1="61.6" y1="431.30" x2="63.6" y2="431.30" stroke="#777" stroke-width="0.8"/>
<text x="60.6" y="435.50" text-anchor="end" class="tk">0</text>
<line x1="61.6" y1="403.55" x2="63.6" y2="403.55" stroke="#777" stroke-width="0.8"/>
<text x="60.6" y="407.75" text-anchor="end" class="tk">20</text>
<line x1="61.6" y1="375.80" x2="63.6" y2="375.80" stroke="#777" stroke-width="0.8"/>
<text x="60.6" y="380.00" text-anchor="end" class="tk">40</text>
<line x1="61.6" y1="348.05" x2="63.6" y2="348.05" stroke="#777" stroke-width="0.8"/>
<text x="60.6" y="352.25" text-anchor="end" class="tk">60</text>
<line x1="61.6" y1="320.30" x2="63.6" y2="320.30" stroke="#777" stroke-width="0.8"/>
<text x="60.6" y="324.50" text-anchor="end" class="tk">80</text>
<line x1="61.6" y1="292.55" x2="63.6" y2="292.55" stroke="#777" stroke-width="0.8"/>
<text x="60.6" y="296.75" text-anchor="end" class="tk">100</text>
<line x1="61.6" y1="264.80" x2="63.6" y2="264.80" stroke="#777" stroke-width="0.8"/>
<text x="60.6" y="269.00" text-anchor="end" class="tk">120</text>
<line x1="61.6" y1="237.05" x2="63.6" y2="237.05" stroke="#777" stroke-width="0.8"/>
<text x="60.6" y="241.25" text-anchor="end" class="tk">140</text>
<line x1="65.80" y1="431.3" x2="65.80" y2="433.3" stroke="#777" stroke-width="0.8"/>
<text x="65.80" y="442.0" text-anchor="middle" class="tk">1</text>
<line x1="89.60" y1="431.3" x2="89.60" y2="433.3" stroke="#777" stroke-width="0.8"/>
<text x="89.60" y="442.0" text-anchor="middle" class="tk">6</text>
<line x1="113.40" y1="431.3" x2="113.40" y2="433.3" stroke="#777" stroke-width="0.8"/>
<text x="113.40" y="442.0" text-anchor="middle" class="tk">11</text>
<line x1="137.20" y1="431.3" x2="137.20" y2="433.3" stroke="#777" stroke-width="0.8"/>
<text x="137.20" y="442.0" text-anchor="middle" class="tk">16</text>
<line x1="161.00" y1="431.3" x2="161.00" y2="433.3" stroke="#777" stroke-width="0.8"/>
<text x="161.00" y="442.0" text-anchor="middle" class="tk">21</text>
<line x1="184.80" y1="431.3" x2="184.80" y2="433.3" stroke="#777" stroke-width="0.8"/>
<text x="184.80" y="442.0" text-anchor="middle" class="tk">26</text>
<line x1="208.60" y1="431.3" x2="208.60" y2="433.3" stroke="#777" stroke-width="0.8"/>
<text x="208.60" y="442.0" text-anchor="middle" class="tk">31</text>
<line x1="232.40" y1="431.3" x2="232.40" y2="433.3" stroke="#777" stroke-width="0.8"/>
<text x="232.40" y="442.0" text-anchor="middle" class="tk">36</text>
<line x1="256.20" y1="431.3" x2="256.20" y2="433.3" stroke="#777" stroke-width="0.8"/>
<text x="256.20" y="442.0" text-anchor="middle" class="tk">41</text>
<line x1="280.00" y1="431.3" x2="280.00" y2="433.3" stroke="#777" stroke-width="0.8"/>
<text x="280.00" y="442.0" text-anchor="middle" class="tk">46</text>
<line x1="303.80" y1="431.3" x2="303.80" y2="433.3" stroke="#777" stroke-width="0.8"/>
<text x="303.80" y="442.0" text-anchor="middle" class="tk">51</text>
<line x1="327.60" y1="431.3" x2="327.60" y2="433.3" stroke="#777" stroke-width="0.8"/>
<text x="327.60" y="442.0" text-anchor="middle" class="tk">56</text>
<line x1="351.40" y1="431.3" x2="351.40" y2="433.3" stroke="#777" stroke-width="0.8"/>
<text x="351.40" y="442.0" text-anchor="middle" class="tk">61</text>
<rect x="434.00" y="236.80" width="99.90" height="91.20" fill="#2498c1"/>
<text x="483.80" y="285.25" text-anchor="middle" class="ann">98</text>
<rect x="533.60" y="236.80" width="99.90" height="91.20" fill="#5abfc0"/>
<text x="583.40" y="285.25" text-anchor="middle" class="ann">74</text>
<rect x="434.00" y="327.70" width="99.90" height="91.20" fill="#ffffd9"/>
<text x="483.80" y="376.15" text-anchor="middle" class="ann">2</text>
<rect x="533.60" y="327.70" width="99.90" height="91.20" fill="#e5f5b2"/>
<text x="583.40" y="376.15" text-anchor="middle" class="ann">26</text>
<line x1="432.0" y1="282.25" x2="434.0" y2="282.25" stroke="#333" stroke-width="0.6"/>
<line x1="432.0" y1="373.15" x2="434.0" y2="373.15" stroke="#333" stroke-width="0.6"/>
<line x1="483.80" y1="418.6" x2="483.80" y2="420.6" stroke="#333" stroke-width="0.6"/>
<line x1="583.40" y1="418.6" x2="583.40" y2="420.6" stroke="#333" stroke-width="0.6"/>
<text transform="translate(428.3,282.25) rotate(-90)" text-anchor="middle" class="dl">True</text>
<text transform="translate(428.3,373.15) rotate(-90)" text-anchor="middle" class="dl">False</text>
<text x="483.80" y="431.6" text-anchor="middle" class="dl">USPTO-50K</text>
<text x="583.40" y="431.6" text-anchor="middle" class="dl">Synthetic data</text>
<text x="533.6" y="447.5" text-anchor="middle" class="dx">Data Source</text>
<text transform="translate(413.5,327.5) rotate(-90)" text-anchor="middle" class="dx">True/False</text>
<defs><linearGradient id="cb" x1="0" y1="1" x2="0" y2="0"><stop offset="0" stop-color="#ffffd9"/><stop offset="0.2083" stop-color="#edf8b1"/><stop offset="0.4167" stop-color="#c7e9b4"/><stop offset="0.625" stop-color="#7fcdbb"/><stop offset="0.8333" stop-color="#41b6c4"/><stop offset="1" stop-color="#2498c1"/></linearGradient></defs>
<rect x="646" y="236.8" width="9.1" height="181.80" fill="url(#cb)"/>
<line x1="655.1" y1="384.51" x2="657.2" y2="384.51" stroke="#333" stroke-width="0.7"/>
<text x="659.3" y="389.51" class="cbt">20</text>
<line x1="655.1" y1="346.64" x2="657.2" y2="346.64" stroke="#333" stroke-width="0.7"/>
<text x="659.3" y="351.64" class="cbt">40</text>
<line x1="655.1" y1="308.76" x2="657.2" y2="308.76" stroke="#333" stroke-width="0.7"/>
<text x="659.3" y="313.76" class="cbt">60</text>
<line x1="655.1" y1="270.89" x2="657.2" y2="270.89" stroke="#333" stroke-width="0.7"/>
<text x="659.3" y="275.89" class="cbt">80</text>
<text transform="translate(684.3,328) rotate(-90)" text-anchor="middle" class="cbt">Count</text>
<text x="239.9" y="164.6" class="lt" textLength="50.7" lengthAdjust="spacingAndGlyphs">Products</text>
<rect x="216.1" y="174.1" width="12.9" height="12.5" fill="#e41a1c"/>
<rect x="216.1" y="189.1" width="12.9" height="12.7" fill="#377eb8"/>
<text x="237.0" y="185.8" class="li" textLength="59.4" lengthAdjust="spacingAndGlyphs">USPTO-50k</text>
<text x="236.7" y="202.0" class="li" textLength="70.4" lengthAdjust="spacingAndGlyphs">Synthetic data</text>
<text x="604.1" y="161.4" class="lt" textLength="55.7" lengthAdjust="spacingAndGlyphs">Reactants</text>
<rect x="586.8" y="171.1" width="13.1" height="12.6" fill="#e41a1c"/>
<rect x="586.8" y="186.2" width="13.1" height="12.9" fill="#377eb8"/>
<text x="607.3" y="182.8" class="li" textLength="59.7" lengthAdjust="spacingAndGlyphs">USPTO-50k</text>
<text x="607.3" y="199.1" class="li" textLength="70.1" lengthAdjust="spacingAndGlyphs">Synthetic data</text>
<text x="2.0" y="25.6" class="pl">a</text>
<text x="384.3" y="25.8" class="pl">b</text>
<text x="-0.3" y="248.0" class="pl">c</text>
<text x="384.5" y="248.0" class="pl">d</text>
<text x="181.2" y="269.9" class="av" textLength="137" lengthAdjust="spacingAndGlyphs">Average value of k = 9.2</text>
<text transform="translate(40.6,334.3) rotate(-90)" text-anchor="middle" class="ax">Frequency</text>
<text x="214" y="454.6" text-anchor="middle" class="ax">k values</text>
</svg></body></html>
